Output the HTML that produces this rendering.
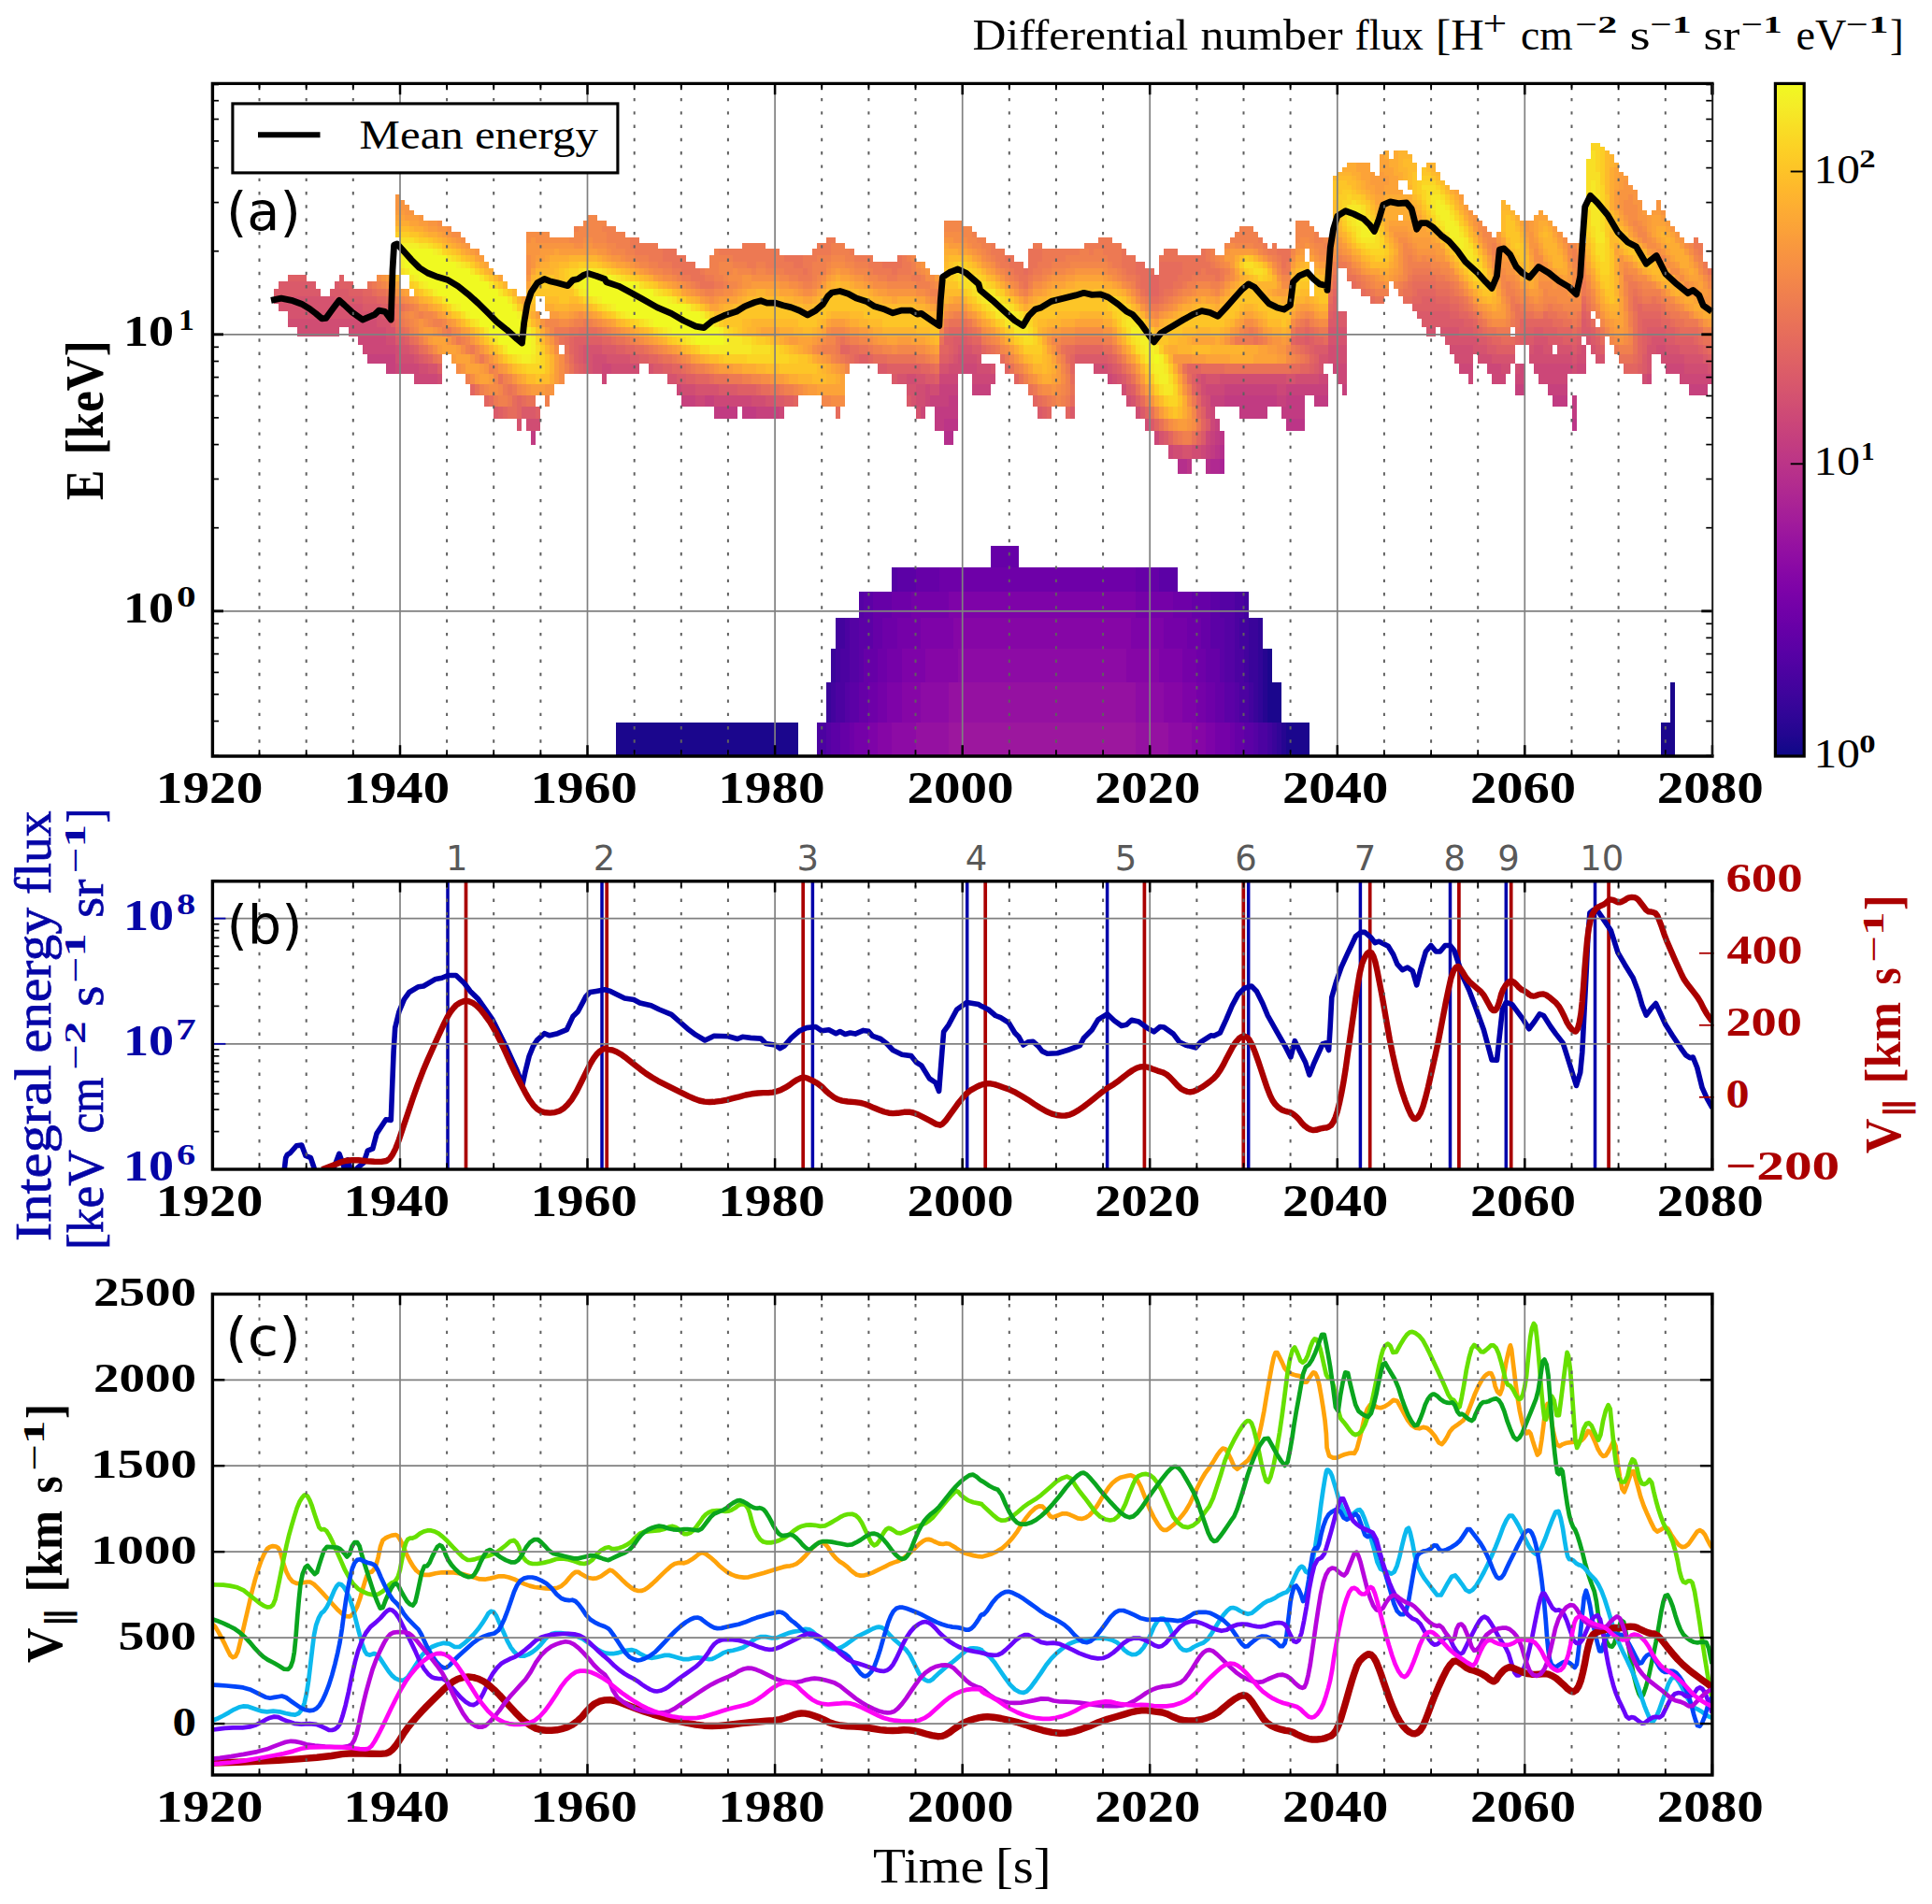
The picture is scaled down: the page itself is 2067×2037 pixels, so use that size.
<!DOCTYPE html>
<html><head><meta charset="utf-8"><title>figure</title><style>html,body{margin:0;padding:0;background:#fff}svg{display:block}</style></head><body>
<svg width="2067" height="2037" viewBox="0 0 2067 2037">
<rect width="2067" height="2037" fill="#fff"/>
<g shape-rendering="crispEdges">
<path fill="#1b068d" d="M658.6 773.2H854.2V809.0H658.6zM1375.6 773.2H1400.7V809.0H1375.6zM1776.7 773.2H1791.8V809.0H1776.7zM1355.6 730.3H1370.6V773.2H1355.6zM1786.8 730.3H1791.8V773.2H1786.8zM1355.6 693.5H1360.6V730.3H1355.6z"/>
<path fill="#260591" d="M1370.6 773.2H1375.6V809.0H1370.6zM1350.6 730.3H1355.6V773.2H1350.6zM1350.6 693.5H1355.6V730.3H1350.6z"/>
<path fill="#310597" d="M1365.6 773.2H1370.6V809.0H1365.6zM1345.5 730.3H1350.6V773.2H1345.5zM1345.5 693.5H1350.6V730.3H1345.5zM1345.5 661.3H1350.6V693.5H1345.5z"/>
<path fill="#3a049a" d="M1360.6 773.2H1365.6V809.0H1360.6zM884.2 730.3H889.3V773.2H884.2zM1340.5 730.3H1345.5V773.2H1340.5zM889.3 693.5H894.3V730.3H889.3zM1335.5 693.5H1345.5V730.3H1335.5zM1335.5 661.3H1345.5V693.5H1335.5z"/>
<path fill="#43039e" d="M1355.6 773.2H1360.6V809.0H1355.6zM889.3 730.3H894.3V773.2H889.3zM1335.5 730.3H1340.5V773.2H1335.5zM894.3 693.5H899.3V730.3H894.3zM1330.5 693.5H1335.5V730.3H1330.5zM894.3 661.3H904.3V693.5H894.3zM1325.5 661.3H1335.5V693.5H1325.5zM1330.5 632.7H1335.5V661.3H1330.5z"/>
<path fill="#4c02a1" d="M874.2 773.2H884.2V809.0H874.2zM1345.5 773.2H1355.6V809.0H1345.5zM894.3 730.3H904.3V773.2H894.3zM1325.5 730.3H1335.5V773.2H1325.5zM899.3 693.5H909.3V730.3H899.3zM1320.5 693.5H1330.5V730.3H1320.5zM904.3 661.3H909.3V693.5H904.3zM1320.5 661.3H1325.5V693.5H1320.5zM1320.5 632.7H1330.5V661.3H1320.5z"/>
<path fill="#5502a4" d="M884.2 773.2H889.3V809.0H884.2zM1340.5 773.2H1345.5V809.0H1340.5zM904.3 730.3H909.3V773.2H904.3zM1320.5 730.3H1325.5V773.2H1320.5zM909.3 693.5H919.3V730.3H909.3zM1310.4 693.5H1320.5V730.3H1310.4zM909.3 661.3H919.3V693.5H909.3zM1310.4 661.3H1320.5V693.5H1310.4zM919.3 632.7H924.4V661.3H919.3zM1305.4 632.7H1320.5V661.3H1305.4zM954.4 607.0H959.5V632.7H954.4z"/>
<path fill="#5c01a6" d="M889.3 773.2H899.3V809.0H889.3zM1330.5 773.2H1340.5V809.0H1330.5zM909.3 730.3H919.3V773.2H909.3zM1310.4 730.3H1320.5V773.2H1310.4zM919.3 693.5H924.4V730.3H919.3zM1305.4 693.5H1310.4V730.3H1305.4zM919.3 661.3H934.4V693.5H919.3zM1295.4 661.3H1310.4V693.5H1295.4zM924.4 632.7H934.4V661.3H924.4zM1295.4 632.7H1305.4V661.3H1295.4zM959.5 607.0H979.5V632.7H959.5zM1240.2 607.0H1260.3V632.7H1240.2z"/>
<path fill="#6600a7" d="M899.3 773.2H909.3V809.0H899.3zM1320.5 773.2H1330.5V809.0H1320.5zM919.3 730.3H929.4V773.2H919.3zM1300.4 730.3H1310.4V773.2H1300.4zM924.4 693.5H939.4V730.3H924.4zM1290.4 693.5H1305.4V730.3H1290.4zM934.4 661.3H944.4V693.5H934.4zM1285.4 661.3H1295.4V693.5H1285.4zM934.4 632.7H954.4V661.3H934.4zM1275.3 632.7H1295.4V661.3H1275.3zM979.5 607.0H1004.6V632.7H979.5zM1215.2 607.0H1240.2V632.7H1215.2zM1059.7 583.6H1089.8V607.0H1059.7z"/>
<path fill="#6e00a8" d="M909.3 773.2H914.3V809.0H909.3zM1315.5 773.2H1320.5V809.0H1315.5zM929.4 730.3H939.4V773.2H929.4zM1290.4 730.3H1300.4V773.2H1290.4zM939.4 693.5H949.4V730.3H939.4zM1280.4 693.5H1290.4V730.3H1280.4zM944.4 661.3H959.5V693.5H944.4zM1270.3 661.3H1285.4V693.5H1270.3zM954.4 632.7H974.5V661.3H954.4zM1255.3 632.7H1275.3V661.3H1255.3zM1004.6 607.0H1215.2V632.7H1004.6z"/>
<path fill="#7501a8" d="M914.3 773.2H929.4V809.0H914.3zM1300.4 773.2H1315.5V809.0H1300.4zM939.4 730.3H949.4V773.2H939.4zM1280.4 730.3H1290.4V773.2H1280.4zM949.4 693.5H964.5V730.3H949.4zM1265.3 693.5H1280.4V730.3H1265.3zM959.5 661.3H984.5V693.5H959.5zM1245.3 661.3H1270.3V693.5H1245.3zM974.5 632.7H1014.6V661.3H974.5zM1215.2 632.7H1255.3V661.3H1215.2z"/>
<path fill="#7e03a8" d="M929.4 773.2H939.4V809.0H929.4zM1290.4 773.2H1300.4V809.0H1290.4zM949.4 730.3H964.5V773.2H949.4zM1265.3 730.3H1280.4V773.2H1265.3zM964.5 693.5H989.5V730.3H964.5zM1240.2 693.5H1265.3V730.3H1240.2zM984.5 661.3H1019.6V693.5H984.5zM1210.2 661.3H1245.3V693.5H1210.2zM1014.6 632.7H1215.2V661.3H1014.6z"/>
<path fill="#8606a6" d="M939.4 773.2H954.4V809.0H939.4zM1275.3 773.2H1290.4V809.0H1275.3zM964.5 730.3H984.5V773.2H964.5zM1245.3 730.3H1265.3V773.2H1245.3zM989.5 693.5H1024.6V730.3H989.5zM1205.1 693.5H1240.2V730.3H1205.1zM1019.6 661.3H1210.2V693.5H1019.6z"/>
<path fill="#8d0ba5" d="M954.4 773.2H979.5V809.0H954.4zM1250.3 773.2H1275.3V809.0H1250.3zM984.5 730.3H1014.6V773.2H984.5zM1215.2 730.3H1245.3V773.2H1215.2zM1024.6 693.5H1205.1V730.3H1024.6z"/>
<path fill="#9511a1" d="M979.5 773.2H1014.6V809.0H979.5zM1215.2 773.2H1250.3V809.0H1215.2zM1014.6 730.3H1215.2V773.2H1014.6z"/>
<path fill="#9c179e" d="M1014.6 773.2H1215.2V809.0H1014.6z"/>
<path fill="#aa2395" d="M1305.4 490.8H1310.4V506.9H1305.4z"/>
<path fill="#b02991" d="M1295.4 490.8H1305.4V506.9H1295.4z"/>
<path fill="#b52f8c" d="M1009.6 461.4H1019.6V475.7H1009.6zM1305.4 475.7H1310.4V490.8H1305.4zM1260.3 490.8H1270.3V506.9H1260.3zM1290.4 490.8H1295.4V506.9H1290.4z"/>
<path fill="#bc3587" d="M1009.6 447.9H1024.6V461.4H1009.6zM1375.6 447.9H1395.7V461.4H1375.6zM1681.5 447.9H1686.5V461.4H1681.5zM1305.4 461.4H1310.4V475.7H1305.4zM1300.4 475.7H1305.4V490.8H1300.4zM1270.3 490.8H1275.3V506.9H1270.3z"/>
<path fill="#c13b82" d="M1014.6 422.8H1024.6V435.0H1014.6zM1310.4 422.8H1365.6V435.0H1310.4zM1375.6 422.8H1395.7V435.0H1375.6zM1405.7 422.8H1420.7V435.0H1405.7zM1661.4 422.8H1676.5V435.0H1661.4zM1681.5 422.8H1686.5V435.0H1681.5zM763.9 435.0H789.0V447.9H763.9zM794.0 435.0H809.0V447.9H794.0zM999.6 435.0H1024.6V447.9H999.6zM1325.5 435.0H1355.6V447.9H1325.5zM1370.6 435.0H1395.7V447.9H1370.6zM1681.5 435.0H1686.5V447.9H1681.5zM999.6 447.9H1009.6V461.4H999.6zM568.4 461.4H573.4V475.7H568.4zM1300.4 461.4H1305.4V475.7H1300.4zM1295.4 475.7H1300.4V490.8H1295.4z"/>
<path fill="#c6417d" d="M392.9 378.9H422.9V389.2H392.9zM412.9 389.2H422.9V399.9H412.9zM1004.6 411.1H1024.6V422.8H1004.6zM1039.7 411.1H1059.7V422.8H1039.7zM1310.4 411.1H1365.6V422.8H1310.4zM1375.6 411.1H1420.7V422.8H1375.6zM1435.8 411.1H1440.8V422.8H1435.8zM1621.3 411.1H1631.3V422.8H1621.3zM1656.4 411.1H1676.5V422.8H1656.4zM1806.8 411.1H1826.9V422.8H1806.8zM728.8 422.8H743.8V435.0H728.8zM753.9 422.8H763.9V435.0H753.9zM994.6 422.8H1014.6V435.0H994.6zM1295.4 422.8H1310.4V435.0H1295.4zM1365.6 422.8H1375.6V435.0H1365.6zM809.0 435.0H834.1V447.9H809.0zM1300.4 447.9H1305.4V461.4H1300.4zM1295.4 461.4H1300.4V475.7H1295.4zM1290.4 475.7H1295.4V490.8H1290.4z"/>
<path fill="#cc4778" d="M382.8 359.5H412.9V369.0H382.8zM387.9 369.0H422.9V378.9H387.9zM422.9 389.2H448.0V399.9H422.9zM643.6 389.2H653.6V399.9H643.6zM1029.7 389.2H1044.7V399.9H1029.7zM1425.8 389.2H1440.8V399.9H1425.8zM1561.1 389.2H1576.2V399.9H1561.1zM1591.2 389.2H1606.3V399.9H1591.2zM1626.3 389.2H1631.3V399.9H1626.3zM1641.4 389.2H1681.5V399.9H1641.4zM1686.5 389.2H1696.5V399.9H1686.5zM1781.8 389.2H1801.8V399.9H1781.8zM443.0 399.9H468.1V411.1H443.0zM643.6 399.9H648.6V411.1H643.6zM1004.6 399.9H1024.6V411.1H1004.6zM1039.7 399.9H1064.7V411.1H1039.7zM1185.1 399.9H1190.1V411.1H1185.1zM1410.7 399.9H1420.7V411.1H1410.7zM1430.8 399.9H1440.8V411.1H1430.8zM1571.2 399.9H1576.2V411.1H1571.2zM1596.2 399.9H1611.3V411.1H1596.2zM1621.3 399.9H1631.3V411.1H1621.3zM1646.4 399.9H1676.5V411.1H1646.4zM1761.7 399.9H1766.7V411.1H1761.7zM1796.8 399.9H1831.9V411.1H1796.8zM723.8 411.1H728.8V422.8H723.8zM989.5 411.1H994.6V422.8H989.5zM1290.4 411.1H1310.4V422.8H1290.4zM1365.6 411.1H1375.6V422.8H1365.6zM743.8 422.8H753.9V435.0H743.8zM763.9 422.8H804.0V435.0H763.9zM989.5 422.8H994.6V435.0H989.5zM834.1 435.0H839.1V447.9H834.1zM984.5 435.0H989.5V447.9H984.5zM1295.4 435.0H1300.4V447.9H1295.4zM1295.4 447.9H1300.4V461.4H1295.4zM1235.2 461.4H1240.2V475.7H1235.2zM1290.4 461.4H1295.4V475.7H1290.4zM1250.3 475.7H1255.3V490.8H1250.3zM1285.4 475.7H1290.4V490.8H1285.4z"/>
<path fill="#d04d73" d="M307.6 341.4H402.9V350.3H307.6zM317.7 350.3H362.8V359.5H317.7zM372.8 350.3H412.9V359.5H372.8zM412.9 359.5H422.9V369.0H412.9zM422.9 369.0H428.0V378.9H422.9zM1420.7 369.0H1440.8V378.9H1420.7zM1551.1 369.0H1576.2V378.9H1551.1zM1641.4 369.0H1651.4V378.9H1641.4zM1691.5 369.0H1696.5V378.9H1691.5zM1771.7 369.0H1781.8V378.9H1771.7zM422.9 378.9H443.0V389.2H422.9zM633.5 378.9H648.6V389.2H633.5zM1024.6 378.9H1044.7V389.2H1024.6zM1420.7 378.9H1440.8V389.2H1420.7zM1556.1 378.9H1576.2V389.2H1556.1zM1581.2 378.9H1596.2V389.2H1581.2zM1636.4 378.9H1681.5V389.2H1636.4zM1686.5 378.9H1696.5V389.2H1686.5zM1776.7 378.9H1801.8V389.2H1776.7zM448.0 389.2H458.0V399.9H448.0zM633.5 389.2H643.6V399.9H633.5zM653.6 389.2H683.7V399.9H653.6zM1014.6 389.2H1029.7V399.9H1014.6zM1044.7 389.2H1059.7V399.9H1044.7zM1170.0 389.2H1185.1V399.9H1170.0zM1606.3 389.2H1616.3V399.9H1606.3zM1621.3 389.2H1626.3V399.9H1621.3zM1681.5 389.2H1686.5V399.9H1681.5zM1801.8 389.2H1826.9V399.9H1801.8zM468.1 399.9H473.1V411.1H468.1zM969.5 399.9H979.5V411.1H969.5zM1190.1 399.9H1195.1V411.1H1190.1zM1285.4 399.9H1290.4V411.1H1285.4zM1305.4 399.9H1375.6V411.1H1305.4zM1385.6 399.9H1410.7V411.1H1385.6zM1756.7 399.9H1761.7V411.1H1756.7zM728.8 411.1H743.8V422.8H728.8zM979.5 411.1H989.5V422.8H979.5zM994.6 411.1H1004.6V422.8H994.6zM1200.1 411.1H1205.1V422.8H1200.1zM1285.4 411.1H1290.4V422.8H1285.4zM804.0 422.8H819.1V435.0H804.0zM979.5 422.8H989.5V435.0H979.5zM1205.1 422.8H1210.2V435.0H1205.1zM1290.4 422.8H1295.4V435.0H1290.4zM1215.2 435.0H1220.2V447.9H1215.2zM1290.4 435.0H1295.4V447.9H1290.4zM563.3 447.9H578.4V461.4H563.3zM1225.2 447.9H1230.2V461.4H1225.2zM1255.3 475.7H1265.3V490.8H1255.3zM1275.3 475.7H1285.4V490.8H1275.3z"/>
<path fill="#d5536f" d="M292.6 316.5H357.8V324.6H292.6zM297.6 324.6H387.9V332.9H297.6zM402.9 341.4H417.9V350.3H402.9zM307.6 332.9H407.9V341.4H307.6zM412.9 350.3H422.9V359.5H412.9zM1420.7 350.3H1440.8V359.5H1420.7zM1526.0 350.3H1536.1V359.5H1526.0zM1541.1 350.3H1561.1V359.5H1541.1zM1420.7 359.5H1440.8V369.0H1420.7zM1546.1 359.5H1581.2V369.0H1546.1zM1641.4 359.5H1656.4V369.0H1641.4zM1696.5 359.5H1701.5V369.0H1696.5zM1766.7 359.5H1781.8V369.0H1766.7zM428.0 369.0H438.0V378.9H428.0zM623.5 369.0H643.6V378.9H623.5zM1024.6 369.0H1039.7V378.9H1024.6zM1576.2 369.0H1591.2V378.9H1576.2zM1636.4 369.0H1641.4V378.9H1636.4zM1651.4 369.0H1661.4V378.9H1651.4zM1666.4 369.0H1681.5V378.9H1666.4zM1686.5 369.0H1691.5V378.9H1686.5zM1701.5 369.0H1706.5V378.9H1701.5zM1761.7 369.0H1771.7V378.9H1761.7zM1781.8 369.0H1796.8V378.9H1781.8zM443.0 378.9H448.0V389.2H443.0zM623.5 378.9H633.5V389.2H623.5zM648.6 378.9H673.7V389.2H648.6zM1019.6 378.9H1024.6V389.2H1019.6zM1044.7 378.9H1049.7V389.2H1044.7zM1410.7 378.9H1420.7V389.2H1410.7zM1596.2 378.9H1621.3V389.2H1596.2zM1681.5 378.9H1686.5V389.2H1681.5zM1706.5 378.9H1716.6V389.2H1706.5zM1761.7 378.9H1766.7V389.2H1761.7zM1801.8 378.9H1821.9V389.2H1801.8zM458.0 389.2H468.1V399.9H458.0zM628.5 389.2H633.5V399.9H628.5zM693.7 389.2H698.7V399.9H693.7zM1004.6 389.2H1014.6V399.9H1004.6zM1059.7 389.2H1064.7V399.9H1059.7zM1185.1 389.2H1190.1V399.9H1185.1zM1410.7 389.2H1415.7V399.9H1410.7zM1761.7 389.2H1766.7V399.9H1761.7zM1826.9 389.2H1831.9V399.9H1826.9zM713.8 399.9H723.8V411.1H713.8zM959.5 399.9H969.5V411.1H959.5zM979.5 399.9H989.5V411.1H979.5zM1195.1 399.9H1200.1V411.1H1195.1zM1280.4 399.9H1285.4V411.1H1280.4zM1290.4 399.9H1305.4V411.1H1290.4zM1375.6 399.9H1385.6V411.1H1375.6zM743.8 411.1H768.9V422.8H743.8zM969.5 411.1H979.5V422.8H969.5zM819.1 422.8H829.1V435.0H819.1zM974.5 422.8H979.5V435.0H974.5zM1210.2 422.8H1215.2V435.0H1210.2zM1285.4 422.8H1290.4V435.0H1285.4zM979.5 435.0H984.5V447.9H979.5zM553.3 447.9H558.3V461.4H553.3zM1240.2 461.4H1245.3V475.7H1240.2zM1265.3 475.7H1275.3V490.8H1265.3z"/>
<path fill="#da5a6a" d="M357.8 316.5H387.9V324.6H357.8zM292.6 308.8H342.7V316.5H292.6zM352.8 308.8H372.8V316.5H352.8zM387.9 324.6H407.9V332.9H387.9zM297.6 301.2H337.7V308.8H297.6zM357.8 301.2H362.8V308.8H357.8zM1420.7 341.4H1440.8V350.3H1420.7zM1521.0 341.4H1566.2V350.3H1521.0zM1691.5 341.4H1696.5V350.3H1691.5zM407.9 332.9H417.9V341.4H407.9zM1425.8 332.9H1440.8V341.4H1425.8zM1516.0 332.9H1551.1V341.4H1516.0zM1561.1 350.3H1576.2V359.5H1561.1zM1641.4 350.3H1651.4V359.5H1641.4zM1691.5 350.3H1701.5V359.5H1691.5zM1761.7 350.3H1781.8V359.5H1761.7zM422.9 359.5H433.0V369.0H422.9zM1019.6 359.5H1034.7V369.0H1019.6zM1395.7 359.5H1400.7V369.0H1395.7zM1581.2 359.5H1591.2V369.0H1581.2zM1631.3 359.5H1641.4V369.0H1631.3zM1656.4 359.5H1671.5V369.0H1656.4zM1686.5 359.5H1691.5V369.0H1686.5zM1701.5 359.5H1706.5V369.0H1701.5zM1761.7 359.5H1766.7V369.0H1761.7zM1781.8 359.5H1791.8V369.0H1781.8zM438.0 369.0H443.0V378.9H438.0zM618.5 369.0H623.5V378.9H618.5zM643.6 369.0H658.6V378.9H643.6zM1019.6 369.0H1024.6V378.9H1019.6zM1039.7 369.0H1049.7V378.9H1039.7zM1405.7 369.0H1420.7V378.9H1405.7zM1591.2 369.0H1601.3V378.9H1591.2zM1681.5 369.0H1686.5V378.9H1681.5zM1706.5 369.0H1711.6V378.9H1706.5zM1796.8 369.0H1816.9V378.9H1796.8zM448.0 378.9H453.0V389.2H448.0zM618.5 378.9H623.5V389.2H618.5zM673.7 378.9H683.7V389.2H673.7zM1014.6 378.9H1019.6V389.2H1014.6zM1150.0 378.9H1185.1V389.2H1150.0zM1756.7 378.9H1761.7V389.2H1756.7zM1821.9 378.9H1826.9V389.2H1821.9zM623.5 389.2H628.5V399.9H623.5zM698.7 389.2H708.8V399.9H698.7zM939.4 389.2H949.4V399.9H939.4zM1190.1 389.2H1195.1V399.9H1190.1zM1405.7 389.2H1410.7V399.9H1405.7zM1756.7 389.2H1761.7V399.9H1756.7zM723.8 399.9H733.8V411.1H723.8zM954.4 399.9H959.5V411.1H954.4zM989.5 399.9H999.6V411.1H989.5zM1200.1 399.9H1205.1V411.1H1200.1zM768.9 411.1H789.0V422.8H768.9zM1205.1 411.1H1210.2V422.8H1205.1zM1280.4 411.1H1285.4V422.8H1280.4zM829.1 422.8H839.1V435.0H829.1zM969.5 422.8H974.5V435.0H969.5zM528.2 435.0H533.3V447.9H528.2zM558.3 435.0H573.4V447.9H558.3zM1109.9 435.0H1114.9V447.9H1109.9zM1145.0 435.0H1150.0V447.9H1145.0zM1220.2 435.0H1225.2V447.9H1220.2zM1230.2 447.9H1235.2V461.4H1230.2zM1290.4 447.9H1295.4V461.4H1290.4zM1245.3 461.4H1250.3V475.7H1245.3zM1285.4 461.4H1290.4V475.7H1285.4z"/>
<path fill="#de5f65" d="M387.9 316.5H402.9V324.6H387.9zM1425.8 316.5H1430.8V324.6H1425.8zM1521.0 316.5H1536.1V324.6H1521.0zM372.8 308.8H387.9V316.5H372.8zM407.9 324.6H417.9V332.9H407.9zM1425.8 324.6H1430.8V332.9H1425.8zM1511.0 324.6H1551.1V332.9H1511.0zM362.8 301.2H377.8V308.8H362.8zM417.9 341.4H422.9V350.3H417.9zM1566.2 341.4H1576.2V350.3H1566.2zM1696.5 341.4H1701.5V350.3H1696.5zM1756.7 341.4H1776.7V350.3H1756.7zM417.9 332.9H422.9V341.4H417.9zM1420.7 332.9H1425.8V341.4H1420.7zM1551.1 332.9H1561.1V341.4H1551.1zM1691.5 332.9H1696.5V341.4H1691.5zM307.6 293.8H327.7V301.2H307.6zM362.8 293.8H367.8V301.2H362.8zM1576.2 350.3H1581.2V359.5H1576.2zM1631.3 350.3H1641.4V359.5H1631.3zM1651.4 350.3H1666.4V359.5H1651.4zM1701.5 350.3H1706.5V359.5H1701.5zM1756.7 350.3H1761.7V359.5H1756.7zM1781.8 350.3H1791.8V359.5H1781.8zM433.0 359.5H438.0V369.0H433.0zM613.5 359.5H643.6V369.0H613.5zM1009.6 359.5H1019.6V369.0H1009.6zM1034.7 359.5H1039.7V369.0H1034.7zM1385.6 359.5H1395.7V369.0H1385.6zM1400.7 359.5H1405.7V369.0H1400.7zM1591.2 359.5H1596.2V369.0H1591.2zM1626.3 359.5H1631.3V369.0H1626.3zM1671.5 359.5H1686.5V369.0H1671.5zM1706.5 359.5H1711.6V369.0H1706.5zM1756.7 359.5H1761.7V369.0H1756.7zM1791.8 359.5H1811.8V369.0H1791.8zM443.0 369.0H448.0V378.9H443.0zM613.5 369.0H618.5V378.9H613.5zM658.6 369.0H668.6V378.9H658.6zM1014.6 369.0H1019.6V378.9H1014.6zM1400.7 369.0H1405.7V378.9H1400.7zM1601.3 369.0H1621.3V378.9H1601.3zM1711.6 369.0H1716.6V378.9H1711.6zM1756.7 369.0H1761.7V378.9H1756.7zM1816.9 369.0H1821.9V378.9H1816.9zM453.0 378.9H458.0V389.2H453.0zM613.5 378.9H618.5V389.2H613.5zM683.7 378.9H693.7V389.2H683.7zM919.3 378.9H929.4V389.2H919.3zM1004.6 378.9H1014.6V389.2H1004.6zM1185.1 378.9H1190.1V389.2H1185.1zM1405.7 378.9H1410.7V389.2H1405.7zM1826.9 378.9H1831.9V389.2H1826.9zM468.1 389.2H473.1V399.9H468.1zM618.5 389.2H623.5V399.9H618.5zM708.8 389.2H718.8V399.9H708.8zM949.4 389.2H984.5V399.9H949.4zM1195.1 389.2H1200.1V399.9H1195.1zM1400.7 389.2H1405.7V399.9H1400.7zM1751.7 389.2H1756.7V399.9H1751.7zM733.8 399.9H743.8V411.1H733.8zM999.6 399.9H1004.6V411.1H999.6zM1275.3 399.9H1280.4V411.1H1275.3zM789.0 411.1H809.0V422.8H789.0zM1210.2 411.1H1215.2V422.8H1210.2zM839.1 422.8H849.1V435.0H839.1zM1215.2 422.8H1220.2V435.0H1215.2zM533.3 435.0H538.3V447.9H533.3zM573.4 435.0H578.4V447.9H573.4zM1114.9 435.0H1119.9V447.9H1114.9zM1285.4 435.0H1290.4V447.9H1285.4z"/>
<path fill="#e26561" d="M402.9 316.5H412.9V324.6H402.9zM1511.0 316.5H1521.0V324.6H1511.0zM1536.1 316.5H1551.1V324.6H1536.1zM387.9 308.8H397.9V316.5H387.9zM1230.2 308.8H1240.2V316.5H1230.2zM1425.8 308.8H1430.8V316.5H1425.8zM1516.0 308.8H1536.1V316.5H1516.0zM417.9 324.6H422.9V332.9H417.9zM1420.7 324.6H1425.8V332.9H1420.7zM1551.1 324.6H1561.1V332.9H1551.1zM1691.5 324.6H1696.5V332.9H1691.5zM1751.7 324.6H1756.7V332.9H1751.7zM1230.2 301.2H1240.2V308.8H1230.2zM1576.2 341.4H1581.2V350.3H1576.2zM1626.3 341.4H1661.4V350.3H1626.3zM1751.7 341.4H1756.7V350.3H1751.7zM1776.7 341.4H1786.8V350.3H1776.7zM1561.1 332.9H1571.2V341.4H1561.1zM1696.5 332.9H1701.5V341.4H1696.5zM1751.7 332.9H1776.7V341.4H1751.7zM1230.2 293.8H1240.2V301.2H1230.2zM422.9 350.3H428.0V359.5H422.9zM1014.6 350.3H1034.7V359.5H1014.6zM1395.7 350.3H1400.7V359.5H1395.7zM1581.2 350.3H1586.2V359.5H1581.2zM1626.3 350.3H1631.3V359.5H1626.3zM1666.4 350.3H1681.5V359.5H1666.4zM1686.5 350.3H1691.5V359.5H1686.5zM1751.7 350.3H1756.7V359.5H1751.7zM1791.8 350.3H1796.8V359.5H1791.8zM608.5 359.5H613.5V369.0H608.5zM643.6 359.5H653.6V369.0H643.6zM1039.7 359.5H1049.7V369.0H1039.7zM1380.6 359.5H1385.6V369.0H1380.6zM1405.7 359.5H1415.7V369.0H1405.7zM1596.2 359.5H1606.3V369.0H1596.2zM1621.3 359.5H1626.3V369.0H1621.3zM1751.7 359.5H1756.7V369.0H1751.7zM1811.8 359.5H1816.9V369.0H1811.8zM608.5 369.0H613.5V378.9H608.5zM668.6 369.0H678.7V378.9H668.6zM899.3 369.0H909.3V378.9H899.3zM1004.6 369.0H1014.6V378.9H1004.6zM1049.7 369.0H1054.7V378.9H1049.7zM1150.0 369.0H1180.1V378.9H1150.0zM1395.7 369.0H1400.7V378.9H1395.7zM1751.7 369.0H1756.7V378.9H1751.7zM1821.9 369.0H1826.9V378.9H1821.9zM458.0 378.9H463.1V389.2H458.0zM693.7 378.9H703.7V389.2H693.7zM914.3 378.9H919.3V389.2H914.3zM929.4 378.9H934.4V389.2H929.4zM1145.0 378.9H1150.0V389.2H1145.0zM1190.1 378.9H1195.1V389.2H1190.1zM1400.7 378.9H1405.7V389.2H1400.7zM1751.7 378.9H1756.7V389.2H1751.7zM613.5 389.2H618.5V399.9H613.5zM718.8 389.2H728.8V399.9H718.8zM984.5 389.2H994.6V399.9H984.5zM1074.8 389.2H1079.8V399.9H1074.8zM1145.0 389.2H1150.0V399.9H1145.0zM1270.3 389.2H1285.4V399.9H1270.3zM1390.7 389.2H1400.7V399.9H1390.7zM1736.6 389.2H1751.7V399.9H1736.6zM743.8 399.9H758.9V411.1H743.8zM1084.8 399.9H1089.8V411.1H1084.8zM1205.1 399.9H1210.2V411.1H1205.1zM503.2 411.1H508.2V422.8H503.2zM809.0 411.1H814.0V422.8H809.0zM1275.3 411.1H1280.4V422.8H1275.3zM518.2 422.8H523.2V435.0H518.2zM553.3 422.8H558.3V435.0H553.3zM849.1 422.8H854.2V435.0H849.1zM1104.9 422.8H1109.9V435.0H1104.9zM1280.4 422.8H1285.4V435.0H1280.4zM538.3 435.0H543.3V447.9H538.3zM553.3 435.0H558.3V447.9H553.3zM1119.9 435.0H1124.9V447.9H1119.9zM1140.0 435.0H1145.0V447.9H1140.0zM1225.2 435.0H1230.2V447.9H1225.2zM1235.2 447.9H1240.2V461.4H1235.2zM1285.4 447.9H1290.4V461.4H1285.4zM1250.3 461.4H1255.3V475.7H1250.3zM1280.4 461.4H1285.4V475.7H1280.4z"/>
<path fill="#e66c5c" d="M412.9 316.5H417.9V324.6H412.9zM1230.2 316.5H1240.2V324.6H1230.2zM1420.7 316.5H1425.8V324.6H1420.7zM1465.9 316.5H1470.9V324.6H1465.9zM1501.0 316.5H1511.0V324.6H1501.0zM1551.1 316.5H1561.1V324.6H1551.1zM1691.5 316.5H1696.5V324.6H1691.5zM1746.7 316.5H1751.7V324.6H1746.7zM397.9 308.8H402.9V316.5H397.9zM1225.2 308.8H1230.2V316.5H1225.2zM1240.2 308.8H1245.3V316.5H1240.2zM1455.8 308.8H1460.9V316.5H1455.8zM1511.0 308.8H1516.0V316.5H1511.0zM1536.1 308.8H1551.1V316.5H1536.1zM1561.1 324.6H1566.2V332.9H1561.1zM1746.7 324.6H1751.7V332.9H1746.7zM1756.7 324.6H1776.7V332.9H1756.7zM1220.2 301.2H1230.2V308.8H1220.2zM1240.2 301.2H1255.3V308.8H1240.2zM1425.8 301.2H1430.8V308.8H1425.8zM1445.8 301.2H1450.8V308.8H1445.8zM1511.0 301.2H1536.1V308.8H1511.0zM422.9 341.4H428.0V350.3H422.9zM1661.4 341.4H1671.5V350.3H1661.4zM1701.5 341.4H1706.5V350.3H1701.5zM1786.8 341.4H1791.8V350.3H1786.8zM1571.2 332.9H1576.2V341.4H1571.2zM1651.4 332.9H1656.4V341.4H1651.4zM1776.7 332.9H1781.8V341.4H1776.7zM1220.2 293.8H1230.2V301.2H1220.2zM1240.2 293.8H1260.3V301.2H1240.2zM428.0 350.3H433.0V359.5H428.0zM618.5 350.3H638.6V359.5H618.5zM1009.6 350.3H1014.6V359.5H1009.6zM1034.7 350.3H1039.7V359.5H1034.7zM1385.6 350.3H1395.7V359.5H1385.6zM1400.7 350.3H1405.7V359.5H1400.7zM1586.2 350.3H1591.2V359.5H1586.2zM1621.3 350.3H1626.3V359.5H1621.3zM1681.5 350.3H1686.5V359.5H1681.5zM1706.5 350.3H1711.6V359.5H1706.5zM1796.8 350.3H1816.9V359.5H1796.8zM438.0 359.5H443.0V369.0H438.0zM603.5 359.5H608.5V369.0H603.5zM653.6 359.5H658.6V369.0H653.6zM1415.7 359.5H1420.7V369.0H1415.7zM1606.3 359.5H1621.3V369.0H1606.3zM1711.6 359.5H1716.6V369.0H1711.6zM1816.9 359.5H1821.9V369.0H1816.9zM448.0 369.0H453.0V378.9H448.0zM678.7 369.0H688.7V378.9H678.7zM909.3 369.0H919.3V378.9H909.3zM1054.7 369.0H1059.7V378.9H1054.7zM1140.0 369.0H1150.0V378.9H1140.0zM1180.1 369.0H1190.1V378.9H1180.1zM1390.7 369.0H1395.7V378.9H1390.7zM1826.9 369.0H1831.9V378.9H1826.9zM608.5 378.9H613.5V389.2H608.5zM703.7 378.9H708.8V389.2H703.7zM909.3 378.9H914.3V389.2H909.3zM934.4 378.9H949.4V389.2H934.4zM1069.8 378.9H1074.8V389.2H1069.8zM1140.0 378.9H1145.0V389.2H1140.0zM1746.7 378.9H1751.7V389.2H1746.7zM728.8 389.2H733.8V399.9H728.8zM994.6 389.2H999.6V399.9H994.6zM1200.1 389.2H1205.1V399.9H1200.1zM1285.4 389.2H1310.4V399.9H1285.4zM1380.6 389.2H1390.7V399.9H1380.6zM1094.8 286.7H1099.8V293.8H1094.8zM1215.2 286.7H1235.2V293.8H1215.2zM1240.2 286.7H1265.3V293.8H1240.2zM1215.2 279.8H1225.2V286.7H1215.2zM1240.2 279.8H1265.3V286.7H1240.2zM758.9 399.9H763.9V411.1H758.9zM1145.0 399.9H1150.0V411.1H1145.0zM1270.3 399.9H1275.3V411.1H1270.3zM814.0 411.1H824.1V422.8H814.0zM523.2 422.8H528.2V435.0H523.2zM548.3 422.8H553.3V435.0H548.3zM558.3 422.8H563.3V435.0H558.3zM1109.9 422.8H1114.9V435.0H1109.9zM1145.0 422.8H1150.0V435.0H1145.0zM1220.2 422.8H1225.2V435.0H1220.2zM543.3 435.0H553.3V447.9H543.3zM894.3 435.0H899.3V447.9H894.3zM1280.4 435.0H1285.4V447.9H1280.4z"/>
<path fill="#e97257" d="M417.9 316.5H422.9V324.6H417.9zM1240.2 316.5H1245.3V324.6H1240.2zM1470.9 316.5H1480.9V324.6H1470.9zM1561.1 316.5H1566.2V324.6H1561.1zM1751.7 316.5H1756.7V324.6H1751.7zM1766.7 316.5H1771.7V324.6H1766.7zM402.9 308.8H412.9V316.5H402.9zM1220.2 308.8H1225.2V316.5H1220.2zM1245.3 308.8H1255.3V316.5H1245.3zM1420.7 308.8H1425.8V316.5H1420.7zM1460.9 308.8H1465.9V316.5H1460.9zM1501.0 308.8H1511.0V316.5H1501.0zM1551.1 308.8H1556.1V316.5H1551.1zM1746.7 308.8H1751.7V316.5H1746.7zM422.9 324.6H433.0V332.9H422.9zM1566.2 324.6H1571.2V332.9H1566.2zM1621.3 324.6H1626.3V332.9H1621.3zM1696.5 324.6H1701.5V332.9H1696.5zM1776.7 324.6H1781.8V332.9H1776.7zM392.9 301.2H397.9V308.8H392.9zM748.9 301.2H763.9V308.8H748.9zM1094.8 301.2H1099.8V308.8H1094.8zM1215.2 301.2H1220.2V308.8H1215.2zM1255.3 301.2H1265.3V308.8H1255.3zM1450.8 301.2H1455.8V308.8H1450.8zM1506.0 301.2H1511.0V308.8H1506.0zM1536.1 301.2H1551.1V308.8H1536.1zM1014.6 341.4H1034.7V350.3H1014.6zM1395.7 341.4H1400.7V350.3H1395.7zM1581.2 341.4H1586.2V350.3H1581.2zM1621.3 341.4H1626.3V350.3H1621.3zM1671.5 341.4H1681.5V350.3H1671.5zM1686.5 341.4H1691.5V350.3H1686.5zM1746.7 341.4H1751.7V350.3H1746.7zM1791.8 341.4H1801.8V350.3H1791.8zM422.9 332.9H428.0V341.4H422.9zM1576.2 332.9H1581.2V341.4H1576.2zM1621.3 332.9H1641.4V341.4H1621.3zM1656.4 332.9H1666.4V341.4H1656.4zM1746.7 332.9H1751.7V341.4H1746.7zM1781.8 332.9H1786.8V341.4H1781.8zM738.8 293.8H753.9V301.2H738.8zM1089.8 293.8H1099.8V301.2H1089.8zM1215.2 293.8H1220.2V301.2H1215.2zM1260.3 293.8H1275.3V301.2H1260.3zM1300.4 293.8H1305.4V301.2H1300.4zM1425.8 293.8H1430.8V301.2H1425.8zM1440.8 293.8H1450.8V301.2H1440.8zM1511.0 293.8H1536.1V301.2H1511.0zM433.0 350.3H438.0V359.5H433.0zM608.5 350.3H618.5V359.5H608.5zM638.6 350.3H643.6V359.5H638.6zM1039.7 350.3H1044.7V359.5H1039.7zM1405.7 350.3H1410.7V359.5H1405.7zM1591.2 350.3H1601.3V359.5H1591.2zM1746.7 350.3H1751.7V359.5H1746.7zM1816.9 350.3H1821.9V359.5H1816.9zM443.0 359.5H448.0V369.0H443.0zM598.4 359.5H603.5V369.0H598.4zM658.6 359.5H668.6V369.0H658.6zM899.3 359.5H904.3V369.0H899.3zM1004.6 359.5H1009.6V369.0H1004.6zM1340.5 359.5H1345.5V369.0H1340.5zM1746.7 359.5H1751.7V369.0H1746.7zM1821.9 359.5H1831.9V369.0H1821.9zM453.0 369.0H458.0V378.9H453.0zM603.5 369.0H608.5V378.9H603.5zM688.7 369.0H693.7V378.9H688.7zM919.3 369.0H929.4V378.9H919.3zM1059.7 369.0H1064.7V378.9H1059.7zM1134.9 369.0H1140.0V378.9H1134.9zM1385.6 369.0H1390.7V378.9H1385.6zM1746.7 369.0H1751.7V378.9H1746.7zM463.1 378.9H468.1V389.2H463.1zM708.8 378.9H718.8V389.2H708.8zM904.3 378.9H909.3V389.2H904.3zM949.4 378.9H979.5V389.2H949.4zM1195.1 378.9H1200.1V389.2H1195.1zM1395.7 378.9H1400.7V389.2H1395.7zM1731.6 378.9H1746.7V389.2H1731.6zM608.5 389.2H613.5V399.9H608.5zM733.8 389.2H738.8V399.9H733.8zM999.6 389.2H1004.6V399.9H999.6zM1079.8 389.2H1084.8V399.9H1079.8zM1265.3 389.2H1270.3V399.9H1265.3zM1310.4 389.2H1380.6V399.9H1310.4zM728.8 286.7H748.9V293.8H728.8zM859.2 286.7H864.2V293.8H859.2zM954.4 286.7H959.5V293.8H954.4zM1084.8 286.7H1094.8V293.8H1084.8zM1099.8 286.7H1104.9V293.8H1099.8zM1205.1 286.7H1215.2V293.8H1205.1zM1265.3 286.7H1285.4V293.8H1265.3zM1290.4 286.7H1305.4V293.8H1290.4zM1826.9 286.7H1831.9V293.8H1826.9zM718.8 279.8H743.8V286.7H718.8zM849.1 279.8H859.2V286.7H849.1zM944.4 279.8H964.5V286.7H944.4zM1079.8 279.8H1094.8V286.7H1079.8zM1099.8 279.8H1109.9V286.7H1099.8zM1200.1 279.8H1215.2V286.7H1200.1zM1265.3 279.8H1295.4V286.7H1265.3zM1370.6 279.8H1375.6V286.7H1370.6zM708.8 273.0H733.8V279.8H708.8zM839.1 273.0H859.2V279.8H839.1zM959.5 273.0H964.5V279.8H959.5zM1074.8 273.0H1084.8V279.8H1074.8zM1099.8 273.0H1114.9V279.8H1099.8zM1200.1 273.0H1215.2V279.8H1200.1zM1240.2 273.0H1290.4V279.8H1240.2zM1370.6 273.0H1380.6V279.8H1370.6zM708.8 266.4H723.8V273.0H708.8zM1099.8 266.4H1114.9V273.0H1099.8zM1200.1 266.4H1205.1V273.0H1200.1zM1245.3 266.4H1260.3V273.0H1245.3zM1285.4 266.4H1290.4V273.0H1285.4zM1365.6 266.4H1380.6V273.0H1365.6zM533.3 399.9H538.3V411.1H533.3zM763.9 399.9H778.9V411.1H763.9zM1089.8 399.9H1094.8V411.1H1089.8zM1210.2 399.9H1215.2V411.1H1210.2zM508.2 411.1H513.2V422.8H508.2zM543.3 411.1H548.3V422.8H543.3zM824.1 411.1H834.1V422.8H824.1zM1099.8 411.1H1104.9V422.8H1099.8zM1145.0 411.1H1150.0V422.8H1145.0zM1215.2 411.1H1220.2V422.8H1215.2zM563.3 422.8H573.4V435.0H563.3zM1114.9 422.8H1119.9V435.0H1114.9zM1230.2 435.0H1235.2V447.9H1230.2zM1240.2 447.9H1245.3V461.4H1240.2zM1255.3 461.4H1260.3V475.7H1255.3zM1275.3 461.4H1280.4V475.7H1275.3z"/>
<path fill="#ed7953" d="M1225.2 316.5H1230.2V324.6H1225.2zM1245.3 316.5H1250.3V324.6H1245.3zM1566.2 316.5H1571.2V324.6H1566.2zM1616.3 316.5H1621.3V324.6H1616.3zM1696.5 316.5H1701.5V324.6H1696.5zM1741.6 316.5H1746.7V324.6H1741.6zM1756.7 316.5H1766.7V324.6H1756.7zM1771.7 316.5H1776.7V324.6H1771.7zM412.9 308.8H417.9V316.5H412.9zM1255.3 308.8H1260.3V316.5H1255.3zM1465.9 308.8H1470.9V316.5H1465.9zM1496.0 308.8H1501.0V316.5H1496.0zM1556.1 308.8H1561.1V316.5H1556.1zM1691.5 308.8H1696.5V316.5H1691.5zM1741.6 308.8H1746.7V316.5H1741.6zM1751.7 308.8H1756.7V316.5H1751.7zM433.0 324.6H438.0V332.9H433.0zM1230.2 324.6H1240.2V332.9H1230.2zM1571.2 324.6H1576.2V332.9H1571.2zM1616.3 324.6H1621.3V332.9H1616.3zM1626.3 324.6H1631.3V332.9H1626.3zM1656.4 324.6H1661.4V332.9H1656.4zM1741.6 324.6H1746.7V332.9H1741.6zM397.9 301.2H402.9V308.8H397.9zM743.8 301.2H748.9V308.8H743.8zM763.9 301.2H773.9V308.8H763.9zM1089.8 301.2H1094.8V308.8H1089.8zM1265.3 301.2H1270.3V308.8H1265.3zM1455.8 301.2H1460.9V308.8H1455.8zM1501.0 301.2H1506.0V308.8H1501.0zM1551.1 301.2H1556.1V308.8H1551.1zM1691.5 301.2H1696.5V308.8H1691.5zM1741.6 301.2H1751.7V308.8H1741.6zM428.0 341.4H433.0V350.3H428.0zM623.5 341.4H628.5V350.3H623.5zM1009.6 341.4H1014.6V350.3H1009.6zM1034.7 341.4H1039.7V350.3H1034.7zM1390.7 341.4H1395.7V350.3H1390.7zM1586.2 341.4H1591.2V350.3H1586.2zM1616.3 341.4H1621.3V350.3H1616.3zM1681.5 341.4H1686.5V350.3H1681.5zM1801.8 341.4H1816.9V350.3H1801.8zM1641.4 332.9H1651.4V341.4H1641.4zM1666.4 332.9H1676.5V341.4H1666.4zM1686.5 332.9H1691.5V341.4H1686.5zM1786.8 332.9H1796.8V341.4H1786.8zM728.8 293.8H738.8V301.2H728.8zM753.9 293.8H763.9V301.2H753.9zM854.2 293.8H869.2V301.2H854.2zM949.4 293.8H959.5V301.2H949.4zM974.5 293.8H984.5V301.2H974.5zM1084.8 293.8H1089.8V301.2H1084.8zM1099.8 293.8H1104.9V301.2H1099.8zM1205.1 293.8H1215.2V301.2H1205.1zM1275.3 293.8H1300.4V301.2H1275.3zM1305.4 293.8H1310.4V301.2H1305.4zM1450.8 293.8H1455.8V301.2H1450.8zM1506.0 293.8H1511.0V301.2H1506.0zM1536.1 293.8H1546.1V301.2H1536.1zM478.1 350.3H483.1V359.5H478.1zM593.4 350.3H608.5V359.5H593.4zM643.6 350.3H648.6V359.5H643.6zM1044.7 350.3H1049.7V359.5H1044.7zM1335.5 350.3H1340.5V359.5H1335.5zM1380.6 350.3H1385.6V359.5H1380.6zM1410.7 350.3H1420.7V359.5H1410.7zM1601.3 350.3H1616.3V359.5H1601.3zM1711.6 350.3H1716.6V359.5H1711.6zM488.1 359.5H493.1V369.0H488.1zM668.6 359.5H673.7V369.0H668.6zM894.3 359.5H899.3V369.0H894.3zM904.3 359.5H909.3V369.0H904.3zM1049.7 359.5H1054.7V369.0H1049.7zM1150.0 359.5H1180.1V369.0H1150.0zM1320.5 359.5H1340.5V369.0H1320.5zM1345.5 359.5H1350.6V369.0H1345.5zM503.2 369.0H508.2V378.9H503.2zM693.7 369.0H698.7V378.9H693.7zM894.3 369.0H899.3V378.9H894.3zM929.4 369.0H934.4V378.9H929.4zM1064.7 369.0H1069.8V378.9H1064.7zM1190.1 369.0H1195.1V378.9H1190.1zM1380.6 369.0H1385.6V378.9H1380.6zM1726.6 369.0H1731.6V378.9H1726.6zM468.1 378.9H473.1V389.2H468.1zM513.2 378.9H518.2V389.2H513.2zM603.5 378.9H608.5V389.2H603.5zM718.8 378.9H723.8V389.2H718.8zM899.3 378.9H904.3V389.2H899.3zM979.5 378.9H989.5V389.2H979.5zM1074.8 378.9H1079.8V389.2H1074.8zM1390.7 378.9H1395.7V389.2H1390.7zM738.8 389.2H743.8V399.9H738.8zM1140.0 389.2H1145.0V399.9H1140.0zM1205.1 389.2H1210.2V399.9H1205.1zM718.8 286.7H728.8V293.8H718.8zM748.9 286.7H753.9V293.8H748.9zM839.1 286.7H859.2V293.8H839.1zM864.2 286.7H869.2V293.8H864.2zM934.4 286.7H954.4V293.8H934.4zM959.5 286.7H974.5V293.8H959.5zM1079.8 286.7H1084.8V293.8H1079.8zM1104.9 286.7H1114.9V293.8H1104.9zM1200.1 286.7H1205.1V293.8H1200.1zM1285.4 286.7H1290.4V293.8H1285.4zM1305.4 286.7H1310.4V293.8H1305.4zM1370.6 286.7H1380.6V293.8H1370.6zM1425.8 286.7H1430.8V293.8H1425.8zM1440.8 286.7H1445.8V293.8H1440.8zM1511.0 286.7H1531.1V293.8H1511.0zM703.7 279.8H718.8V286.7H703.7zM799.0 279.8H809.0V286.7H799.0zM819.1 279.8H849.1V286.7H819.1zM859.2 279.8H869.2V286.7H859.2zM929.4 279.8H944.4V286.7H929.4zM964.5 279.8H974.5V286.7H964.5zM1069.8 279.8H1079.8V286.7H1069.8zM1109.9 279.8H1124.9V286.7H1109.9zM1190.1 279.8H1200.1V286.7H1190.1zM1295.4 279.8H1300.4V286.7H1295.4zM1375.6 279.8H1380.6V286.7H1375.6zM1430.8 279.8H1440.8V286.7H1430.8zM1821.9 279.8H1826.9V286.7H1821.9zM693.7 273.0H708.8V279.8H693.7zM784.0 273.0H839.1V279.8H784.0zM859.2 273.0H874.2V279.8H859.2zM914.3 273.0H934.4V279.8H914.3zM964.5 273.0H969.5V279.8H964.5zM1064.7 273.0H1074.8V279.8H1064.7zM1114.9 273.0H1140.0V279.8H1114.9zM1185.1 273.0H1200.1V279.8H1185.1zM1290.4 273.0H1295.4V279.8H1290.4zM1365.6 273.0H1370.6V279.8H1365.6zM678.7 266.4H708.8V273.0H678.7zM768.9 266.4H834.1V273.0H768.9zM869.2 266.4H889.3V273.0H869.2zM909.3 266.4H914.3V273.0H909.3zM1059.7 266.4H1074.8V273.0H1059.7zM1114.9 266.4H1155.0V273.0H1114.9zM1165.0 266.4H1170.0V273.0H1165.0zM1180.1 266.4H1200.1V273.0H1180.1zM1290.4 266.4H1295.4V273.0H1290.4zM1355.6 266.4H1365.6V273.0H1355.6zM1816.9 266.4H1821.9V273.0H1816.9zM673.7 260.0H703.7V266.4H673.7zM794.0 260.0H819.1V266.4H794.0zM874.2 260.0H889.3V266.4H874.2zM1059.7 260.0H1064.7V266.4H1059.7zM1104.9 260.0H1114.9V266.4H1104.9zM1160.0 260.0H1200.1V266.4H1160.0zM1350.6 260.0H1355.6V266.4H1350.6zM1360.6 260.0H1365.6V266.4H1360.6zM1811.8 260.0H1821.9V266.4H1811.8zM673.7 253.7H683.7V260.0H673.7zM884.2 253.7H894.3V260.0H884.2zM1175.1 253.7H1190.1V260.0H1175.1zM1345.5 253.7H1350.6V260.0H1345.5zM1811.8 253.7H1816.9V260.0H1811.8zM778.9 399.9H794.0V411.1H778.9zM538.3 411.1H543.3V422.8H538.3zM548.3 411.1H553.3V422.8H548.3zM834.1 411.1H839.1V422.8H834.1zM1104.9 411.1H1109.9V422.8H1104.9zM528.2 422.8H533.3V435.0H528.2zM543.3 422.8H548.3V435.0H543.3zM1119.9 422.8H1124.9V435.0H1119.9zM1140.0 422.8H1145.0V435.0H1140.0zM1275.3 422.8H1280.4V435.0H1275.3zM1280.4 447.9H1285.4V461.4H1280.4zM1260.3 461.4H1265.3V475.7H1260.3z"/>
<path fill="#f0804e" d="M422.9 316.5H428.0V324.6H422.9zM1220.2 316.5H1225.2V324.6H1220.2zM1250.3 316.5H1255.3V324.6H1250.3zM1621.3 316.5H1626.3V324.6H1621.3zM1776.7 316.5H1781.8V324.6H1776.7zM417.9 308.8H422.9V316.5H417.9zM753.9 308.8H763.9V316.5H753.9zM994.6 308.8H1004.6V316.5H994.6zM1094.8 308.8H1099.8V316.5H1094.8zM1215.2 308.8H1220.2V316.5H1215.2zM1260.3 308.8H1265.3V316.5H1260.3zM1470.9 308.8H1485.9V316.5H1470.9zM1561.1 308.8H1566.2V316.5H1561.1zM1611.3 308.8H1621.3V316.5H1611.3zM1696.5 308.8H1701.5V316.5H1696.5zM1756.7 308.8H1776.7V316.5H1756.7zM438.0 324.6H443.0V332.9H438.0zM1240.2 324.6H1245.3V332.9H1240.2zM1631.3 324.6H1641.4V332.9H1631.3zM1651.4 324.6H1656.4V332.9H1651.4zM1661.4 324.6H1671.5V332.9H1661.4zM1701.5 324.6H1706.5V332.9H1701.5zM1781.8 324.6H1791.8V332.9H1781.8zM402.9 301.2H407.9V308.8H402.9zM738.8 301.2H743.8V308.8H738.8zM773.9 301.2H778.9V308.8H773.9zM859.2 301.2H869.2V308.8H859.2zM979.5 301.2H994.6V308.8H979.5zM1099.8 301.2H1104.9V308.8H1099.8zM1210.2 301.2H1215.2V308.8H1210.2zM1270.3 301.2H1280.4V308.8H1270.3zM1295.4 301.2H1305.4V308.8H1295.4zM1420.7 301.2H1425.8V308.8H1420.7zM1460.9 301.2H1465.9V308.8H1460.9zM1496.0 301.2H1501.0V308.8H1496.0zM1556.1 301.2H1561.1V308.8H1556.1zM1611.3 301.2H1616.3V308.8H1611.3zM1751.7 301.2H1756.7V308.8H1751.7zM433.0 341.4H438.0V350.3H433.0zM463.1 341.4H473.1V350.3H463.1zM613.5 341.4H623.5V350.3H613.5zM628.5 341.4H633.5V350.3H628.5zM1385.6 341.4H1390.7V350.3H1385.6zM1400.7 341.4H1405.7V350.3H1400.7zM1741.6 341.4H1746.7V350.3H1741.6zM428.0 332.9H433.0V341.4H428.0zM448.0 332.9H453.0V341.4H448.0zM1019.6 332.9H1029.7V341.4H1019.6zM1581.2 332.9H1586.2V341.4H1581.2zM1616.3 332.9H1621.3V341.4H1616.3zM1676.5 332.9H1686.5V341.4H1676.5zM1706.5 332.9H1711.6V341.4H1706.5zM1741.6 332.9H1746.7V341.4H1741.6zM1796.8 332.9H1806.8V341.4H1796.8zM723.8 293.8H728.8V301.2H723.8zM763.9 293.8H773.9V301.2H763.9zM844.1 293.8H854.2V301.2H844.1zM869.2 293.8H874.2V301.2H869.2zM939.4 293.8H949.4V301.2H939.4zM959.5 293.8H974.5V301.2H959.5zM984.5 293.8H989.5V301.2H984.5zM1079.8 293.8H1084.8V301.2H1079.8zM1104.9 293.8H1114.9V301.2H1104.9zM1200.1 293.8H1205.1V301.2H1200.1zM1455.8 293.8H1460.9V301.2H1455.8zM1546.1 293.8H1551.1V301.2H1546.1zM1691.5 293.8H1696.5V301.2H1691.5zM1736.6 293.8H1746.7V301.2H1736.6zM1826.9 293.8H1831.9V301.2H1826.9zM438.0 350.3H443.0V359.5H438.0zM473.1 350.3H478.1V359.5H473.1zM648.6 350.3H653.6V359.5H648.6zM1330.5 350.3H1335.5V359.5H1330.5zM1340.5 350.3H1345.5V359.5H1340.5zM1821.9 350.3H1831.9V359.5H1821.9zM448.0 359.5H453.0V369.0H448.0zM493.1 359.5H498.2V369.0H493.1zM593.4 359.5H598.4V369.0H593.4zM673.7 359.5H678.7V369.0H673.7zM909.3 359.5H919.3V369.0H909.3zM1054.7 359.5H1059.7V369.0H1054.7zM1134.9 359.5H1150.0V369.0H1134.9zM1180.1 359.5H1190.1V369.0H1180.1zM1350.6 359.5H1355.6V369.0H1350.6zM458.0 369.0H463.1V378.9H458.0zM498.2 369.0H503.2V378.9H498.2zM698.7 369.0H703.7V378.9H698.7zM879.2 369.0H894.3V378.9H879.2zM934.4 369.0H944.4V378.9H934.4zM1129.9 369.0H1134.9V378.9H1129.9zM1731.6 369.0H1746.7V378.9H1731.6zM723.8 378.9H728.8V389.2H723.8zM894.3 378.9H899.3V389.2H894.3zM989.5 378.9H994.6V389.2H989.5zM1134.9 378.9H1140.0V389.2H1134.9zM1200.1 378.9H1205.1V389.2H1200.1zM1385.6 378.9H1390.7V389.2H1385.6zM523.2 389.2H528.2V399.9H523.2zM603.5 389.2H608.5V399.9H603.5zM743.8 389.2H753.9V399.9H743.8zM1084.8 389.2H1089.8V399.9H1084.8zM648.6 247.6H668.6V253.7H648.6zM1039.7 247.6H1044.7V253.7H1039.7zM1320.5 247.6H1345.5V253.7H1320.5zM1405.7 247.6H1410.7V253.7H1405.7zM613.5 241.6H618.5V247.6H613.5zM643.6 241.6H658.6V247.6H643.6zM1325.5 241.6H1340.5V247.6H1325.5zM708.8 286.7H718.8V293.8H708.8zM753.9 286.7H768.9V293.8H753.9zM804.0 286.7H809.0V293.8H804.0zM819.1 286.7H839.1V293.8H819.1zM869.2 286.7H884.2V293.8H869.2zM929.4 286.7H934.4V293.8H929.4zM974.5 286.7H979.5V293.8H974.5zM1074.8 286.7H1079.8V293.8H1074.8zM1114.9 286.7H1124.9V293.8H1114.9zM1195.1 286.7H1200.1V293.8H1195.1zM1310.4 286.7H1315.5V293.8H1310.4zM1445.8 286.7H1450.8V293.8H1445.8zM1506.0 286.7H1511.0V293.8H1506.0zM1531.1 286.7H1541.1V293.8H1531.1zM1686.5 286.7H1691.5V293.8H1686.5zM1821.9 286.7H1826.9V293.8H1821.9zM693.7 279.8H703.7V286.7H693.7zM758.9 279.8H768.9V286.7H758.9zM784.0 279.8H799.0V286.7H784.0zM809.0 279.8H819.1V286.7H809.0zM869.2 279.8H884.2V286.7H869.2zM914.3 279.8H929.4V286.7H914.3zM974.5 279.8H979.5V286.7H974.5zM1064.7 279.8H1069.8V286.7H1064.7zM1124.9 279.8H1145.0V286.7H1124.9zM1185.1 279.8H1190.1V286.7H1185.1zM1300.4 279.8H1305.4V286.7H1300.4zM1365.6 279.8H1370.6V286.7H1365.6zM1425.8 279.8H1430.8V286.7H1425.8zM1440.8 279.8H1445.8V286.7H1440.8zM1506.0 279.8H1531.1V286.7H1506.0zM1686.5 279.8H1691.5V286.7H1686.5zM678.7 273.0H693.7V279.8H678.7zM758.9 273.0H784.0V279.8H758.9zM874.2 273.0H889.3V279.8H874.2zM904.3 273.0H914.3V279.8H904.3zM969.5 273.0H974.5V279.8H969.5zM1059.7 273.0H1064.7V279.8H1059.7zM1140.0 273.0H1185.1V279.8H1140.0zM1295.4 273.0H1300.4V279.8H1295.4zM1360.6 273.0H1365.6V279.8H1360.6zM1430.8 273.0H1435.8V279.8H1430.8zM1506.0 273.0H1511.0V279.8H1506.0zM1681.5 273.0H1686.5V279.8H1681.5zM1816.9 273.0H1821.9V279.8H1816.9zM668.6 266.4H678.7V273.0H668.6zM763.9 266.4H768.9V273.0H763.9zM889.3 266.4H909.3V273.0H889.3zM1054.7 266.4H1059.7V273.0H1054.7zM1155.0 266.4H1165.0V273.0H1155.0zM1170.0 266.4H1180.1V273.0H1170.0zM1295.4 266.4H1300.4V273.0H1295.4zM1350.6 266.4H1355.6V273.0H1350.6zM1596.2 266.4H1601.3V273.0H1596.2zM1681.5 266.4H1686.5V273.0H1681.5zM1811.8 266.4H1816.9V273.0H1811.8zM658.6 260.0H673.7V266.4H658.6zM889.3 260.0H904.3V266.4H889.3zM1049.7 260.0H1059.7V266.4H1049.7zM1340.5 260.0H1350.6V266.4H1340.5zM1415.7 260.0H1420.7V266.4H1415.7zM1596.2 260.0H1601.3V266.4H1596.2zM648.6 253.7H673.7V260.0H648.6zM1044.7 253.7H1054.7V260.0H1044.7zM1315.5 253.7H1345.5V260.0H1315.5zM1405.7 253.7H1415.7V260.0H1405.7zM498.2 399.9H503.2V411.1H498.2zM538.3 399.9H543.3V411.1H538.3zM794.0 399.9H804.0V411.1H794.0zM1094.8 399.9H1099.8V411.1H1094.8zM1140.0 399.9H1145.0V411.1H1140.0zM513.2 411.1H518.2V422.8H513.2zM839.1 411.1H849.1V422.8H839.1zM1140.0 411.1H1145.0V422.8H1140.0zM1270.3 411.1H1275.3V422.8H1270.3zM533.3 422.8H543.3V435.0H533.3zM583.4 422.8H588.4V435.0H583.4zM1124.9 422.8H1129.9V435.0H1124.9zM1134.9 422.8H1140.0V435.0H1134.9zM1225.2 422.8H1230.2V435.0H1225.2zM1245.3 447.9H1250.3V461.4H1245.3zM1265.3 461.4H1275.3V475.7H1265.3z"/>
<path fill="#f3874a" d="M428.0 316.5H433.0V324.6H428.0zM999.6 316.5H1004.6V324.6H999.6zM1255.3 316.5H1260.3V324.6H1255.3zM1571.2 316.5H1576.2V324.6H1571.2zM1611.3 316.5H1616.3V324.6H1611.3zM1626.3 316.5H1636.4V324.6H1626.3zM1651.4 316.5H1666.4V324.6H1651.4zM1701.5 316.5H1706.5V324.6H1701.5zM1781.8 316.5H1786.8V324.6H1781.8zM748.9 308.8H753.9V316.5H748.9zM763.9 308.8H773.9V316.5H763.9zM989.5 308.8H994.6V316.5H989.5zM1089.8 308.8H1094.8V316.5H1089.8zM1265.3 308.8H1275.3V316.5H1265.3zM1300.4 308.8H1305.4V316.5H1300.4zM1621.3 308.8H1626.3V316.5H1621.3zM1651.4 308.8H1656.4V316.5H1651.4zM1736.6 308.8H1741.6V316.5H1736.6zM443.0 324.6H448.0V332.9H443.0zM1225.2 324.6H1230.2V332.9H1225.2zM1245.3 324.6H1250.3V332.9H1245.3zM1576.2 324.6H1581.2V332.9H1576.2zM1641.4 324.6H1651.4V332.9H1641.4zM1671.5 324.6H1691.5V332.9H1671.5zM1791.8 324.6H1796.8V332.9H1791.8zM407.9 301.2H412.9V308.8H407.9zM733.8 301.2H738.8V308.8H733.8zM778.9 301.2H789.0V308.8H778.9zM854.2 301.2H859.2V308.8H854.2zM869.2 301.2H874.2V308.8H869.2zM949.4 301.2H979.5V308.8H949.4zM994.6 301.2H999.6V308.8H994.6zM1084.8 301.2H1089.8V308.8H1084.8zM1205.1 301.2H1210.2V308.8H1205.1zM1280.4 301.2H1295.4V308.8H1280.4zM1305.4 301.2H1310.4V308.8H1305.4zM1465.9 301.2H1470.9V308.8H1465.9zM1490.9 301.2H1496.0V308.8H1490.9zM1606.3 301.2H1611.3V308.8H1606.3zM1616.3 301.2H1621.3V308.8H1616.3zM1696.5 301.2H1701.5V308.8H1696.5zM1736.6 301.2H1741.6V308.8H1736.6zM1756.7 301.2H1766.7V308.8H1756.7zM1826.9 301.2H1831.9V308.8H1826.9zM438.0 341.4H443.0V350.3H438.0zM458.0 341.4H463.1V350.3H458.0zM473.1 341.4H478.1V350.3H473.1zM583.4 341.4H598.4V350.3H583.4zM608.5 341.4H613.5V350.3H608.5zM633.5 341.4H638.6V350.3H633.5zM1039.7 341.4H1044.7V350.3H1039.7zM1405.7 341.4H1410.7V350.3H1405.7zM1591.2 341.4H1596.2V350.3H1591.2zM1611.3 341.4H1616.3V350.3H1611.3zM1711.6 341.4H1716.6V350.3H1711.6zM1816.9 341.4H1821.9V350.3H1816.9zM433.0 332.9H438.0V341.4H433.0zM443.0 332.9H448.0V341.4H443.0zM453.0 332.9H463.1V341.4H453.0zM1014.6 332.9H1019.6V341.4H1014.6zM1029.7 332.9H1034.7V341.4H1029.7zM1235.2 332.9H1240.2V341.4H1235.2zM1395.7 332.9H1400.7V341.4H1395.7zM718.8 293.8H723.8V301.2H718.8zM773.9 293.8H778.9V301.2H773.9zM834.1 293.8H844.1V301.2H834.1zM874.2 293.8H879.2V301.2H874.2zM929.4 293.8H939.4V301.2H929.4zM1074.8 293.8H1079.8V301.2H1074.8zM1114.9 293.8H1119.9V301.2H1114.9zM1195.1 293.8H1200.1V301.2H1195.1zM1310.4 293.8H1315.5V301.2H1310.4zM1370.6 293.8H1380.6V301.2H1370.6zM1420.7 293.8H1425.8V301.2H1420.7zM1460.9 293.8H1465.9V301.2H1460.9zM1501.0 293.8H1506.0V301.2H1501.0zM1551.1 293.8H1556.1V301.2H1551.1zM1606.3 293.8H1611.3V301.2H1606.3zM1686.5 293.8H1691.5V301.2H1686.5zM1746.7 293.8H1751.7V301.2H1746.7zM443.0 350.3H448.0V359.5H443.0zM483.1 350.3H488.1V359.5H483.1zM588.4 350.3H593.4V359.5H588.4zM653.6 350.3H658.6V359.5H653.6zM889.3 350.3H904.3V359.5H889.3zM1004.6 350.3H1009.6V359.5H1004.6zM1325.5 350.3H1330.5V359.5H1325.5zM1716.6 350.3H1721.6V359.5H1716.6zM1741.6 350.3H1746.7V359.5H1741.6zM483.1 359.5H488.1V369.0H483.1zM498.2 359.5H503.2V369.0H498.2zM678.7 359.5H683.7V369.0H678.7zM884.2 359.5H894.3V369.0H884.2zM919.3 359.5H929.4V369.0H919.3zM1059.7 359.5H1064.7V369.0H1059.7zM1124.9 359.5H1134.9V369.0H1124.9zM1315.5 359.5H1320.5V369.0H1315.5zM1721.6 359.5H1726.6V369.0H1721.6zM1741.6 359.5H1746.7V369.0H1741.6zM508.2 369.0H513.2V378.9H508.2zM703.7 369.0H708.8V378.9H703.7zM874.2 369.0H879.2V378.9H874.2zM944.4 369.0H954.4V378.9H944.4zM959.5 369.0H979.5V378.9H959.5zM1069.8 369.0H1074.8V378.9H1069.8zM1195.1 369.0H1200.1V378.9H1195.1zM1375.6 369.0H1380.6V378.9H1375.6zM508.2 378.9H513.2V389.2H508.2zM518.2 378.9H523.2V389.2H518.2zM728.8 378.9H733.8V389.2H728.8zM889.3 378.9H894.3V389.2H889.3zM994.6 378.9H999.6V389.2H994.6zM1079.8 378.9H1084.8V389.2H1079.8zM1380.6 378.9H1385.6V389.2H1380.6zM528.2 389.2H533.3V399.9H528.2zM753.9 389.2H758.9V399.9H753.9zM904.3 389.2H909.3V399.9H904.3zM1089.8 389.2H1094.8V399.9H1089.8zM1134.9 389.2H1140.0V399.9H1134.9zM1210.2 389.2H1215.2V399.9H1210.2zM613.5 247.6H648.6V253.7H613.5zM1029.7 247.6H1039.7V253.7H1029.7zM1385.6 247.6H1405.7V253.7H1385.6zM1586.2 247.6H1596.2V253.7H1586.2zM1751.7 247.6H1761.7V253.7H1751.7zM618.5 241.6H643.6V247.6H618.5zM1009.6 241.6H1039.7V247.6H1009.6zM1385.6 241.6H1405.7V247.6H1385.6zM1586.2 241.6H1591.2V247.6H1586.2zM1751.7 241.6H1756.7V247.6H1751.7zM623.5 235.8H648.6V241.6H623.5zM1009.6 235.8H1029.7V241.6H1009.6zM1385.6 235.8H1400.7V241.6H1385.6zM1746.7 235.8H1751.7V241.6H1746.7zM628.5 230.0H638.6V235.8H628.5zM698.7 286.7H708.8V293.8H698.7zM768.9 286.7H784.0V293.8H768.9zM789.0 286.7H804.0V293.8H789.0zM809.0 286.7H819.1V293.8H809.0zM914.3 286.7H929.4V293.8H914.3zM979.5 286.7H984.5V293.8H979.5zM1069.8 286.7H1074.8V293.8H1069.8zM1124.9 286.7H1140.0V293.8H1124.9zM1185.1 286.7H1195.1V293.8H1185.1zM1365.6 286.7H1370.6V293.8H1365.6zM1450.8 286.7H1455.8V293.8H1450.8zM1501.0 286.7H1506.0V293.8H1501.0zM1541.1 286.7H1551.1V293.8H1541.1zM1691.5 286.7H1696.5V293.8H1691.5zM1736.6 286.7H1741.6V293.8H1736.6zM683.7 279.8H693.7V286.7H683.7zM768.9 279.8H784.0V286.7H768.9zM884.2 279.8H889.3V286.7H884.2zM904.3 279.8H914.3V286.7H904.3zM1145.0 279.8H1185.1V286.7H1145.0zM1305.4 279.8H1310.4V286.7H1305.4zM1501.0 279.8H1506.0V286.7H1501.0zM1531.1 279.8H1541.1V286.7H1531.1zM1681.5 279.8H1686.5V286.7H1681.5zM1816.9 279.8H1821.9V286.7H1816.9zM668.6 273.0H678.7V279.8H668.6zM889.3 273.0H904.3V279.8H889.3zM974.5 273.0H979.5V279.8H974.5zM1054.7 273.0H1059.7V279.8H1054.7zM1300.4 273.0H1305.4V279.8H1300.4zM1355.6 273.0H1360.6V279.8H1355.6zM1435.8 273.0H1440.8V279.8H1435.8zM1501.0 273.0H1506.0V279.8H1501.0zM1511.0 273.0H1516.0V279.8H1511.0zM1521.0 273.0H1526.0V279.8H1521.0zM1596.2 273.0H1601.3V279.8H1596.2zM1686.5 273.0H1691.5V279.8H1686.5zM1776.7 273.0H1781.8V279.8H1776.7zM1811.8 273.0H1816.9V279.8H1811.8zM653.6 266.4H668.6V273.0H653.6zM1049.7 266.4H1054.7V273.0H1049.7zM1345.5 266.4H1350.6V273.0H1345.5zM1380.6 266.4H1385.6V273.0H1380.6zM1410.7 266.4H1420.7V273.0H1410.7zM1501.0 266.4H1511.0V273.0H1501.0zM1676.5 266.4H1681.5V273.0H1676.5zM648.6 260.0H658.6V266.4H648.6zM1039.7 260.0H1049.7V266.4H1039.7zM1310.4 260.0H1315.5V266.4H1310.4zM1320.5 260.0H1340.5V266.4H1320.5zM1405.7 260.0H1415.7V266.4H1405.7zM1501.0 260.0H1506.0V266.4H1501.0zM1591.2 260.0H1596.2V266.4H1591.2zM1676.5 260.0H1686.5V266.4H1676.5zM1806.8 260.0H1811.8V266.4H1806.8zM608.5 253.7H623.5V260.0H608.5zM633.5 253.7H648.6V260.0H633.5zM1034.7 253.7H1044.7V260.0H1034.7zM1385.6 253.7H1390.7V260.0H1385.6zM1400.7 253.7H1405.7V260.0H1400.7zM1415.7 253.7H1420.7V260.0H1415.7zM1591.2 253.7H1601.3V260.0H1591.2zM1756.7 253.7H1761.7V260.0H1756.7zM528.2 399.9H533.3V411.1H528.2zM543.3 399.9H548.3V411.1H543.3zM804.0 399.9H814.0V411.1H804.0zM1215.2 399.9H1220.2V411.1H1215.2zM1265.3 399.9H1270.3V411.1H1265.3zM518.2 411.1H523.2V422.8H518.2zM533.3 411.1H538.3V422.8H533.3zM553.3 411.1H558.3V422.8H553.3zM849.1 411.1H854.2V422.8H849.1zM1109.9 411.1H1114.9V422.8H1109.9zM1134.9 411.1H1140.0V422.8H1134.9zM1220.2 411.1H1225.2V422.8H1220.2zM879.2 422.8H889.3V435.0H879.2zM1129.9 422.8H1134.9V435.0H1129.9zM1235.2 435.0H1240.2V447.9H1235.2zM1275.3 435.0H1280.4V447.9H1275.3z"/>
<path fill="#f68d45" d="M433.0 316.5H438.0V324.6H433.0zM758.9 316.5H763.9V324.6H758.9zM994.6 316.5H999.6V324.6H994.6zM1215.2 316.5H1220.2V324.6H1215.2zM1260.3 316.5H1265.3V324.6H1260.3zM1636.4 316.5H1641.4V324.6H1636.4zM1646.4 316.5H1651.4V324.6H1646.4zM1666.4 316.5H1691.5V324.6H1666.4zM1736.6 316.5H1741.6V324.6H1736.6zM1786.8 316.5H1791.8V324.6H1786.8zM743.8 308.8H748.9V316.5H743.8zM773.9 308.8H784.0V316.5H773.9zM859.2 308.8H869.2V316.5H859.2zM979.5 308.8H989.5V316.5H979.5zM1099.8 308.8H1104.9V316.5H1099.8zM1210.2 308.8H1215.2V316.5H1210.2zM1275.3 308.8H1280.4V316.5H1275.3zM1295.4 308.8H1300.4V316.5H1295.4zM1566.2 308.8H1571.2V316.5H1566.2zM1606.3 308.8H1611.3V316.5H1606.3zM1626.3 308.8H1631.3V316.5H1626.3zM1656.4 308.8H1676.5V316.5H1656.4zM1681.5 308.8H1691.5V316.5H1681.5zM1701.5 308.8H1706.5V316.5H1701.5zM1776.7 308.8H1781.8V316.5H1776.7zM1250.3 324.6H1255.3V332.9H1250.3zM1611.3 324.6H1616.3V332.9H1611.3zM1706.5 324.6H1711.6V332.9H1706.5zM1736.6 324.6H1741.6V332.9H1736.6zM1796.8 324.6H1801.8V332.9H1796.8zM412.9 301.2H417.9V308.8H412.9zM728.8 301.2H733.8V308.8H728.8zM789.0 301.2H794.0V308.8H789.0zM844.1 301.2H854.2V308.8H844.1zM874.2 301.2H879.2V308.8H874.2zM934.4 301.2H949.4V308.8H934.4zM999.6 301.2H1004.6V308.8H999.6zM1079.8 301.2H1084.8V308.8H1079.8zM1104.9 301.2H1114.9V308.8H1104.9zM1200.1 301.2H1205.1V308.8H1200.1zM1370.6 301.2H1380.6V308.8H1370.6zM1470.9 301.2H1480.9V308.8H1470.9zM1561.1 301.2H1566.2V308.8H1561.1zM1621.3 301.2H1626.3V308.8H1621.3zM1646.4 301.2H1661.4V308.8H1646.4zM1666.4 301.2H1671.5V308.8H1666.4zM1681.5 301.2H1691.5V308.8H1681.5zM1766.7 301.2H1771.7V308.8H1766.7zM1801.8 301.2H1806.8V308.8H1801.8zM443.0 341.4H448.0V350.3H443.0zM453.0 341.4H458.0V350.3H453.0zM598.4 341.4H608.5V350.3H598.4zM638.6 341.4H643.6V350.3H638.6zM1330.5 341.4H1340.5V350.3H1330.5zM1380.6 341.4H1385.6V350.3H1380.6zM1410.7 341.4H1420.7V350.3H1410.7zM1596.2 341.4H1611.3V350.3H1596.2zM438.0 332.9H443.0V341.4H438.0zM463.1 332.9H468.1V341.4H463.1zM618.5 332.9H623.5V341.4H618.5zM1009.6 332.9H1014.6V341.4H1009.6zM1230.2 332.9H1235.2V341.4H1230.2zM1390.7 332.9H1395.7V341.4H1390.7zM1400.7 332.9H1405.7V341.4H1400.7zM1586.2 332.9H1591.2V341.4H1586.2zM1611.3 332.9H1616.3V341.4H1611.3zM1806.8 332.9H1811.8V341.4H1806.8zM402.9 293.8H407.9V301.2H402.9zM708.8 293.8H718.8V301.2H708.8zM778.9 293.8H794.0V301.2H778.9zM804.0 293.8H834.1V301.2H804.0zM879.2 293.8H884.2V301.2H879.2zM924.4 293.8H929.4V301.2H924.4zM989.5 293.8H999.6V301.2H989.5zM1119.9 293.8H1124.9V301.2H1119.9zM1190.1 293.8H1195.1V301.2H1190.1zM1315.5 293.8H1320.5V301.2H1315.5zM1465.9 293.8H1470.9V301.2H1465.9zM1496.0 293.8H1501.0V301.2H1496.0zM1556.1 293.8H1561.1V301.2H1556.1zM1611.3 293.8H1621.3V301.2H1611.3zM1681.5 293.8H1686.5V301.2H1681.5zM1696.5 293.8H1701.5V301.2H1696.5zM1751.7 293.8H1761.7V301.2H1751.7zM1796.8 293.8H1801.8V301.2H1796.8zM1821.9 293.8H1826.9V301.2H1821.9zM468.1 350.3H473.1V359.5H468.1zM488.1 350.3H493.1V359.5H488.1zM658.6 350.3H663.6V359.5H658.6zM884.2 350.3H889.3V359.5H884.2zM904.3 350.3H909.3V359.5H904.3zM1049.7 350.3H1054.7V359.5H1049.7zM1150.0 350.3H1180.1V359.5H1150.0zM1345.5 350.3H1350.6V359.5H1345.5zM453.0 359.5H458.0V369.0H453.0zM683.7 359.5H688.7V369.0H683.7zM879.2 359.5H884.2V369.0H879.2zM929.4 359.5H934.4V369.0H929.4zM1064.7 359.5H1069.8V369.0H1064.7zM1190.1 359.5H1195.1V369.0H1190.1zM1355.6 359.5H1360.6V369.0H1355.6zM1726.6 359.5H1731.6V369.0H1726.6zM1736.6 359.5H1741.6V369.0H1736.6zM463.1 369.0H468.1V378.9H463.1zM493.1 369.0H498.2V378.9H493.1zM593.4 369.0H598.4V378.9H593.4zM708.8 369.0H713.8V378.9H708.8zM869.2 369.0H874.2V378.9H869.2zM954.4 369.0H959.5V378.9H954.4zM979.5 369.0H989.5V378.9H979.5zM1074.8 369.0H1079.8V378.9H1074.8zM598.4 378.9H603.5V389.2H598.4zM733.8 378.9H738.8V389.2H733.8zM999.6 378.9H1004.6V389.2H999.6zM1129.9 378.9H1134.9V389.2H1129.9zM1375.6 378.9H1380.6V389.2H1375.6zM488.1 389.2H493.1V399.9H488.1zM598.4 389.2H603.5V399.9H598.4zM758.9 389.2H763.9V399.9H758.9zM1260.3 389.2H1265.3V399.9H1260.3zM483.1 247.6H493.1V253.7H483.1zM563.3 247.6H588.4V253.7H563.3zM1009.6 247.6H1029.7V253.7H1009.6zM478.1 241.6H483.1V247.6H478.1zM1581.2 241.6H1586.2V247.6H1581.2zM1746.7 241.6H1751.7V247.6H1746.7zM1756.7 241.6H1761.7V247.6H1756.7zM468.1 235.8H473.1V241.6H468.1zM1581.2 235.8H1586.2V241.6H1581.2zM1741.6 235.8H1746.7V241.6H1741.6zM1751.7 235.8H1756.7V241.6H1751.7zM1741.6 230.0H1751.7V235.8H1741.6zM1736.6 224.5H1751.7V230.0H1736.6zM1736.6 219.0H1751.7V224.5H1736.6zM1736.6 213.6H1746.7V219.0H1736.6zM1741.6 208.4H1746.7V213.6H1741.6zM563.3 286.7H568.4V293.8H563.3zM693.7 286.7H698.7V293.8H693.7zM784.0 286.7H789.0V293.8H784.0zM884.2 286.7H889.3V293.8H884.2zM909.3 286.7H914.3V293.8H909.3zM984.5 286.7H989.5V293.8H984.5zM1064.7 286.7H1069.8V293.8H1064.7zM1140.0 286.7H1150.0V293.8H1140.0zM1180.1 286.7H1185.1V293.8H1180.1zM1315.5 286.7H1320.5V293.8H1315.5zM1420.7 286.7H1425.8V293.8H1420.7zM1551.1 286.7H1556.1V293.8H1551.1zM1606.3 286.7H1611.3V293.8H1606.3zM1681.5 286.7H1686.5V293.8H1681.5zM1741.6 286.7H1751.7V293.8H1741.6zM1786.8 286.7H1796.8V293.8H1786.8zM1816.9 286.7H1821.9V293.8H1816.9zM563.3 279.8H568.4V286.7H563.3zM678.7 279.8H683.7V286.7H678.7zM889.3 279.8H904.3V286.7H889.3zM979.5 279.8H984.5V286.7H979.5zM1059.7 279.8H1064.7V286.7H1059.7zM1310.4 279.8H1315.5V286.7H1310.4zM1360.6 279.8H1365.6V286.7H1360.6zM1445.8 279.8H1450.8V286.7H1445.8zM1541.1 279.8H1551.1V286.7H1541.1zM1596.2 279.8H1601.3V286.7H1596.2zM1646.4 279.8H1651.4V286.7H1646.4zM1691.5 279.8H1696.5V286.7H1691.5zM1736.6 279.8H1741.6V286.7H1736.6zM1781.8 279.8H1786.8V286.7H1781.8zM563.3 273.0H568.4V279.8H563.3zM663.6 273.0H668.6V279.8H663.6zM1049.7 273.0H1054.7V279.8H1049.7zM1305.4 273.0H1310.4V279.8H1305.4zM1380.6 273.0H1385.6V279.8H1380.6zM1410.7 273.0H1420.7V279.8H1410.7zM1425.8 273.0H1430.8V279.8H1425.8zM1440.8 273.0H1445.8V279.8H1440.8zM1516.0 273.0H1521.0V279.8H1516.0zM1526.0 273.0H1536.1V279.8H1526.0zM1641.4 273.0H1651.4V279.8H1641.4zM1676.5 273.0H1681.5V279.8H1676.5zM648.6 266.4H653.6V273.0H648.6zM1044.7 266.4H1049.7V273.0H1044.7zM1405.7 266.4H1410.7V273.0H1405.7zM1430.8 266.4H1435.8V273.0H1430.8zM1511.0 266.4H1516.0V273.0H1511.0zM1591.2 266.4H1596.2V273.0H1591.2zM1641.4 266.4H1646.4V273.0H1641.4zM1686.5 266.4H1691.5V273.0H1686.5zM1771.7 266.4H1776.7V273.0H1771.7zM1806.8 266.4H1811.8V273.0H1806.8zM613.5 260.0H623.5V266.4H613.5zM633.5 260.0H648.6V266.4H633.5zM1034.7 260.0H1039.7V266.4H1034.7zM1315.5 260.0H1320.5V266.4H1315.5zM1385.6 260.0H1395.7V266.4H1385.6zM1400.7 260.0H1405.7V266.4H1400.7zM1506.0 260.0H1511.0V266.4H1506.0zM1601.3 260.0H1606.3V266.4H1601.3zM1761.7 260.0H1771.7V266.4H1761.7zM1801.8 260.0H1806.8V266.4H1801.8zM493.1 253.7H498.2V260.0H493.1zM563.3 253.7H568.4V260.0H563.3zM573.4 253.7H608.5V260.0H573.4zM623.5 253.7H633.5V260.0H623.5zM1019.6 253.7H1034.7V260.0H1019.6zM1390.7 253.7H1400.7V260.0H1390.7zM1496.0 253.7H1506.0V260.0H1496.0zM1586.2 253.7H1591.2V260.0H1586.2zM1671.5 253.7H1676.5V260.0H1671.5zM1761.7 253.7H1766.7V260.0H1761.7zM503.2 399.9H508.2V411.1H503.2zM598.4 399.9H603.5V411.1H598.4zM814.0 399.9H824.1V411.1H814.0zM1099.8 399.9H1104.9V411.1H1099.8zM1134.9 399.9H1140.0V411.1H1134.9zM523.2 411.1H533.3V422.8H523.2zM558.3 411.1H563.3V422.8H558.3zM854.2 411.1H859.2V422.8H854.2zM1114.9 411.1H1124.9V422.8H1114.9zM1129.9 411.1H1134.9V422.8H1129.9zM889.3 422.8H904.3V435.0H889.3zM1270.3 422.8H1275.3V435.0H1270.3zM1250.3 447.9H1255.3V461.4H1250.3zM1275.3 447.9H1280.4V461.4H1275.3z"/>
<path fill="#f89540" d="M438.0 316.5H443.0V324.6H438.0zM753.9 316.5H758.9V324.6H753.9zM763.9 316.5H768.9V324.6H763.9zM989.5 316.5H994.6V324.6H989.5zM1094.8 316.5H1099.8V324.6H1094.8zM1265.3 316.5H1270.3V324.6H1265.3zM1606.3 316.5H1611.3V324.6H1606.3zM1641.4 316.5H1646.4V324.6H1641.4zM1816.9 316.5H1831.9V324.6H1816.9zM422.9 308.8H428.0V316.5H422.9zM738.8 308.8H743.8V316.5H738.8zM784.0 308.8H789.0V316.5H784.0zM854.2 308.8H859.2V316.5H854.2zM869.2 308.8H874.2V316.5H869.2zM949.4 308.8H979.5V316.5H949.4zM1084.8 308.8H1089.8V316.5H1084.8zM1280.4 308.8H1295.4V316.5H1280.4zM1305.4 308.8H1310.4V316.5H1305.4zM1631.3 308.8H1636.4V316.5H1631.3zM1646.4 308.8H1651.4V316.5H1646.4zM1676.5 308.8H1681.5V316.5H1676.5zM1806.8 308.8H1816.9V316.5H1806.8zM1826.9 308.8H1831.9V316.5H1826.9zM448.0 324.6H458.0V332.9H448.0zM1014.6 324.6H1029.7V332.9H1014.6zM1220.2 324.6H1225.2V332.9H1220.2zM1255.3 324.6H1260.3V332.9H1255.3zM1581.2 324.6H1586.2V332.9H1581.2zM1826.9 324.6H1831.9V332.9H1826.9zM417.9 301.2H422.9V308.8H417.9zM723.8 301.2H728.8V308.8H723.8zM794.0 301.2H804.0V308.8H794.0zM834.1 301.2H844.1V308.8H834.1zM929.4 301.2H934.4V308.8H929.4zM1114.9 301.2H1119.9V308.8H1114.9zM1310.4 301.2H1315.5V308.8H1310.4zM1480.9 301.2H1485.9V308.8H1480.9zM1661.4 301.2H1666.4V308.8H1661.4zM1671.5 301.2H1676.5V308.8H1671.5zM1806.8 301.2H1811.8V308.8H1806.8zM1821.9 301.2H1826.9V308.8H1821.9zM448.0 341.4H453.0V350.3H448.0zM478.1 341.4H483.1V350.3H478.1zM578.4 341.4H583.4V350.3H578.4zM643.6 341.4H648.6V350.3H643.6zM1044.7 341.4H1049.7V350.3H1044.7zM1340.5 341.4H1345.5V350.3H1340.5zM1716.6 341.4H1721.6V350.3H1716.6zM1736.6 341.4H1741.6V350.3H1736.6zM1821.9 341.4H1826.9V350.3H1821.9zM613.5 332.9H618.5V341.4H613.5zM623.5 332.9H628.5V341.4H623.5zM1034.7 332.9H1039.7V341.4H1034.7zM1240.2 332.9H1245.3V341.4H1240.2zM1385.6 332.9H1390.7V341.4H1385.6zM1591.2 332.9H1596.2V341.4H1591.2zM1711.6 332.9H1716.6V341.4H1711.6zM1736.6 332.9H1741.6V341.4H1736.6zM407.9 293.8H412.9V301.2H407.9zM563.3 293.8H568.4V301.2H563.3zM703.7 293.8H708.8V301.2H703.7zM794.0 293.8H804.0V301.2H794.0zM914.3 293.8H924.4V301.2H914.3zM1069.8 293.8H1074.8V301.2H1069.8zM1124.9 293.8H1140.0V301.2H1124.9zM1185.1 293.8H1190.1V301.2H1185.1zM1365.6 293.8H1370.6V301.2H1365.6zM1470.9 293.8H1475.9V301.2H1470.9zM1490.9 293.8H1496.0V301.2H1490.9zM1601.3 293.8H1606.3V301.2H1601.3zM1621.3 293.8H1626.3V301.2H1621.3zM1646.4 293.8H1666.4V301.2H1646.4zM1791.8 293.8H1796.8V301.2H1791.8zM448.0 350.3H453.0V359.5H448.0zM463.1 350.3H468.1V359.5H463.1zM583.4 350.3H588.4V359.5H583.4zM663.6 350.3H668.6V359.5H663.6zM909.3 350.3H919.3V359.5H909.3zM1054.7 350.3H1059.7V359.5H1054.7zM1134.9 350.3H1150.0V359.5H1134.9zM1180.1 350.3H1190.1V359.5H1180.1zM1320.5 350.3H1325.5V359.5H1320.5zM1721.6 350.3H1726.6V359.5H1721.6zM1736.6 350.3H1741.6V359.5H1736.6zM478.1 359.5H483.1V369.0H478.1zM503.2 359.5H508.2V369.0H503.2zM588.4 359.5H593.4V369.0H588.4zM688.7 359.5H693.7V369.0H688.7zM874.2 359.5H879.2V369.0H874.2zM934.4 359.5H939.4V369.0H934.4zM1119.9 359.5H1124.9V369.0H1119.9zM1310.4 359.5H1315.5V369.0H1310.4zM1360.6 359.5H1370.6V369.0H1360.6zM1375.6 359.5H1380.6V369.0H1375.6zM1731.6 359.5H1736.6V369.0H1731.6zM513.2 369.0H518.2V378.9H513.2zM713.8 369.0H718.8V378.9H713.8zM989.5 369.0H994.6V378.9H989.5zM1124.9 369.0H1129.9V378.9H1124.9zM1365.6 369.0H1375.6V378.9H1365.6zM503.2 378.9H508.2V389.2H503.2zM523.2 378.9H528.2V389.2H523.2zM884.2 378.9H889.3V389.2H884.2zM1084.8 378.9H1089.8V389.2H1084.8zM1205.1 378.9H1210.2V389.2H1205.1zM1255.3 378.9H1275.3V389.2H1255.3zM493.1 389.2H498.2V399.9H493.1zM518.2 389.2H523.2V399.9H518.2zM533.3 389.2H538.3V399.9H533.3zM763.9 389.2H768.9V399.9H763.9zM899.3 389.2H904.3V399.9H899.3zM1094.8 389.2H1099.8V399.9H1094.8zM478.1 247.6H483.1V253.7H478.1zM1490.9 247.6H1506.0V253.7H1490.9zM1581.2 247.6H1586.2V253.7H1581.2zM1636.4 247.6H1641.4V253.7H1636.4zM1666.4 247.6H1671.5V253.7H1666.4zM1746.7 247.6H1751.7V253.7H1746.7zM1761.7 247.6H1766.7V253.7H1761.7zM1791.8 247.6H1796.8V253.7H1791.8zM468.1 241.6H478.1V247.6H468.1zM1631.3 241.6H1636.4V247.6H1631.3zM1786.8 241.6H1791.8V247.6H1786.8zM458.0 235.8H468.1V241.6H458.0zM1576.2 235.8H1581.2V241.6H1576.2zM1631.3 235.8H1636.4V241.6H1631.3zM1756.7 235.8H1761.7V241.6H1756.7zM448.0 230.0H453.0V235.8H448.0zM1576.2 230.0H1581.2V235.8H1576.2zM1736.6 230.0H1741.6V235.8H1736.6zM1751.7 230.0H1761.7V235.8H1751.7zM433.0 224.5H443.0V230.0H433.0zM1571.2 224.5H1576.2V230.0H1571.2zM1751.7 224.5H1756.7V230.0H1751.7zM1776.7 224.5H1781.8V230.0H1776.7zM422.9 219.0H438.0V224.5H422.9zM1731.6 219.0H1736.6V224.5H1731.6zM1751.7 219.0H1756.7V224.5H1751.7zM1771.7 219.0H1776.7V224.5H1771.7zM422.9 213.6H433.0V219.0H422.9zM1731.6 213.6H1736.6V219.0H1731.6zM1746.7 213.6H1756.7V219.0H1746.7zM1771.7 213.6H1776.7V219.0H1771.7zM422.9 208.4H428.0V213.6H422.9zM1731.6 208.4H1741.6V213.6H1731.6zM1746.7 208.4H1751.7V213.6H1746.7zM688.7 286.7H693.7V293.8H688.7zM889.3 286.7H894.3V293.8H889.3zM899.3 286.7H909.3V293.8H899.3zM989.5 286.7H994.6V293.8H989.5zM1150.0 286.7H1180.1V293.8H1150.0zM1455.8 286.7H1460.9V293.8H1455.8zM1496.0 286.7H1501.0V293.8H1496.0zM1601.3 286.7H1606.3V293.8H1601.3zM1611.3 286.7H1621.3V293.8H1611.3zM1646.4 286.7H1661.4V293.8H1646.4zM1731.6 286.7H1736.6V293.8H1731.6zM568.4 279.8H573.4V286.7H568.4zM673.7 279.8H678.7V286.7H673.7zM984.5 279.8H989.5V286.7H984.5zM1054.7 279.8H1059.7V286.7H1054.7zM1420.7 279.8H1425.8V286.7H1420.7zM1450.8 279.8H1455.8V286.7H1450.8zM1496.0 279.8H1501.0V286.7H1496.0zM1601.3 279.8H1616.3V286.7H1601.3zM1641.4 279.8H1646.4V286.7H1641.4zM1651.4 279.8H1656.4V286.7H1651.4zM1676.5 279.8H1681.5V286.7H1676.5zM1731.6 279.8H1736.6V286.7H1731.6zM1741.6 279.8H1746.7V286.7H1741.6zM1786.8 279.8H1791.8V286.7H1786.8zM1811.8 279.8H1816.9V286.7H1811.8zM568.4 273.0H573.4V279.8H568.4zM653.6 273.0H663.6V279.8H653.6zM1350.6 273.0H1355.6V279.8H1350.6zM1405.7 273.0H1410.7V279.8H1405.7zM1496.0 273.0H1501.0V279.8H1496.0zM1536.1 273.0H1546.1V279.8H1536.1zM1691.5 273.0H1696.5V279.8H1691.5zM1731.6 273.0H1736.6V279.8H1731.6zM1771.7 273.0H1776.7V279.8H1771.7zM1781.8 273.0H1786.8V279.8H1781.8zM508.2 266.4H513.2V273.0H508.2zM563.3 266.4H578.4V273.0H563.3zM638.6 266.4H648.6V273.0H638.6zM1039.7 266.4H1044.7V273.0H1039.7zM1310.4 266.4H1315.5V273.0H1310.4zM1340.5 266.4H1345.5V273.0H1340.5zM1385.6 266.4H1390.7V273.0H1385.6zM1400.7 266.4H1405.7V273.0H1400.7zM1425.8 266.4H1430.8V273.0H1425.8zM1435.8 266.4H1440.8V273.0H1435.8zM1496.0 266.4H1501.0V273.0H1496.0zM1516.0 266.4H1536.1V273.0H1516.0zM1601.3 266.4H1606.3V273.0H1601.3zM1766.7 266.4H1771.7V273.0H1766.7zM1776.7 266.4H1781.8V273.0H1776.7zM498.2 260.0H503.2V266.4H498.2zM563.3 260.0H613.5V266.4H563.3zM623.5 260.0H633.5V266.4H623.5zM1029.7 260.0H1034.7V266.4H1029.7zM1395.7 260.0H1400.7V266.4H1395.7zM1430.8 260.0H1435.8V266.4H1430.8zM1496.0 260.0H1501.0V266.4H1496.0zM1511.0 260.0H1516.0V266.4H1511.0zM1586.2 260.0H1591.2V266.4H1586.2zM1636.4 260.0H1646.4V266.4H1636.4zM1671.5 260.0H1676.5V266.4H1671.5zM1686.5 260.0H1691.5V266.4H1686.5zM1771.7 260.0H1776.7V266.4H1771.7zM488.1 253.7H493.1V260.0H488.1zM568.4 253.7H573.4V260.0H568.4zM1009.6 253.7H1019.6V260.0H1009.6zM1420.7 253.7H1425.8V260.0H1420.7zM1506.0 253.7H1511.0V260.0H1506.0zM1601.3 253.7H1606.3V260.0H1601.3zM1636.4 253.7H1641.4V260.0H1636.4zM1751.7 253.7H1756.7V260.0H1751.7zM1766.7 253.7H1771.7V260.0H1766.7zM1796.8 253.7H1801.8V260.0H1796.8zM548.3 399.9H553.3V411.1H548.3zM824.1 399.9H829.1V411.1H824.1zM1104.9 399.9H1109.9V411.1H1104.9zM563.3 411.1H568.4V422.8H563.3zM583.4 411.1H593.4V422.8H583.4zM859.2 411.1H864.2V422.8H859.2zM1124.9 411.1H1129.9V422.8H1124.9zM1265.3 411.1H1270.3V422.8H1265.3zM1230.2 422.8H1235.2V435.0H1230.2zM1255.3 447.9H1260.3V461.4H1255.3zM1270.3 447.9H1275.3V461.4H1270.3zM1731.6 203.2H1751.7V208.4H1731.6zM1736.6 198.2H1746.7V203.2H1736.6zM1736.6 193.3H1741.6V198.2H1736.6z"/>
<path fill="#fa9c3c" d="M443.0 316.5H448.0V324.6H443.0zM748.9 316.5H753.9V324.6H748.9zM768.9 316.5H778.9V324.6H768.9zM1270.3 316.5H1275.3V324.6H1270.3zM1300.4 316.5H1305.4V324.6H1300.4zM1576.2 316.5H1581.2V324.6H1576.2zM1706.5 316.5H1711.6V324.6H1706.5zM1791.8 316.5H1796.8V324.6H1791.8zM428.0 308.8H433.0V316.5H428.0zM733.8 308.8H738.8V316.5H733.8zM789.0 308.8H794.0V316.5H789.0zM849.1 308.8H854.2V316.5H849.1zM939.4 308.8H949.4V316.5H939.4zM1104.9 308.8H1114.9V316.5H1104.9zM1205.1 308.8H1210.2V316.5H1205.1zM1365.6 308.8H1375.6V316.5H1365.6zM1571.2 308.8H1576.2V316.5H1571.2zM1636.4 308.8H1646.4V316.5H1636.4zM1731.6 308.8H1736.6V316.5H1731.6zM1781.8 308.8H1786.8V316.5H1781.8zM1816.9 308.8H1826.9V316.5H1816.9zM999.6 324.6H1004.6V332.9H999.6zM1009.6 324.6H1014.6V332.9H1009.6zM1029.7 324.6H1034.7V332.9H1029.7zM1390.7 324.6H1400.7V332.9H1390.7zM1586.2 324.6H1591.2V332.9H1586.2zM1606.3 324.6H1611.3V332.9H1606.3zM1801.8 324.6H1806.8V332.9H1801.8zM718.8 301.2H723.8V308.8H718.8zM804.0 301.2H834.1V308.8H804.0zM879.2 301.2H884.2V308.8H879.2zM924.4 301.2H929.4V308.8H924.4zM1074.8 301.2H1079.8V308.8H1074.8zM1119.9 301.2H1124.9V308.8H1119.9zM1195.1 301.2H1200.1V308.8H1195.1zM1566.2 301.2H1571.2V308.8H1566.2zM1601.3 301.2H1606.3V308.8H1601.3zM1626.3 301.2H1631.3V308.8H1626.3zM1676.5 301.2H1681.5V308.8H1676.5zM1701.5 301.2H1706.5V308.8H1701.5zM1731.6 301.2H1736.6V308.8H1731.6zM1771.7 301.2H1776.7V308.8H1771.7zM1796.8 301.2H1801.8V308.8H1796.8zM1811.8 301.2H1816.9V308.8H1811.8zM483.1 341.4H488.1V350.3H483.1zM648.6 341.4H653.6V350.3H648.6zM889.3 341.4H904.3V350.3H889.3zM1004.6 341.4H1009.6V350.3H1004.6zM1235.2 341.4H1240.2V350.3H1235.2zM1325.5 341.4H1330.5V350.3H1325.5zM1721.6 341.4H1726.6V350.3H1721.6zM1826.9 341.4H1831.9V350.3H1826.9zM468.1 332.9H473.1V341.4H468.1zM573.4 332.9H578.4V341.4H573.4zM588.4 332.9H598.4V341.4H588.4zM608.5 332.9H613.5V341.4H608.5zM628.5 332.9H633.5V341.4H628.5zM1039.7 332.9H1044.7V341.4H1039.7zM1225.2 332.9H1230.2V341.4H1225.2zM1245.3 332.9H1250.3V341.4H1245.3zM1405.7 332.9H1410.7V341.4H1405.7zM1596.2 332.9H1611.3V341.4H1596.2zM1811.8 332.9H1816.9V341.4H1811.8zM412.9 293.8H417.9V301.2H412.9zM698.7 293.8H703.7V301.2H698.7zM884.2 293.8H889.3V301.2H884.2zM909.3 293.8H914.3V301.2H909.3zM999.6 293.8H1004.6V301.2H999.6zM1140.0 293.8H1150.0V301.2H1140.0zM1180.1 293.8H1185.1V301.2H1180.1zM1320.5 293.8H1325.5V301.2H1320.5zM1475.9 293.8H1480.9V301.2H1475.9zM1485.9 293.8H1490.9V301.2H1485.9zM1666.4 293.8H1671.5V301.2H1666.4zM1676.5 293.8H1681.5V301.2H1676.5zM1731.6 293.8H1736.6V301.2H1731.6zM1761.7 293.8H1766.7V301.2H1761.7zM1801.8 293.8H1806.8V301.2H1801.8zM1816.9 293.8H1821.9V301.2H1816.9zM453.0 350.3H463.1V359.5H453.0zM493.1 350.3H498.2V359.5H493.1zM668.6 350.3H673.7V359.5H668.6zM919.3 350.3H929.4V359.5H919.3zM1059.7 350.3H1064.7V359.5H1059.7zM1124.9 350.3H1134.9V359.5H1124.9zM1315.5 350.3H1320.5V359.5H1315.5zM1350.6 350.3H1355.6V359.5H1350.6zM1726.6 350.3H1736.6V359.5H1726.6zM458.0 359.5H463.1V369.0H458.0zM693.7 359.5H698.7V369.0H693.7zM844.1 359.5H854.2V369.0H844.1zM869.2 359.5H874.2V369.0H869.2zM939.4 359.5H949.4V369.0H939.4zM959.5 359.5H974.5V369.0H959.5zM1069.8 359.5H1074.8V369.0H1069.8zM1370.6 359.5H1375.6V369.0H1370.6zM468.1 369.0H473.1V378.9H468.1zM488.1 369.0H493.1V378.9H488.1zM718.8 369.0H723.8V378.9H718.8zM864.2 369.0H869.2V378.9H864.2zM994.6 369.0H999.6V378.9H994.6zM1079.8 369.0H1084.8V378.9H1079.8zM1200.1 369.0H1205.1V378.9H1200.1zM1355.6 369.0H1365.6V378.9H1355.6zM483.1 378.9H488.1V389.2H483.1zM593.4 378.9H598.4V389.2H593.4zM738.8 378.9H743.8V389.2H738.8zM879.2 378.9H884.2V389.2H879.2zM1275.3 378.9H1290.4V389.2H1275.3zM1365.6 378.9H1375.6V389.2H1365.6zM513.2 389.2H518.2V399.9H513.2zM538.3 389.2H543.3V399.9H538.3zM593.4 389.2H598.4V399.9H593.4zM768.9 389.2H784.0V399.9H768.9zM894.3 389.2H899.3V399.9H894.3zM1129.9 389.2H1134.9V399.9H1129.9zM1215.2 389.2H1220.2V399.9H1215.2zM473.1 247.6H478.1V253.7H473.1zM1506.0 247.6H1511.0V253.7H1506.0zM1601.3 247.6H1606.3V253.7H1601.3zM1631.3 247.6H1636.4V253.7H1631.3zM458.0 241.6H468.1V247.6H458.0zM1485.9 241.6H1506.0V247.6H1485.9zM1576.2 241.6H1581.2V247.6H1576.2zM1636.4 241.6H1641.4V247.6H1636.4zM1661.4 241.6H1666.4V247.6H1661.4zM1741.6 241.6H1746.7V247.6H1741.6zM1761.7 241.6H1766.7V247.6H1761.7zM448.0 235.8H458.0V241.6H448.0zM1636.4 235.8H1641.4V241.6H1636.4zM1736.6 235.8H1741.6V241.6H1736.6zM1761.7 235.8H1766.7V241.6H1761.7zM1781.8 235.8H1786.8V241.6H1781.8zM433.0 230.0H448.0V235.8H433.0zM1571.2 230.0H1576.2V235.8H1571.2zM1761.7 230.0H1766.7V235.8H1761.7zM1776.7 230.0H1781.8V235.8H1776.7zM422.9 224.5H433.0V230.0H422.9zM1511.0 224.5H1516.0V230.0H1511.0zM1731.6 224.5H1736.6V230.0H1731.6zM1756.7 224.5H1761.7V230.0H1756.7zM1766.7 224.5H1776.7V230.0H1766.7zM1566.2 219.0H1571.2V224.5H1566.2zM1726.6 219.0H1731.6V224.5H1726.6zM1726.6 213.6H1731.6V219.0H1726.6zM1561.1 208.4H1566.2V213.6H1561.1zM1726.6 208.4H1731.6V213.6H1726.6zM683.7 286.7H688.7V293.8H683.7zM894.3 286.7H899.3V293.8H894.3zM1059.7 286.7H1064.7V293.8H1059.7zM1360.6 286.7H1365.6V293.8H1360.6zM1460.9 286.7H1465.9V293.8H1460.9zM1490.9 286.7H1496.0V293.8H1490.9zM1596.2 286.7H1601.3V293.8H1596.2zM1641.4 286.7H1646.4V293.8H1641.4zM1676.5 286.7H1681.5V293.8H1676.5zM1696.5 286.7H1701.5V293.8H1696.5zM1751.7 286.7H1756.7V293.8H1751.7zM1796.8 286.7H1801.8V293.8H1796.8zM668.6 279.8H673.7V286.7H668.6zM1049.7 279.8H1054.7V286.7H1049.7zM1315.5 279.8H1320.5V286.7H1315.5zM1380.6 279.8H1385.6V286.7H1380.6zM1410.7 279.8H1420.7V286.7H1410.7zM1776.7 279.8H1781.8V286.7H1776.7zM1791.8 279.8H1796.8V286.7H1791.8zM513.2 273.0H518.2V279.8H513.2zM573.4 273.0H583.4V279.8H573.4zM648.6 273.0H653.6V279.8H648.6zM1044.7 273.0H1049.7V279.8H1044.7zM1310.4 273.0H1320.5V279.8H1310.4zM1420.7 273.0H1425.8V279.8H1420.7zM1445.8 273.0H1450.8V279.8H1445.8zM1591.2 273.0H1596.2V279.8H1591.2zM1601.3 273.0H1616.3V279.8H1601.3zM1806.8 273.0H1811.8V279.8H1806.8zM503.2 266.4H508.2V273.0H503.2zM578.4 266.4H593.4V273.0H578.4zM598.4 266.4H638.6V273.0H598.4zM1034.7 266.4H1039.7V273.0H1034.7zM1315.5 266.4H1340.5V273.0H1315.5zM1390.7 266.4H1395.7V273.0H1390.7zM1420.7 266.4H1425.8V273.0H1420.7zM1440.8 266.4H1445.8V273.0H1440.8zM1536.1 266.4H1546.1V273.0H1536.1zM1606.3 266.4H1611.3V273.0H1606.3zM1636.4 266.4H1641.4V273.0H1636.4zM1646.4 266.4H1651.4V273.0H1646.4zM1671.5 266.4H1676.5V273.0H1671.5zM1691.5 266.4H1696.5V273.0H1691.5zM1761.7 266.4H1766.7V273.0H1761.7zM1801.8 266.4H1806.8V273.0H1801.8zM493.1 260.0H498.2V266.4H493.1zM1014.6 260.0H1029.7V266.4H1014.6zM1420.7 260.0H1430.8V266.4H1420.7zM1435.8 260.0H1440.8V266.4H1435.8zM1516.0 260.0H1541.1V266.4H1516.0zM1606.3 260.0H1611.3V266.4H1606.3zM1756.7 260.0H1761.7V266.4H1756.7zM1796.8 260.0H1801.8V266.4H1796.8zM483.1 253.7H488.1V260.0H483.1zM1425.8 253.7H1435.8V260.0H1425.8zM1490.9 253.7H1496.0V260.0H1490.9zM1511.0 253.7H1531.1V260.0H1511.0zM1581.2 253.7H1586.2V260.0H1581.2zM1641.4 253.7H1646.4V260.0H1641.4zM1666.4 253.7H1671.5V260.0H1666.4zM1791.8 253.7H1796.8V260.0H1791.8zM508.2 399.9H513.2V411.1H508.2zM523.2 399.9H528.2V411.1H523.2zM593.4 399.9H598.4V411.1H593.4zM829.1 399.9H839.1V411.1H829.1zM1129.9 399.9H1134.9V411.1H1129.9zM1220.2 399.9H1225.2V411.1H1220.2zM568.4 411.1H583.4V422.8H568.4zM864.2 411.1H874.2V422.8H864.2zM1225.2 411.1H1230.2V422.8H1225.2zM1240.2 435.0H1245.3V447.9H1240.2zM1270.3 435.0H1275.3V447.9H1270.3zM1260.3 447.9H1270.3V461.4H1260.3zM1470.9 203.2H1480.9V208.4H1470.9zM1726.6 203.2H1731.6V208.4H1726.6zM1470.9 198.2H1480.9V203.2H1470.9zM1731.6 198.2H1736.6V203.2H1731.6zM1465.9 193.3H1485.9V198.2H1465.9zM1731.6 193.3H1736.6V198.2H1731.6zM1465.9 188.4H1485.9V193.3H1465.9zM1731.6 188.4H1741.6V193.3H1731.6zM1465.9 183.7H1470.9V188.4H1465.9zM1475.9 183.7H1480.9V188.4H1475.9zM1731.6 183.7H1736.6V188.4H1731.6z"/>
<path fill="#fca338" d="M558.3 316.5H563.3V324.6H558.3zM778.9 316.5H789.0V324.6H778.9zM859.2 316.5H869.2V324.6H859.2zM954.4 316.5H959.5V324.6H954.4zM979.5 316.5H989.5V324.6H979.5zM1019.6 316.5H1029.7V324.6H1019.6zM1089.8 316.5H1094.8V324.6H1089.8zM1099.8 316.5H1104.9V324.6H1099.8zM1210.2 316.5H1215.2V324.6H1210.2zM1275.3 316.5H1285.4V324.6H1275.3zM1290.4 316.5H1300.4V324.6H1290.4zM1731.6 316.5H1736.6V324.6H1731.6zM1796.8 316.5H1801.8V324.6H1796.8zM1811.8 316.5H1816.9V324.6H1811.8zM433.0 308.8H438.0V316.5H433.0zM728.8 308.8H733.8V316.5H728.8zM794.0 308.8H799.0V316.5H794.0zM834.1 308.8H849.1V316.5H834.1zM874.2 308.8H879.2V316.5H874.2zM934.4 308.8H939.4V316.5H934.4zM1079.8 308.8H1084.8V316.5H1079.8zM1114.9 308.8H1119.9V316.5H1114.9zM1310.4 308.8H1315.5V316.5H1310.4zM1360.6 308.8H1365.6V316.5H1360.6zM1375.6 308.8H1380.6V316.5H1375.6zM1601.3 308.8H1606.3V316.5H1601.3zM1706.5 308.8H1711.6V316.5H1706.5zM1801.8 308.8H1806.8V316.5H1801.8zM458.0 324.6H463.1V332.9H458.0zM758.9 324.6H768.9V332.9H758.9zM994.6 324.6H999.6V332.9H994.6zM1260.3 324.6H1265.3V332.9H1260.3zM1385.6 324.6H1390.7V332.9H1385.6zM1400.7 324.6H1405.7V332.9H1400.7zM1591.2 324.6H1596.2V332.9H1591.2zM1601.3 324.6H1606.3V332.9H1601.3zM1711.6 324.6H1716.6V332.9H1711.6zM1731.6 324.6H1736.6V332.9H1731.6zM1806.8 324.6H1811.8V332.9H1806.8zM1821.9 324.6H1826.9V332.9H1821.9zM422.9 301.2H428.0V308.8H422.9zM563.3 301.2H568.4V308.8H563.3zM713.8 301.2H718.8V308.8H713.8zM914.3 301.2H924.4V308.8H914.3zM1124.9 301.2H1140.0V308.8H1124.9zM1190.1 301.2H1195.1V308.8H1190.1zM1315.5 301.2H1320.5V308.8H1315.5zM1365.6 301.2H1370.6V308.8H1365.6zM1631.3 301.2H1636.4V308.8H1631.3zM1641.4 301.2H1646.4V308.8H1641.4zM1816.9 301.2H1821.9V308.8H1816.9zM653.6 341.4H658.6V350.3H653.6zM884.2 341.4H889.3V350.3H884.2zM904.3 341.4H909.3V350.3H904.3zM1049.7 341.4H1054.7V350.3H1049.7zM1150.0 341.4H1180.1V350.3H1150.0zM1230.2 341.4H1235.2V350.3H1230.2zM1320.5 341.4H1325.5V350.3H1320.5zM1345.5 341.4H1350.6V350.3H1345.5zM1726.6 341.4H1736.6V350.3H1726.6zM473.1 332.9H478.1V341.4H473.1zM598.4 332.9H608.5V341.4H598.4zM633.5 332.9H638.6V341.4H633.5zM1250.3 332.9H1255.3V341.4H1250.3zM1330.5 332.9H1340.5V341.4H1330.5zM1380.6 332.9H1385.6V341.4H1380.6zM1410.7 332.9H1420.7V341.4H1410.7zM1716.6 332.9H1721.6V341.4H1716.6zM1731.6 332.9H1736.6V341.4H1731.6zM1816.9 332.9H1821.9V341.4H1816.9zM533.3 293.8H538.3V301.2H533.3zM889.3 293.8H894.3V301.2H889.3zM899.3 293.8H909.3V301.2H899.3zM1064.7 293.8H1069.8V301.2H1064.7zM1150.0 293.8H1180.1V301.2H1150.0zM1480.9 293.8H1485.9V301.2H1480.9zM1561.1 293.8H1566.2V301.2H1561.1zM1641.4 293.8H1646.4V301.2H1641.4zM1671.5 293.8H1676.5V301.2H1671.5zM1701.5 293.8H1706.5V301.2H1701.5zM1806.8 293.8H1816.9V301.2H1806.8zM498.2 350.3H503.2V359.5H498.2zM673.7 350.3H678.7V359.5H673.7zM814.0 350.3H834.1V359.5H814.0zM879.2 350.3H884.2V359.5H879.2zM929.4 350.3H934.4V359.5H929.4zM1119.9 350.3H1124.9V359.5H1119.9zM1190.1 350.3H1195.1V359.5H1190.1zM1355.6 350.3H1360.6V359.5H1355.6zM463.1 359.5H478.1V369.0H463.1zM508.2 359.5H513.2V369.0H508.2zM583.4 359.5H588.4V369.0H583.4zM698.7 359.5H703.7V369.0H698.7zM839.1 359.5H844.1V369.0H839.1zM854.2 359.5H869.2V369.0H854.2zM949.4 359.5H959.5V369.0H949.4zM974.5 359.5H989.5V369.0H974.5zM1195.1 359.5H1200.1V369.0H1195.1zM1275.3 359.5H1300.4V369.0H1275.3zM1305.4 359.5H1310.4V369.0H1305.4zM473.1 369.0H488.1V378.9H473.1zM518.2 369.0H523.2V378.9H518.2zM588.4 369.0H593.4V378.9H588.4zM723.8 369.0H728.8V378.9H723.8zM859.2 369.0H864.2V378.9H859.2zM999.6 369.0H1004.6V378.9H999.6zM1119.9 369.0H1124.9V378.9H1119.9zM1345.5 369.0H1355.6V378.9H1345.5zM488.1 378.9H503.2V389.2H488.1zM528.2 378.9H533.3V389.2H528.2zM743.8 378.9H748.9V389.2H743.8zM874.2 378.9H879.2V389.2H874.2zM1089.8 378.9H1094.8V389.2H1089.8zM1124.9 378.9H1129.9V389.2H1124.9zM1210.2 378.9H1215.2V389.2H1210.2zM1290.4 378.9H1315.5V389.2H1290.4zM1340.5 378.9H1365.6V389.2H1340.5zM498.2 389.2H513.2V399.9H498.2zM784.0 389.2H794.0V399.9H784.0zM889.3 389.2H894.3V399.9H889.3zM1099.8 389.2H1104.9V399.9H1099.8zM468.1 247.6H473.1V253.7H468.1zM1425.8 247.6H1430.8V253.7H1425.8zM1485.9 247.6H1490.9V253.7H1485.9zM1511.0 247.6H1531.1V253.7H1511.0zM1641.4 247.6H1646.4V253.7H1641.4zM1661.4 247.6H1666.4V253.7H1661.4zM1741.6 247.6H1746.7V253.7H1741.6zM1766.7 247.6H1771.7V253.7H1766.7zM1786.8 247.6H1791.8V253.7H1786.8zM453.0 241.6H458.0V247.6H453.0zM1425.8 241.6H1430.8V247.6H1425.8zM1506.0 241.6H1526.0V247.6H1506.0zM1641.4 241.6H1646.4V247.6H1641.4zM1766.7 241.6H1771.7V247.6H1766.7zM1781.8 241.6H1786.8V247.6H1781.8zM438.0 235.8H448.0V241.6H438.0zM1485.9 235.8H1526.0V241.6H1485.9zM1571.2 235.8H1576.2V241.6H1571.2zM1626.3 235.8H1631.3V241.6H1626.3zM1641.4 235.8H1646.4V241.6H1641.4zM1656.4 235.8H1661.4V241.6H1656.4zM1766.7 235.8H1781.8V241.6H1766.7zM422.9 230.0H433.0V235.8H422.9zM1511.0 230.0H1521.0V235.8H1511.0zM1641.4 230.0H1656.4V235.8H1641.4zM1731.6 230.0H1736.6V235.8H1731.6zM1766.7 230.0H1776.7V235.8H1766.7zM1566.2 224.5H1571.2V230.0H1566.2zM1646.4 224.5H1651.4V230.0H1646.4zM1470.9 213.6H1480.9V219.0H1470.9zM1561.1 213.6H1566.2V219.0H1561.1zM1470.9 208.4H1480.9V213.6H1470.9zM568.4 286.7H573.4V293.8H568.4zM678.7 286.7H683.7V293.8H678.7zM1054.7 286.7H1059.7V293.8H1054.7zM1320.5 286.7H1325.5V293.8H1320.5zM1465.9 286.7H1475.9V293.8H1465.9zM1485.9 286.7H1490.9V293.8H1485.9zM1556.1 286.7H1561.1V293.8H1556.1zM1621.3 286.7H1626.3V293.8H1621.3zM1661.4 286.7H1666.4V293.8H1661.4zM1781.8 286.7H1786.8V293.8H1781.8zM1801.8 286.7H1806.8V293.8H1801.8zM1811.8 286.7H1816.9V293.8H1811.8zM518.2 279.8H523.2V286.7H518.2zM573.4 279.8H578.4V286.7H573.4zM658.6 279.8H668.6V286.7H658.6zM1355.6 279.8H1360.6V286.7H1355.6zM1405.7 279.8H1410.7V286.7H1405.7zM1455.8 279.8H1460.9V286.7H1455.8zM1490.9 279.8H1496.0V286.7H1490.9zM1551.1 279.8H1556.1V286.7H1551.1zM1591.2 279.8H1596.2V286.7H1591.2zM1616.3 279.8H1621.3V286.7H1616.3zM1656.4 279.8H1661.4V286.7H1656.4zM1696.5 279.8H1701.5V286.7H1696.5zM1746.7 279.8H1751.7V286.7H1746.7zM1806.8 279.8H1811.8V286.7H1806.8zM508.2 273.0H513.2V279.8H508.2zM583.4 273.0H588.4V279.8H583.4zM643.6 273.0H648.6V279.8H643.6zM1039.7 273.0H1044.7V279.8H1039.7zM1345.5 273.0H1350.6V279.8H1345.5zM1385.6 273.0H1395.7V279.8H1385.6zM1400.7 273.0H1405.7V279.8H1400.7zM1450.8 273.0H1455.8V279.8H1450.8zM1490.9 273.0H1496.0V279.8H1490.9zM1546.1 273.0H1551.1V279.8H1546.1zM1636.4 273.0H1641.4V279.8H1636.4zM1651.4 273.0H1656.4V279.8H1651.4zM1671.5 273.0H1676.5V279.8H1671.5zM1736.6 273.0H1741.6V279.8H1736.6zM1766.7 273.0H1771.7V279.8H1766.7zM1786.8 273.0H1791.8V279.8H1786.8zM498.2 266.4H503.2V273.0H498.2zM593.4 266.4H598.4V273.0H593.4zM1024.6 266.4H1034.7V273.0H1024.6zM1586.2 266.4H1591.2V273.0H1586.2zM1611.3 266.4H1616.3V273.0H1611.3zM1726.6 266.4H1731.6V273.0H1726.6zM1781.8 266.4H1786.8V273.0H1781.8zM488.1 260.0H493.1V266.4H488.1zM1009.6 260.0H1014.6V266.4H1009.6zM1490.9 260.0H1496.0V266.4H1490.9zM1646.4 260.0H1651.4V266.4H1646.4zM1666.4 260.0H1671.5V266.4H1666.4zM1691.5 260.0H1696.5V266.4H1691.5zM1776.7 260.0H1781.8V266.4H1776.7zM478.1 253.7H483.1V260.0H478.1zM1531.1 253.7H1536.1V260.0H1531.1zM1606.3 253.7H1611.3V260.0H1606.3zM1631.3 253.7H1636.4V260.0H1631.3zM1746.7 253.7H1751.7V260.0H1746.7zM1771.7 253.7H1776.7V260.0H1771.7zM513.2 399.9H523.2V411.1H513.2zM553.3 399.9H558.3V411.1H553.3zM839.1 399.9H844.1V411.1H839.1zM899.3 399.9H904.3V411.1H899.3zM1109.9 399.9H1114.9V411.1H1109.9zM1124.9 399.9H1129.9V411.1H1124.9zM1260.3 399.9H1265.3V411.1H1260.3zM874.2 411.1H904.3V422.8H874.2zM1465.9 203.2H1470.9V208.4H1465.9zM1480.9 203.2H1501.0V208.4H1480.9zM1556.1 203.2H1561.1V208.4H1556.1zM1460.9 198.2H1470.9V203.2H1460.9zM1480.9 198.2H1496.0V203.2H1480.9zM1726.6 198.2H1731.6V203.2H1726.6zM1460.9 193.3H1465.9V198.2H1460.9zM1485.9 193.3H1496.0V198.2H1485.9zM1726.6 193.3H1731.6V198.2H1726.6zM1455.8 188.4H1465.9V193.3H1455.8zM1485.9 188.4H1496.0V193.3H1485.9zM1726.6 188.4H1731.6V193.3H1726.6zM1455.8 183.7H1465.9V188.4H1455.8zM1480.9 183.7H1490.9V188.4H1480.9zM1726.6 183.7H1731.6V188.4H1726.6zM1450.8 179.0H1465.9V183.7H1450.8zM1475.9 179.0H1490.9V183.7H1475.9zM1726.6 179.0H1731.6V183.7H1726.6zM1450.8 174.4H1465.9V179.0H1450.8zM1475.9 174.4H1485.9V179.0H1475.9zM1475.9 169.9H1485.9V174.4H1475.9zM1475.9 165.4H1480.9V169.9H1475.9z"/>
<path fill="#fdac33" d="M448.0 316.5H453.0V324.6H448.0zM743.8 316.5H748.9V324.6H743.8zM789.0 316.5H794.0V324.6H789.0zM849.1 316.5H859.2V324.6H849.1zM869.2 316.5H874.2V324.6H869.2zM944.4 316.5H954.4V324.6H944.4zM959.5 316.5H979.5V324.6H959.5zM1014.6 316.5H1019.6V324.6H1014.6zM1104.9 316.5H1109.9V324.6H1104.9zM1285.4 316.5H1290.4V324.6H1285.4zM1305.4 316.5H1310.4V324.6H1305.4zM1370.6 316.5H1375.6V324.6H1370.6zM1395.7 316.5H1400.7V324.6H1395.7zM1581.2 316.5H1586.2V324.6H1581.2zM1601.3 316.5H1606.3V324.6H1601.3zM1711.6 316.5H1716.6V324.6H1711.6zM1801.8 316.5H1811.8V324.6H1801.8zM799.0 308.8H809.0V316.5H799.0zM819.1 308.8H834.1V316.5H819.1zM879.2 308.8H884.2V316.5H879.2zM929.4 308.8H934.4V316.5H929.4zM1119.9 308.8H1124.9V316.5H1119.9zM1200.1 308.8H1205.1V316.5H1200.1zM1355.6 308.8H1360.6V316.5H1355.6zM1576.2 308.8H1581.2V316.5H1576.2zM1786.8 308.8H1791.8V316.5H1786.8zM1796.8 308.8H1801.8V316.5H1796.8zM463.1 324.6H468.1V332.9H463.1zM583.4 324.6H593.4V332.9H583.4zM608.5 324.6H623.5V332.9H608.5zM768.9 324.6H773.9V332.9H768.9zM989.5 324.6H994.6V332.9H989.5zM1034.7 324.6H1039.7V332.9H1034.7zM1094.8 324.6H1099.8V332.9H1094.8zM1215.2 324.6H1220.2V332.9H1215.2zM1265.3 324.6H1275.3V332.9H1265.3zM1300.4 324.6H1305.4V332.9H1300.4zM1405.7 324.6H1410.7V332.9H1405.7zM1596.2 324.6H1601.3V332.9H1596.2zM1716.6 324.6H1721.6V332.9H1716.6zM1811.8 324.6H1821.9V332.9H1811.8zM708.8 301.2H713.8V308.8H708.8zM884.2 301.2H889.3V308.8H884.2zM909.3 301.2H914.3V308.8H909.3zM1069.8 301.2H1074.8V308.8H1069.8zM1140.0 301.2H1150.0V308.8H1140.0zM1180.1 301.2H1190.1V308.8H1180.1zM1320.5 301.2H1325.5V308.8H1320.5zM1636.4 301.2H1641.4V308.8H1636.4zM1706.5 301.2H1711.6V308.8H1706.5zM1776.7 301.2H1781.8V308.8H1776.7zM1791.8 301.2H1796.8V308.8H1791.8zM488.1 341.4H493.1V350.3H488.1zM573.4 341.4H578.4V350.3H573.4zM909.3 341.4H919.3V350.3H909.3zM1054.7 341.4H1059.7V350.3H1054.7zM1134.9 341.4H1150.0V350.3H1134.9zM1180.1 341.4H1190.1V350.3H1180.1zM1240.2 341.4H1245.3V350.3H1240.2zM1350.6 341.4H1355.6V350.3H1350.6zM568.4 332.9H573.4V341.4H568.4zM638.6 332.9H643.6V341.4H638.6zM999.6 332.9H1004.6V341.4H999.6zM1044.7 332.9H1049.7V341.4H1044.7zM1255.3 332.9H1260.3V341.4H1255.3zM1325.5 332.9H1330.5V341.4H1325.5zM1340.5 332.9H1345.5V341.4H1340.5zM1721.6 332.9H1731.6V341.4H1721.6zM1821.9 332.9H1831.9V341.4H1821.9zM417.9 293.8H422.9V301.2H417.9zM693.7 293.8H698.7V301.2H693.7zM894.3 293.8H899.3V301.2H894.3zM1325.5 293.8H1330.5V301.2H1325.5zM1596.2 293.8H1601.3V301.2H1596.2zM1626.3 293.8H1631.3V301.2H1626.3zM1766.7 293.8H1771.7V301.2H1766.7zM1786.8 293.8H1791.8V301.2H1786.8zM578.4 350.3H583.4V359.5H578.4zM678.7 350.3H683.7V359.5H678.7zM809.0 350.3H814.0V359.5H809.0zM834.1 350.3H849.1V359.5H834.1zM874.2 350.3H879.2V359.5H874.2zM934.4 350.3H944.4V359.5H934.4zM1064.7 350.3H1069.8V359.5H1064.7zM1114.9 350.3H1119.9V359.5H1114.9zM1310.4 350.3H1315.5V359.5H1310.4zM1360.6 350.3H1370.6V359.5H1360.6zM1375.6 350.3H1380.6V359.5H1375.6zM703.7 359.5H708.8V369.0H703.7zM834.1 359.5H839.1V369.0H834.1zM989.5 359.5H994.6V369.0H989.5zM1074.8 359.5H1079.8V369.0H1074.8zM1114.9 359.5H1119.9V369.0H1114.9zM1270.3 359.5H1275.3V369.0H1270.3zM1300.4 359.5H1305.4V369.0H1300.4zM854.2 369.0H859.2V378.9H854.2zM1084.8 369.0H1089.8V378.9H1084.8zM1205.1 369.0H1210.2V378.9H1205.1zM1250.3 369.0H1260.3V378.9H1250.3zM1330.5 369.0H1345.5V378.9H1330.5zM748.9 378.9H753.9V389.2H748.9zM869.2 378.9H874.2V389.2H869.2zM1315.5 378.9H1340.5V389.2H1315.5zM543.3 389.2H548.3V399.9H543.3zM794.0 389.2H809.0V399.9H794.0zM884.2 389.2H889.3V399.9H884.2zM1124.9 389.2H1129.9V399.9H1124.9zM1255.3 389.2H1260.3V399.9H1255.3zM458.0 247.6H468.1V253.7H458.0zM1430.8 247.6H1435.8V253.7H1430.8zM1531.1 247.6H1536.1V253.7H1531.1zM1576.2 247.6H1581.2V253.7H1576.2zM1771.7 247.6H1776.7V253.7H1771.7zM1781.8 247.6H1786.8V253.7H1781.8zM443.0 241.6H453.0V247.6H443.0zM1480.9 241.6H1485.9V247.6H1480.9zM1526.0 241.6H1531.1V247.6H1526.0zM1626.3 241.6H1631.3V247.6H1626.3zM1646.4 241.6H1651.4V247.6H1646.4zM1656.4 241.6H1661.4V247.6H1656.4zM1736.6 241.6H1741.6V247.6H1736.6zM1771.7 241.6H1781.8V247.6H1771.7zM422.9 235.8H438.0V241.6H422.9zM1480.9 235.8H1485.9V241.6H1480.9zM1646.4 235.8H1656.4V241.6H1646.4zM1731.6 235.8H1736.6V241.6H1731.6zM1475.9 230.0H1496.0V235.8H1475.9zM1501.0 230.0H1511.0V235.8H1501.0zM1566.2 230.0H1571.2V235.8H1566.2zM1621.3 230.0H1626.3V235.8H1621.3zM1475.9 224.5H1511.0V230.0H1475.9zM1516.0 224.5H1521.0V230.0H1516.0zM1726.6 224.5H1731.6V230.0H1726.6zM1470.9 219.0H1516.0V224.5H1470.9zM1561.1 219.0H1566.2V224.5H1561.1zM1721.6 219.0H1726.6V224.5H1721.6zM1480.9 213.6H1511.0V219.0H1480.9zM1721.6 213.6H1726.6V219.0H1721.6zM1465.9 208.4H1470.9V213.6H1465.9zM1480.9 208.4H1511.0V213.6H1480.9zM1556.1 208.4H1561.1V213.6H1556.1zM1721.6 208.4H1726.6V213.6H1721.6zM523.2 286.7H528.2V293.8H523.2zM673.7 286.7H678.7V293.8H673.7zM1380.6 286.7H1385.6V293.8H1380.6zM1410.7 286.7H1420.7V293.8H1410.7zM1475.9 286.7H1485.9V293.8H1475.9zM1666.4 286.7H1676.5V293.8H1666.4zM1701.5 286.7H1706.5V293.8H1701.5zM1726.6 286.7H1731.6V293.8H1726.6zM1756.7 286.7H1761.7V293.8H1756.7zM1806.8 286.7H1811.8V293.8H1806.8zM513.2 279.8H518.2V286.7H513.2zM578.4 279.8H588.4V286.7H578.4zM653.6 279.8H658.6V286.7H653.6zM1044.7 279.8H1049.7V286.7H1044.7zM1385.6 279.8H1390.7V286.7H1385.6zM1460.9 279.8H1465.9V286.7H1460.9zM1485.9 279.8H1490.9V286.7H1485.9zM1636.4 279.8H1641.4V286.7H1636.4zM1671.5 279.8H1676.5V286.7H1671.5zM1726.6 279.8H1731.6V286.7H1726.6zM1771.7 279.8H1776.7V286.7H1771.7zM1796.8 279.8H1806.8V286.7H1796.8zM588.4 273.0H608.5V279.8H588.4zM638.6 273.0H643.6V279.8H638.6zM1320.5 273.0H1325.5V279.8H1320.5zM1616.3 273.0H1621.3V279.8H1616.3zM1656.4 273.0H1661.4V279.8H1656.4zM1696.5 273.0H1701.5V279.8H1696.5zM1726.6 273.0H1731.6V279.8H1726.6zM1741.6 273.0H1746.7V279.8H1741.6zM1791.8 273.0H1806.8V279.8H1791.8zM493.1 266.4H498.2V273.0H493.1zM1009.6 266.4H1024.6V273.0H1009.6zM1445.8 266.4H1450.8V273.0H1445.8zM1490.9 266.4H1496.0V273.0H1490.9zM1651.4 266.4H1656.4V273.0H1651.4zM1666.4 266.4H1671.5V273.0H1666.4zM1731.6 266.4H1736.6V273.0H1731.6zM1786.8 266.4H1801.8V273.0H1786.8zM483.1 260.0H488.1V266.4H483.1zM1440.8 260.0H1445.8V266.4H1440.8zM1541.1 260.0H1546.1V266.4H1541.1zM1581.2 260.0H1586.2V266.4H1581.2zM1631.3 260.0H1636.4V266.4H1631.3zM1726.6 260.0H1731.6V266.4H1726.6zM1751.7 260.0H1756.7V266.4H1751.7zM1781.8 260.0H1796.8V266.4H1781.8zM473.1 253.7H478.1V260.0H473.1zM1435.8 253.7H1440.8V260.0H1435.8zM1485.9 253.7H1490.9V260.0H1485.9zM1536.1 253.7H1541.1V260.0H1536.1zM1646.4 253.7H1651.4V260.0H1646.4zM1661.4 253.7H1666.4V260.0H1661.4zM1776.7 253.7H1781.8V260.0H1776.7zM1786.8 253.7H1791.8V260.0H1786.8zM558.3 399.9H563.3V411.1H558.3zM588.4 399.9H593.4V411.1H588.4zM844.1 399.9H854.2V411.1H844.1zM894.3 399.9H899.3V411.1H894.3zM1114.9 399.9H1124.9V411.1H1114.9zM1235.2 422.8H1240.2V435.0H1235.2zM1265.3 422.8H1270.3V435.0H1265.3zM1245.3 435.0H1250.3V447.9H1245.3zM1265.3 435.0H1270.3V447.9H1265.3zM1460.9 203.2H1465.9V208.4H1460.9zM1551.1 203.2H1556.1V208.4H1551.1zM1721.6 203.2H1726.6V208.4H1721.6zM1455.8 198.2H1460.9V203.2H1455.8zM1721.6 198.2H1726.6V203.2H1721.6zM1455.8 193.3H1460.9V198.2H1455.8zM1721.6 193.3H1726.6V198.2H1721.6zM1450.8 188.4H1455.8V193.3H1450.8zM1496.0 188.4H1501.0V193.3H1496.0zM1721.6 188.4H1726.6V193.3H1721.6zM1445.8 183.7H1455.8V188.4H1445.8zM1490.9 183.7H1501.0V188.4H1490.9zM1721.6 183.7H1726.6V188.4H1721.6zM1435.8 179.0H1450.8V183.7H1435.8zM1490.9 179.0H1496.0V183.7H1490.9zM1721.6 179.0H1726.6V183.7H1721.6zM1440.8 174.4H1450.8V179.0H1440.8zM1485.9 174.4H1496.0V179.0H1485.9zM1726.6 174.4H1731.6V179.0H1726.6zM1485.9 169.9H1496.0V174.4H1485.9zM1480.9 165.4H1485.9V169.9H1480.9zM1490.9 165.4H1496.0V169.9H1490.9zM1480.9 161.1H1485.9V165.4H1480.9zM1490.9 161.1H1496.0V165.4H1490.9z"/>
<path fill="#fdb42f" d="M453.0 316.5H458.0V324.6H453.0zM553.3 316.5H558.3V324.6H553.3zM738.8 316.5H743.8V324.6H738.8zM794.0 316.5H799.0V324.6H794.0zM839.1 316.5H849.1V324.6H839.1zM874.2 316.5H879.2V324.6H874.2zM934.4 316.5H944.4V324.6H934.4zM1009.6 316.5H1014.6V324.6H1009.6zM1029.7 316.5H1034.7V324.6H1029.7zM1084.8 316.5H1089.8V324.6H1084.8zM1109.9 316.5H1119.9V324.6H1109.9zM1205.1 316.5H1210.2V324.6H1205.1zM1310.4 316.5H1315.5V324.6H1310.4zM1360.6 316.5H1370.6V324.6H1360.6zM1375.6 316.5H1380.6V324.6H1375.6zM1385.6 316.5H1395.7V324.6H1385.6zM1400.7 316.5H1405.7V324.6H1400.7zM1586.2 316.5H1591.2V324.6H1586.2zM1596.2 316.5H1601.3V324.6H1596.2zM548.3 308.8H553.3V316.5H548.3zM563.3 308.8H568.4V316.5H563.3zM723.8 308.8H728.8V316.5H723.8zM809.0 308.8H819.1V316.5H809.0zM919.3 308.8H929.4V316.5H919.3zM1074.8 308.8H1079.8V316.5H1074.8zM1124.9 308.8H1134.9V316.5H1124.9zM1195.1 308.8H1200.1V316.5H1195.1zM1315.5 308.8H1320.5V316.5H1315.5zM1350.6 308.8H1355.6V316.5H1350.6zM1711.6 308.8H1716.6V316.5H1711.6zM1726.6 308.8H1731.6V316.5H1726.6zM1791.8 308.8H1796.8V316.5H1791.8zM468.1 324.6H473.1V332.9H468.1zM593.4 324.6H608.5V332.9H593.4zM623.5 324.6H628.5V332.9H623.5zM753.9 324.6H758.9V332.9H753.9zM773.9 324.6H784.0V332.9H773.9zM859.2 324.6H869.2V332.9H859.2zM979.5 324.6H989.5V332.9H979.5zM1099.8 324.6H1104.9V332.9H1099.8zM1275.3 324.6H1280.4V332.9H1275.3zM1295.4 324.6H1300.4V332.9H1295.4zM1330.5 324.6H1340.5V332.9H1330.5zM1380.6 324.6H1385.6V332.9H1380.6zM1410.7 324.6H1420.7V332.9H1410.7zM1721.6 324.6H1731.6V332.9H1721.6zM538.3 301.2H543.3V308.8H538.3zM703.7 301.2H708.8V308.8H703.7zM889.3 301.2H894.3V308.8H889.3zM899.3 301.2H909.3V308.8H899.3zM1004.6 301.2H1009.6V308.8H1004.6zM1150.0 301.2H1180.1V308.8H1150.0zM1345.5 301.2H1365.6V308.8H1345.5zM1571.2 301.2H1576.2V308.8H1571.2zM1596.2 301.2H1601.3V308.8H1596.2zM1726.6 301.2H1731.6V308.8H1726.6zM1781.8 301.2H1791.8V308.8H1781.8zM658.6 341.4H663.6V350.3H658.6zM804.0 341.4H829.1V350.3H804.0zM879.2 341.4H884.2V350.3H879.2zM919.3 341.4H929.4V350.3H919.3zM1119.9 341.4H1134.9V350.3H1119.9zM1245.3 341.4H1250.3V350.3H1245.3zM1315.5 341.4H1320.5V350.3H1315.5zM478.1 332.9H483.1V341.4H478.1zM889.3 332.9H909.3V341.4H889.3zM994.6 332.9H999.6V341.4H994.6zM1004.6 332.9H1009.6V341.4H1004.6zM1155.0 332.9H1180.1V341.4H1155.0zM1220.2 332.9H1225.2V341.4H1220.2zM1260.3 332.9H1265.3V341.4H1260.3zM1345.5 332.9H1350.6V341.4H1345.5zM528.2 293.8H533.3V301.2H528.2zM568.4 293.8H573.4V301.2H568.4zM688.7 293.8H693.7V301.2H688.7zM1059.7 293.8H1064.7V301.2H1059.7zM1330.5 293.8H1335.5V301.2H1330.5zM1360.6 293.8H1365.6V301.2H1360.6zM1566.2 293.8H1571.2V301.2H1566.2zM1631.3 293.8H1641.4V301.2H1631.3zM1726.6 293.8H1731.6V301.2H1726.6zM1771.7 293.8H1776.7V301.2H1771.7zM1781.8 293.8H1786.8V301.2H1781.8zM503.2 350.3H508.2V359.5H503.2zM683.7 350.3H688.7V359.5H683.7zM799.0 350.3H809.0V359.5H799.0zM849.1 350.3H859.2V359.5H849.1zM869.2 350.3H874.2V359.5H869.2zM944.4 350.3H979.5V359.5H944.4zM1109.9 350.3H1114.9V359.5H1109.9zM1235.2 350.3H1240.2V359.5H1235.2zM1280.4 350.3H1295.4V359.5H1280.4zM1305.4 350.3H1310.4V359.5H1305.4zM1370.6 350.3H1375.6V359.5H1370.6zM513.2 359.5H518.2V369.0H513.2zM708.8 359.5H713.8V369.0H708.8zM829.1 359.5H834.1V369.0H829.1zM994.6 359.5H999.6V369.0H994.6zM1200.1 359.5H1205.1V369.0H1200.1zM1260.3 359.5H1270.3V369.0H1260.3zM523.2 369.0H528.2V378.9H523.2zM583.4 369.0H588.4V378.9H583.4zM728.8 369.0H733.8V378.9H728.8zM849.1 369.0H854.2V378.9H849.1zM1245.3 369.0H1250.3V378.9H1245.3zM1260.3 369.0H1275.3V378.9H1260.3zM1295.4 369.0H1330.5V378.9H1295.4zM533.3 378.9H538.3V389.2H533.3zM588.4 378.9H593.4V389.2H588.4zM753.9 378.9H758.9V389.2H753.9zM1094.8 378.9H1099.8V389.2H1094.8zM1119.9 378.9H1124.9V389.2H1119.9zM1250.3 378.9H1255.3V389.2H1250.3zM588.4 389.2H593.4V399.9H588.4zM809.0 389.2H819.1V399.9H809.0zM879.2 389.2H884.2V399.9H879.2zM1104.9 389.2H1114.9V399.9H1104.9zM1119.9 389.2H1124.9V399.9H1119.9zM1220.2 389.2H1225.2V399.9H1220.2zM453.0 247.6H458.0V253.7H453.0zM1435.8 247.6H1440.8V253.7H1435.8zM1480.9 247.6H1485.9V253.7H1480.9zM1606.3 247.6H1611.3V253.7H1606.3zM1626.3 247.6H1631.3V253.7H1626.3zM1646.4 247.6H1651.4V253.7H1646.4zM1656.4 247.6H1661.4V253.7H1656.4zM1776.7 247.6H1781.8V253.7H1776.7zM438.0 241.6H443.0V247.6H438.0zM1430.8 241.6H1435.8V247.6H1430.8zM1571.2 241.6H1576.2V247.6H1571.2zM1651.4 241.6H1656.4V247.6H1651.4zM1425.8 235.8H1430.8V241.6H1425.8zM1526.0 235.8H1531.1V241.6H1526.0zM1621.3 235.8H1626.3V241.6H1621.3zM1521.0 230.0H1526.0V235.8H1521.0zM1726.6 230.0H1731.6V235.8H1726.6zM1470.9 224.5H1475.9V230.0H1470.9zM1561.1 224.5H1566.2V230.0H1561.1zM1616.3 224.5H1621.3V230.0H1616.3zM1516.0 219.0H1521.0V224.5H1516.0zM1606.3 219.0H1616.3V224.5H1606.3zM1465.9 213.6H1470.9V219.0H1465.9zM1511.0 213.6H1516.0V219.0H1511.0zM1556.1 213.6H1561.1V219.0H1556.1zM1606.3 213.6H1611.3V219.0H1606.3zM1460.9 208.4H1465.9V213.6H1460.9zM518.2 286.7H523.2V293.8H518.2zM573.4 286.7H593.4V293.8H573.4zM668.6 286.7H673.7V293.8H668.6zM1049.7 286.7H1054.7V293.8H1049.7zM1405.7 286.7H1410.7V293.8H1405.7zM1561.1 286.7H1566.2V293.8H1561.1zM1591.2 286.7H1596.2V293.8H1591.2zM1626.3 286.7H1631.3V293.8H1626.3zM1636.4 286.7H1641.4V293.8H1636.4zM1761.7 286.7H1766.7V293.8H1761.7zM1776.7 286.7H1781.8V293.8H1776.7zM588.4 279.8H598.4V286.7H588.4zM648.6 279.8H653.6V286.7H648.6zM1320.5 279.8H1325.5V286.7H1320.5zM1390.7 279.8H1395.7V286.7H1390.7zM1556.1 279.8H1561.1V286.7H1556.1zM1621.3 279.8H1626.3V286.7H1621.3zM1661.4 279.8H1671.5V286.7H1661.4zM1751.7 279.8H1756.7V286.7H1751.7zM503.2 273.0H508.2V279.8H503.2zM608.5 273.0H638.6V279.8H608.5zM1009.6 273.0H1014.6V279.8H1009.6zM1034.7 273.0H1039.7V279.8H1034.7zM1340.5 273.0H1345.5V279.8H1340.5zM1455.8 273.0H1460.9V279.8H1455.8zM1485.9 273.0H1490.9V279.8H1485.9zM1551.1 273.0H1556.1V279.8H1551.1zM1586.2 273.0H1591.2V279.8H1586.2zM1661.4 273.0H1671.5V279.8H1661.4zM1761.7 273.0H1766.7V279.8H1761.7zM1450.8 266.4H1455.8V273.0H1450.8zM1546.1 266.4H1551.1V273.0H1546.1zM1631.3 266.4H1636.4V273.0H1631.3zM1656.4 266.4H1666.4V273.0H1656.4zM1696.5 266.4H1701.5V273.0H1696.5zM1756.7 266.4H1761.7V273.0H1756.7zM478.1 260.0H483.1V266.4H478.1zM1485.9 260.0H1490.9V266.4H1485.9zM1611.3 260.0H1616.3V266.4H1611.3zM1651.4 260.0H1666.4V266.4H1651.4zM468.1 253.7H473.1V260.0H468.1zM1576.2 253.7H1581.2V260.0H1576.2zM1651.4 253.7H1661.4V260.0H1651.4zM1741.6 253.7H1746.7V260.0H1741.6zM1781.8 253.7H1786.8V260.0H1781.8zM854.2 399.9H869.2V411.1H854.2zM884.2 399.9H894.3V411.1H884.2zM1230.2 411.1H1235.2V422.8H1230.2zM1260.3 411.1H1265.3V422.8H1260.3zM1455.8 203.2H1460.9V208.4H1455.8zM1450.8 198.2H1455.8V203.2H1450.8zM1506.0 198.2H1511.0V203.2H1506.0zM1546.1 198.2H1551.1V203.2H1546.1zM1450.8 193.3H1455.8V198.2H1450.8zM1425.8 188.4H1430.8V193.3H1425.8zM1445.8 188.4H1450.8V193.3H1445.8zM1501.0 188.4H1506.0V193.3H1501.0zM1430.8 183.7H1445.8V188.4H1430.8zM1501.0 183.7H1506.0V188.4H1501.0zM1536.1 183.7H1541.1V188.4H1536.1zM1496.0 179.0H1506.0V183.7H1496.0zM1531.1 179.0H1536.1V183.7H1531.1zM1496.0 174.4H1501.0V179.0H1496.0zM1526.0 174.4H1536.1V179.0H1526.0zM1721.6 174.4H1726.6V179.0H1721.6zM1496.0 169.9H1501.0V174.4H1496.0zM1721.6 169.9H1726.6V174.4H1721.6zM1496.0 165.4H1511.0V169.9H1496.0zM1721.6 165.4H1726.6V169.9H1721.6zM1496.0 161.1H1506.0V165.4H1496.0z"/>
<path fill="#febb2b" d="M458.0 316.5H463.1V324.6H458.0zM583.4 316.5H598.4V324.6H583.4zM608.5 316.5H618.5V324.6H608.5zM733.8 316.5H738.8V324.6H733.8zM799.0 316.5H839.1V324.6H799.0zM879.2 316.5H884.2V324.6H879.2zM929.4 316.5H934.4V324.6H929.4zM1119.9 316.5H1124.9V324.6H1119.9zM1355.6 316.5H1360.6V324.6H1355.6zM1405.7 316.5H1410.7V324.6H1405.7zM1591.2 316.5H1596.2V324.6H1591.2zM1716.6 316.5H1721.6V324.6H1716.6zM1726.6 316.5H1731.6V324.6H1726.6zM443.0 308.8H448.0V316.5H443.0zM718.8 308.8H723.8V316.5H718.8zM884.2 308.8H889.3V316.5H884.2zM909.3 308.8H919.3V316.5H909.3zM1009.6 308.8H1029.7V316.5H1009.6zM1134.9 308.8H1155.0V316.5H1134.9zM1165.0 308.8H1170.0V316.5H1165.0zM1180.1 308.8H1195.1V316.5H1180.1zM1320.5 308.8H1325.5V316.5H1320.5zM1390.7 308.8H1400.7V316.5H1390.7zM1581.2 308.8H1586.2V316.5H1581.2zM1596.2 308.8H1601.3V316.5H1596.2zM558.3 324.6H563.3V332.9H558.3zM568.4 324.6H573.4V332.9H568.4zM628.5 324.6H633.5V332.9H628.5zM784.0 324.6H794.0V332.9H784.0zM849.1 324.6H859.2V332.9H849.1zM869.2 324.6H874.2V332.9H869.2zM944.4 324.6H979.5V332.9H944.4zM1039.7 324.6H1044.7V332.9H1039.7zM1089.8 324.6H1094.8V332.9H1089.8zM1104.9 324.6H1109.9V332.9H1104.9zM1210.2 324.6H1215.2V332.9H1210.2zM1280.4 324.6H1295.4V332.9H1280.4zM1305.4 324.6H1310.4V332.9H1305.4zM1325.5 324.6H1330.5V332.9H1325.5zM1340.5 324.6H1345.5V332.9H1340.5zM1370.6 324.6H1375.6V332.9H1370.6zM568.4 301.2H573.4V308.8H568.4zM894.3 301.2H899.3V308.8H894.3zM1064.7 301.2H1069.8V308.8H1064.7zM1325.5 301.2H1330.5V308.8H1325.5zM1340.5 301.2H1345.5V308.8H1340.5zM493.1 341.4H498.2V350.3H493.1zM568.4 341.4H573.4V350.3H568.4zM663.6 341.4H668.6V350.3H663.6zM794.0 341.4H804.0V350.3H794.0zM829.1 341.4H854.2V350.3H829.1zM874.2 341.4H879.2V350.3H874.2zM929.4 341.4H944.4V350.3H929.4zM999.6 341.4H1004.6V350.3H999.6zM1059.7 341.4H1064.7V350.3H1059.7zM1109.9 341.4H1119.9V350.3H1109.9zM1190.1 341.4H1195.1V350.3H1190.1zM1225.2 341.4H1230.2V350.3H1225.2zM1250.3 341.4H1260.3V350.3H1250.3zM1310.4 341.4H1315.5V350.3H1310.4zM1355.6 341.4H1370.6V350.3H1355.6zM1375.6 341.4H1380.6V350.3H1375.6zM563.3 332.9H568.4V341.4H563.3zM643.6 332.9H648.6V341.4H643.6zM763.9 332.9H773.9V341.4H763.9zM884.2 332.9H889.3V341.4H884.2zM909.3 332.9H924.4V341.4H909.3zM989.5 332.9H994.6V341.4H989.5zM1049.7 332.9H1054.7V341.4H1049.7zM1129.9 332.9H1155.0V341.4H1129.9zM1180.1 332.9H1190.1V341.4H1180.1zM1265.3 332.9H1275.3V341.4H1265.3zM1300.4 332.9H1305.4V341.4H1300.4zM1320.5 332.9H1325.5V341.4H1320.5zM1350.6 332.9H1355.6V341.4H1350.6zM422.9 293.8H428.0V301.2H422.9zM573.4 293.8H578.4V301.2H573.4zM593.4 293.8H598.4V301.2H593.4zM683.7 293.8H688.7V301.2H683.7zM1054.7 293.8H1059.7V301.2H1054.7zM1335.5 293.8H1340.5V301.2H1335.5zM1380.6 293.8H1385.6V301.2H1380.6zM1410.7 293.8H1420.7V301.2H1410.7zM1591.2 293.8H1596.2V301.2H1591.2zM1706.5 293.8H1711.6V301.2H1706.5zM1776.7 293.8H1781.8V301.2H1776.7zM688.7 350.3H693.7V359.5H688.7zM794.0 350.3H799.0V359.5H794.0zM859.2 350.3H869.2V359.5H859.2zM979.5 350.3H994.6V359.5H979.5zM1069.8 350.3H1074.8V359.5H1069.8zM1195.1 350.3H1200.1V359.5H1195.1zM1240.2 350.3H1245.3V359.5H1240.2zM1265.3 350.3H1280.4V359.5H1265.3zM1295.4 350.3H1305.4V359.5H1295.4zM578.4 359.5H583.4V369.0H578.4zM824.1 359.5H829.1V369.0H824.1zM999.6 359.5H1004.6V369.0H999.6zM1079.8 359.5H1084.8V369.0H1079.8zM1250.3 359.5H1260.3V369.0H1250.3zM733.8 369.0H738.8V378.9H733.8zM844.1 369.0H849.1V378.9H844.1zM1089.8 369.0H1094.8V378.9H1089.8zM1114.9 369.0H1119.9V378.9H1114.9zM1275.3 369.0H1295.4V378.9H1275.3zM758.9 378.9H768.9V389.2H758.9zM864.2 378.9H869.2V389.2H864.2zM1099.8 378.9H1104.9V389.2H1099.8zM1114.9 378.9H1119.9V389.2H1114.9zM1215.2 378.9H1220.2V389.2H1215.2zM548.3 389.2H553.3V399.9H548.3zM819.1 389.2H834.1V399.9H819.1zM874.2 389.2H879.2V399.9H874.2zM1114.9 389.2H1119.9V399.9H1114.9zM448.0 247.6H453.0V253.7H448.0zM1536.1 247.6H1541.1V253.7H1536.1zM1571.2 247.6H1576.2V253.7H1571.2zM1651.4 247.6H1656.4V253.7H1651.4zM1721.6 247.6H1726.6V253.7H1721.6zM1736.6 247.6H1741.6V253.7H1736.6zM422.9 241.6H438.0V247.6H422.9zM1531.1 241.6H1536.1V247.6H1531.1zM1606.3 241.6H1611.3V247.6H1606.3zM1621.3 241.6H1626.3V247.6H1621.3zM1731.6 241.6H1736.6V247.6H1731.6zM1430.8 235.8H1435.8V241.6H1430.8zM1475.9 235.8H1480.9V241.6H1475.9zM1566.2 235.8H1571.2V241.6H1566.2zM1606.3 235.8H1611.3V241.6H1606.3zM1726.6 235.8H1731.6V241.6H1726.6zM1425.8 230.0H1430.8V235.8H1425.8zM1470.9 230.0H1475.9V235.8H1470.9zM1606.3 230.0H1611.3V235.8H1606.3zM1616.3 230.0H1621.3V235.8H1616.3zM1425.8 224.5H1430.8V230.0H1425.8zM1521.0 224.5H1526.0V230.0H1521.0zM1606.3 224.5H1616.3V230.0H1606.3zM1721.6 224.5H1726.6V230.0H1721.6zM1425.8 219.0H1430.8V224.5H1425.8zM1465.9 219.0H1470.9V224.5H1465.9zM1556.1 219.0H1561.1V224.5H1556.1zM1425.8 213.6H1430.8V219.0H1425.8zM1516.0 213.6H1521.0V219.0H1516.0zM1511.0 208.4H1516.0V213.6H1511.0zM1551.1 208.4H1556.1V213.6H1551.1zM593.4 286.7H598.4V293.8H593.4zM663.6 286.7H668.6V293.8H663.6zM1325.5 286.7H1330.5V293.8H1325.5zM1355.6 286.7H1360.6V293.8H1355.6zM1385.6 286.7H1390.7V293.8H1385.6zM1631.3 286.7H1636.4V293.8H1631.3zM1766.7 286.7H1776.7V293.8H1766.7zM508.2 279.8H513.2V286.7H508.2zM598.4 279.8H608.5V286.7H598.4zM643.6 279.8H648.6V286.7H643.6zM1009.6 279.8H1014.6V286.7H1009.6zM1039.7 279.8H1044.7V286.7H1039.7zM1350.6 279.8H1355.6V286.7H1350.6zM1395.7 279.8H1400.7V286.7H1395.7zM1465.9 279.8H1485.9V286.7H1465.9zM1586.2 279.8H1591.2V286.7H1586.2zM1626.3 279.8H1636.4V286.7H1626.3zM1701.5 279.8H1706.5V286.7H1701.5zM1756.7 279.8H1761.7V286.7H1756.7zM1766.7 279.8H1771.7V286.7H1766.7zM498.2 273.0H503.2V279.8H498.2zM1014.6 273.0H1034.7V279.8H1014.6zM1325.5 273.0H1330.5V279.8H1325.5zM1460.9 273.0H1465.9V279.8H1460.9zM1621.3 273.0H1626.3V279.8H1621.3zM1631.3 273.0H1636.4V279.8H1631.3zM1746.7 273.0H1751.7V279.8H1746.7zM488.1 266.4H493.1V273.0H488.1zM1485.9 266.4H1490.9V273.0H1485.9zM1581.2 266.4H1586.2V273.0H1581.2zM1616.3 266.4H1621.3V273.0H1616.3zM1736.6 266.4H1741.6V273.0H1736.6zM1751.7 266.4H1756.7V273.0H1751.7zM473.1 260.0H478.1V266.4H473.1zM1445.8 260.0H1450.8V266.4H1445.8zM1696.5 260.0H1701.5V266.4H1696.5zM1721.6 260.0H1726.6V266.4H1721.6zM1731.6 260.0H1736.6V266.4H1731.6zM1746.7 260.0H1751.7V266.4H1746.7zM463.1 253.7H468.1V260.0H463.1zM1440.8 253.7H1445.8V260.0H1440.8zM1480.9 253.7H1485.9V260.0H1480.9zM1611.3 253.7H1616.3V260.0H1611.3zM1626.3 253.7H1631.3V260.0H1626.3zM1721.6 253.7H1731.6V260.0H1721.6zM563.3 399.9H573.4V411.1H563.3zM578.4 399.9H588.4V411.1H578.4zM869.2 399.9H884.2V411.1H869.2zM1225.2 399.9H1230.2V411.1H1225.2zM1240.2 422.8H1245.3V435.0H1240.2zM1250.3 435.0H1255.3V447.9H1250.3zM1260.3 435.0H1265.3V447.9H1260.3zM1450.8 203.2H1455.8V208.4H1450.8zM1546.1 203.2H1551.1V208.4H1546.1zM1716.6 203.2H1721.6V208.4H1716.6zM1445.8 198.2H1450.8V203.2H1445.8zM1716.6 198.2H1721.6V203.2H1716.6zM1440.8 193.3H1450.8V198.2H1440.8zM1506.0 193.3H1511.0V198.2H1506.0zM1541.1 193.3H1546.1V198.2H1541.1zM1716.6 193.3H1721.6V198.2H1716.6zM1430.8 188.4H1445.8V193.3H1430.8zM1506.0 188.4H1511.0V193.3H1506.0zM1536.1 188.4H1541.1V193.3H1536.1zM1716.6 188.4H1721.6V193.3H1716.6zM1506.0 183.7H1511.0V188.4H1506.0zM1531.1 183.7H1536.1V188.4H1531.1zM1716.6 183.7H1721.6V188.4H1716.6zM1506.0 179.0H1516.0V183.7H1506.0zM1526.0 179.0H1531.1V183.7H1526.0zM1716.6 179.0H1721.6V183.7H1716.6zM1501.0 174.4H1516.0V179.0H1501.0zM1716.6 174.4H1721.6V179.0H1716.6zM1501.0 169.9H1511.0V174.4H1501.0zM1716.6 169.9H1721.6V174.4H1716.6zM1716.6 165.4H1721.6V169.9H1716.6zM1716.6 161.1H1721.6V165.4H1716.6z"/>
<path fill="#fdc527" d="M563.3 316.5H573.4V324.6H563.3zM598.4 316.5H608.5V324.6H598.4zM618.5 316.5H623.5V324.6H618.5zM884.2 316.5H929.4V324.6H884.2zM1004.6 316.5H1009.6V324.6H1004.6zM1034.7 316.5H1039.7V324.6H1034.7zM1079.8 316.5H1084.8V324.6H1079.8zM1124.9 316.5H1185.1V324.6H1124.9zM1200.1 316.5H1205.1V324.6H1200.1zM1315.5 316.5H1355.6V324.6H1315.5zM1380.6 316.5H1385.6V324.6H1380.6zM1410.7 316.5H1420.7V324.6H1410.7zM1721.6 316.5H1726.6V324.6H1721.6zM448.0 308.8H453.0V316.5H448.0zM543.3 308.8H548.3V316.5H543.3zM568.4 308.8H613.5V316.5H568.4zM889.3 308.8H909.3V316.5H889.3zM1004.6 308.8H1009.6V316.5H1004.6zM1155.0 308.8H1165.0V316.5H1155.0zM1170.0 308.8H1180.1V316.5H1170.0zM1325.5 308.8H1350.6V316.5H1325.5zM1380.6 308.8H1390.7V316.5H1380.6zM1405.7 308.8H1420.7V316.5H1405.7zM1586.2 308.8H1596.2V316.5H1586.2zM1716.6 308.8H1726.6V316.5H1716.6zM473.1 324.6H478.1V332.9H473.1zM563.3 324.6H568.4V332.9H563.3zM633.5 324.6H638.6V332.9H633.5zM748.9 324.6H753.9V332.9H748.9zM794.0 324.6H849.1V332.9H794.0zM874.2 324.6H944.4V332.9H874.2zM1004.6 324.6H1009.6V332.9H1004.6zM1044.7 324.6H1049.7V332.9H1044.7zM1109.9 324.6H1185.1V332.9H1109.9zM1310.4 324.6H1325.5V332.9H1310.4zM1345.5 324.6H1370.6V332.9H1345.5zM1375.6 324.6H1380.6V332.9H1375.6zM533.3 301.2H538.3V308.8H533.3zM573.4 301.2H578.4V308.8H573.4zM588.4 301.2H608.5V308.8H588.4zM698.7 301.2H703.7V308.8H698.7zM1009.6 301.2H1024.6V308.8H1009.6zM1330.5 301.2H1340.5V308.8H1330.5zM1380.6 301.2H1385.6V308.8H1380.6zM1390.7 301.2H1400.7V308.8H1390.7zM1405.7 301.2H1420.7V308.8H1405.7zM1576.2 301.2H1581.2V308.8H1576.2zM1591.2 301.2H1596.2V308.8H1591.2zM1711.6 301.2H1716.6V308.8H1711.6zM1721.6 301.2H1726.6V308.8H1721.6zM668.6 341.4H673.7V350.3H668.6zM773.9 341.4H794.0V350.3H773.9zM854.2 341.4H874.2V350.3H854.2zM944.4 341.4H999.6V350.3H944.4zM1104.9 341.4H1109.9V350.3H1104.9zM1260.3 341.4H1310.4V350.3H1260.3zM1370.6 341.4H1375.6V350.3H1370.6zM483.1 332.9H488.1V341.4H483.1zM648.6 332.9H653.6V341.4H648.6zM773.9 332.9H884.2V341.4H773.9zM924.4 332.9H989.5V341.4H924.4zM1099.8 332.9H1129.9V341.4H1099.8zM1215.2 332.9H1220.2V341.4H1215.2zM1275.3 332.9H1300.4V341.4H1275.3zM1305.4 332.9H1320.5V341.4H1305.4zM1355.6 332.9H1380.6V341.4H1355.6zM523.2 293.8H528.2V301.2H523.2zM578.4 293.8H593.4V301.2H578.4zM598.4 293.8H603.5V301.2H598.4zM678.7 293.8H683.7V301.2H678.7zM1340.5 293.8H1345.5V301.2H1340.5zM1355.6 293.8H1360.6V301.2H1355.6zM1385.6 293.8H1390.7V301.2H1385.6zM1405.7 293.8H1410.7V301.2H1405.7zM1571.2 293.8H1576.2V301.2H1571.2zM1721.6 293.8H1726.6V301.2H1721.6zM508.2 350.3H513.2V359.5H508.2zM573.4 350.3H578.4V359.5H573.4zM693.7 350.3H698.7V359.5H693.7zM789.0 350.3H794.0V359.5H789.0zM994.6 350.3H1004.6V359.5H994.6zM1230.2 350.3H1235.2V359.5H1230.2zM1245.3 350.3H1265.3V359.5H1245.3zM518.2 359.5H523.2V369.0H518.2zM713.8 359.5H718.8V369.0H713.8zM819.1 359.5H824.1V369.0H819.1zM1109.9 359.5H1114.9V369.0H1109.9zM1235.2 359.5H1250.3V369.0H1235.2zM528.2 369.0H533.3V378.9H528.2zM738.8 369.0H743.8V378.9H738.8zM839.1 369.0H844.1V378.9H839.1zM1210.2 369.0H1215.2V378.9H1210.2zM538.3 378.9H543.3V389.2H538.3zM583.4 378.9H588.4V389.2H583.4zM768.9 378.9H773.9V389.2H768.9zM854.2 378.9H864.2V389.2H854.2zM1104.9 378.9H1114.9V389.2H1104.9zM553.3 389.2H558.3V399.9H553.3zM583.4 389.2H588.4V399.9H583.4zM834.1 389.2H874.2V399.9H834.1zM438.0 247.6H448.0V253.7H438.0zM1440.8 247.6H1445.8V253.7H1440.8zM1611.3 247.6H1626.3V253.7H1611.3zM1726.6 247.6H1736.6V253.7H1726.6zM1435.8 241.6H1440.8V247.6H1435.8zM1475.9 241.6H1480.9V247.6H1475.9zM1611.3 241.6H1621.3V247.6H1611.3zM1721.6 241.6H1731.6V247.6H1721.6zM1611.3 235.8H1621.3V241.6H1611.3zM1721.6 235.8H1726.6V241.6H1721.6zM1430.8 230.0H1435.8V235.8H1430.8zM1526.0 230.0H1531.1V235.8H1526.0zM1561.1 230.0H1566.2V235.8H1561.1zM1611.3 230.0H1616.3V235.8H1611.3zM1716.6 230.0H1726.6V235.8H1716.6zM1465.9 224.5H1470.9V230.0H1465.9zM1716.6 224.5H1721.6V230.0H1716.6zM1521.0 219.0H1526.0V224.5H1521.0zM1716.6 219.0H1721.6V224.5H1716.6zM1460.9 213.6H1465.9V219.0H1460.9zM1551.1 213.6H1556.1V219.0H1551.1zM1716.6 213.6H1721.6V219.0H1716.6zM1425.8 208.4H1430.8V213.6H1425.8zM1455.8 208.4H1460.9V213.6H1455.8zM1516.0 208.4H1521.0V213.6H1516.0zM1716.6 208.4H1721.6V213.6H1716.6zM513.2 286.7H518.2V293.8H513.2zM598.4 286.7H603.5V293.8H598.4zM658.6 286.7H663.6V293.8H658.6zM1009.6 286.7H1014.6V293.8H1009.6zM1044.7 286.7H1049.7V293.8H1044.7zM1390.7 286.7H1400.7V293.8H1390.7zM1566.2 286.7H1571.2V293.8H1566.2zM1706.5 286.7H1711.6V293.8H1706.5zM1721.6 286.7H1726.6V293.8H1721.6zM608.5 279.8H618.5V286.7H608.5zM638.6 279.8H643.6V286.7H638.6zM1014.6 279.8H1019.6V286.7H1014.6zM1034.7 279.8H1039.7V286.7H1034.7zM1561.1 279.8H1566.2V286.7H1561.1zM1721.6 279.8H1726.6V286.7H1721.6zM1761.7 279.8H1766.7V286.7H1761.7zM493.1 273.0H498.2V279.8H493.1zM1335.5 273.0H1340.5V279.8H1335.5zM1465.9 273.0H1470.9V279.8H1465.9zM1480.9 273.0H1485.9V279.8H1480.9zM1556.1 273.0H1561.1V279.8H1556.1zM1626.3 273.0H1631.3V279.8H1626.3zM1701.5 273.0H1706.5V279.8H1701.5zM1721.6 273.0H1726.6V279.8H1721.6zM1751.7 273.0H1761.7V279.8H1751.7zM483.1 266.4H488.1V273.0H483.1zM1455.8 266.4H1460.9V273.0H1455.8zM1551.1 266.4H1556.1V273.0H1551.1zM1621.3 266.4H1631.3V273.0H1621.3zM1721.6 266.4H1726.6V273.0H1721.6zM1741.6 266.4H1751.7V273.0H1741.6zM1480.9 260.0H1485.9V266.4H1480.9zM1546.1 260.0H1551.1V266.4H1546.1zM1576.2 260.0H1581.2V266.4H1576.2zM1616.3 260.0H1621.3V266.4H1616.3zM1626.3 260.0H1631.3V266.4H1626.3zM1736.6 260.0H1746.7V266.4H1736.6zM458.0 253.7H463.1V260.0H458.0zM1541.1 253.7H1546.1V260.0H1541.1zM1616.3 253.7H1626.3V260.0H1616.3zM1696.5 253.7H1701.5V260.0H1696.5zM1731.6 253.7H1741.6V260.0H1731.6zM573.4 399.9H578.4V411.1H573.4zM1255.3 399.9H1260.3V411.1H1255.3zM1260.3 422.8H1265.3V435.0H1260.3zM1255.3 435.0H1260.3V447.9H1255.3zM1425.8 203.2H1435.8V208.4H1425.8zM1445.8 203.2H1450.8V208.4H1445.8zM1511.0 203.2H1516.0V208.4H1511.0zM1425.8 198.2H1445.8V203.2H1425.8zM1511.0 198.2H1516.0V203.2H1511.0zM1541.1 198.2H1546.1V203.2H1541.1zM1425.8 193.3H1440.8V198.2H1425.8zM1511.0 193.3H1516.0V198.2H1511.0zM1536.1 193.3H1541.1V198.2H1536.1zM1511.0 188.4H1516.0V193.3H1511.0zM1531.1 188.4H1536.1V193.3H1531.1zM1511.0 183.7H1516.0V188.4H1511.0zM1521.0 183.7H1531.1V188.4H1521.0zM1521.0 179.0H1526.0V183.7H1521.0z"/>
<path fill="#fccd25" d="M463.1 316.5H468.1V324.6H463.1zM548.3 316.5H553.3V324.6H548.3zM728.8 316.5H733.8V324.6H728.8zM1039.7 316.5H1044.7V324.6H1039.7zM1185.1 316.5H1190.1V324.6H1185.1zM1195.1 316.5H1200.1V324.6H1195.1zM713.8 308.8H718.8V316.5H713.8zM1029.7 308.8H1034.7V316.5H1029.7zM1069.8 308.8H1074.8V316.5H1069.8zM553.3 324.6H558.3V332.9H553.3zM1084.8 324.6H1089.8V332.9H1084.8zM1185.1 324.6H1190.1V332.9H1185.1zM1205.1 324.6H1210.2V332.9H1205.1zM438.0 301.2H443.0V308.8H438.0zM578.4 301.2H588.4V308.8H578.4zM693.7 301.2H698.7V308.8H693.7zM1059.7 301.2H1064.7V308.8H1059.7zM1385.6 301.2H1390.7V308.8H1385.6zM1581.2 301.2H1591.2V308.8H1581.2zM1716.6 301.2H1721.6V308.8H1716.6zM498.2 341.4H503.2V350.3H498.2zM673.7 341.4H678.7V350.3H673.7zM768.9 341.4H773.9V350.3H768.9zM1064.7 341.4H1069.8V350.3H1064.7zM1195.1 341.4H1200.1V350.3H1195.1zM488.1 332.9H493.1V341.4H488.1zM653.6 332.9H658.6V341.4H653.6zM758.9 332.9H763.9V341.4H758.9zM1054.7 332.9H1059.7V341.4H1054.7zM1094.8 332.9H1099.8V341.4H1094.8zM1190.1 332.9H1195.1V341.4H1190.1zM603.5 293.8H608.5V301.2H603.5zM673.7 293.8H678.7V301.2H673.7zM1009.6 293.8H1019.6V301.2H1009.6zM1049.7 293.8H1054.7V301.2H1049.7zM1350.6 293.8H1355.6V301.2H1350.6zM1390.7 293.8H1400.7V301.2H1390.7zM1586.2 293.8H1591.2V301.2H1586.2zM1711.6 293.8H1721.6V301.2H1711.6zM784.0 350.3H789.0V359.5H784.0zM1074.8 350.3H1079.8V359.5H1074.8zM1104.9 350.3H1109.9V359.5H1104.9zM1200.1 350.3H1205.1V359.5H1200.1zM718.8 359.5H723.8V369.0H718.8zM809.0 359.5H819.1V369.0H809.0zM1084.8 359.5H1089.8V369.0H1084.8zM1205.1 359.5H1210.2V369.0H1205.1zM578.4 369.0H583.4V378.9H578.4zM743.8 369.0H748.9V378.9H743.8zM834.1 369.0H839.1V378.9H834.1zM1094.8 369.0H1114.9V378.9H1094.8zM1240.2 369.0H1245.3V378.9H1240.2zM773.9 378.9H799.0V389.2H773.9zM844.1 378.9H854.2V389.2H844.1zM558.3 389.2H563.3V399.9H558.3zM1225.2 389.2H1230.2V399.9H1225.2zM1250.3 389.2H1255.3V399.9H1250.3zM422.9 247.6H438.0V253.7H422.9zM1475.9 247.6H1480.9V253.7H1475.9zM1541.1 247.6H1546.1V253.7H1541.1zM1696.5 247.6H1701.5V253.7H1696.5zM1716.6 247.6H1721.6V253.7H1716.6zM1536.1 241.6H1541.1V247.6H1536.1zM1566.2 241.6H1571.2V247.6H1566.2zM1716.6 241.6H1721.6V247.6H1716.6zM1435.8 235.8H1440.8V241.6H1435.8zM1470.9 235.8H1475.9V241.6H1470.9zM1531.1 235.8H1536.1V241.6H1531.1zM1561.1 235.8H1566.2V241.6H1561.1zM1716.6 235.8H1721.6V241.6H1716.6zM1465.9 230.0H1470.9V235.8H1465.9zM1430.8 224.5H1435.8V230.0H1430.8zM1526.0 224.5H1531.1V230.0H1526.0zM1556.1 224.5H1561.1V230.0H1556.1zM1430.8 219.0H1435.8V224.5H1430.8zM1460.9 219.0H1465.9V224.5H1460.9zM1430.8 213.6H1435.8V219.0H1430.8zM1455.8 213.6H1460.9V219.0H1455.8zM1521.0 213.6H1526.0V219.0H1521.0zM1430.8 208.4H1440.8V213.6H1430.8zM1445.8 208.4H1455.8V213.6H1445.8zM1546.1 208.4H1551.1V213.6H1546.1zM603.5 286.7H608.5V293.8H603.5zM653.6 286.7H658.6V293.8H653.6zM1014.6 286.7H1019.6V293.8H1014.6zM1039.7 286.7H1044.7V293.8H1039.7zM1330.5 286.7H1335.5V293.8H1330.5zM1586.2 286.7H1591.2V293.8H1586.2zM503.2 279.8H508.2V286.7H503.2zM618.5 279.8H638.6V286.7H618.5zM1019.6 279.8H1024.6V286.7H1019.6zM1029.7 279.8H1034.7V286.7H1029.7zM1325.5 279.8H1330.5V286.7H1325.5zM1345.5 279.8H1350.6V286.7H1345.5zM1706.5 279.8H1711.6V286.7H1706.5zM1330.5 273.0H1335.5V279.8H1330.5zM1470.9 273.0H1480.9V279.8H1470.9zM1581.2 273.0H1586.2V279.8H1581.2zM478.1 266.4H483.1V273.0H478.1zM1460.9 266.4H1465.9V273.0H1460.9zM1480.9 266.4H1485.9V273.0H1480.9zM1701.5 266.4H1706.5V273.0H1701.5zM468.1 260.0H473.1V266.4H468.1zM1450.8 260.0H1455.8V266.4H1450.8zM1621.3 260.0H1626.3V266.4H1621.3zM1701.5 260.0H1706.5V266.4H1701.5zM448.0 253.7H458.0V260.0H448.0zM1445.8 253.7H1450.8V260.0H1445.8zM1571.2 253.7H1576.2V260.0H1571.2zM1230.2 399.9H1235.2V411.1H1230.2zM1235.2 411.1H1240.2V422.8H1235.2zM1245.3 422.8H1250.3V435.0H1245.3zM1435.8 203.2H1445.8V208.4H1435.8zM1516.0 203.2H1521.0V208.4H1516.0zM1541.1 203.2H1546.1V208.4H1541.1zM1516.0 198.2H1521.0V203.2H1516.0zM1516.0 193.3H1521.0V198.2H1516.0zM1711.6 193.3H1716.6V198.2H1711.6zM1521.0 188.4H1531.1V193.3H1521.0zM1711.6 188.4H1716.6V193.3H1711.6zM1711.6 183.7H1716.6V188.4H1711.6zM1711.6 179.0H1716.6V183.7H1711.6zM1711.6 174.4H1716.6V179.0H1711.6zM1711.6 169.9H1716.6V174.4H1711.6zM1711.6 165.4H1716.6V169.9H1711.6zM1711.6 161.1H1716.6V165.4H1711.6zM1711.6 156.8H1716.6V161.1H1711.6z"/>
<path fill="#fbd524" d="M468.1 316.5H473.1V324.6H468.1zM623.5 316.5H628.5V324.6H623.5zM723.8 316.5H728.8V324.6H723.8zM1074.8 316.5H1079.8V324.6H1074.8zM1190.1 316.5H1195.1V324.6H1190.1zM453.0 308.8H458.0V316.5H453.0zM538.3 308.8H543.3V316.5H538.3zM613.5 308.8H618.5V316.5H613.5zM708.8 308.8H713.8V316.5H708.8zM1034.7 308.8H1039.7V316.5H1034.7zM1064.7 308.8H1069.8V316.5H1064.7zM478.1 324.6H483.1V332.9H478.1zM638.6 324.6H643.6V332.9H638.6zM743.8 324.6H748.9V332.9H743.8zM1049.7 324.6H1054.7V332.9H1049.7zM1190.1 324.6H1205.1V332.9H1190.1zM443.0 301.2H448.0V308.8H443.0zM528.2 301.2H533.3V308.8H528.2zM608.5 301.2H613.5V308.8H608.5zM688.7 301.2H693.7V308.8H688.7zM1024.6 301.2H1029.7V308.8H1024.6zM1054.7 301.2H1059.7V308.8H1054.7zM563.3 341.4H568.4V350.3H563.3zM678.7 341.4H683.7V350.3H678.7zM1069.8 341.4H1074.8V350.3H1069.8zM1099.8 341.4H1104.9V350.3H1099.8zM1220.2 341.4H1225.2V350.3H1220.2zM558.3 332.9H563.3V341.4H558.3zM1059.7 332.9H1064.7V341.4H1059.7zM1195.1 332.9H1200.1V341.4H1195.1zM1210.2 332.9H1215.2V341.4H1210.2zM518.2 293.8H523.2V301.2H518.2zM608.5 293.8H613.5V301.2H608.5zM668.6 293.8H673.7V301.2H668.6zM1019.6 293.8H1024.6V301.2H1019.6zM1044.7 293.8H1049.7V301.2H1044.7zM1345.5 293.8H1350.6V301.2H1345.5zM1576.2 293.8H1586.2V301.2H1576.2zM513.2 350.3H518.2V359.5H513.2zM698.7 350.3H703.7V359.5H698.7zM778.9 350.3H784.0V359.5H778.9zM1079.8 350.3H1084.8V359.5H1079.8zM1225.2 350.3H1230.2V359.5H1225.2zM523.2 359.5H528.2V369.0H523.2zM573.4 359.5H578.4V369.0H573.4zM723.8 359.5H728.8V369.0H723.8zM804.0 359.5H809.0V369.0H804.0zM1089.8 359.5H1094.8V369.0H1089.8zM1104.9 359.5H1109.9V369.0H1104.9zM533.3 369.0H538.3V378.9H533.3zM824.1 369.0H834.1V378.9H824.1zM543.3 378.9H548.3V389.2H543.3zM578.4 378.9H583.4V389.2H578.4zM799.0 378.9H844.1V389.2H799.0zM1220.2 378.9H1225.2V389.2H1220.2zM1245.3 378.9H1250.3V389.2H1245.3zM563.3 389.2H583.4V399.9H563.3zM1445.8 247.6H1450.8V253.7H1445.8zM1566.2 247.6H1571.2V253.7H1566.2zM1440.8 241.6H1445.8V247.6H1440.8zM1470.9 241.6H1475.9V247.6H1470.9zM1696.5 241.6H1701.5V247.6H1696.5zM1696.5 235.8H1701.5V241.6H1696.5zM1435.8 230.0H1440.8V235.8H1435.8zM1531.1 230.0H1536.1V235.8H1531.1zM1556.1 230.0H1561.1V235.8H1556.1zM1696.5 230.0H1701.5V235.8H1696.5zM1460.9 224.5H1465.9V230.0H1460.9zM1696.5 224.5H1701.5V230.0H1696.5zM1435.8 219.0H1440.8V224.5H1435.8zM1526.0 219.0H1531.1V224.5H1526.0zM1551.1 219.0H1556.1V224.5H1551.1zM1711.6 219.0H1716.6V224.5H1711.6zM1435.8 213.6H1445.8V219.0H1435.8zM1450.8 213.6H1455.8V219.0H1450.8zM1546.1 213.6H1551.1V219.0H1546.1zM1711.6 213.6H1716.6V219.0H1711.6zM1440.8 208.4H1445.8V213.6H1440.8zM1521.0 208.4H1526.0V213.6H1521.0zM1711.6 208.4H1716.6V213.6H1711.6zM508.2 286.7H513.2V293.8H508.2zM608.5 286.7H618.5V293.8H608.5zM648.6 286.7H653.6V293.8H648.6zM1034.7 286.7H1039.7V293.8H1034.7zM1335.5 286.7H1340.5V293.8H1335.5zM1350.6 286.7H1355.6V293.8H1350.6zM1571.2 286.7H1576.2V293.8H1571.2zM1711.6 286.7H1721.6V293.8H1711.6zM1024.6 279.8H1029.7V286.7H1024.6zM1340.5 279.8H1345.5V286.7H1340.5zM1566.2 279.8H1571.2V286.7H1566.2zM1581.2 279.8H1586.2V286.7H1581.2zM1711.6 279.8H1721.6V286.7H1711.6zM488.1 273.0H493.1V279.8H488.1zM1561.1 273.0H1566.2V279.8H1561.1zM1706.5 273.0H1711.6V279.8H1706.5zM1716.6 273.0H1721.6V279.8H1716.6zM473.1 266.4H478.1V273.0H473.1zM1465.9 266.4H1480.9V273.0H1465.9zM1556.1 266.4H1561.1V273.0H1556.1zM1576.2 266.4H1581.2V273.0H1576.2zM1716.6 266.4H1721.6V273.0H1716.6zM463.1 260.0H468.1V266.4H463.1zM1455.8 260.0H1460.9V266.4H1455.8zM1475.9 260.0H1480.9V266.4H1475.9zM1551.1 260.0H1556.1V266.4H1551.1zM1716.6 260.0H1721.6V266.4H1716.6zM443.0 253.7H448.0V260.0H443.0zM1475.9 253.7H1480.9V260.0H1475.9zM1546.1 253.7H1551.1V260.0H1546.1zM1701.5 253.7H1706.5V260.0H1701.5zM1716.6 253.7H1721.6V260.0H1716.6zM1255.3 411.1H1260.3V422.8H1255.3zM1250.3 422.8H1260.3V435.0H1250.3zM1521.0 203.2H1526.0V208.4H1521.0zM1711.6 203.2H1716.6V208.4H1711.6zM1536.1 198.2H1541.1V203.2H1536.1zM1711.6 198.2H1716.6V203.2H1711.6zM1521.0 193.3H1536.1V198.2H1521.0zM1706.5 179.0H1711.6V183.7H1706.5zM1706.5 174.4H1711.6V179.0H1706.5zM1706.5 169.9H1711.6V174.4H1706.5zM1706.5 165.4H1711.6V169.9H1706.5zM1706.5 161.1H1711.6V165.4H1706.5zM1701.5 156.8H1711.6V161.1H1701.5zM1701.5 152.6H1711.6V156.8H1701.5z"/>
<path fill="#f8df25" d="M628.5 316.5H633.5V324.6H628.5zM1044.7 316.5H1049.7V324.6H1044.7zM1069.8 316.5H1074.8V324.6H1069.8zM458.0 308.8H463.1V316.5H458.0zM703.7 308.8H708.8V316.5H703.7zM1039.7 308.8H1044.7V316.5H1039.7zM643.6 324.6H648.6V332.9H643.6zM738.8 324.6H743.8V332.9H738.8zM1054.7 324.6H1059.7V332.9H1054.7zM1079.8 324.6H1084.8V332.9H1079.8zM683.7 301.2H688.7V308.8H683.7zM1029.7 301.2H1039.7V308.8H1029.7zM1049.7 301.2H1054.7V308.8H1049.7zM503.2 341.4H508.2V350.3H503.2zM683.7 341.4H688.7V350.3H683.7zM763.9 341.4H768.9V350.3H763.9zM1200.1 341.4H1205.1V350.3H1200.1zM493.1 332.9H498.2V341.4H493.1zM658.6 332.9H663.6V341.4H658.6zM753.9 332.9H758.9V341.4H753.9zM1089.8 332.9H1094.8V341.4H1089.8zM1200.1 332.9H1210.2V341.4H1200.1zM663.6 293.8H668.6V301.2H663.6zM1024.6 293.8H1034.7V301.2H1024.6zM1039.7 293.8H1044.7V301.2H1039.7zM568.4 350.3H573.4V359.5H568.4zM703.7 350.3H708.8V359.5H703.7zM773.9 350.3H778.9V359.5H773.9zM1099.8 350.3H1104.9V359.5H1099.8zM1205.1 350.3H1210.2V359.5H1205.1zM728.8 359.5H733.8V369.0H728.8zM794.0 359.5H804.0V369.0H794.0zM1094.8 359.5H1104.9V369.0H1094.8zM1210.2 359.5H1215.2V369.0H1210.2zM1230.2 359.5H1235.2V369.0H1230.2zM573.4 369.0H578.4V378.9H573.4zM748.9 369.0H758.9V378.9H748.9zM804.0 369.0H824.1V378.9H804.0zM1215.2 369.0H1220.2V378.9H1215.2zM548.3 378.9H553.3V389.2H548.3zM573.4 378.9H578.4V389.2H573.4zM1470.9 247.6H1475.9V253.7H1470.9zM1546.1 247.6H1551.1V253.7H1546.1zM1701.5 247.6H1706.5V253.7H1701.5zM1445.8 241.6H1450.8V247.6H1445.8zM1541.1 241.6H1546.1V247.6H1541.1zM1561.1 241.6H1566.2V247.6H1561.1zM1701.5 241.6H1706.5V247.6H1701.5zM1711.6 241.6H1716.6V247.6H1711.6zM1440.8 235.8H1445.8V241.6H1440.8zM1465.9 235.8H1470.9V241.6H1465.9zM1536.1 235.8H1541.1V241.6H1536.1zM1711.6 235.8H1716.6V241.6H1711.6zM1460.9 230.0H1465.9V235.8H1460.9zM1711.6 230.0H1716.6V235.8H1711.6zM1435.8 224.5H1440.8V230.0H1435.8zM1531.1 224.5H1536.1V230.0H1531.1zM1551.1 224.5H1556.1V230.0H1551.1zM1711.6 224.5H1716.6V230.0H1711.6zM1455.8 219.0H1460.9V224.5H1455.8zM1696.5 219.0H1701.5V224.5H1696.5zM1445.8 213.6H1450.8V219.0H1445.8zM1526.0 213.6H1531.1V219.0H1526.0zM1696.5 213.6H1701.5V219.0H1696.5zM1526.0 208.4H1531.1V213.6H1526.0zM1541.1 208.4H1546.1V213.6H1541.1zM1696.5 208.4H1701.5V213.6H1696.5zM428.0 286.7H433.0V293.8H428.0zM618.5 286.7H623.5V293.8H618.5zM643.6 286.7H648.6V293.8H643.6zM1019.6 286.7H1034.7V293.8H1019.6zM1340.5 286.7H1350.6V293.8H1340.5zM1576.2 286.7H1586.2V293.8H1576.2zM498.2 279.8H503.2V286.7H498.2zM1330.5 279.8H1340.5V286.7H1330.5zM1576.2 279.8H1581.2V286.7H1576.2zM483.1 273.0H488.1V279.8H483.1zM1576.2 273.0H1581.2V279.8H1576.2zM1711.6 273.0H1716.6V279.8H1711.6zM1706.5 266.4H1716.6V273.0H1706.5zM458.0 260.0H463.1V266.4H458.0zM1460.9 260.0H1475.9V266.4H1460.9zM1571.2 260.0H1576.2V266.4H1571.2zM1706.5 260.0H1716.6V266.4H1706.5zM428.0 253.7H443.0V260.0H428.0zM1450.8 253.7H1455.8V260.0H1450.8zM1470.9 253.7H1475.9V260.0H1470.9zM1250.3 399.9H1255.3V411.1H1250.3zM1240.2 411.1H1245.3V422.8H1240.2zM1526.0 203.2H1541.1V208.4H1526.0zM1696.5 203.2H1701.5V208.4H1696.5zM1706.5 203.2H1711.6V208.4H1706.5zM1521.0 198.2H1536.1V203.2H1521.0zM1696.5 198.2H1701.5V203.2H1696.5zM1706.5 198.2H1711.6V203.2H1706.5zM1696.5 193.3H1701.5V198.2H1696.5zM1706.5 193.3H1711.6V198.2H1706.5zM1696.5 188.4H1711.6V193.3H1696.5zM1696.5 183.7H1711.6V188.4H1696.5zM1696.5 179.0H1706.5V183.7H1696.5zM1696.5 174.4H1706.5V179.0H1696.5zM1696.5 169.9H1706.5V174.4H1696.5zM1701.5 165.4H1706.5V169.9H1701.5zM1701.5 161.1H1706.5V165.4H1701.5z"/>
<path fill="#f6e826" d="M473.1 316.5H478.1V324.6H473.1zM543.3 316.5H548.3V324.6H543.3zM633.5 316.5H638.6V324.6H633.5zM718.8 316.5H723.8V324.6H718.8zM1049.7 316.5H1054.7V324.6H1049.7zM533.3 308.8H538.3V316.5H533.3zM618.5 308.8H623.5V316.5H618.5zM698.7 308.8H703.7V316.5H698.7zM1044.7 308.8H1064.7V316.5H1044.7zM483.1 324.6H488.1V332.9H483.1zM548.3 324.6H553.3V332.9H548.3zM648.6 324.6H653.6V332.9H648.6zM1059.7 324.6H1064.7V332.9H1059.7zM1074.8 324.6H1079.8V332.9H1074.8zM448.0 301.2H453.0V308.8H448.0zM523.2 301.2H528.2V308.8H523.2zM613.5 301.2H618.5V308.8H613.5zM1039.7 301.2H1049.7V308.8H1039.7zM508.2 341.4H513.2V350.3H508.2zM688.7 341.4H693.7V350.3H688.7zM1074.8 341.4H1084.8V350.3H1074.8zM1094.8 341.4H1099.8V350.3H1094.8zM1205.1 341.4H1220.2V350.3H1205.1zM663.6 332.9H668.6V341.4H663.6zM1064.7 332.9H1074.8V341.4H1064.7zM1084.8 332.9H1089.8V341.4H1084.8zM438.0 293.8H443.0V301.2H438.0zM513.2 293.8H518.2V301.2H513.2zM613.5 293.8H618.5V301.2H613.5zM658.6 293.8H663.6V301.2H658.6zM1034.7 293.8H1039.7V301.2H1034.7zM518.2 350.3H523.2V359.5H518.2zM708.8 350.3H713.8V359.5H708.8zM1084.8 350.3H1099.8V359.5H1084.8zM1220.2 350.3H1225.2V359.5H1220.2zM528.2 359.5H533.3V369.0H528.2zM733.8 359.5H738.8V369.0H733.8zM778.9 359.5H794.0V369.0H778.9zM1215.2 359.5H1220.2V369.0H1215.2zM538.3 369.0H543.3V378.9H538.3zM758.9 369.0H804.0V378.9H758.9zM1220.2 369.0H1225.2V378.9H1220.2zM1235.2 369.0H1240.2V378.9H1235.2zM553.3 378.9H558.3V389.2H553.3zM568.4 378.9H573.4V389.2H568.4zM1225.2 378.9H1230.2V389.2H1225.2zM1230.2 389.2H1235.2V399.9H1230.2zM1245.3 389.2H1250.3V399.9H1245.3zM1450.8 247.6H1455.8V253.7H1450.8zM1561.1 247.6H1566.2V253.7H1561.1zM1706.5 247.6H1716.6V253.7H1706.5zM1450.8 241.6H1455.8V247.6H1450.8zM1465.9 241.6H1470.9V247.6H1465.9zM1706.5 241.6H1711.6V247.6H1706.5zM1445.8 235.8H1450.8V241.6H1445.8zM1460.9 235.8H1465.9V241.6H1460.9zM1541.1 235.8H1546.1V241.6H1541.1zM1556.1 235.8H1561.1V241.6H1556.1zM1701.5 235.8H1711.6V241.6H1701.5zM1440.8 230.0H1450.8V235.8H1440.8zM1455.8 230.0H1460.9V235.8H1455.8zM1536.1 230.0H1541.1V235.8H1536.1zM1551.1 230.0H1556.1V235.8H1551.1zM1701.5 230.0H1711.6V235.8H1701.5zM1440.8 224.5H1445.8V230.0H1440.8zM1455.8 224.5H1460.9V230.0H1455.8zM1701.5 224.5H1711.6V230.0H1701.5zM1440.8 219.0H1455.8V224.5H1440.8zM1531.1 219.0H1536.1V224.5H1531.1zM1546.1 219.0H1551.1V224.5H1546.1zM1701.5 219.0H1711.6V224.5H1701.5zM1531.1 213.6H1536.1V219.0H1531.1zM1541.1 213.6H1546.1V219.0H1541.1zM1701.5 213.6H1711.6V219.0H1701.5zM1531.1 208.4H1541.1V213.6H1531.1zM1701.5 208.4H1711.6V213.6H1701.5zM433.0 286.7H438.0V293.8H433.0zM503.2 286.7H508.2V293.8H503.2zM623.5 286.7H628.5V293.8H623.5zM633.5 286.7H643.6V293.8H633.5zM493.1 279.8H498.2V286.7H493.1zM1571.2 279.8H1576.2V286.7H1571.2zM478.1 273.0H483.1V279.8H478.1zM1566.2 273.0H1576.2V279.8H1566.2zM468.1 266.4H473.1V273.0H468.1zM1561.1 266.4H1576.2V273.0H1561.1zM448.0 260.0H458.0V266.4H448.0zM1556.1 260.0H1561.1V266.4H1556.1zM1566.2 260.0H1571.2V266.4H1566.2zM1455.8 253.7H1470.9V260.0H1455.8zM1551.1 253.7H1556.1V260.0H1551.1zM1566.2 253.7H1571.2V260.0H1566.2zM1706.5 253.7H1716.6V260.0H1706.5zM1235.2 399.9H1240.2V411.1H1235.2zM1245.3 411.1H1255.3V422.8H1245.3zM1701.5 203.2H1706.5V208.4H1701.5zM1701.5 198.2H1706.5V203.2H1701.5zM1701.5 193.3H1706.5V198.2H1701.5z"/>
<path fill="#f3f027" d="M638.6 316.5H643.6V324.6H638.6zM713.8 316.5H718.8V324.6H713.8zM1054.7 316.5H1069.8V324.6H1054.7zM463.1 308.8H468.1V316.5H463.1zM623.5 308.8H628.5V316.5H623.5zM488.1 324.6H493.1V332.9H488.1zM653.6 324.6H658.6V332.9H653.6zM733.8 324.6H738.8V332.9H733.8zM1064.7 324.6H1074.8V332.9H1064.7zM453.0 301.2H458.0V308.8H453.0zM618.5 301.2H623.5V308.8H618.5zM678.7 301.2H683.7V308.8H678.7zM558.3 341.4H563.3V350.3H558.3zM693.7 341.4H698.7V350.3H693.7zM758.9 341.4H763.9V350.3H758.9zM1084.8 341.4H1094.8V350.3H1084.8zM498.2 332.9H503.2V341.4H498.2zM553.3 332.9H558.3V341.4H553.3zM668.6 332.9H673.7V341.4H668.6zM748.9 332.9H753.9V341.4H748.9zM1074.8 332.9H1084.8V341.4H1074.8zM443.0 293.8H448.0V301.2H443.0zM653.6 293.8H658.6V301.2H653.6zM563.3 350.3H568.4V359.5H563.3zM713.8 350.3H718.8V359.5H713.8zM768.9 350.3H773.9V359.5H768.9zM1210.2 350.3H1220.2V359.5H1210.2zM568.4 359.5H573.4V369.0H568.4zM738.8 359.5H743.8V369.0H738.8zM773.9 359.5H778.9V369.0H773.9zM1220.2 359.5H1230.2V369.0H1220.2zM568.4 369.0H573.4V378.9H568.4zM1225.2 369.0H1235.2V378.9H1225.2zM558.3 378.9H568.4V389.2H558.3zM1230.2 378.9H1235.2V389.2H1230.2zM1240.2 378.9H1245.3V389.2H1240.2zM1235.2 389.2H1245.3V399.9H1235.2zM1455.8 247.6H1470.9V253.7H1455.8zM1551.1 247.6H1561.1V253.7H1551.1zM1455.8 241.6H1465.9V247.6H1455.8zM1546.1 241.6H1561.1V247.6H1546.1zM1450.8 235.8H1460.9V241.6H1450.8zM1546.1 235.8H1556.1V241.6H1546.1zM1450.8 230.0H1455.8V235.8H1450.8zM1541.1 230.0H1551.1V235.8H1541.1zM1445.8 224.5H1455.8V230.0H1445.8zM1536.1 224.5H1551.1V230.0H1536.1zM1536.1 219.0H1546.1V224.5H1536.1zM1536.1 213.6H1541.1V219.0H1536.1zM628.5 286.7H633.5V293.8H628.5zM428.0 279.8H433.0V286.7H428.0zM488.1 279.8H493.1V286.7H488.1zM428.0 273.0H433.0V279.8H428.0zM428.0 266.4H433.0V273.0H428.0zM463.1 266.4H468.1V273.0H463.1zM428.0 260.0H448.0V266.4H428.0zM1561.1 260.0H1566.2V266.4H1561.1zM1556.1 253.7H1566.2V260.0H1556.1zM1240.2 399.9H1250.3V411.1H1240.2z"/>
<path fill="#f0f921" d="M478.1 316.5H543.3V324.6H478.1zM643.6 316.5H713.8V324.6H643.6zM468.1 308.8H533.3V316.5H468.1zM628.5 308.8H698.7V316.5H628.5zM493.1 324.6H548.3V332.9H493.1zM658.6 324.6H733.8V332.9H658.6zM458.0 301.2H523.2V308.8H458.0zM623.5 301.2H678.7V308.8H623.5zM513.2 341.4H558.3V350.3H513.2zM698.7 341.4H758.9V350.3H698.7zM503.2 332.9H553.3V341.4H503.2zM673.7 332.9H748.9V341.4H673.7zM448.0 293.8H513.2V301.2H448.0zM618.5 293.8H653.6V301.2H618.5zM523.2 350.3H563.3V359.5H523.2zM718.8 350.3H768.9V359.5H718.8zM533.3 359.5H568.4V369.0H533.3zM743.8 359.5H773.9V369.0H743.8zM543.3 369.0H568.4V378.9H543.3zM1235.2 378.9H1240.2V389.2H1235.2zM438.0 286.7H503.2V293.8H438.0zM433.0 279.8H488.1V286.7H433.0zM433.0 273.0H478.1V279.8H433.0zM433.0 266.4H463.1V273.0H433.0z"/>
</g>
<path d="M290.0 321.3 L300.9 319.1 L311.8 321.3 L322.7 325.2 L331.3 330.4 L337.9 335.4 L344.4 340.9 L348.7 340.4 L356.3 330.0 L362.9 321.3 L368.3 326.1 L377.0 334.3 L387.9 342.0 L396.6 338.3 L400.9 336.5 L405.3 332.2 L411.8 333.3 L418.3 342.0 L420.0 288.7 L421.6 262.2 L424.8 260.9 L431.3 268.0 L440.0 277.8 L448.7 286.5 L457.4 292.0 L468.3 296.3 L479.2 299.6 L490.0 306.1 L500.9 314.8 L511.8 324.6 L522.7 335.4 L531.3 344.1 L542.2 352.8 L553.1 362.6 L558.5 367.0 L560.7 345.2 L564.0 325.7 L568.3 312.6 L574.8 302.8 L582.4 298.5 L587.9 300.7 L596.6 302.8 L607.4 305.7 L612.9 299.6 L618.3 298.5 L624.8 294.1 L629.2 292.6 L637.9 295.2 L647.0 298.5 L648.7 301.7 L661.8 306.1 L674.8 313.0 L687.9 320.2 L703.1 328.9 L718.3 335.4 L731.3 343.0 L744.4 349.1 L753.1 350.7 L761.8 343.5 L774.8 337.6 L787.9 333.3 L796.6 327.8 L807.4 323.5 L814.0 321.7 L820.5 324.1 L829.2 324.1 L837.9 326.7 L846.6 328.9 L855.3 332.2 L864.0 337.0 L872.7 332.2 L880.3 325.7 L885.7 317.0 L890.0 313.0 L898.7 311.5 L907.4 314.3 L916.1 319.1 L927.0 322.4 L935.7 327.8 L946.6 331.1 L955.3 334.8 L964.0 332.2 L974.8 332.2 L981.3 336.1 L985.7 335.4 L996.6 343.0 L1004.8 348.5 L1006.3 321.3 L1008.5 296.3 L1016.1 291.3 L1024.8 288.0 L1033.5 292.0 L1042.2 299.6 L1047.0 303.9 L1048.7 310.4 L1061.8 321.3 L1074.8 333.3 L1085.7 343.0 L1094.4 348.5 L1100.9 337.6 L1107.4 331.1 L1114.0 328.9 L1124.8 322.4 L1137.9 319.1 L1150.9 315.9 L1159.6 313.3 L1168.3 315.4 L1177.0 314.8 L1185.7 318.0 L1196.6 325.7 L1205.3 333.3 L1211.8 336.5 L1220.5 346.3 L1229.2 358.3 L1234.6 365.9 L1242.2 356.1 L1255.3 348.5 L1266.1 342.0 L1277.0 336.1 L1285.7 332.6 L1294.4 334.3 L1303.1 338.3 L1311.8 328.9 L1320.5 319.1 L1329.2 309.3 L1335.7 303.9 L1342.2 307.2 L1348.7 314.8 L1357.4 324.6 L1366.1 328.9 L1373.7 331.1 L1380.3 326.7 L1383.5 301.7 L1390.0 295.2 L1398.7 291.3 L1405.3 298.5 L1411.8 303.9 L1419.4 305.7 L1420.0 310.4 L1423.3 264.8 L1426.5 245.2 L1430.9 231.1 L1439.6 225.7 L1448.3 228.9 L1459.1 234.3 L1465.7 240.9 L1470.4 247.4 L1475.4 234.3 L1479.8 219.1 L1487.4 215.9 L1496.1 217.6 L1504.8 217.0 L1510.2 223.5 L1515.7 245.2 L1520.0 238.7 L1526.5 238.7 L1533.0 243.0 L1541.7 251.7 L1550.4 258.3 L1559.1 268.0 L1567.8 280.0 L1580.9 292.0 L1589.6 301.7 L1596.1 308.3 L1601.5 295.2 L1604.3 267.0 L1609.1 265.9 L1615.7 272.4 L1622.2 285.4 L1628.7 292.0 L1636.3 297.0 L1646.1 285.4 L1657.0 292.0 L1667.8 300.7 L1678.7 307.2 L1686.5 314.8 L1690.7 295.2 L1693.5 251.7 L1695.7 221.3 L1701.5 209.3 L1709.1 217.0 L1720.0 230.0 L1730.9 248.5 L1741.7 259.3 L1750.4 263.7 L1761.3 282.2 L1772.2 273.5 L1782.0 293.0 L1793.9 303.9 L1805.9 313.7 L1811.3 310.4 L1817.8 315.9 L1822.2 326.7 L1831.3 333.3" fill="none" stroke="#000" stroke-width="6.8" stroke-linejoin="round"/>
<line x1="277.5" y1="809.0" x2="277.5" y2="89.4" stroke="#606060" stroke-width="2.0" stroke-dasharray="3.4 10.9"/>
<line x1="327.7" y1="809.0" x2="327.7" y2="89.4" stroke="#606060" stroke-width="2.0" stroke-dasharray="3.4 10.9"/>
<line x1="377.8" y1="809.0" x2="377.8" y2="89.4" stroke="#606060" stroke-width="2.0" stroke-dasharray="3.4 10.9"/>
<line x1="428.0" y1="89.4" x2="428.0" y2="809.0" stroke="#808080" stroke-width="1.7"/>
<line x1="478.1" y1="809.0" x2="478.1" y2="89.4" stroke="#606060" stroke-width="2.0" stroke-dasharray="3.4 10.9"/>
<line x1="528.2" y1="809.0" x2="528.2" y2="89.4" stroke="#606060" stroke-width="2.0" stroke-dasharray="3.4 10.9"/>
<line x1="578.4" y1="809.0" x2="578.4" y2="89.4" stroke="#606060" stroke-width="2.0" stroke-dasharray="3.4 10.9"/>
<line x1="628.5" y1="89.4" x2="628.5" y2="809.0" stroke="#808080" stroke-width="1.7"/>
<line x1="678.7" y1="809.0" x2="678.7" y2="89.4" stroke="#606060" stroke-width="2.0" stroke-dasharray="3.4 10.9"/>
<line x1="728.8" y1="809.0" x2="728.8" y2="89.4" stroke="#606060" stroke-width="2.0" stroke-dasharray="3.4 10.9"/>
<line x1="778.9" y1="809.0" x2="778.9" y2="89.4" stroke="#606060" stroke-width="2.0" stroke-dasharray="3.4 10.9"/>
<line x1="829.1" y1="89.4" x2="829.1" y2="809.0" stroke="#808080" stroke-width="1.7"/>
<line x1="879.2" y1="809.0" x2="879.2" y2="89.4" stroke="#606060" stroke-width="2.0" stroke-dasharray="3.4 10.9"/>
<line x1="929.4" y1="809.0" x2="929.4" y2="89.4" stroke="#606060" stroke-width="2.0" stroke-dasharray="3.4 10.9"/>
<line x1="979.5" y1="809.0" x2="979.5" y2="89.4" stroke="#606060" stroke-width="2.0" stroke-dasharray="3.4 10.9"/>
<line x1="1029.7" y1="89.4" x2="1029.7" y2="809.0" stroke="#808080" stroke-width="1.7"/>
<line x1="1079.8" y1="809.0" x2="1079.8" y2="89.4" stroke="#606060" stroke-width="2.0" stroke-dasharray="3.4 10.9"/>
<line x1="1129.9" y1="809.0" x2="1129.9" y2="89.4" stroke="#606060" stroke-width="2.0" stroke-dasharray="3.4 10.9"/>
<line x1="1180.1" y1="809.0" x2="1180.1" y2="89.4" stroke="#606060" stroke-width="2.0" stroke-dasharray="3.4 10.9"/>
<line x1="1230.2" y1="89.4" x2="1230.2" y2="809.0" stroke="#808080" stroke-width="1.7"/>
<line x1="1280.4" y1="809.0" x2="1280.4" y2="89.4" stroke="#606060" stroke-width="2.0" stroke-dasharray="3.4 10.9"/>
<line x1="1330.5" y1="809.0" x2="1330.5" y2="89.4" stroke="#606060" stroke-width="2.0" stroke-dasharray="3.4 10.9"/>
<line x1="1380.6" y1="809.0" x2="1380.6" y2="89.4" stroke="#606060" stroke-width="2.0" stroke-dasharray="3.4 10.9"/>
<line x1="1430.8" y1="89.4" x2="1430.8" y2="809.0" stroke="#808080" stroke-width="1.7"/>
<line x1="1480.9" y1="809.0" x2="1480.9" y2="89.4" stroke="#606060" stroke-width="2.0" stroke-dasharray="3.4 10.9"/>
<line x1="1531.1" y1="809.0" x2="1531.1" y2="89.4" stroke="#606060" stroke-width="2.0" stroke-dasharray="3.4 10.9"/>
<line x1="1581.2" y1="809.0" x2="1581.2" y2="89.4" stroke="#606060" stroke-width="2.0" stroke-dasharray="3.4 10.9"/>
<line x1="1631.3" y1="89.4" x2="1631.3" y2="809.0" stroke="#808080" stroke-width="1.7"/>
<line x1="1681.5" y1="809.0" x2="1681.5" y2="89.4" stroke="#606060" stroke-width="2.0" stroke-dasharray="3.4 10.9"/>
<line x1="1731.6" y1="809.0" x2="1731.6" y2="89.4" stroke="#606060" stroke-width="2.0" stroke-dasharray="3.4 10.9"/>
<line x1="1781.8" y1="809.0" x2="1781.8" y2="89.4" stroke="#606060" stroke-width="2.0" stroke-dasharray="3.4 10.9"/>
<line x1="227.4" y1="357.8" x2="1831.9" y2="357.8" stroke="#808080" stroke-width="1.7"/>
<line x1="227.4" y1="653.8" x2="1831.9" y2="653.8" stroke="#808080" stroke-width="1.7"/>
<line x1="227.4" y1="89.4" x2="227.4" y2="101.2" stroke="#000" stroke-width="2.5"/>
<line x1="227.4" y1="809.0" x2="227.4" y2="797.2" stroke="#000" stroke-width="2.5"/>
<line x1="277.5" y1="89.4" x2="277.5" y2="96.2" stroke="#000" stroke-width="1.8"/>
<line x1="277.5" y1="809.0" x2="277.5" y2="802.2" stroke="#000" stroke-width="1.8"/>
<line x1="327.7" y1="89.4" x2="327.7" y2="96.2" stroke="#000" stroke-width="1.8"/>
<line x1="327.7" y1="809.0" x2="327.7" y2="802.2" stroke="#000" stroke-width="1.8"/>
<line x1="377.8" y1="89.4" x2="377.8" y2="96.2" stroke="#000" stroke-width="1.8"/>
<line x1="377.8" y1="809.0" x2="377.8" y2="802.2" stroke="#000" stroke-width="1.8"/>
<line x1="428.0" y1="89.4" x2="428.0" y2="101.2" stroke="#000" stroke-width="2.5"/>
<line x1="428.0" y1="809.0" x2="428.0" y2="797.2" stroke="#000" stroke-width="2.5"/>
<line x1="478.1" y1="89.4" x2="478.1" y2="96.2" stroke="#000" stroke-width="1.8"/>
<line x1="478.1" y1="809.0" x2="478.1" y2="802.2" stroke="#000" stroke-width="1.8"/>
<line x1="528.2" y1="89.4" x2="528.2" y2="96.2" stroke="#000" stroke-width="1.8"/>
<line x1="528.2" y1="809.0" x2="528.2" y2="802.2" stroke="#000" stroke-width="1.8"/>
<line x1="578.4" y1="89.4" x2="578.4" y2="96.2" stroke="#000" stroke-width="1.8"/>
<line x1="578.4" y1="809.0" x2="578.4" y2="802.2" stroke="#000" stroke-width="1.8"/>
<line x1="628.5" y1="89.4" x2="628.5" y2="101.2" stroke="#000" stroke-width="2.5"/>
<line x1="628.5" y1="809.0" x2="628.5" y2="797.2" stroke="#000" stroke-width="2.5"/>
<line x1="678.7" y1="89.4" x2="678.7" y2="96.2" stroke="#000" stroke-width="1.8"/>
<line x1="678.7" y1="809.0" x2="678.7" y2="802.2" stroke="#000" stroke-width="1.8"/>
<line x1="728.8" y1="89.4" x2="728.8" y2="96.2" stroke="#000" stroke-width="1.8"/>
<line x1="728.8" y1="809.0" x2="728.8" y2="802.2" stroke="#000" stroke-width="1.8"/>
<line x1="778.9" y1="89.4" x2="778.9" y2="96.2" stroke="#000" stroke-width="1.8"/>
<line x1="778.9" y1="809.0" x2="778.9" y2="802.2" stroke="#000" stroke-width="1.8"/>
<line x1="829.1" y1="89.4" x2="829.1" y2="101.2" stroke="#000" stroke-width="2.5"/>
<line x1="829.1" y1="809.0" x2="829.1" y2="797.2" stroke="#000" stroke-width="2.5"/>
<line x1="879.2" y1="89.4" x2="879.2" y2="96.2" stroke="#000" stroke-width="1.8"/>
<line x1="879.2" y1="809.0" x2="879.2" y2="802.2" stroke="#000" stroke-width="1.8"/>
<line x1="929.4" y1="89.4" x2="929.4" y2="96.2" stroke="#000" stroke-width="1.8"/>
<line x1="929.4" y1="809.0" x2="929.4" y2="802.2" stroke="#000" stroke-width="1.8"/>
<line x1="979.5" y1="89.4" x2="979.5" y2="96.2" stroke="#000" stroke-width="1.8"/>
<line x1="979.5" y1="809.0" x2="979.5" y2="802.2" stroke="#000" stroke-width="1.8"/>
<line x1="1029.7" y1="89.4" x2="1029.7" y2="101.2" stroke="#000" stroke-width="2.5"/>
<line x1="1029.7" y1="809.0" x2="1029.7" y2="797.2" stroke="#000" stroke-width="2.5"/>
<line x1="1079.8" y1="89.4" x2="1079.8" y2="96.2" stroke="#000" stroke-width="1.8"/>
<line x1="1079.8" y1="809.0" x2="1079.8" y2="802.2" stroke="#000" stroke-width="1.8"/>
<line x1="1129.9" y1="89.4" x2="1129.9" y2="96.2" stroke="#000" stroke-width="1.8"/>
<line x1="1129.9" y1="809.0" x2="1129.9" y2="802.2" stroke="#000" stroke-width="1.8"/>
<line x1="1180.1" y1="89.4" x2="1180.1" y2="96.2" stroke="#000" stroke-width="1.8"/>
<line x1="1180.1" y1="809.0" x2="1180.1" y2="802.2" stroke="#000" stroke-width="1.8"/>
<line x1="1230.2" y1="89.4" x2="1230.2" y2="101.2" stroke="#000" stroke-width="2.5"/>
<line x1="1230.2" y1="809.0" x2="1230.2" y2="797.2" stroke="#000" stroke-width="2.5"/>
<line x1="1280.4" y1="89.4" x2="1280.4" y2="96.2" stroke="#000" stroke-width="1.8"/>
<line x1="1280.4" y1="809.0" x2="1280.4" y2="802.2" stroke="#000" stroke-width="1.8"/>
<line x1="1330.5" y1="89.4" x2="1330.5" y2="96.2" stroke="#000" stroke-width="1.8"/>
<line x1="1330.5" y1="809.0" x2="1330.5" y2="802.2" stroke="#000" stroke-width="1.8"/>
<line x1="1380.6" y1="89.4" x2="1380.6" y2="96.2" stroke="#000" stroke-width="1.8"/>
<line x1="1380.6" y1="809.0" x2="1380.6" y2="802.2" stroke="#000" stroke-width="1.8"/>
<line x1="1430.8" y1="89.4" x2="1430.8" y2="101.2" stroke="#000" stroke-width="2.5"/>
<line x1="1430.8" y1="809.0" x2="1430.8" y2="797.2" stroke="#000" stroke-width="2.5"/>
<line x1="1480.9" y1="89.4" x2="1480.9" y2="96.2" stroke="#000" stroke-width="1.8"/>
<line x1="1480.9" y1="809.0" x2="1480.9" y2="802.2" stroke="#000" stroke-width="1.8"/>
<line x1="1531.1" y1="89.4" x2="1531.1" y2="96.2" stroke="#000" stroke-width="1.8"/>
<line x1="1531.1" y1="809.0" x2="1531.1" y2="802.2" stroke="#000" stroke-width="1.8"/>
<line x1="1581.2" y1="89.4" x2="1581.2" y2="96.2" stroke="#000" stroke-width="1.8"/>
<line x1="1581.2" y1="809.0" x2="1581.2" y2="802.2" stroke="#000" stroke-width="1.8"/>
<line x1="1631.3" y1="89.4" x2="1631.3" y2="101.2" stroke="#000" stroke-width="2.5"/>
<line x1="1631.3" y1="809.0" x2="1631.3" y2="797.2" stroke="#000" stroke-width="2.5"/>
<line x1="1681.5" y1="89.4" x2="1681.5" y2="96.2" stroke="#000" stroke-width="1.8"/>
<line x1="1681.5" y1="809.0" x2="1681.5" y2="802.2" stroke="#000" stroke-width="1.8"/>
<line x1="1731.6" y1="89.4" x2="1731.6" y2="96.2" stroke="#000" stroke-width="1.8"/>
<line x1="1731.6" y1="809.0" x2="1731.6" y2="802.2" stroke="#000" stroke-width="1.8"/>
<line x1="1781.8" y1="89.4" x2="1781.8" y2="96.2" stroke="#000" stroke-width="1.8"/>
<line x1="1781.8" y1="809.0" x2="1781.8" y2="802.2" stroke="#000" stroke-width="1.8"/>
<line x1="1831.9" y1="89.4" x2="1831.9" y2="101.2" stroke="#000" stroke-width="2.5"/>
<line x1="1831.9" y1="809.0" x2="1831.9" y2="797.2" stroke="#000" stroke-width="2.5"/>
<line x1="227.4" y1="808.5" x2="234.0" y2="808.5" stroke="#000" stroke-width="1.7"/>
<line x1="1831.9" y1="808.5" x2="1825.3" y2="808.5" stroke="#000" stroke-width="1.7"/>
<line x1="227.4" y1="771.5" x2="234.0" y2="771.5" stroke="#000" stroke-width="1.7"/>
<line x1="1831.9" y1="771.5" x2="1825.3" y2="771.5" stroke="#000" stroke-width="1.7"/>
<line x1="227.4" y1="742.8" x2="234.0" y2="742.8" stroke="#000" stroke-width="1.7"/>
<line x1="1831.9" y1="742.8" x2="1825.3" y2="742.8" stroke="#000" stroke-width="1.7"/>
<line x1="227.4" y1="719.4" x2="234.0" y2="719.4" stroke="#000" stroke-width="1.7"/>
<line x1="1831.9" y1="719.4" x2="1825.3" y2="719.4" stroke="#000" stroke-width="1.7"/>
<line x1="227.4" y1="699.6" x2="234.0" y2="699.6" stroke="#000" stroke-width="1.7"/>
<line x1="1831.9" y1="699.6" x2="1825.3" y2="699.6" stroke="#000" stroke-width="1.7"/>
<line x1="227.4" y1="682.4" x2="234.0" y2="682.4" stroke="#000" stroke-width="1.7"/>
<line x1="1831.9" y1="682.4" x2="1825.3" y2="682.4" stroke="#000" stroke-width="1.7"/>
<line x1="227.4" y1="667.3" x2="234.0" y2="667.3" stroke="#000" stroke-width="1.7"/>
<line x1="1831.9" y1="667.3" x2="1825.3" y2="667.3" stroke="#000" stroke-width="1.7"/>
<line x1="227.4" y1="653.8" x2="239.0" y2="653.8" stroke="#000" stroke-width="2.9"/>
<line x1="1831.9" y1="653.8" x2="1820.3" y2="653.8" stroke="#000" stroke-width="2.9"/>
<line x1="227.4" y1="564.7" x2="234.0" y2="564.7" stroke="#000" stroke-width="1.7"/>
<line x1="1831.9" y1="564.7" x2="1825.3" y2="564.7" stroke="#000" stroke-width="1.7"/>
<line x1="227.4" y1="512.5" x2="234.0" y2="512.5" stroke="#000" stroke-width="1.7"/>
<line x1="1831.9" y1="512.5" x2="1825.3" y2="512.5" stroke="#000" stroke-width="1.7"/>
<line x1="227.4" y1="475.6" x2="234.0" y2="475.6" stroke="#000" stroke-width="1.7"/>
<line x1="1831.9" y1="475.6" x2="1825.3" y2="475.6" stroke="#000" stroke-width="1.7"/>
<line x1="227.4" y1="446.9" x2="234.0" y2="446.9" stroke="#000" stroke-width="1.7"/>
<line x1="1831.9" y1="446.9" x2="1825.3" y2="446.9" stroke="#000" stroke-width="1.7"/>
<line x1="227.4" y1="423.5" x2="234.0" y2="423.5" stroke="#000" stroke-width="1.7"/>
<line x1="1831.9" y1="423.5" x2="1825.3" y2="423.5" stroke="#000" stroke-width="1.7"/>
<line x1="227.4" y1="403.6" x2="234.0" y2="403.6" stroke="#000" stroke-width="1.7"/>
<line x1="1831.9" y1="403.6" x2="1825.3" y2="403.6" stroke="#000" stroke-width="1.7"/>
<line x1="227.4" y1="386.5" x2="234.0" y2="386.5" stroke="#000" stroke-width="1.7"/>
<line x1="1831.9" y1="386.5" x2="1825.3" y2="386.5" stroke="#000" stroke-width="1.7"/>
<line x1="227.4" y1="371.3" x2="234.0" y2="371.3" stroke="#000" stroke-width="1.7"/>
<line x1="1831.9" y1="371.3" x2="1825.3" y2="371.3" stroke="#000" stroke-width="1.7"/>
<line x1="227.4" y1="357.8" x2="239.0" y2="357.8" stroke="#000" stroke-width="2.9"/>
<line x1="1831.9" y1="357.8" x2="1820.3" y2="357.8" stroke="#000" stroke-width="2.9"/>
<line x1="227.4" y1="268.7" x2="234.0" y2="268.7" stroke="#000" stroke-width="1.7"/>
<line x1="1831.9" y1="268.7" x2="1825.3" y2="268.7" stroke="#000" stroke-width="1.7"/>
<line x1="227.4" y1="216.6" x2="234.0" y2="216.6" stroke="#000" stroke-width="1.7"/>
<line x1="1831.9" y1="216.6" x2="1825.3" y2="216.6" stroke="#000" stroke-width="1.7"/>
<line x1="227.4" y1="179.6" x2="234.0" y2="179.6" stroke="#000" stroke-width="1.7"/>
<line x1="1831.9" y1="179.6" x2="1825.3" y2="179.6" stroke="#000" stroke-width="1.7"/>
<line x1="227.4" y1="150.9" x2="234.0" y2="150.9" stroke="#000" stroke-width="1.7"/>
<line x1="1831.9" y1="150.9" x2="1825.3" y2="150.9" stroke="#000" stroke-width="1.7"/>
<line x1="227.4" y1="127.5" x2="234.0" y2="127.5" stroke="#000" stroke-width="1.7"/>
<line x1="1831.9" y1="127.5" x2="1825.3" y2="127.5" stroke="#000" stroke-width="1.7"/>
<line x1="227.4" y1="107.7" x2="234.0" y2="107.7" stroke="#000" stroke-width="1.7"/>
<line x1="1831.9" y1="107.7" x2="1825.3" y2="107.7" stroke="#000" stroke-width="1.7"/>
<line x1="227.4" y1="90.5" x2="234.0" y2="90.5" stroke="#000" stroke-width="1.7"/>
<line x1="1831.9" y1="90.5" x2="1825.3" y2="90.5" stroke="#000" stroke-width="1.7"/>
<path d="M227.4 87.7 V809.0 H1833.6 M227.4 89.4 H1833.6" fill="none" stroke="#000" stroke-width="3.4"/>
<line x1="1831.9" y1="89.4" x2="1831.9" y2="101.4" stroke="#000" stroke-width="3.4"/>
<line x1="1832.2" y1="89.4" x2="1832.2" y2="809.0" stroke="#1a1a1a" stroke-width="2.0"/>
<rect x="248.9" y="110.9" width="412" height="74" fill="#fff" stroke="#000" stroke-width="3.1"/>
<line x1="276.0" y1="144.3" x2="342.5" y2="144.3" stroke="#000" stroke-width="6.0"/>
<defs><linearGradient id="pl" x1="0" y1="1" x2="0" y2="0"><stop offset="0.0000" stop-color="#0d0887"/><stop offset="0.0312" stop-color="#220690"/><stop offset="0.0625" stop-color="#310597"/><stop offset="0.0938" stop-color="#3f049c"/><stop offset="0.1250" stop-color="#4c02a1"/><stop offset="0.1562" stop-color="#5901a5"/><stop offset="0.1875" stop-color="#6600a7"/><stop offset="0.2188" stop-color="#7201a8"/><stop offset="0.2500" stop-color="#7e03a8"/><stop offset="0.2812" stop-color="#8a09a5"/><stop offset="0.3125" stop-color="#9511a1"/><stop offset="0.3438" stop-color="#a01a9c"/><stop offset="0.3750" stop-color="#aa2395"/><stop offset="0.4062" stop-color="#b32c8e"/><stop offset="0.4375" stop-color="#bc3587"/><stop offset="0.4688" stop-color="#c43e7f"/><stop offset="0.5000" stop-color="#cc4778"/><stop offset="0.5312" stop-color="#d35171"/><stop offset="0.5625" stop-color="#da5a6a"/><stop offset="0.5938" stop-color="#e06363"/><stop offset="0.6250" stop-color="#e66c5c"/><stop offset="0.6562" stop-color="#eb7655"/><stop offset="0.6875" stop-color="#f0804e"/><stop offset="0.7188" stop-color="#f58b47"/><stop offset="0.7500" stop-color="#f89540"/><stop offset="0.7812" stop-color="#fba139"/><stop offset="0.8125" stop-color="#fdac33"/><stop offset="0.8438" stop-color="#feb82c"/><stop offset="0.8750" stop-color="#fdc527"/><stop offset="0.9062" stop-color="#fcd225"/><stop offset="0.9375" stop-color="#f8df25"/><stop offset="0.9688" stop-color="#f4ed27"/><stop offset="1.0000" stop-color="#f0f921"/></linearGradient></defs><rect x="1899.4" y="89.4" width="30.8" height="719.6" fill="url(#pl)"/>
<line x1="1915.7" y1="496.3" x2="1930.0" y2="496.3" stroke="#000" stroke-width="1.9"/>
<line x1="1915.7" y1="183.5" x2="1930.0" y2="183.5" stroke="#000" stroke-width="1.9"/>
<rect x="1899.4" y="89.4" width="30.8" height="719.6" fill="none" stroke="#000" stroke-width="3.2"/>
<clipPath id="cb"><rect x="227.4" y="942.8" width="1604.5" height="308.2"/></clipPath>
<line x1="479.0" y1="942.8" x2="479.0" y2="1251.0" stroke="#0000aa" stroke-width="3.5"/>
<line x1="498.5" y1="942.8" x2="498.5" y2="1251.0" stroke="#aa0000" stroke-width="3.7"/>
<text x="488.8" y="931.2" font-family='"DejaVu Sans","Liberation Sans",sans-serif' font-size="37" text-anchor="middle" fill="#595959">1</text>
<line x1="644.0" y1="942.8" x2="644.0" y2="1251.0" stroke="#0000aa" stroke-width="3.5"/>
<line x1="649.2" y1="942.8" x2="649.2" y2="1251.0" stroke="#aa0000" stroke-width="3.7"/>
<text x="646.6" y="931.2" font-family='"DejaVu Sans","Liberation Sans",sans-serif' font-size="37" text-anchor="middle" fill="#595959">2</text>
<line x1="869.4" y1="942.8" x2="869.4" y2="1251.0" stroke="#0000aa" stroke-width="3.5"/>
<line x1="859.2" y1="942.8" x2="859.2" y2="1251.0" stroke="#aa0000" stroke-width="3.7"/>
<text x="864.3" y="931.2" font-family='"DejaVu Sans","Liberation Sans",sans-serif' font-size="37" text-anchor="middle" fill="#595959">3</text>
<line x1="1034.7" y1="942.8" x2="1034.7" y2="1251.0" stroke="#0000aa" stroke-width="3.5"/>
<line x1="1054.2" y1="942.8" x2="1054.2" y2="1251.0" stroke="#aa0000" stroke-width="3.7"/>
<text x="1044.5" y="931.2" font-family='"DejaVu Sans","Liberation Sans",sans-serif' font-size="37" text-anchor="middle" fill="#595959">4</text>
<line x1="1184.6" y1="942.8" x2="1184.6" y2="1251.0" stroke="#0000aa" stroke-width="3.5"/>
<line x1="1224.4" y1="942.8" x2="1224.4" y2="1251.0" stroke="#aa0000" stroke-width="3.7"/>
<text x="1204.5" y="931.2" font-family='"DejaVu Sans","Liberation Sans",sans-serif' font-size="37" text-anchor="middle" fill="#595959">5</text>
<line x1="1335.7" y1="942.8" x2="1335.7" y2="1251.0" stroke="#0000aa" stroke-width="3.5"/>
<line x1="1330.3" y1="942.8" x2="1330.3" y2="1251.0" stroke="#aa0000" stroke-width="3.7"/>
<text x="1333.0" y="931.2" font-family='"DejaVu Sans","Liberation Sans",sans-serif' font-size="37" text-anchor="middle" fill="#595959">6</text>
<line x1="1455.4" y1="942.8" x2="1455.4" y2="1251.0" stroke="#0000aa" stroke-width="3.5"/>
<line x1="1465.7" y1="942.8" x2="1465.7" y2="1251.0" stroke="#aa0000" stroke-width="3.7"/>
<text x="1460.6" y="931.2" font-family='"DejaVu Sans","Liberation Sans",sans-serif' font-size="37" text-anchor="middle" fill="#595959">7</text>
<line x1="1551.5" y1="942.8" x2="1551.5" y2="1251.0" stroke="#0000aa" stroke-width="3.5"/>
<line x1="1560.9" y1="942.8" x2="1560.9" y2="1251.0" stroke="#aa0000" stroke-width="3.7"/>
<text x="1556.2" y="931.2" font-family='"DejaVu Sans","Liberation Sans",sans-serif' font-size="37" text-anchor="middle" fill="#595959">8</text>
<line x1="1611.3" y1="942.8" x2="1611.3" y2="1251.0" stroke="#0000aa" stroke-width="3.5"/>
<line x1="1616.7" y1="942.8" x2="1616.7" y2="1251.0" stroke="#aa0000" stroke-width="3.7"/>
<text x="1614.0" y="931.2" font-family='"DejaVu Sans","Liberation Sans",sans-serif' font-size="37" text-anchor="middle" fill="#595959">9</text>
<line x1="1706.5" y1="942.8" x2="1706.5" y2="1251.0" stroke="#0000aa" stroke-width="3.5"/>
<line x1="1721.1" y1="942.8" x2="1721.1" y2="1251.0" stroke="#aa0000" stroke-width="3.7"/>
<text x="1713.8" y="931.2" font-family='"DejaVu Sans","Liberation Sans",sans-serif' font-size="37" text-anchor="middle" fill="#595959">10</text>
<g clip-path="url(#cb)" fill="none" stroke-linejoin="round">
<path d="M304.2 1251.7 L305.7 1238.7 L307.4 1235.4 L310.7 1233.3 L317.2 1225.7 L322.7 1225.0 L327.0 1236.5 L332.4 1238.7 L335.7 1248.5 L337.4 1253.9" stroke="#0000aa" stroke-width="5.6"/>
<path d="M355.3 1253.9 L359.6 1243.0 L362.9 1234.3 L366.1 1243.0 L368.7 1250.7 L372.2 1240.9 L375.3 1251.7" stroke="#0000aa" stroke-width="5.6"/>
<path d="M379.2 1252.8 L383.5 1248.5 L389.0 1244.1 L393.3 1231.1 L398.7 1228.9 L403.1 1212.6 L412.9 1197.8 L418.3 1198.5 L419.4 1169.1 L421.1 1125.7 L422.7 1099.6 L427.0 1082.2 L432.4 1069.1 L437.9 1061.5 L447.7 1055.7 L453.1 1055.0 L466.1 1047.4 L472.7 1046.3 L479.2 1043.5 L487.9 1043.5 L496.6 1051.7 L503.1 1060.4 L511.8 1069.1 L527.0 1090.9 L542.2 1121.3 L553.1 1145.2 L559.0 1160.4 L561.8 1147.4 L566.1 1130.0 L570.5 1119.1 L574.8 1112.6 L582.4 1105.7 L587.9 1107.8 L596.6 1105.7 L606.3 1101.7 L612.9 1087.6 L618.3 1082.2 L627.0 1065.9 L631.3 1061.5 L637.9 1060.4 L647.0 1058.7 L653.1 1060.4 L659.6 1063.7 L668.3 1068.0 L678.1 1069.6 L684.6 1073.0 L696.6 1075.7 L705.3 1080.0 L718.3 1085.4 L727.0 1093.0 L735.7 1100.7 L744.4 1107.2 L754.2 1113.0 L764.0 1108.3 L779.2 1108.7 L789.0 1111.5 L794.4 1109.3 L803.1 1110.4 L814.0 1111.1 L819.4 1116.5 L829.2 1118.0 L834.6 1121.7 L839.0 1119.1 L846.6 1110.4 L855.3 1102.8 L862.9 1099.6 L872.7 1098.5 L879.2 1102.8 L886.8 1101.7 L894.4 1105.7 L898.7 1103.5 L904.2 1106.5 L909.6 1105.0 L915.0 1106.1 L923.7 1102.4 L929.2 1103.3 L933.5 1108.3 L942.2 1111.5 L948.7 1116.5 L955.3 1123.5 L965.0 1128.3 L974.8 1129.6 L980.3 1136.5 L985.7 1139.8 L994.4 1153.9 L1000.9 1158.3 L1004.6 1167.4 L1007.0 1136.5 L1009.6 1103.9 L1015.0 1096.3 L1023.7 1080.0 L1034.6 1072.4 L1047.0 1074.6 L1048.7 1075.7 L1057.4 1080.0 L1065.0 1086.5 L1070.5 1088.7 L1079.2 1094.1 L1085.7 1105.0 L1090.0 1109.3 L1094.8 1118.0 L1099.8 1114.8 L1105.3 1114.3 L1110.7 1119.1 L1115.0 1124.6 L1120.5 1127.2 L1131.3 1126.7 L1142.2 1123.5 L1155.3 1118.7 L1159.6 1110.4 L1168.3 1101.7 L1174.8 1090.9 L1184.6 1084.8 L1192.2 1092.0 L1199.8 1097.4 L1205.3 1096.3 L1210.7 1091.3 L1218.3 1093.0 L1227.0 1099.6 L1234.6 1103.9 L1241.1 1098.5 L1245.5 1099.1 L1255.3 1106.1 L1261.8 1114.8 L1268.3 1118.0 L1279.2 1120.9 L1284.6 1114.8 L1295.5 1107.8 L1298.7 1108.3 L1305.3 1105.0 L1311.8 1090.9 L1318.3 1075.7 L1324.8 1063.7 L1331.3 1057.2 L1339.0 1055.0 L1344.4 1060.4 L1350.9 1073.5 L1356.3 1086.5 L1366.1 1103.9 L1374.8 1119.1 L1380.9 1131.1 L1385.3 1113.7 L1390.0 1123.5 L1396.6 1136.5 L1400.9 1150.0 L1405.3 1138.7 L1415.0 1117.0 L1418.3 1115.9 L1421.6 1123.5 L1423.1 1099.6 L1424.8 1067.0 L1429.8 1049.6 L1435.2 1034.3 L1441.7 1020.2 L1450.4 1001.7 L1455.9 997.4 L1460.2 997.4 L1466.7 1002.8 L1471.1 1008.7 L1475.4 1007.2 L1485.2 1012.2 L1490.7 1021.3 L1495.0 1031.7 L1500.4 1037.6 L1505.9 1035.0 L1511.3 1038.7 L1515.7 1053.9 L1520.0 1036.5 L1525.4 1018.0 L1530.9 1011.5 L1536.3 1018.0 L1540.7 1018.0 L1546.1 1011.5 L1551.5 1011.5 L1555.9 1017.0 L1560.2 1030.0 L1565.7 1046.3 L1572.2 1060.4 L1578.7 1077.8 L1587.4 1101.7 L1596.1 1133.9 L1601.5 1134.3 L1604.8 1103.9 L1607.4 1080.0 L1611.3 1072.4 L1617.8 1074.6 L1623.3 1082.2 L1629.8 1090.9 L1635.9 1100.7 L1641.7 1093.0 L1647.2 1084.8 L1651.5 1086.5 L1659.1 1098.5 L1664.6 1106.1 L1672.2 1115.9 L1678.7 1136.5 L1686.5 1161.5 L1690.7 1147.4 L1692.8 1125.7 L1695.0 1082.2 L1697.2 1038.7 L1698.9 1001.7 L1700.9 976.7 L1704.8 973.5 L1710.2 975.7 L1716.7 985.4 L1723.3 995.2 L1730.9 1019.1 L1738.5 1032.2 L1747.2 1046.3 L1752.6 1060.4 L1757.0 1075.7 L1761.3 1086.1 L1766.7 1078.9 L1771.5 1073.5 L1776.5 1084.3 L1782.0 1096.3 L1789.6 1108.3 L1798.3 1121.3 L1803.7 1128.9 L1808.0 1131.7 L1811.3 1131.1 L1815.7 1142.0 L1821.1 1163.7 L1826.5 1175.7 L1832.0 1185.4" stroke="#0000aa" stroke-width="5.6"/>
<path d="M344.4 1251.3 L347.7 1250.1 L354.2 1247.6 L360.2 1245.2 L365.6 1243.0 L371.0 1241.7 L376.5 1241.1 L383.5 1241.3 L392.2 1242.2 L400.4 1242.7 L408.0 1242.9 L413.4 1242.0 L416.7 1239.8 L419.9 1235.4 L423.2 1228.9 L427.0 1219.1 L431.3 1206.1 L436.2 1191.4 L441.7 1175.1 L447.1 1159.9 L452.5 1145.8 L458.0 1132.7 L463.4 1120.8 L468.8 1108.8 L474.3 1096.8 L478.6 1088.2 L481.9 1082.7 L485.2 1078.4 L488.4 1075.1 L492.2 1072.7 L496.6 1071.0 L500.9 1071.0 L505.3 1072.7 L509.6 1075.7 L514.0 1080.0 L518.8 1086.0 L524.3 1093.6 L529.7 1102.8 L535.2 1113.7 L540.6 1125.1 L546.0 1137.1 L551.5 1148.5 L556.9 1159.3 L561.8 1168.6 L566.1 1176.2 L570.5 1182.2 L574.8 1186.5 L579.2 1189.2 L583.5 1190.3 L588.4 1190.6 L593.8 1190.1 L598.7 1188.4 L603.1 1185.7 L607.4 1181.6 L611.8 1176.2 L616.7 1168.0 L622.1 1157.2 L627.0 1147.4 L631.3 1138.7 L635.2 1132.2 L638.4 1127.8 L641.8 1124.6 L645.3 1122.4 L647.4 1121.6 L648.3 1122.1 L650.9 1122.8 L655.3 1123.5 L659.6 1125.2 L664.0 1127.7 L668.8 1131.1 L674.3 1135.4 L679.7 1139.8 L685.2 1144.1 L691.1 1148.5 L697.7 1152.8 L704.2 1156.6 L710.7 1159.9 L717.2 1163.2 L723.7 1166.4 L730.3 1169.7 L736.8 1172.9 L742.8 1175.5 L748.2 1177.5 L753.6 1178.6 L759.1 1179.0 L765.0 1178.7 L771.6 1177.8 L778.1 1176.6 L784.6 1174.9 L791.1 1173.3 L797.7 1171.5 L804.2 1170.3 L810.7 1169.5 L816.7 1169.1 L822.1 1169.1 L827.0 1168.6 L831.3 1167.5 L835.7 1165.9 L840.0 1163.7 L844.4 1161.0 L848.7 1157.7 L853.0 1155.1 L857.1 1153.2 L860.9 1152.7 L864.4 1153.8 L868.8 1155.9 L874.3 1158.9 L879.2 1162.6 L883.5 1167.0 L887.9 1170.8 L892.2 1174.0 L896.6 1176.3 L900.9 1177.6 L906.9 1178.5 L914.5 1179.1 L920.5 1179.9 L924.8 1181.0 L929.7 1182.8 L935.2 1185.3 L940.6 1187.5 L946.0 1189.5 L950.9 1190.7 L955.3 1191.1 L960.7 1190.8 L967.2 1189.8 L972.7 1189.7 L977.0 1190.5 L982.4 1192.5 L989.0 1195.8 L995.3 1199.1 L1001.5 1202.6 L1005.9 1203.7 L1008.4 1202.4 L1011.8 1198.8 L1016.1 1192.8 L1020.5 1186.8 L1024.8 1180.8 L1029.2 1175.4 L1033.5 1170.5 L1038.5 1166.4 L1044.2 1163.2 L1048.8 1161.0 L1052.4 1159.9 L1056.1 1159.3 L1059.9 1159.3 L1064.0 1160.1 L1068.3 1161.5 L1073.7 1163.4 L1080.3 1165.8 L1086.8 1168.9 L1093.3 1172.7 L1099.8 1176.7 L1106.3 1181.1 L1112.9 1185.2 L1119.4 1189.0 L1125.4 1191.6 L1130.8 1193.0 L1135.7 1193.6 L1140.0 1193.5 L1144.4 1192.6 L1148.7 1190.7 L1153.6 1187.9 L1159.1 1184.1 L1164.5 1180.0 L1169.9 1175.7 L1175.4 1171.3 L1180.8 1167.0 L1186.2 1163.2 L1191.7 1159.9 L1197.1 1156.1 L1202.5 1151.7 L1207.4 1148.0 L1211.8 1145.0 L1215.9 1142.8 L1219.7 1141.5 L1223.5 1141.1 L1227.3 1141.7 L1230.8 1142.7 L1234.1 1144.1 L1238.4 1145.6 L1243.8 1147.2 L1248.2 1149.5 L1251.5 1152.4 L1255.3 1156.4 L1259.6 1161.2 L1263.4 1164.7 L1266.7 1166.6 L1269.9 1167.8 L1273.2 1168.3 L1277.0 1167.6 L1281.3 1165.7 L1285.7 1163.3 L1290.0 1160.4 L1294.4 1157.1 L1298.7 1153.5 L1302.5 1149.3 L1305.8 1144.4 L1309.1 1138.7 L1312.3 1132.2 L1315.6 1125.9 L1318.8 1119.9 L1322.1 1115.1 L1325.4 1111.2 L1328.4 1109.1 L1331.1 1108.5 L1333.8 1109.6 L1336.5 1112.3 L1339.5 1117.8 L1342.8 1125.9 L1346.0 1134.9 L1349.3 1144.7 L1352.5 1154.5 L1355.8 1164.2 L1358.8 1171.8 L1361.5 1177.3 L1364.5 1181.6 L1367.8 1184.9 L1371.0 1187.2 L1374.3 1188.5 L1377.3 1189.4 L1380.0 1189.9 L1383.0 1191.5 L1386.2 1194.0 L1389.5 1197.3 L1392.8 1201.4 L1396.0 1204.7 L1399.3 1207.1 L1402.3 1208.5 L1405.0 1209.1 L1408.2 1208.8 L1412.1 1207.7 L1415.0 1207.0 L1417.2 1206.7 L1418.7 1206.5 L1419.6 1206.5 L1421.4 1205.6 L1424.1 1203.8 L1426.5 1200.4 L1428.7 1195.5 L1430.9 1188.7 L1433.0 1180.0 L1435.2 1169.7 L1437.4 1157.7 L1439.6 1144.1 L1441.7 1128.9 L1443.9 1113.7 L1446.1 1098.5 L1448.3 1083.3 L1450.4 1068.0 L1452.6 1053.9 L1454.8 1040.9 L1457.2 1031.1 L1459.9 1024.6 L1462.5 1020.3 L1464.9 1018.4 L1467.2 1019.2 L1469.3 1022.8 L1471.4 1029.2 L1473.4 1038.4 L1475.7 1050.1 L1478.4 1064.2 L1481.1 1079.5 L1483.9 1095.8 L1486.8 1112.1 L1490.1 1128.4 L1493.4 1143.0 L1496.6 1156.1 L1499.9 1167.5 L1503.2 1177.3 L1506.4 1185.7 L1509.7 1192.8 L1512.4 1196.6 L1514.6 1197.1 L1517.0 1195.2 L1519.7 1190.9 L1522.4 1183.8 L1525.2 1174.0 L1527.9 1163.2 L1530.6 1151.2 L1533.3 1139.2 L1536.0 1127.3 L1538.8 1114.2 L1541.5 1100.1 L1544.2 1086.0 L1546.9 1071.8 L1549.6 1058.8 L1552.3 1046.8 L1555.1 1038.8 L1557.8 1034.7 L1560.2 1033.9 L1562.4 1036.4 L1565.1 1040.3 L1568.4 1045.8 L1572.2 1050.4 L1576.5 1054.2 L1580.6 1057.7 L1584.4 1061.0 L1587.7 1065.1 L1590.4 1069.9 L1592.9 1074.6 L1595.3 1078.9 L1597.5 1081.1 L1599.5 1081.1 L1601.2 1079.2 L1602.9 1075.4 L1604.5 1070.2 L1606.1 1063.7 L1608.3 1058.3 L1611.0 1053.9 L1613.5 1051.1 L1615.7 1049.8 L1617.8 1049.8 L1620.0 1051.1 L1622.4 1053.4 L1625.2 1056.6 L1627.9 1058.8 L1630.6 1059.9 L1633.3 1061.6 L1636.0 1064.0 L1638.5 1065.4 L1640.7 1065.7 L1643.1 1065.3 L1645.8 1064.2 L1648.5 1063.6 L1651.2 1063.4 L1654.2 1064.5 L1657.5 1066.8 L1661.0 1069.7 L1664.8 1072.9 L1668.1 1077.0 L1670.8 1081.9 L1673.5 1087.3 L1676.2 1093.3 L1679.0 1097.9 L1681.7 1101.2 L1684.0 1103.1 L1686.0 1103.6 L1687.9 1100.7 L1689.7 1094.1 L1691.4 1084.3 L1692.8 1071.3 L1694.1 1055.5 L1695.4 1037.1 L1696.8 1020.2 L1698.2 1005.0 L1699.8 993.0 L1701.7 984.3 L1703.7 978.1 L1705.9 974.3 L1708.0 971.7 L1710.2 970.3 L1712.7 969.0 L1715.4 967.9 L1718.1 966.1 L1720.8 963.5 L1723.3 962.4 L1725.4 962.8 L1727.9 963.8 L1730.6 965.2 L1733.3 965.3 L1736.0 964.2 L1738.5 962.9 L1740.7 961.2 L1743.1 960.3 L1745.8 959.9 L1748.3 960.1 L1750.4 960.8 L1752.9 962.8 L1755.6 966.3 L1758.3 969.8 L1761.0 973.4 L1763.8 975.3 L1766.5 975.5 L1768.9 976.1 L1771.1 977.0 L1773.3 979.9 L1775.4 985.1 L1777.9 991.7 L1780.6 999.8 L1783.9 1008.3 L1787.7 1017.0 L1791.7 1026.2 L1796.1 1036.0 L1799.3 1043.0 L1801.5 1047.4 L1804.8 1052.3 L1809.1 1057.7 L1812.9 1062.6 L1816.2 1067.0 L1819.5 1072.4 L1822.7 1078.9 L1826.2 1084.9 L1830.1 1090.3 L1832.0 1093.0" stroke="#aa0000" stroke-width="6.4"/>
</g>
<line x1="277.5" y1="1251.0" x2="277.5" y2="942.8" stroke="#606060" stroke-width="2.0" stroke-dasharray="3.4 10.9"/>
<line x1="327.7" y1="1251.0" x2="327.7" y2="942.8" stroke="#606060" stroke-width="2.0" stroke-dasharray="3.4 10.9"/>
<line x1="377.8" y1="1251.0" x2="377.8" y2="942.8" stroke="#606060" stroke-width="2.0" stroke-dasharray="3.4 10.9"/>
<line x1="428.0" y1="942.8" x2="428.0" y2="1251.0" stroke="#808080" stroke-width="1.7"/>
<line x1="478.1" y1="1251.0" x2="478.1" y2="942.8" stroke="#606060" stroke-width="2.0" stroke-dasharray="3.4 10.9"/>
<line x1="528.2" y1="1251.0" x2="528.2" y2="942.8" stroke="#606060" stroke-width="2.0" stroke-dasharray="3.4 10.9"/>
<line x1="578.4" y1="1251.0" x2="578.4" y2="942.8" stroke="#606060" stroke-width="2.0" stroke-dasharray="3.4 10.9"/>
<line x1="628.5" y1="942.8" x2="628.5" y2="1251.0" stroke="#808080" stroke-width="1.7"/>
<line x1="678.7" y1="1251.0" x2="678.7" y2="942.8" stroke="#606060" stroke-width="2.0" stroke-dasharray="3.4 10.9"/>
<line x1="728.8" y1="1251.0" x2="728.8" y2="942.8" stroke="#606060" stroke-width="2.0" stroke-dasharray="3.4 10.9"/>
<line x1="778.9" y1="1251.0" x2="778.9" y2="942.8" stroke="#606060" stroke-width="2.0" stroke-dasharray="3.4 10.9"/>
<line x1="829.1" y1="942.8" x2="829.1" y2="1251.0" stroke="#808080" stroke-width="1.7"/>
<line x1="879.2" y1="1251.0" x2="879.2" y2="942.8" stroke="#606060" stroke-width="2.0" stroke-dasharray="3.4 10.9"/>
<line x1="929.4" y1="1251.0" x2="929.4" y2="942.8" stroke="#606060" stroke-width="2.0" stroke-dasharray="3.4 10.9"/>
<line x1="979.5" y1="1251.0" x2="979.5" y2="942.8" stroke="#606060" stroke-width="2.0" stroke-dasharray="3.4 10.9"/>
<line x1="1029.7" y1="942.8" x2="1029.7" y2="1251.0" stroke="#808080" stroke-width="1.7"/>
<line x1="1079.8" y1="1251.0" x2="1079.8" y2="942.8" stroke="#606060" stroke-width="2.0" stroke-dasharray="3.4 10.9"/>
<line x1="1129.9" y1="1251.0" x2="1129.9" y2="942.8" stroke="#606060" stroke-width="2.0" stroke-dasharray="3.4 10.9"/>
<line x1="1180.1" y1="1251.0" x2="1180.1" y2="942.8" stroke="#606060" stroke-width="2.0" stroke-dasharray="3.4 10.9"/>
<line x1="1230.2" y1="942.8" x2="1230.2" y2="1251.0" stroke="#808080" stroke-width="1.7"/>
<line x1="1280.4" y1="1251.0" x2="1280.4" y2="942.8" stroke="#606060" stroke-width="2.0" stroke-dasharray="3.4 10.9"/>
<line x1="1330.5" y1="1251.0" x2="1330.5" y2="942.8" stroke="#606060" stroke-width="2.0" stroke-dasharray="3.4 10.9"/>
<line x1="1380.6" y1="1251.0" x2="1380.6" y2="942.8" stroke="#606060" stroke-width="2.0" stroke-dasharray="3.4 10.9"/>
<line x1="1430.8" y1="942.8" x2="1430.8" y2="1251.0" stroke="#808080" stroke-width="1.7"/>
<line x1="1480.9" y1="1251.0" x2="1480.9" y2="942.8" stroke="#606060" stroke-width="2.0" stroke-dasharray="3.4 10.9"/>
<line x1="1531.1" y1="1251.0" x2="1531.1" y2="942.8" stroke="#606060" stroke-width="2.0" stroke-dasharray="3.4 10.9"/>
<line x1="1581.2" y1="1251.0" x2="1581.2" y2="942.8" stroke="#606060" stroke-width="2.0" stroke-dasharray="3.4 10.9"/>
<line x1="1631.3" y1="942.8" x2="1631.3" y2="1251.0" stroke="#808080" stroke-width="1.7"/>
<line x1="1681.5" y1="1251.0" x2="1681.5" y2="942.8" stroke="#606060" stroke-width="2.0" stroke-dasharray="3.4 10.9"/>
<line x1="1731.6" y1="1251.0" x2="1731.6" y2="942.8" stroke="#606060" stroke-width="2.0" stroke-dasharray="3.4 10.9"/>
<line x1="1781.8" y1="1251.0" x2="1781.8" y2="942.8" stroke="#606060" stroke-width="2.0" stroke-dasharray="3.4 10.9"/>
<line x1="227.4" y1="1116.8" x2="1831.9" y2="1116.8" stroke="#808080" stroke-width="1.7"/>
<line x1="227.4" y1="982.6" x2="1831.9" y2="982.6" stroke="#808080" stroke-width="1.7"/>
<line x1="227.4" y1="942.8" x2="227.4" y2="954.6" stroke="#000" stroke-width="2.5"/>
<line x1="227.4" y1="1251.0" x2="227.4" y2="1239.2" stroke="#000" stroke-width="2.5"/>
<line x1="277.5" y1="942.8" x2="277.5" y2="949.6" stroke="#000" stroke-width="1.8"/>
<line x1="277.5" y1="1251.0" x2="277.5" y2="1244.2" stroke="#000" stroke-width="1.8"/>
<line x1="327.7" y1="942.8" x2="327.7" y2="949.6" stroke="#000" stroke-width="1.8"/>
<line x1="327.7" y1="1251.0" x2="327.7" y2="1244.2" stroke="#000" stroke-width="1.8"/>
<line x1="377.8" y1="942.8" x2="377.8" y2="949.6" stroke="#000" stroke-width="1.8"/>
<line x1="377.8" y1="1251.0" x2="377.8" y2="1244.2" stroke="#000" stroke-width="1.8"/>
<line x1="428.0" y1="942.8" x2="428.0" y2="954.6" stroke="#000" stroke-width="2.5"/>
<line x1="428.0" y1="1251.0" x2="428.0" y2="1239.2" stroke="#000" stroke-width="2.5"/>
<line x1="478.1" y1="942.8" x2="478.1" y2="949.6" stroke="#000" stroke-width="1.8"/>
<line x1="478.1" y1="1251.0" x2="478.1" y2="1244.2" stroke="#000" stroke-width="1.8"/>
<line x1="528.2" y1="942.8" x2="528.2" y2="949.6" stroke="#000" stroke-width="1.8"/>
<line x1="528.2" y1="1251.0" x2="528.2" y2="1244.2" stroke="#000" stroke-width="1.8"/>
<line x1="578.4" y1="942.8" x2="578.4" y2="949.6" stroke="#000" stroke-width="1.8"/>
<line x1="578.4" y1="1251.0" x2="578.4" y2="1244.2" stroke="#000" stroke-width="1.8"/>
<line x1="628.5" y1="942.8" x2="628.5" y2="954.6" stroke="#000" stroke-width="2.5"/>
<line x1="628.5" y1="1251.0" x2="628.5" y2="1239.2" stroke="#000" stroke-width="2.5"/>
<line x1="678.7" y1="942.8" x2="678.7" y2="949.6" stroke="#000" stroke-width="1.8"/>
<line x1="678.7" y1="1251.0" x2="678.7" y2="1244.2" stroke="#000" stroke-width="1.8"/>
<line x1="728.8" y1="942.8" x2="728.8" y2="949.6" stroke="#000" stroke-width="1.8"/>
<line x1="728.8" y1="1251.0" x2="728.8" y2="1244.2" stroke="#000" stroke-width="1.8"/>
<line x1="778.9" y1="942.8" x2="778.9" y2="949.6" stroke="#000" stroke-width="1.8"/>
<line x1="778.9" y1="1251.0" x2="778.9" y2="1244.2" stroke="#000" stroke-width="1.8"/>
<line x1="829.1" y1="942.8" x2="829.1" y2="954.6" stroke="#000" stroke-width="2.5"/>
<line x1="829.1" y1="1251.0" x2="829.1" y2="1239.2" stroke="#000" stroke-width="2.5"/>
<line x1="879.2" y1="942.8" x2="879.2" y2="949.6" stroke="#000" stroke-width="1.8"/>
<line x1="879.2" y1="1251.0" x2="879.2" y2="1244.2" stroke="#000" stroke-width="1.8"/>
<line x1="929.4" y1="942.8" x2="929.4" y2="949.6" stroke="#000" stroke-width="1.8"/>
<line x1="929.4" y1="1251.0" x2="929.4" y2="1244.2" stroke="#000" stroke-width="1.8"/>
<line x1="979.5" y1="942.8" x2="979.5" y2="949.6" stroke="#000" stroke-width="1.8"/>
<line x1="979.5" y1="1251.0" x2="979.5" y2="1244.2" stroke="#000" stroke-width="1.8"/>
<line x1="1029.7" y1="942.8" x2="1029.7" y2="954.6" stroke="#000" stroke-width="2.5"/>
<line x1="1029.7" y1="1251.0" x2="1029.7" y2="1239.2" stroke="#000" stroke-width="2.5"/>
<line x1="1079.8" y1="942.8" x2="1079.8" y2="949.6" stroke="#000" stroke-width="1.8"/>
<line x1="1079.8" y1="1251.0" x2="1079.8" y2="1244.2" stroke="#000" stroke-width="1.8"/>
<line x1="1129.9" y1="942.8" x2="1129.9" y2="949.6" stroke="#000" stroke-width="1.8"/>
<line x1="1129.9" y1="1251.0" x2="1129.9" y2="1244.2" stroke="#000" stroke-width="1.8"/>
<line x1="1180.1" y1="942.8" x2="1180.1" y2="949.6" stroke="#000" stroke-width="1.8"/>
<line x1="1180.1" y1="1251.0" x2="1180.1" y2="1244.2" stroke="#000" stroke-width="1.8"/>
<line x1="1230.2" y1="942.8" x2="1230.2" y2="954.6" stroke="#000" stroke-width="2.5"/>
<line x1="1230.2" y1="1251.0" x2="1230.2" y2="1239.2" stroke="#000" stroke-width="2.5"/>
<line x1="1280.4" y1="942.8" x2="1280.4" y2="949.6" stroke="#000" stroke-width="1.8"/>
<line x1="1280.4" y1="1251.0" x2="1280.4" y2="1244.2" stroke="#000" stroke-width="1.8"/>
<line x1="1330.5" y1="942.8" x2="1330.5" y2="949.6" stroke="#000" stroke-width="1.8"/>
<line x1="1330.5" y1="1251.0" x2="1330.5" y2="1244.2" stroke="#000" stroke-width="1.8"/>
<line x1="1380.6" y1="942.8" x2="1380.6" y2="949.6" stroke="#000" stroke-width="1.8"/>
<line x1="1380.6" y1="1251.0" x2="1380.6" y2="1244.2" stroke="#000" stroke-width="1.8"/>
<line x1="1430.8" y1="942.8" x2="1430.8" y2="954.6" stroke="#000" stroke-width="2.5"/>
<line x1="1430.8" y1="1251.0" x2="1430.8" y2="1239.2" stroke="#000" stroke-width="2.5"/>
<line x1="1480.9" y1="942.8" x2="1480.9" y2="949.6" stroke="#000" stroke-width="1.8"/>
<line x1="1480.9" y1="1251.0" x2="1480.9" y2="1244.2" stroke="#000" stroke-width="1.8"/>
<line x1="1531.1" y1="942.8" x2="1531.1" y2="949.6" stroke="#000" stroke-width="1.8"/>
<line x1="1531.1" y1="1251.0" x2="1531.1" y2="1244.2" stroke="#000" stroke-width="1.8"/>
<line x1="1581.2" y1="942.8" x2="1581.2" y2="949.6" stroke="#000" stroke-width="1.8"/>
<line x1="1581.2" y1="1251.0" x2="1581.2" y2="1244.2" stroke="#000" stroke-width="1.8"/>
<line x1="1631.3" y1="942.8" x2="1631.3" y2="954.6" stroke="#000" stroke-width="2.5"/>
<line x1="1631.3" y1="1251.0" x2="1631.3" y2="1239.2" stroke="#000" stroke-width="2.5"/>
<line x1="1681.5" y1="942.8" x2="1681.5" y2="949.6" stroke="#000" stroke-width="1.8"/>
<line x1="1681.5" y1="1251.0" x2="1681.5" y2="1244.2" stroke="#000" stroke-width="1.8"/>
<line x1="1731.6" y1="942.8" x2="1731.6" y2="949.6" stroke="#000" stroke-width="1.8"/>
<line x1="1731.6" y1="1251.0" x2="1731.6" y2="1244.2" stroke="#000" stroke-width="1.8"/>
<line x1="1781.8" y1="942.8" x2="1781.8" y2="949.6" stroke="#000" stroke-width="1.8"/>
<line x1="1781.8" y1="1251.0" x2="1781.8" y2="1244.2" stroke="#000" stroke-width="1.8"/>
<line x1="1831.9" y1="942.8" x2="1831.9" y2="954.6" stroke="#000" stroke-width="2.5"/>
<line x1="1831.9" y1="1251.0" x2="1831.9" y2="1239.2" stroke="#000" stroke-width="2.5"/>
<line x1="227.4" y1="1251.0" x2="241.4" y2="1251.0" stroke="#0000aa" stroke-width="1.8"/>
<line x1="227.4" y1="1210.6" x2="234.4" y2="1210.6" stroke="#000" stroke-width="1.7"/>
<line x1="227.4" y1="1187.0" x2="234.4" y2="1187.0" stroke="#000" stroke-width="1.7"/>
<line x1="227.4" y1="1170.2" x2="234.4" y2="1170.2" stroke="#000" stroke-width="1.7"/>
<line x1="227.4" y1="1157.2" x2="234.4" y2="1157.2" stroke="#000" stroke-width="1.7"/>
<line x1="227.4" y1="1146.6" x2="234.4" y2="1146.6" stroke="#000" stroke-width="1.7"/>
<line x1="227.4" y1="1137.6" x2="234.4" y2="1137.6" stroke="#000" stroke-width="1.7"/>
<line x1="227.4" y1="1129.8" x2="234.4" y2="1129.8" stroke="#000" stroke-width="1.7"/>
<line x1="227.4" y1="1122.9" x2="234.4" y2="1122.9" stroke="#000" stroke-width="1.7"/>
<line x1="227.4" y1="1116.8" x2="241.4" y2="1116.8" stroke="#0000aa" stroke-width="1.8"/>
<line x1="227.4" y1="1076.4" x2="234.4" y2="1076.4" stroke="#000" stroke-width="1.7"/>
<line x1="227.4" y1="1052.8" x2="234.4" y2="1052.8" stroke="#000" stroke-width="1.7"/>
<line x1="227.4" y1="1036.0" x2="234.4" y2="1036.0" stroke="#000" stroke-width="1.7"/>
<line x1="227.4" y1="1023.0" x2="234.4" y2="1023.0" stroke="#000" stroke-width="1.7"/>
<line x1="227.4" y1="1012.4" x2="234.4" y2="1012.4" stroke="#000" stroke-width="1.7"/>
<line x1="227.4" y1="1003.4" x2="234.4" y2="1003.4" stroke="#000" stroke-width="1.7"/>
<line x1="227.4" y1="995.6" x2="234.4" y2="995.6" stroke="#000" stroke-width="1.7"/>
<line x1="227.4" y1="988.7" x2="234.4" y2="988.7" stroke="#000" stroke-width="1.7"/>
<line x1="227.4" y1="982.6" x2="241.4" y2="982.6" stroke="#0000aa" stroke-width="1.8"/>
<line x1="227.4" y1="942.2" x2="234.4" y2="942.2" stroke="#000" stroke-width="1.7"/>
<line x1="1817.9" y1="1250.8" x2="1833.6" y2="1250.8" stroke="#aa0000" stroke-width="1.8"/>
<line x1="1817.9" y1="1173.8" x2="1833.6" y2="1173.8" stroke="#aa0000" stroke-width="1.8"/>
<line x1="1817.9" y1="1096.8" x2="1833.6" y2="1096.8" stroke="#aa0000" stroke-width="1.8"/>
<line x1="1817.9" y1="1019.8" x2="1833.6" y2="1019.8" stroke="#aa0000" stroke-width="1.8"/>
<line x1="1817.9" y1="942.8" x2="1833.6" y2="942.8" stroke="#aa0000" stroke-width="1.8"/>
<rect x="227.4" y="942.8" width="1604.5" height="308.2" fill="none" stroke="#000" stroke-width="3.4"/>
<clipPath id="cc"><rect x="227.4" y="1384.5" width="1604.5" height="514.5"/></clipPath>
<g clip-path="url(#cc)" fill="none" stroke-linejoin="round">
<path d="M225.4 1738.1 L226.3 1738.1 L228.0 1738.1 L230.6 1740.9 L233.9 1746.4 L237.2 1752.6 L240.6 1759.2 L243.6 1765.4 L246.4 1770.9 L249.2 1773.1 L252.0 1772.0 L254.5 1767.0 L256.7 1758.1 L259.5 1746.4 L262.8 1732.0 L266.2 1717.5 L269.5 1703.0 L272.9 1690.2 L276.2 1679.1 L279.5 1669.6 L282.9 1661.9 L285.9 1657.0 L288.7 1655.0 L291.8 1654.1 L295.1 1654.5 L297.6 1656.0 L299.3 1658.8 L301.2 1664.6 L303.5 1673.5 L306.2 1681.3 L309.6 1688.0 L313.2 1692.2 L317.1 1693.9 L321.0 1694.1 L324.9 1693.0 L328.5 1692.5 L331.8 1692.5 L335.7 1694.7 L340.2 1699.1 L345.2 1704.4 L350.8 1710.5 L356.3 1716.7 L361.9 1722.8 L366.6 1727.0 L370.5 1729.2 L373.9 1729.5 L376.6 1727.8 L379.4 1724.2 L382.2 1718.6 L385.0 1710.8 L387.8 1700.8 L390.3 1692.5 L392.5 1685.8 L395.0 1682.2 L397.8 1681.6 L400.3 1678.8 L402.5 1673.8 L404.7 1665.8 L407.0 1654.6 L409.5 1647.9 L412.2 1645.7 L415.3 1644.1 L418.6 1642.9 L421.4 1642.3 L423.7 1642.0 L425.9 1643.7 L428.1 1647.3 L430.3 1651.8 L432.6 1657.4 L435.3 1663.5 L438.7 1670.2 L442.0 1675.8 L445.4 1680.2 L449.2 1683.3 L453.7 1684.9 L459.3 1684.9 L465.9 1683.3 L472.6 1682.3 L479.3 1682.1 L485.4 1682.4 L491.0 1683.2 L496.5 1684.4 L502.1 1686.1 L507.7 1687.7 L513.2 1689.4 L518.8 1689.7 L524.4 1688.6 L529.4 1687.5 L533.8 1686.3 L538.8 1686.3 L544.4 1687.5 L550.0 1689.4 L555.5 1692.2 L561.1 1694.6 L566.7 1696.6 L572.2 1698.0 L577.8 1698.7 L583.9 1699.3 L590.6 1699.6 L596.1 1698.8 L600.6 1696.8 L605.0 1693.0 L609.5 1687.5 L613.1 1683.7 L615.9 1681.8 L618.7 1681.8 L621.5 1683.7 L625.1 1685.8 L629.5 1688.0 L634.0 1688.8 L638.4 1688.3 L643.0 1686.3 L647.7 1683.0 L650.8 1680.8 L652.5 1679.7 L655.1 1680.5 L658.4 1683.3 L662.3 1686.9 L666.7 1691.3 L671.2 1695.4 L675.6 1698.9 L679.5 1701.1 L682.9 1702.0 L686.2 1701.9 L689.6 1700.8 L693.4 1698.3 L697.9 1694.4 L702.9 1689.7 L708.5 1684.1 L713.5 1679.4 L717.9 1675.5 L721.8 1673.1 L725.2 1672.2 L728.5 1671.9 L731.8 1672.3 L735.7 1671.0 L740.2 1668.3 L744.1 1665.5 L747.4 1662.7 L750.2 1661.3 L752.4 1661.3 L755.8 1663.0 L760.2 1666.3 L764.7 1670.2 L769.1 1674.7 L773.6 1678.5 L778.0 1681.9 L782.5 1684.4 L786.9 1686.1 L791.4 1687.2 L795.8 1687.7 L800.8 1687.3 L806.4 1685.8 L812.0 1684.3 L817.5 1682.8 L823.1 1681.1 L828.7 1679.3 L833.7 1677.8 L838.1 1676.4 L842.0 1675.6 L845.4 1675.3 L848.7 1674.4 L852.0 1673.1 L855.9 1670.2 L860.4 1665.8 L864.8 1661.0 L869.3 1656.0 L873.2 1652.4 L876.5 1650.2 L879.8 1650.2 L883.2 1652.4 L886.0 1655.5 L888.2 1659.4 L891.0 1663.2 L894.3 1667.1 L898.2 1670.5 L902.7 1673.3 L906.6 1676.3 L909.9 1679.7 L913.2 1682.4 L916.6 1684.7 L920.5 1685.6 L924.9 1685.3 L929.4 1684.2 L933.8 1682.3 L938.3 1680.2 L942.7 1678.0 L947.2 1675.8 L951.6 1673.5 L956.4 1671.6 L961.4 1669.9 L966.4 1667.1 L971.4 1663.2 L976.1 1659.1 L980.6 1654.6 L984.5 1651.1 L987.8 1648.6 L990.9 1647.2 L993.6 1646.9 L996.4 1647.6 L999.2 1649.0 L1002.3 1650.4 L1005.6 1651.7 L1008.9 1652.0 L1012.3 1651.2 L1015.6 1651.8 L1019.0 1653.7 L1022.8 1656.1 L1027.3 1659.1 L1031.8 1661.4 L1036.2 1662.8 L1041.3 1664.1 L1047.1 1665.2 L1050.8 1665.5 L1052.3 1665.1 L1055.9 1664.0 L1061.4 1662.2 L1066.9 1659.6 L1072.4 1656.2 L1077.9 1651.3 L1083.4 1645.1 L1088.3 1638.6 L1092.4 1631.7 L1097.2 1624.8 L1102.7 1617.9 L1107.6 1613.4 L1111.7 1611.3 L1115.2 1611.7 L1117.9 1614.4 L1120.7 1617.9 L1123.4 1622.0 L1126.5 1623.4 L1130.0 1622.0 L1133.4 1620.6 L1136.9 1619.3 L1140.7 1619.3 L1144.8 1620.6 L1148.9 1622.4 L1153.1 1624.4 L1157.2 1624.9 L1161.4 1623.8 L1165.5 1621.1 L1169.6 1616.7 L1173.8 1611.0 L1177.9 1604.1 L1182.0 1597.6 L1186.2 1591.3 L1190.3 1586.5 L1194.5 1583.1 L1198.6 1580.8 L1202.7 1579.7 L1206.5 1578.9 L1210.0 1578.3 L1213.4 1579.9 L1216.9 1583.6 L1220.3 1590.0 L1223.8 1598.9 L1227.2 1607.5 L1230.7 1615.8 L1234.4 1623.4 L1238.6 1630.3 L1242.0 1634.8 L1244.8 1636.9 L1247.9 1636.9 L1251.3 1634.8 L1255.5 1631.3 L1260.3 1626.5 L1264.8 1621.3 L1268.9 1615.8 L1273.1 1608.6 L1277.2 1599.6 L1281.3 1591.0 L1285.5 1582.7 L1289.6 1575.8 L1293.7 1570.3 L1297.9 1564.1 L1302.0 1557.2 L1305.5 1552.4 L1308.2 1549.6 L1311.0 1550.3 L1313.7 1554.5 L1316.8 1560.7 L1320.3 1568.9 L1323.7 1571.7 L1327.2 1568.9 L1331.0 1565.8 L1335.1 1562.4 L1339.3 1556.2 L1343.4 1547.2 L1346.8 1536.5 L1349.6 1524.1 L1352.4 1509.6 L1355.1 1493.1 L1357.9 1477.2 L1360.6 1462.1 L1362.8 1452.1 L1364.5 1447.2 L1366.6 1447.2 L1369.0 1452.1 L1371.7 1457.6 L1374.4 1463.8 L1377.9 1467.9 L1382.0 1470.0 L1386.1 1471.4 L1390.3 1472.1 L1393.4 1474.5 L1395.5 1478.6 L1397.9 1478.6 L1400.6 1474.5 L1403.0 1471.0 L1405.1 1468.3 L1407.2 1469.0 L1409.2 1473.1 L1411.3 1481.0 L1413.4 1492.7 L1415.5 1505.5 L1417.5 1519.3 L1418.9 1533.8 L1419.6 1548.9 L1422.1 1557.6 L1426.2 1559.6 L1430.3 1559.6 L1434.5 1557.6 L1438.6 1556.0 L1442.8 1554.9 L1446.2 1554.5 L1449.0 1554.9 L1451.7 1550.0 L1454.5 1539.6 L1457.2 1528.3 L1460.0 1515.8 L1462.8 1507.6 L1465.5 1503.4 L1469.0 1502.7 L1473.1 1505.5 L1477.2 1506.2 L1481.4 1504.8 L1485.9 1502.0 L1490.7 1497.9 L1494.8 1498.9 L1498.3 1505.2 L1502.1 1512.0 L1506.2 1519.6 L1510.3 1524.8 L1514.5 1527.6 L1518.6 1528.3 L1522.7 1526.9 L1526.9 1527.9 L1531.0 1531.4 L1535.2 1536.5 L1539.3 1543.4 L1542.7 1545.1 L1545.5 1541.7 L1548.3 1537.2 L1551.0 1531.7 L1554.5 1527.6 L1558.6 1524.8 L1562.4 1522.0 L1565.8 1519.3 L1568.9 1514.5 L1571.7 1507.6 L1574.8 1499.6 L1578.2 1490.7 L1581.7 1483.1 L1585.1 1476.9 L1588.2 1472.5 L1591.0 1470.1 L1593.4 1469.0 L1595.5 1469.4 L1597.6 1474.1 L1599.6 1483.1 L1602.0 1488.9 L1604.8 1491.7 L1607.2 1485.5 L1609.3 1470.3 L1611.3 1457.9 L1613.4 1448.3 L1614.9 1442.1 L1615.9 1439.3 L1617.1 1443.4 L1618.4 1454.5 L1620.0 1467.6 L1621.8 1482.7 L1623.8 1496.5 L1625.8 1508.9 L1628.2 1520.0 L1631.0 1529.6 L1633.4 1533.4 L1635.5 1531.4 L1637.6 1533.8 L1639.6 1540.7 L1642.0 1548.2 L1644.8 1556.5 L1647.2 1554.1 L1649.3 1541.0 L1651.3 1525.5 L1653.4 1507.6 L1655.5 1502.0 L1657.5 1508.9 L1659.6 1518.6 L1661.7 1531.0 L1663.8 1540.0 L1665.8 1545.5 L1668.6 1547.2 L1672.0 1545.1 L1675.8 1543.8 L1680.0 1543.1 L1684.1 1542.7 L1688.2 1542.7 L1691.7 1541.4 L1694.4 1538.6 L1696.9 1535.1 L1698.9 1531.0 L1701.3 1531.7 L1704.1 1537.2 L1706.8 1543.4 L1709.6 1550.3 L1712.4 1555.1 L1715.1 1557.9 L1717.9 1557.2 L1720.6 1553.1 L1723.4 1547.9 L1726.2 1541.7 L1728.6 1547.2 L1730.6 1564.5 L1732.9 1579.6 L1735.4 1592.7 L1737.8 1596.2 L1740.2 1590.0 L1742.7 1582.7 L1745.5 1574.5 L1747.9 1574.1 L1749.9 1581.7 L1752.4 1590.7 L1755.1 1601.0 L1758.6 1611.0 L1762.7 1620.6 L1766.5 1628.9 L1769.9 1635.8 L1773.0 1638.6 L1775.8 1637.2 L1778.6 1635.5 L1781.3 1633.4 L1784.4 1635.5 L1787.9 1641.7 L1791.7 1647.4 L1795.8 1652.6 L1799.6 1655.1 L1803.0 1654.6 L1806.5 1652.0 L1809.9 1647.2 L1813.0 1642.7 L1815.8 1638.6 L1818.6 1637.2 L1821.3 1638.6 L1824.1 1642.0 L1826.8 1647.5 L1829.0 1651.7 L1830.7 1654.4 L1831.5 1655.8" stroke="#ffa30a" stroke-width="4.7"/>
<path d="M225.4 1695.4 L226.3 1695.4 L228.0 1695.4 L232.2 1695.5 L238.9 1695.7 L246.2 1696.6 L253.9 1698.3 L260.6 1701.4 L266.2 1705.8 L271.7 1710.3 L277.3 1714.7 L282.0 1717.8 L285.9 1719.4 L289.3 1719.2 L292.1 1716.9 L294.6 1710.8 L296.8 1700.8 L299.0 1690.2 L301.2 1679.1 L303.7 1666.9 L306.5 1653.5 L309.3 1641.8 L312.1 1631.8 L314.9 1622.4 L317.7 1613.4 L320.4 1606.8 L323.2 1602.3 L325.4 1599.8 L327.1 1599.3 L329.1 1600.9 L331.3 1604.8 L333.8 1611.2 L336.6 1620.1 L339.1 1627.6 L341.3 1633.8 L343.8 1636.5 L346.6 1636.0 L349.4 1637.9 L352.2 1642.4 L355.8 1649.6 L360.2 1659.6 L364.7 1669.6 L369.1 1679.7 L373.6 1688.0 L378.0 1694.7 L383.0 1699.7 L388.6 1703.0 L394.2 1705.3 L399.7 1706.4 L404.7 1705.5 L409.2 1702.8 L413.1 1699.4 L416.4 1695.5 L419.2 1693.3 L421.4 1692.7 L423.7 1690.5 L425.9 1686.6 L427.8 1680.2 L429.5 1671.3 L431.2 1663.0 L432.8 1655.2 L434.5 1649.9 L436.2 1647.1 L438.4 1645.7 L441.2 1645.7 L444.8 1644.1 L449.2 1640.7 L453.4 1638.5 L457.3 1637.4 L461.2 1637.4 L465.1 1638.5 L469.3 1640.7 L473.7 1644.1 L478.7 1648.8 L484.3 1654.9 L489.9 1660.6 L495.4 1666.0 L499.9 1668.8 L503.2 1669.0 L507.1 1668.4 L511.6 1667.1 L517.1 1665.7 L523.8 1664.2 L529.9 1661.6 L535.5 1657.7 L540.8 1653.5 L545.8 1649.1 L549.7 1647.9 L552.5 1650.2 L555.0 1654.6 L557.2 1661.3 L559.7 1666.3 L562.5 1669.6 L565.8 1671.9 L569.7 1673.0 L575.0 1673.0 L581.7 1671.9 L588.4 1670.2 L595.0 1668.0 L601.7 1667.4 L608.4 1668.5 L614.5 1670.2 L620.1 1672.4 L625.1 1673.0 L629.5 1671.9 L634.0 1668.5 L638.4 1663.0 L643.0 1658.8 L647.7 1656.0 L651.4 1655.3 L654.2 1656.8 L657.8 1657.1 L662.3 1656.2 L666.7 1654.6 L671.2 1652.4 L675.1 1649.6 L678.4 1646.3 L681.8 1643.2 L685.1 1640.4 L689.6 1638.8 L695.1 1638.2 L700.7 1637.7 L706.2 1637.1 L711.3 1635.7 L715.7 1633.5 L719.6 1632.9 L722.9 1634.0 L725.7 1635.7 L727.9 1637.9 L730.2 1639.8 L732.4 1641.2 L735.2 1641.2 L738.5 1639.8 L741.9 1637.1 L745.2 1633.2 L748.5 1628.7 L751.9 1623.7 L755.2 1620.1 L758.5 1617.9 L762.4 1616.5 L766.9 1616.0 L771.3 1616.1 L775.8 1617.0 L779.7 1616.7 L783.0 1615.3 L786.4 1613.3 L789.7 1610.7 L792.8 1609.3 L795.6 1609.1 L798.1 1610.7 L800.3 1614.0 L802.2 1619.0 L803.9 1625.7 L805.8 1632.1 L808.1 1638.2 L810.6 1643.2 L813.4 1647.1 L816.7 1649.5 L820.6 1650.4 L824.8 1650.4 L829.2 1649.5 L834.2 1647.7 L839.8 1644.9 L844.8 1641.5 L849.2 1637.7 L853.7 1634.7 L858.1 1632.7 L862.6 1631.6 L867.1 1631.4 L872.1 1631.8 L877.6 1632.9 L882.6 1632.4 L887.1 1630.1 L891.5 1627.6 L896.0 1624.9 L899.9 1622.6 L903.2 1621.0 L907.1 1620.0 L911.6 1619.8 L915.5 1621.2 L918.8 1624.2 L922.1 1629.3 L925.5 1636.5 L928.8 1643.6 L932.2 1650.5 L935.2 1653.3 L938.0 1652.0 L940.8 1648.5 L943.6 1642.9 L946.1 1638.8 L948.3 1636.0 L950.5 1634.9 L952.7 1635.4 L955.8 1637.1 L959.7 1639.9 L963.6 1640.4 L967.5 1638.8 L971.7 1636.8 L976.1 1634.6 L980.6 1632.9 L985.0 1631.8 L989.5 1629.9 L993.9 1627.1 L997.8 1623.7 L1001.1 1619.8 L1005.0 1615.1 L1009.5 1609.6 L1013.9 1604.3 L1018.4 1599.3 L1021.5 1596.2 L1023.1 1595.1 L1025.4 1596.2 L1028.1 1599.5 L1031.8 1602.6 L1036.2 1605.4 L1041.3 1607.3 L1047.1 1608.4 L1050.1 1609.1 L1050.3 1609.4 L1053.1 1612.1 L1058.6 1617.3 L1063.4 1621.7 L1067.6 1625.1 L1071.7 1626.7 L1075.9 1626.4 L1080.0 1624.7 L1084.1 1621.5 L1089.0 1617.5 L1094.5 1612.7 L1100.7 1608.2 L1107.6 1604.1 L1113.8 1599.6 L1119.3 1594.8 L1124.8 1590.0 L1130.3 1585.1 L1135.8 1581.7 L1141.4 1579.6 L1146.2 1582.0 L1150.3 1588.9 L1155.2 1595.8 L1160.7 1602.7 L1166.2 1610.0 L1171.7 1617.5 L1177.2 1622.7 L1182.7 1625.5 L1187.6 1626.5 L1191.7 1625.8 L1195.8 1622.7 L1200.0 1617.2 L1204.1 1608.9 L1208.2 1597.9 L1211.7 1589.3 L1214.5 1583.1 L1217.9 1579.1 L1222.0 1577.3 L1226.2 1576.9 L1230.3 1578.0 L1234.4 1581.3 L1238.6 1586.9 L1242.7 1594.4 L1246.9 1604.1 L1251.0 1613.4 L1255.1 1622.4 L1260.0 1628.9 L1265.5 1633.1 L1271.0 1634.1 L1276.5 1632.0 L1281.3 1628.2 L1285.5 1622.7 L1289.6 1617.2 L1293.7 1611.7 L1297.9 1602.7 L1302.0 1590.3 L1306.2 1577.2 L1310.3 1563.4 L1315.1 1551.0 L1320.6 1540.0 L1325.5 1531.4 L1329.6 1525.1 L1332.7 1521.4 L1334.8 1520.0 L1336.8 1520.3 L1338.9 1522.4 L1341.3 1528.9 L1344.1 1540.0 L1346.8 1552.4 L1349.6 1566.2 L1352.2 1576.9 L1354.5 1584.4 L1356.9 1585.5 L1359.4 1580.0 L1362.4 1568.6 L1365.8 1551.4 L1368.9 1533.1 L1371.7 1513.8 L1374.4 1493.1 L1377.2 1471.0 L1379.9 1454.8 L1382.7 1444.5 L1385.1 1441.4 L1387.2 1445.5 L1389.2 1450.3 L1391.3 1455.8 L1393.7 1457.6 L1396.5 1455.5 L1399.2 1450.0 L1402.0 1441.0 L1404.4 1435.2 L1406.5 1432.4 L1408.6 1433.1 L1410.6 1437.2 L1412.7 1443.8 L1414.8 1452.7 L1416.8 1461.7 L1418.9 1470.7 L1421.3 1474.8 L1424.1 1474.1 L1427.2 1484.1 L1430.7 1504.8 L1434.1 1517.2 L1437.6 1521.4 L1441.0 1525.8 L1444.5 1530.7 L1447.6 1533.8 L1450.3 1535.1 L1453.4 1534.1 L1456.9 1530.7 L1460.3 1524.1 L1463.8 1514.5 L1466.9 1503.4 L1469.6 1491.0 L1472.4 1477.2 L1475.2 1462.1 L1477.6 1451.0 L1479.6 1444.1 L1482.1 1439.6 L1484.8 1437.6 L1487.6 1440.0 L1490.3 1446.9 L1493.8 1446.5 L1497.9 1439.0 L1501.7 1432.7 L1505.2 1427.9 L1508.3 1425.3 L1511.0 1424.9 L1514.5 1426.3 L1518.6 1429.4 L1522.4 1434.1 L1525.8 1440.3 L1529.6 1447.9 L1533.8 1456.9 L1537.9 1465.8 L1542.0 1474.8 L1545.8 1483.4 L1549.3 1491.7 L1552.4 1496.5 L1555.2 1497.9 L1557.6 1501.4 L1559.6 1506.9 L1561.7 1504.8 L1563.8 1495.2 L1566.2 1482.1 L1568.9 1465.5 L1571.7 1452.4 L1574.5 1442.7 L1577.2 1439.0 L1580.0 1441.0 L1582.4 1443.4 L1584.5 1446.2 L1586.9 1446.5 L1589.6 1444.5 L1592.4 1442.1 L1595.1 1439.3 L1597.9 1439.3 L1600.7 1442.1 L1603.4 1448.3 L1606.2 1457.9 L1608.6 1467.2 L1610.7 1476.2 L1613.1 1481.4 L1615.8 1482.7 L1618.9 1486.9 L1622.4 1493.8 L1625.1 1496.9 L1627.2 1496.2 L1629.3 1491.7 L1631.3 1483.4 L1633.1 1472.4 L1634.4 1458.6 L1635.8 1444.8 L1637.2 1431.0 L1638.9 1421.4 L1641.0 1415.9 L1642.7 1418.6 L1644.1 1429.6 L1645.5 1443.4 L1646.9 1460.0 L1648.2 1476.5 L1649.6 1493.1 L1651.0 1506.9 L1652.4 1517.9 L1654.1 1518.6 L1656.2 1508.9 L1658.2 1500.7 L1660.3 1493.8 L1662.7 1498.3 L1665.5 1514.1 L1667.9 1514.1 L1670.0 1498.3 L1672.0 1482.1 L1674.1 1465.5 L1675.6 1453.8 L1676.6 1446.9 L1678.0 1450.3 L1679.8 1464.1 L1681.3 1481.4 L1682.7 1502.0 L1684.1 1522.0 L1685.5 1541.4 L1687.2 1548.9 L1689.3 1544.8 L1691.7 1537.9 L1694.4 1528.3 L1697.2 1523.1 L1700.0 1522.4 L1702.7 1525.1 L1705.5 1531.4 L1707.9 1536.5 L1710.0 1540.7 L1712.4 1535.1 L1715.1 1520.0 L1717.9 1509.3 L1720.6 1503.1 L1722.7 1507.2 L1724.1 1521.7 L1725.8 1538.6 L1727.9 1557.9 L1729.9 1572.0 L1732.0 1581.0 L1734.8 1585.5 L1738.2 1585.5 L1741.3 1579.3 L1744.1 1566.9 L1746.5 1561.3 L1748.6 1562.7 L1751.0 1569.3 L1753.7 1581.0 L1756.5 1587.2 L1759.3 1587.9 L1762.0 1586.5 L1764.8 1583.1 L1767.2 1586.2 L1769.3 1595.8 L1771.7 1605.5 L1774.4 1615.1 L1777.2 1623.4 L1779.9 1630.3 L1783.0 1636.5 L1786.5 1642.0 L1789.6 1649.6 L1792.4 1659.3 L1794.8 1669.6 L1796.8 1680.6 L1798.9 1688.2 L1801.0 1692.4 L1803.4 1693.4 L1806.1 1691.3 L1808.6 1691.3 L1810.6 1693.4 L1813.0 1702.7 L1815.8 1719.3 L1818.6 1737.2 L1821.3 1756.5 L1824.1 1774.4 L1826.8 1791.0 L1829.0 1803.4 L1830.7 1811.7 L1831.5 1815.8" stroke="#66e000" stroke-width="4.7"/>
<path d="M225.4 1732.5 L226.3 1732.5 L228.0 1732.5 L232.2 1733.9 L238.9 1736.7 L245.0 1739.5 L250.6 1742.3 L256.2 1746.2 L261.7 1751.2 L267.3 1757.0 L272.9 1763.7 L277.9 1769.0 L282.3 1772.9 L287.3 1776.2 L292.9 1779.0 L298.5 1782.2 L304.0 1785.7 L308.2 1786.0 L311.0 1783.0 L313.2 1776.8 L314.9 1767.3 L316.5 1751.4 L318.2 1729.2 L319.9 1710.3 L321.5 1694.7 L323.8 1683.6 L326.6 1676.9 L329.1 1674.9 L331.3 1677.7 L333.8 1680.8 L336.6 1684.1 L339.1 1682.2 L341.3 1674.9 L343.8 1667.1 L346.6 1658.8 L349.9 1654.8 L353.8 1655.1 L357.4 1655.4 L360.8 1655.6 L363.8 1657.1 L366.6 1659.9 L369.1 1662.7 L371.3 1665.5 L373.9 1662.7 L376.6 1654.3 L379.4 1650.2 L382.2 1650.2 L384.7 1654.3 L386.9 1662.7 L390.0 1673.0 L393.9 1685.2 L397.5 1696.4 L400.8 1706.4 L403.9 1714.4 L406.7 1720.6 L409.5 1720.0 L412.2 1712.8 L415.3 1705.8 L418.6 1699.1 L421.4 1695.2 L423.7 1694.1 L426.2 1696.4 L428.9 1701.9 L432.0 1707.5 L435.3 1713.0 L438.6 1716.4 L441.7 1717.5 L444.2 1714.2 L446.1 1706.4 L448.4 1695.8 L451.2 1682.4 L454.0 1675.7 L456.8 1675.4 L459.5 1672.1 L462.3 1665.6 L465.1 1659.9 L467.9 1654.9 L470.4 1653.0 L472.6 1654.1 L474.8 1657.7 L477.1 1663.8 L479.8 1669.4 L483.2 1674.4 L487.1 1678.8 L491.5 1682.7 L496.3 1685.5 L501.3 1687.2 L505.2 1686.6 L507.9 1683.8 L511.0 1678.5 L514.3 1670.8 L517.7 1664.4 L521.0 1659.4 L524.4 1658.0 L527.7 1660.2 L531.6 1663.0 L536.0 1666.3 L541.1 1669.1 L546.6 1671.3 L551.1 1671.3 L554.4 1669.1 L558.3 1663.8 L562.8 1655.5 L567.2 1649.9 L571.7 1647.1 L575.6 1647.1 L578.9 1649.9 L582.8 1653.8 L587.2 1658.8 L591.7 1661.9 L596.1 1663.0 L600.6 1664.1 L605.0 1665.2 L609.5 1666.3 L613.9 1667.4 L618.4 1667.4 L622.8 1666.3 L627.3 1665.2 L631.8 1664.1 L636.2 1664.4 L640.7 1666.0 L644.7 1667.4 L648.2 1668.5 L650.3 1669.1 L650.9 1669.1 L653.4 1668.0 L657.8 1665.8 L662.8 1663.5 L668.4 1661.3 L672.9 1658.5 L676.2 1655.2 L679.5 1651.0 L682.9 1646.0 L686.2 1642.0 L689.6 1639.0 L693.4 1636.5 L697.9 1634.5 L701.8 1633.2 L705.1 1632.6 L709.6 1633.3 L715.1 1635.2 L720.2 1636.3 L724.6 1636.7 L728.5 1636.5 L731.8 1636.0 L735.7 1636.0 L740.2 1636.5 L744.1 1637.0 L747.4 1637.3 L750.8 1635.4 L754.1 1631.1 L757.4 1626.8 L760.8 1622.4 L764.1 1619.5 L767.5 1618.1 L770.8 1616.7 L774.1 1615.3 L777.5 1613.2 L780.8 1610.4 L784.4 1607.9 L788.3 1605.7 L791.9 1605.2 L795.3 1606.5 L798.9 1608.5 L802.8 1611.1 L805.8 1612.7 L808.1 1613.5 L810.3 1613.7 L812.5 1613.2 L814.7 1613.7 L817.0 1615.0 L819.5 1617.9 L822.3 1622.4 L825.0 1627.4 L827.8 1632.9 L830.6 1637.5 L833.4 1641.0 L836.2 1642.8 L839.0 1642.8 L842.0 1642.4 L845.4 1641.7 L848.7 1642.7 L852.0 1645.4 L855.4 1648.8 L858.7 1652.7 L861.8 1655.6 L864.5 1657.6 L867.3 1657.3 L870.1 1654.8 L873.2 1652.4 L876.5 1650.2 L880.4 1649.1 L884.9 1649.1 L889.9 1649.6 L895.4 1650.7 L901.0 1651.8 L906.6 1653.0 L911.6 1652.4 L916.0 1650.2 L920.5 1647.6 L924.9 1644.6 L928.8 1642.3 L932.2 1640.9 L935.5 1640.7 L938.8 1641.8 L942.2 1644.1 L945.5 1647.4 L949.4 1652.1 L953.9 1658.2 L958.0 1663.1 L961.9 1666.6 L965.3 1668.0 L968.0 1667.3 L970.5 1664.9 L972.8 1661.0 L975.6 1654.9 L978.9 1646.6 L982.2 1639.0 L985.6 1632.4 L988.9 1627.1 L992.2 1623.2 L996.1 1619.6 L1000.6 1616.2 L1005.0 1611.8 L1009.5 1606.2 L1013.9 1600.6 L1018.4 1595.1 L1022.8 1590.1 L1027.3 1585.6 L1032.0 1581.7 L1037.0 1578.4 L1040.9 1577.6 L1043.7 1579.2 L1046.3 1581.2 L1048.8 1583.4 L1050.1 1584.4 L1050.3 1584.2 L1053.1 1586.0 L1058.6 1589.7 L1063.4 1592.3 L1067.6 1593.8 L1071.7 1599.5 L1075.9 1609.5 L1080.0 1617.9 L1084.1 1624.8 L1088.3 1629.1 L1092.4 1630.7 L1097.2 1630.7 L1102.7 1629.1 L1108.3 1626.2 L1113.8 1622.0 L1120.0 1616.2 L1126.9 1608.6 L1133.8 1600.3 L1140.7 1591.3 L1146.9 1584.2 L1152.4 1579.0 L1156.5 1576.1 L1159.3 1575.6 L1162.7 1577.5 L1166.9 1581.9 L1171.7 1587.6 L1177.2 1594.4 L1182.7 1601.0 L1188.2 1607.2 L1193.8 1613.1 L1199.3 1618.6 L1204.1 1622.0 L1208.2 1623.4 L1212.4 1622.4 L1216.5 1618.9 L1221.3 1613.1 L1226.9 1604.8 L1232.4 1596.9 L1237.9 1589.3 L1243.4 1582.0 L1248.9 1575.1 L1253.1 1570.9 L1255.8 1569.2 L1258.6 1569.2 L1261.3 1570.9 L1264.8 1575.1 L1268.9 1582.0 L1273.1 1589.3 L1277.2 1596.9 L1281.3 1606.9 L1285.5 1619.3 L1289.3 1630.3 L1292.7 1640.0 L1295.8 1646.2 L1298.6 1648.9 L1301.7 1648.2 L1305.1 1644.1 L1308.9 1638.9 L1313.1 1632.7 L1316.8 1627.2 L1320.3 1622.4 L1323.7 1614.4 L1327.2 1603.4 L1331.0 1591.0 L1335.1 1577.2 L1339.3 1565.1 L1343.4 1554.8 L1347.9 1546.2 L1352.7 1539.3 L1356.8 1538.9 L1360.3 1545.1 L1363.7 1551.4 L1367.2 1557.6 L1370.8 1563.1 L1374.5 1567.9 L1377.6 1564.1 L1380.1 1551.7 L1382.4 1538.6 L1384.4 1524.8 L1386.8 1510.3 L1389.6 1495.2 L1392.0 1481.7 L1394.1 1470.0 L1396.8 1462.7 L1400.3 1460.0 L1403.7 1454.8 L1407.2 1447.2 L1410.6 1438.3 L1414.1 1427.9 L1416.8 1427.9 L1418.9 1438.3 L1421.0 1449.6 L1423.1 1462.1 L1425.7 1480.7 L1428.9 1505.5 L1431.7 1509.6 L1434.0 1493.1 L1436.5 1479.3 L1439.3 1468.3 L1442.1 1469.0 L1444.8 1481.4 L1447.6 1492.7 L1450.3 1503.1 L1453.4 1509.6 L1456.9 1512.4 L1460.3 1514.5 L1463.8 1515.8 L1466.9 1512.0 L1469.6 1503.1 L1472.4 1491.7 L1475.2 1477.9 L1477.6 1467.2 L1479.6 1459.6 L1482.1 1458.3 L1484.8 1463.1 L1488.3 1469.0 L1492.4 1475.8 L1496.2 1484.8 L1499.6 1495.8 L1503.1 1505.5 L1506.5 1513.8 L1510.0 1520.3 L1513.4 1525.1 L1516.5 1524.5 L1519.3 1518.3 L1522.1 1511.0 L1524.8 1502.7 L1527.6 1496.9 L1530.3 1493.4 L1532.7 1491.7 L1534.8 1491.7 L1537.6 1493.4 L1541.0 1496.9 L1544.5 1499.3 L1547.9 1500.7 L1551.0 1501.0 L1553.8 1500.3 L1556.5 1503.4 L1559.3 1510.3 L1561.7 1513.4 L1563.8 1512.7 L1566.2 1513.8 L1568.9 1516.5 L1571.7 1518.6 L1574.5 1520.0 L1576.9 1517.9 L1578.9 1512.4 L1581.4 1507.2 L1584.1 1502.4 L1586.9 1500.0 L1589.6 1500.0 L1592.4 1499.3 L1595.1 1497.9 L1597.9 1496.9 L1600.7 1496.2 L1603.4 1497.9 L1606.2 1502.0 L1609.3 1509.6 L1612.7 1520.7 L1616.2 1530.0 L1619.6 1537.6 L1622.7 1540.3 L1625.5 1538.2 L1628.6 1533.1 L1632.0 1524.8 L1635.1 1517.2 L1637.9 1510.3 L1640.7 1503.4 L1643.4 1496.5 L1645.7 1487.6 L1647.5 1476.5 L1649.1 1466.2 L1650.4 1456.5 L1652.3 1454.5 L1654.7 1460.0 L1656.5 1471.7 L1657.9 1489.6 L1659.3 1507.6 L1660.6 1525.5 L1662.0 1541.4 L1663.4 1555.1 L1664.8 1566.5 L1666.2 1575.5 L1667.9 1577.2 L1670.0 1571.7 L1671.7 1574.1 L1673.1 1584.4 L1674.8 1596.5 L1676.9 1610.3 L1678.9 1621.0 L1681.0 1628.6 L1683.1 1633.8 L1685.1 1636.5 L1687.5 1642.4 L1690.3 1651.3 L1693.1 1661.3 L1695.8 1672.4 L1698.6 1682.0 L1701.3 1690.3 L1703.7 1697.2 L1705.8 1702.7 L1707.9 1713.0 L1710.0 1728.2 L1712.0 1738.6 L1714.1 1744.1 L1716.5 1750.3 L1719.3 1757.2 L1722.0 1761.0 L1724.8 1761.7 L1727.2 1758.2 L1729.3 1750.6 L1731.7 1742.4 L1734.4 1733.4 L1737.2 1735.5 L1739.9 1748.6 L1742.7 1763.4 L1745.5 1779.9 L1748.2 1793.7 L1751.0 1804.8 L1753.4 1812.0 L1755.5 1815.4 L1757.9 1813.4 L1760.6 1805.8 L1763.4 1795.8 L1766.1 1783.4 L1768.9 1770.3 L1771.7 1756.5 L1774.4 1741.3 L1777.2 1724.8 L1779.6 1713.4 L1781.7 1707.2 L1784.1 1706.5 L1786.8 1711.3 L1789.6 1718.6 L1792.4 1728.2 L1795.1 1736.5 L1797.9 1743.4 L1801.0 1748.6 L1804.4 1752.0 L1808.2 1754.8 L1812.3 1756.8 L1816.1 1757.5 L1819.6 1756.8 L1822.7 1756.7 L1825.5 1757.1 L1828.0 1763.0 L1830.3 1774.3 L1831.5 1779.9" stroke="#0aa51e" stroke-width="4.7"/>
<path d="M225.4 1840.5 L226.3 1840.5 L228.0 1840.5 L232.2 1838.8 L238.9 1835.5 L245.0 1832.1 L250.6 1828.8 L255.6 1826.6 L260.1 1825.4 L264.5 1825.6 L269.0 1827.1 L274.0 1828.7 L279.5 1830.6 L285.7 1831.3 L292.3 1830.7 L299.0 1831.3 L305.7 1833.0 L311.3 1834.1 L315.7 1834.6 L319.6 1833.0 L322.9 1829.1 L325.7 1822.1 L327.9 1812.1 L330.2 1797.6 L332.4 1778.7 L334.3 1762.6 L336.0 1749.2 L338.2 1738.6 L341.0 1730.9 L343.8 1725.8 L346.6 1723.6 L349.4 1719.7 L352.2 1714.2 L354.9 1708.0 L357.7 1701.4 L360.2 1696.9 L362.4 1694.7 L364.9 1695.0 L367.7 1697.7 L370.8 1702.8 L374.1 1710.0 L377.5 1720.3 L380.8 1733.6 L384.1 1746.4 L387.5 1758.7 L390.3 1766.5 L392.5 1769.8 L395.8 1770.6 L400.3 1769.0 L404.2 1770.6 L407.5 1775.6 L411.4 1781.5 L415.9 1788.2 L419.8 1792.9 L423.1 1795.7 L427.0 1797.3 L431.4 1797.9 L435.9 1794.8 L440.3 1788.2 L445.4 1780.4 L450.9 1771.5 L456.5 1765.4 L462.0 1762.0 L468.2 1759.5 L474.8 1757.8 L481.0 1758.7 L486.5 1762.0 L491.5 1762.0 L496.0 1758.7 L501.0 1754.2 L506.6 1748.7 L511.6 1742.8 L516.0 1736.7 L519.6 1731.1 L522.4 1726.1 L525.2 1723.9 L528.0 1724.5 L531.0 1728.6 L534.4 1736.4 L538.3 1745.3 L542.7 1755.3 L546.6 1762.6 L550.0 1767.0 L553.3 1770.1 L556.6 1771.7 L560.5 1771.7 L565.0 1770.1 L569.4 1767.6 L573.9 1764.2 L578.3 1759.8 L582.8 1754.2 L586.7 1750.3 L590.0 1748.1 L594.5 1747.0 L600.0 1747.0 L607.3 1748.1 L616.2 1750.3 L623.4 1753.4 L629.0 1757.3 L634.5 1761.2 L640.1 1765.1 L644.7 1767.6 L648.2 1768.7 L652.0 1769.2 L655.9 1769.2 L660.6 1768.4 L666.2 1766.7 L671.2 1765.6 L675.6 1765.1 L680.1 1766.2 L684.5 1769.0 L689.0 1771.3 L693.4 1773.2 L697.9 1773.8 L702.4 1773.0 L706.8 1772.0 L711.3 1770.9 L715.7 1770.9 L720.2 1772.0 L725.2 1773.4 L730.7 1775.1 L736.3 1775.2 L741.9 1773.8 L746.9 1773.3 L751.3 1773.9 L755.2 1774.5 L758.5 1775.1 L761.9 1774.8 L765.2 1773.3 L769.1 1771.2 L773.6 1768.4 L778.6 1766.6 L784.1 1765.7 L789.7 1764.3 L795.3 1762.4 L800.3 1759.5 L804.7 1755.6 L809.2 1752.8 L813.6 1751.2 L819.2 1751.1 L825.9 1752.5 L831.4 1752.2 L835.9 1750.2 L840.3 1748.4 L844.8 1746.7 L849.2 1745.6 L853.7 1745.0 L857.9 1744.1 L861.8 1742.8 L865.7 1743.3 L869.6 1745.8 L873.7 1749.5 L878.2 1754.5 L882.6 1759.0 L887.1 1762.8 L891.5 1764.5 L896.0 1764.0 L900.4 1762.3 L904.9 1759.5 L909.3 1756.4 L913.8 1753.1 L918.8 1750.0 L924.4 1747.3 L929.4 1744.8 L933.8 1742.5 L937.4 1741.1 L940.2 1740.6 L943.0 1741.1 L945.8 1742.8 L948.8 1745.6 L952.2 1749.5 L956.1 1753.4 L960.5 1757.3 L965.0 1761.2 L969.4 1765.1 L973.3 1770.4 L976.7 1777.0 L980.0 1783.7 L983.3 1790.4 L986.7 1795.0 L990.0 1797.4 L992.8 1798.5 L995.0 1798.3 L997.8 1796.5 L1001.1 1793.2 L1005.0 1789.6 L1009.5 1785.7 L1013.9 1782.0 L1018.4 1778.7 L1022.8 1775.1 L1027.3 1771.2 L1031.2 1767.9 L1034.5 1765.1 L1037.9 1763.6 L1041.2 1763.3 L1044.7 1763.6 L1048.2 1764.4 L1050.1 1765.1 L1050.3 1765.8 L1053.1 1768.2 L1058.6 1772.3 L1064.1 1778.6 L1069.6 1786.8 L1075.2 1794.8 L1080.7 1802.3 L1085.9 1807.5 L1090.7 1810.3 L1094.8 1811.0 L1098.3 1809.6 L1102.7 1805.1 L1108.3 1797.5 L1113.8 1789.6 L1119.3 1781.3 L1124.8 1774.4 L1130.3 1768.9 L1136.5 1763.7 L1143.4 1758.9 L1151.0 1755.8 L1159.3 1754.4 L1166.9 1753.4 L1173.8 1752.7 L1180.0 1752.7 L1185.5 1753.4 L1190.3 1754.8 L1194.5 1756.8 L1198.6 1760.3 L1202.7 1765.1 L1206.9 1768.4 L1211.0 1770.2 L1215.1 1769.9 L1219.3 1767.4 L1223.4 1762.7 L1227.6 1755.8 L1231.3 1748.2 L1234.8 1739.9 L1238.2 1734.4 L1241.7 1731.7 L1244.8 1731.7 L1247.5 1734.4 L1251.0 1740.6 L1255.1 1750.3 L1258.9 1757.5 L1262.4 1762.4 L1265.8 1765.1 L1269.3 1765.8 L1273.1 1764.8 L1277.2 1762.0 L1282.0 1759.6 L1287.5 1757.5 L1292.4 1753.4 L1296.5 1747.2 L1300.6 1740.6 L1304.8 1733.7 L1308.9 1727.9 L1313.1 1723.0 L1316.5 1720.4 L1319.3 1720.0 L1322.7 1721.0 L1326.8 1723.5 L1331.0 1725.5 L1335.1 1726.8 L1339.3 1725.8 L1343.4 1722.4 L1347.5 1718.9 L1351.7 1715.5 L1355.8 1713.0 L1359.9 1711.7 L1364.1 1709.6 L1368.2 1706.8 L1372.4 1704.8 L1376.5 1703.4 L1379.9 1699.3 L1382.7 1692.4 L1385.5 1686.2 L1388.2 1680.6 L1390.6 1677.2 L1392.7 1675.8 L1394.8 1677.2 L1396.8 1681.3 L1398.9 1682.4 L1401.0 1680.3 L1403.0 1674.8 L1405.1 1665.8 L1407.2 1654.4 L1409.2 1640.6 L1411.3 1625.5 L1413.4 1608.9 L1415.5 1594.4 L1417.5 1582.0 L1418.9 1574.8 L1419.6 1572.7 L1421.0 1572.7 L1423.1 1574.8 L1425.2 1579.3 L1427.2 1586.2 L1429.7 1594.4 L1432.4 1604.1 L1435.5 1612.4 L1439.0 1619.3 L1442.4 1622.0 L1445.9 1620.6 L1448.6 1618.9 L1450.7 1616.9 L1452.8 1615.6 L1454.8 1615.2 L1457.2 1618.3 L1460.0 1624.9 L1463.1 1633.8 L1466.5 1644.8 L1470.0 1657.2 L1473.4 1671.0 L1476.9 1678.6 L1480.3 1680.0 L1484.1 1681.7 L1488.3 1683.7 L1491.7 1681.7 L1494.5 1675.5 L1497.2 1666.2 L1500.0 1653.7 L1502.5 1643.7 L1504.9 1636.2 L1507.0 1634.8 L1508.7 1639.6 L1511.0 1649.6 L1513.8 1664.8 L1516.9 1675.8 L1520.3 1682.7 L1524.1 1688.9 L1528.3 1694.4 L1532.7 1700.3 L1537.6 1706.5 L1541.7 1706.5 L1545.2 1700.3 L1548.9 1693.7 L1553.1 1686.8 L1556.9 1685.5 L1560.3 1689.6 L1564.1 1694.8 L1568.3 1701.0 L1572.0 1703.0 L1575.5 1701.0 L1579.3 1696.5 L1583.4 1689.6 L1587.6 1682.0 L1591.7 1673.7 L1595.8 1664.8 L1600.0 1655.1 L1604.1 1644.8 L1608.2 1633.8 L1611.8 1626.0 L1614.9 1621.6 L1618.0 1621.6 L1621.1 1626.0 L1624.4 1631.7 L1627.9 1638.6 L1631.7 1646.2 L1635.8 1654.4 L1639.6 1660.0 L1643.1 1662.7 L1646.5 1660.6 L1650.0 1653.7 L1653.4 1645.5 L1656.9 1635.8 L1660.5 1626.5 L1664.4 1617.5 L1667.5 1616.9 L1669.8 1624.4 L1672.0 1635.1 L1674.1 1648.9 L1675.8 1658.9 L1677.2 1665.1 L1678.9 1668.2 L1681.0 1668.2 L1683.4 1669.6 L1686.2 1672.4 L1688.9 1674.1 L1691.7 1674.8 L1695.1 1677.5 L1699.3 1682.4 L1703.1 1686.5 L1706.5 1689.9 L1710.0 1695.1 L1713.4 1702.0 L1716.8 1711.0 L1720.3 1722.0 L1723.4 1732.4 L1726.2 1742.0 L1729.3 1751.0 L1732.7 1759.2 L1736.5 1767.5 L1740.6 1775.8 L1744.8 1784.8 L1748.9 1794.4 L1752.7 1804.8 L1756.2 1815.8 L1759.3 1824.8 L1762.0 1831.6 L1764.4 1837.2 L1766.5 1841.3 L1768.9 1841.3 L1771.7 1837.2 L1774.8 1830.3 L1778.2 1820.6 L1781.7 1811.0 L1785.1 1801.3 L1788.2 1795.8 L1791.0 1794.4 L1793.7 1795.8 L1796.5 1799.9 L1799.6 1805.4 L1803.0 1812.3 L1806.5 1818.5 L1809.9 1824.1 L1813.4 1827.5 L1816.8 1828.9 L1820.3 1831.0 L1823.7 1833.7 L1827.0 1835.8 L1830.0 1837.2 L1831.5 1837.9" stroke="#0cb9ee" stroke-width="4.7"/>
<path d="M225.4 1802.6 L226.3 1802.6 L228.0 1802.6 L233.4 1802.9 L242.3 1803.5 L251.2 1804.3 L260.1 1805.4 L267.3 1807.4 L272.9 1810.1 L278.4 1812.9 L284.0 1815.7 L289.0 1816.7 L293.4 1815.9 L297.6 1815.2 L301.5 1814.5 L306.0 1816.0 L311.0 1819.7 L316.3 1823.4 L321.8 1827.1 L326.8 1829.3 L331.3 1830.1 L335.2 1829.6 L338.5 1827.9 L341.9 1824.3 L345.2 1818.8 L348.5 1811.5 L351.9 1802.6 L355.2 1792.1 L358.5 1779.8 L361.3 1768.1 L363.6 1757.0 L365.8 1743.1 L368.0 1726.4 L370.2 1711.4 L372.5 1698.0 L374.7 1686.9 L376.9 1678.0 L379.4 1672.0 L382.2 1668.9 L385.5 1668.3 L389.4 1670.3 L393.0 1671.7 L396.4 1672.5 L399.2 1673.6 L401.4 1675.0 L404.2 1679.7 L407.5 1687.5 L411.4 1695.8 L415.9 1704.7 L420.3 1711.4 L424.8 1715.8 L428.7 1720.8 L432.0 1726.4 L435.9 1731.4 L440.3 1735.9 L444.2 1739.8 L447.6 1743.1 L450.9 1748.7 L454.3 1756.4 L458.1 1764.2 L462.6 1772.0 L467.1 1778.1 L471.5 1782.6 L475.1 1784.5 L477.9 1784.0 L481.2 1781.5 L485.1 1777.0 L489.9 1772.3 L495.4 1767.3 L501.0 1762.3 L506.6 1757.3 L512.1 1753.4 L517.7 1750.6 L523.2 1748.7 L528.8 1747.5 L533.3 1744.2 L536.6 1738.6 L539.9 1731.4 L543.3 1722.5 L546.6 1713.0 L550.0 1703.0 L553.3 1695.8 L556.6 1691.3 L560.5 1688.6 L565.0 1687.5 L569.4 1687.5 L573.9 1688.6 L578.9 1690.8 L584.5 1694.1 L590.0 1699.1 L595.6 1705.8 L600.6 1710.0 L605.0 1711.7 L608.9 1712.2 L612.3 1711.7 L615.6 1713.0 L619.0 1716.4 L622.8 1721.4 L627.3 1728.1 L631.8 1732.8 L636.2 1735.6 L641.3 1738.1 L647.1 1740.3 L650.8 1742.3 L652.5 1743.9 L655.6 1748.1 L660.1 1754.8 L664.5 1761.5 L669.0 1768.1 L673.4 1772.7 L677.9 1775.1 L681.8 1776.3 L685.1 1776.0 L689.6 1774.5 L695.1 1771.7 L700.7 1767.6 L706.2 1762.0 L711.8 1756.2 L717.4 1750.0 L722.9 1744.5 L728.5 1739.5 L733.8 1735.5 L738.8 1732.5 L743.0 1730.8 L746.3 1730.5 L749.4 1731.4 L752.2 1733.6 L755.8 1736.3 L760.2 1739.4 L764.1 1741.4 L767.5 1742.1 L771.9 1741.9 L777.5 1740.5 L783.6 1739.1 L790.3 1737.7 L796.9 1735.6 L803.6 1732.8 L809.7 1730.6 L815.3 1728.9 L820.9 1727.3 L826.4 1725.9 L830.6 1725.0 L833.4 1724.5 L836.2 1725.0 L839.0 1726.3 L841.5 1728.3 L843.7 1731.1 L846.5 1733.6 L849.8 1735.9 L853.7 1739.2 L858.1 1743.7 L863.2 1747.3 L868.7 1750.0 L874.3 1752.8 L879.8 1755.6 L885.4 1759.0 L891.0 1762.8 L896.0 1765.6 L900.4 1767.3 L904.3 1769.5 L907.7 1772.3 L911.0 1776.5 L914.3 1782.0 L917.7 1786.8 L921.0 1790.7 L923.8 1792.9 L926.0 1793.4 L928.8 1792.1 L932.2 1788.7 L935.5 1782.6 L938.8 1773.7 L941.9 1764.2 L944.7 1754.2 L947.5 1744.8 L950.2 1735.9 L953.0 1728.9 L955.8 1723.9 L958.9 1720.8 L962.2 1719.7 L965.8 1719.7 L969.7 1720.8 L974.4 1722.5 L980.0 1724.7 L985.6 1727.2 L991.1 1730.0 L996.7 1732.8 L1002.3 1735.6 L1007.8 1737.8 L1013.4 1739.5 L1019.0 1740.6 L1024.5 1741.1 L1029.2 1742.1 L1033.1 1743.6 L1036.5 1743.6 L1039.3 1742.1 L1042.0 1739.5 L1044.8 1735.6 L1047.2 1732.0 L1049.1 1728.6 L1050.8 1727.1 L1052.3 1727.4 L1055.9 1723.4 L1061.4 1715.1 L1066.5 1709.0 L1071.4 1705.2 L1075.5 1703.1 L1079.0 1702.8 L1083.4 1704.1 L1089.0 1706.8 L1095.2 1710.6 L1102.1 1715.5 L1108.3 1719.9 L1113.8 1724.1 L1120.0 1727.9 L1126.9 1731.3 L1133.1 1734.8 L1138.6 1738.2 L1144.1 1743.0 L1149.6 1749.2 L1154.5 1753.7 L1158.6 1756.5 L1162.7 1757.2 L1166.9 1755.8 L1171.7 1751.7 L1177.2 1744.8 L1182.7 1737.5 L1188.2 1729.9 L1193.1 1725.1 L1197.2 1723.0 L1202.0 1723.0 L1207.6 1725.1 L1213.8 1727.9 L1220.7 1731.3 L1227.6 1732.9 L1234.4 1732.6 L1241.3 1732.6 L1248.2 1732.9 L1254.4 1733.4 L1260.0 1734.1 L1264.8 1733.4 L1268.9 1731.3 L1273.1 1728.9 L1277.2 1726.1 L1282.7 1724.8 L1289.6 1724.8 L1295.1 1725.8 L1299.3 1727.9 L1304.1 1730.6 L1309.6 1734.1 L1314.4 1738.6 L1318.6 1744.1 L1322.4 1749.6 L1325.8 1755.1 L1328.9 1759.1 L1331.7 1761.6 L1334.8 1761.2 L1338.2 1758.1 L1342.0 1755.0 L1346.2 1751.9 L1350.3 1750.6 L1354.4 1750.8 L1358.6 1752.4 L1362.7 1755.1 L1366.3 1758.1 L1369.3 1761.2 L1372.1 1761.2 L1374.6 1758.1 L1376.5 1749.9 L1377.9 1736.8 L1379.3 1724.8 L1380.6 1713.7 L1382.4 1704.8 L1384.4 1697.9 L1386.8 1696.5 L1389.6 1700.6 L1392.0 1706.2 L1394.1 1713.0 L1396.1 1711.7 L1398.2 1702.0 L1400.3 1689.6 L1402.4 1674.4 L1404.1 1664.1 L1405.5 1658.6 L1407.2 1656.2 L1409.2 1656.9 L1411.3 1652.0 L1413.4 1641.7 L1415.8 1632.7 L1418.6 1625.1 L1421.7 1620.0 L1425.2 1617.2 L1428.3 1615.5 L1431.0 1614.8 L1434.1 1617.5 L1437.6 1623.8 L1441.0 1625.8 L1444.5 1623.8 L1447.6 1621.7 L1450.3 1619.6 L1453.1 1622.4 L1455.9 1630.0 L1458.3 1636.5 L1460.3 1642.0 L1463.1 1644.1 L1466.5 1642.7 L1469.3 1644.4 L1471.4 1649.3 L1473.8 1656.2 L1476.5 1665.1 L1480.0 1676.5 L1484.1 1690.3 L1487.9 1703.4 L1491.4 1715.8 L1494.8 1723.7 L1498.3 1727.2 L1501.4 1727.2 L1504.1 1723.7 L1506.5 1715.8 L1508.6 1703.4 L1511.0 1689.3 L1513.8 1673.4 L1516.5 1664.1 L1519.3 1661.3 L1522.7 1659.6 L1526.9 1658.9 L1530.7 1656.9 L1534.1 1653.4 L1537.2 1653.7 L1540.0 1657.9 L1543.4 1659.3 L1547.6 1657.9 L1552.4 1655.5 L1557.9 1652.0 L1562.0 1648.2 L1564.8 1644.1 L1567.4 1640.1 L1569.9 1636.2 L1572.7 1636.2 L1575.7 1640.1 L1579.3 1644.8 L1583.4 1650.3 L1587.2 1656.5 L1590.7 1663.4 L1593.8 1670.3 L1596.5 1677.2 L1598.9 1682.7 L1601.0 1686.8 L1603.4 1688.6 L1606.2 1687.9 L1608.9 1684.4 L1611.7 1678.2 L1615.1 1671.0 L1619.3 1662.7 L1623.4 1654.4 L1627.6 1646.2 L1630.7 1640.8 L1632.7 1638.3 L1634.8 1637.3 L1636.9 1637.7 L1638.9 1640.3 L1641.0 1645.1 L1643.1 1652.4 L1645.1 1662.0 L1647.2 1674.4 L1649.3 1689.6 L1651.0 1704.1 L1652.4 1717.9 L1653.8 1733.7 L1655.1 1751.7 L1656.5 1765.5 L1657.9 1775.1 L1660.0 1781.0 L1662.7 1783.0 L1665.5 1783.0 L1668.2 1781.0 L1671.0 1779.2 L1673.8 1777.9 L1676.5 1777.9 L1679.3 1779.2 L1682.0 1781.3 L1684.8 1784.1 L1686.9 1780.6 L1688.2 1771.0 L1689.6 1759.2 L1691.0 1745.5 L1692.7 1728.6 L1694.8 1708.6 L1696.9 1701.7 L1698.9 1707.9 L1701.0 1717.2 L1703.1 1729.6 L1705.1 1740.6 L1707.2 1750.3 L1709.3 1758.9 L1711.3 1766.5 L1713.4 1766.5 L1715.5 1758.9 L1717.9 1753.0 L1720.6 1748.9 L1723.7 1747.2 L1727.2 1747.9 L1731.0 1748.6 L1735.1 1749.2 L1738.9 1752.4 L1742.4 1757.9 L1745.8 1764.1 L1749.3 1771.0 L1752.0 1776.1 L1754.1 1779.6 L1756.5 1778.9 L1759.3 1774.1 L1762.0 1771.0 L1764.8 1769.6 L1767.5 1771.0 L1770.3 1775.1 L1773.0 1779.6 L1775.8 1784.4 L1778.6 1787.5 L1781.3 1788.9 L1784.1 1788.9 L1786.8 1787.5 L1789.9 1787.9 L1793.4 1789.9 L1796.8 1793.7 L1800.3 1799.2 L1803.7 1806.8 L1807.2 1816.5 L1809.9 1825.4 L1812.0 1833.7 L1814.1 1840.6 L1816.1 1846.1 L1818.6 1846.8 L1821.3 1842.7 L1824.1 1835.8 L1826.8 1826.1 L1829.0 1819.9 L1830.7 1817.2 L1831.5 1815.8" stroke="#0046fa" stroke-width="4.7"/>
<path d="M225.4 1850.5 L226.3 1850.5 L228.0 1850.5 L232.8 1849.9 L240.6 1848.8 L249.5 1848.3 L259.5 1848.3 L267.3 1847.4 L272.9 1845.8 L278.4 1843.2 L284.0 1839.9 L289.0 1837.7 L293.4 1836.6 L297.9 1837.1 L302.4 1839.4 L307.9 1841.6 L314.6 1843.8 L322.4 1844.6 L331.3 1844.1 L338.5 1844.9 L344.1 1847.1 L348.5 1849.1 L351.9 1850.8 L355.2 1851.0 L358.5 1849.9 L361.3 1847.7 L363.6 1844.4 L366.3 1836.6 L369.7 1824.3 L373.0 1809.9 L376.4 1793.2 L379.7 1778.7 L383.0 1766.5 L386.9 1755.9 L391.4 1747.0 L396.4 1740.3 L401.9 1735.9 L407.0 1731.1 L411.4 1726.1 L414.7 1723.1 L417.0 1721.9 L419.8 1722.8 L423.1 1725.6 L427.0 1731.4 L431.4 1740.3 L435.9 1749.2 L440.3 1758.1 L444.8 1767.6 L449.2 1777.6 L453.7 1785.4 L458.1 1790.9 L462.0 1794.3 L465.4 1795.4 L469.3 1796.0 L473.7 1796.0 L478.2 1798.7 L482.6 1804.3 L487.6 1810.1 L493.2 1816.3 L498.2 1820.7 L502.7 1823.5 L506.6 1824.1 L509.9 1822.4 L513.2 1818.5 L516.6 1812.4 L519.9 1805.4 L523.2 1797.6 L527.1 1790.7 L531.6 1784.5 L536.0 1780.1 L540.5 1777.3 L545.5 1774.8 L551.1 1772.6 L556.6 1769.2 L562.2 1764.8 L567.8 1760.1 L573.3 1755.1 L578.9 1751.7 L584.5 1750.0 L590.0 1748.9 L595.6 1748.4 L601.7 1748.0 L608.4 1747.8 L614.5 1748.3 L620.1 1749.7 L625.6 1752.8 L631.2 1757.8 L636.2 1762.6 L640.7 1767.0 L644.7 1770.6 L648.2 1773.4 L652.5 1777.3 L657.5 1782.3 L662.8 1786.8 L668.4 1790.7 L673.4 1793.7 L677.9 1796.0 L682.3 1798.7 L686.8 1802.1 L691.2 1805.0 L695.7 1807.6 L699.6 1809.1 L702.9 1809.5 L706.8 1808.8 L711.3 1806.9 L716.3 1803.7 L721.8 1799.3 L727.4 1795.1 L733.0 1791.2 L738.5 1787.3 L744.1 1783.4 L749.1 1779.0 L753.5 1774.0 L757.4 1768.7 L760.8 1763.1 L764.1 1759.0 L767.5 1756.2 L771.9 1754.5 L777.5 1753.9 L783.6 1754.1 L790.3 1755.0 L796.4 1756.4 L801.9 1758.3 L807.5 1760.3 L813.1 1762.6 L818.1 1764.1 L822.5 1764.8 L827.0 1764.6 L831.4 1763.2 L836.4 1761.2 L842.0 1758.4 L847.6 1755.6 L853.1 1752.8 L858.1 1750.4 L862.6 1748.4 L866.5 1747.6 L869.8 1747.9 L873.7 1749.4 L878.2 1751.9 L883.2 1755.3 L888.8 1759.4 L893.8 1763.7 L898.2 1768.1 L902.7 1772.0 L907.1 1775.4 L912.1 1777.9 L917.7 1779.5 L923.2 1781.3 L928.8 1783.2 L933.8 1785.0 L938.3 1786.7 L942.2 1787.7 L945.5 1788.0 L948.8 1787.1 L952.2 1784.8 L955.5 1780.7 L958.9 1774.5 L962.2 1767.6 L965.5 1759.8 L969.4 1752.6 L973.9 1745.9 L978.3 1740.9 L982.8 1737.5 L986.7 1735.6 L990.0 1735.0 L993.4 1735.9 L996.7 1738.1 L1000.6 1741.7 L1005.0 1746.7 L1010.1 1751.4 L1015.6 1755.9 L1021.2 1759.5 L1026.7 1762.3 L1032.3 1764.4 L1037.9 1765.9 L1043.0 1767.0 L1047.7 1767.7 L1052.8 1768.9 L1058.5 1770.4 L1063.4 1770.9 L1067.6 1770.5 L1071.7 1768.6 L1075.9 1765.1 L1080.7 1760.6 L1086.2 1755.1 L1091.4 1751.3 L1096.2 1749.2 L1100.3 1749.2 L1103.8 1751.3 L1108.3 1753.9 L1113.8 1756.9 L1120.0 1758.1 L1126.9 1757.6 L1133.8 1758.8 L1140.7 1761.9 L1147.6 1765.1 L1154.5 1768.6 L1161.4 1771.3 L1168.3 1773.4 L1174.5 1774.3 L1180.0 1774.0 L1185.5 1771.9 L1191.0 1768.1 L1196.5 1763.4 L1202.0 1757.9 L1207.6 1754.3 L1213.1 1752.6 L1218.6 1752.6 L1224.1 1754.3 L1229.6 1756.8 L1235.1 1760.3 L1239.6 1761.7 L1243.1 1761.0 L1247.2 1757.9 L1252.0 1752.4 L1257.2 1746.5 L1262.7 1740.3 L1268.2 1736.4 L1273.8 1734.7 L1279.3 1734.7 L1284.8 1736.4 L1290.3 1738.6 L1295.8 1741.3 L1301.3 1743.4 L1306.8 1744.8 L1312.4 1743.7 L1317.9 1740.3 L1323.4 1738.2 L1328.9 1737.5 L1334.4 1737.9 L1339.9 1739.3 L1344.8 1740.1 L1348.9 1740.4 L1353.7 1739.5 L1359.3 1737.6 L1364.1 1736.4 L1368.2 1736.0 L1371.7 1736.5 L1374.4 1737.9 L1377.2 1741.7 L1379.9 1747.9 L1382.4 1752.7 L1384.4 1756.1 L1386.8 1756.8 L1389.6 1754.8 L1392.4 1747.2 L1395.1 1734.1 L1397.9 1718.6 L1400.6 1700.6 L1403.4 1686.2 L1406.1 1675.1 L1409.6 1668.6 L1413.7 1666.5 L1416.8 1662.4 L1418.9 1656.2 L1421.3 1648.2 L1424.1 1638.6 L1426.9 1628.2 L1429.7 1617.2 L1432.3 1608.9 L1434.8 1603.4 L1437.2 1603.4 L1439.5 1608.9 L1442.1 1615.1 L1444.8 1622.0 L1447.9 1627.2 L1451.4 1630.6 L1455.2 1633.4 L1459.3 1635.5 L1463.8 1637.5 L1468.6 1639.6 L1472.7 1647.2 L1476.2 1660.3 L1479.6 1672.4 L1483.1 1683.4 L1486.5 1693.1 L1490.0 1701.3 L1493.8 1708.9 L1497.9 1715.8 L1502.1 1722.0 L1506.2 1727.5 L1510.7 1731.3 L1515.5 1733.4 L1519.6 1737.5 L1523.1 1743.7 L1526.2 1749.2 L1528.9 1754.1 L1531.7 1757.5 L1534.5 1759.6 L1537.6 1759.2 L1541.0 1756.5 L1544.5 1753.7 L1547.9 1751.0 L1551.4 1753.4 L1554.8 1761.0 L1558.3 1766.5 L1561.7 1769.9 L1565.1 1768.2 L1568.6 1761.3 L1572.0 1754.4 L1575.5 1747.5 L1578.9 1741.0 L1582.4 1734.8 L1585.5 1731.0 L1588.2 1729.6 L1591.4 1731.3 L1594.8 1736.1 L1598.6 1742.4 L1602.7 1749.9 L1606.9 1756.8 L1611.0 1763.0 L1614.1 1769.6 L1616.2 1776.5 L1618.2 1783.0 L1620.3 1789.2 L1622.7 1792.3 L1625.5 1792.3 L1628.2 1789.2 L1631.0 1783.0 L1633.8 1774.4 L1636.5 1763.4 L1639.3 1751.0 L1642.0 1737.2 L1644.4 1725.5 L1646.5 1715.8 L1648.4 1708.9 L1650.2 1704.8 L1652.3 1704.8 L1654.7 1708.9 L1657.5 1714.1 L1661.0 1720.3 L1664.4 1723.0 L1667.9 1722.4 L1671.0 1724.1 L1673.8 1728.2 L1676.5 1734.4 L1679.3 1742.7 L1681.7 1749.6 L1683.7 1755.1 L1686.5 1757.9 L1690.0 1757.9 L1693.4 1753.7 L1696.9 1745.5 L1700.0 1738.6 L1702.7 1733.0 L1705.8 1729.6 L1709.3 1728.2 L1712.0 1732.4 L1714.1 1742.0 L1716.2 1753.7 L1718.2 1767.5 L1720.6 1780.6 L1723.4 1793.0 L1726.2 1803.4 L1728.9 1811.7 L1731.7 1818.5 L1734.4 1824.1 L1737.2 1829.9 L1739.9 1836.1 L1742.7 1838.5 L1745.5 1837.2 L1748.2 1837.5 L1751.0 1839.6 L1753.7 1841.6 L1756.5 1843.7 L1759.6 1843.4 L1763.0 1840.6 L1766.1 1838.5 L1768.9 1837.2 L1772.0 1836.8 L1775.5 1837.5 L1778.6 1835.1 L1781.3 1829.6 L1784.4 1823.4 L1787.9 1816.5 L1791.7 1812.3 L1795.8 1811.0 L1799.6 1811.7 L1803.0 1814.4 L1806.5 1815.1 L1809.9 1813.7 L1813.0 1811.0 L1815.8 1806.8 L1818.6 1805.4 L1821.3 1806.8 L1824.1 1811.0 L1826.8 1817.9 L1829.0 1824.1 L1830.7 1829.6 L1831.5 1832.3" stroke="#6905fa" stroke-width="4.7"/>
<path d="M225.4 1886.1 L226.3 1886.1 L228.0 1886.1 L237.8 1885.8 L255.6 1885.3 L275.6 1884.4 L297.9 1883.3 L319.0 1881.9 L339.1 1880.3 L354.7 1878.5 L365.8 1876.6 L376.9 1875.7 L388.0 1876.0 L398.1 1876.2 L407.0 1876.4 L413.1 1875.9 L416.4 1874.5 L419.8 1871.9 L423.1 1868.0 L427.0 1862.4 L431.4 1855.2 L435.9 1848.8 L440.3 1843.2 L445.4 1837.4 L450.9 1831.3 L456.5 1825.4 L462.0 1819.9 L467.6 1814.3 L473.2 1808.8 L478.7 1803.7 L484.3 1799.3 L489.9 1796.2 L495.4 1794.6 L501.0 1794.0 L506.6 1794.6 L512.1 1796.2 L517.7 1799.0 L523.2 1802.9 L528.8 1807.9 L534.4 1813.5 L539.9 1819.6 L545.5 1825.7 L551.1 1831.8 L556.6 1837.4 L562.2 1842.4 L567.8 1846.3 L573.3 1849.1 L578.9 1850.8 L584.5 1851.3 L590.0 1851.3 L595.6 1850.8 L601.1 1849.6 L606.7 1848.0 L612.3 1845.2 L617.8 1841.3 L622.8 1836.6 L627.3 1831.0 L631.8 1826.4 L636.2 1822.7 L641.3 1820.2 L647.1 1818.9 L652.5 1818.7 L657.5 1819.5 L664.0 1821.5 L671.7 1824.5 L680.1 1827.7 L689.0 1831.0 L698.5 1834.1 L708.5 1836.9 L717.9 1839.4 L726.8 1841.6 L735.7 1843.5 L744.6 1845.2 L753.0 1846.2 L760.8 1846.5 L768.6 1846.4 L776.4 1845.7 L784.7 1844.8 L793.6 1843.7 L802.5 1842.7 L811.4 1842.0 L819.8 1841.3 L827.5 1840.7 L834.2 1839.6 L839.8 1838.0 L844.8 1836.3 L849.2 1834.6 L853.4 1833.5 L857.3 1833.0 L861.2 1833.1 L865.1 1833.8 L869.8 1835.2 L875.4 1837.2 L881.0 1839.6 L886.5 1842.4 L892.6 1844.5 L899.3 1846.0 L906.6 1846.8 L914.3 1847.0 L921.6 1847.6 L928.3 1848.5 L934.9 1849.5 L941.6 1850.6 L948.3 1851.3 L955.0 1851.5 L961.1 1851.3 L966.7 1850.8 L972.2 1850.9 L977.8 1851.7 L983.9 1853.0 L990.6 1855.0 L997.0 1856.6 L1003.1 1857.7 L1008.1 1857.4 L1012.0 1855.8 L1016.2 1853.3 L1020.6 1849.9 L1025.1 1846.9 L1029.5 1844.1 L1034.0 1841.9 L1038.4 1840.2 L1043.0 1838.8 L1047.7 1837.7 L1052.2 1837.0 L1056.5 1836.6 L1062.8 1837.2 L1071.0 1838.5 L1079.3 1840.3 L1087.6 1842.3 L1096.5 1845.1 L1106.2 1848.5 L1115.8 1851.3 L1125.5 1853.4 L1133.8 1854.3 L1140.7 1854.0 L1148.3 1852.6 L1156.5 1850.1 L1165.5 1846.8 L1175.1 1842.7 L1184.8 1839.2 L1194.5 1836.5 L1202.7 1834.1 L1209.6 1832.0 L1215.8 1830.6 L1221.3 1829.9 L1226.9 1829.9 L1232.4 1830.6 L1237.9 1831.3 L1243.4 1832.0 L1248.9 1833.7 L1254.4 1836.5 L1259.3 1838.5 L1263.4 1839.9 L1268.2 1840.8 L1273.8 1841.0 L1279.3 1840.7 L1284.8 1839.7 L1291.0 1837.9 L1297.9 1835.1 L1304.1 1831.3 L1309.6 1826.5 L1315.1 1822.0 L1320.6 1817.9 L1325.5 1815.1 L1329.6 1813.7 L1333.1 1814.1 L1335.8 1816.1 L1339.3 1820.3 L1343.4 1826.5 L1347.5 1832.7 L1351.7 1838.9 L1355.8 1843.4 L1359.9 1846.1 L1364.8 1848.4 L1370.3 1850.2 L1375.1 1851.4 L1379.3 1851.9 L1383.4 1853.3 L1387.5 1855.5 L1391.7 1857.4 L1395.8 1859.1 L1399.9 1860.3 L1404.1 1861.0 L1408.9 1861.0 L1414.4 1860.3 L1417.9 1859.6 L1419.3 1858.9 L1421.4 1858.1 L1424.1 1857.1 L1426.9 1854.7 L1429.7 1850.8 L1432.4 1844.8 L1435.2 1836.5 L1437.9 1827.5 L1440.7 1817.9 L1443.4 1808.2 L1446.2 1798.6 L1449.0 1789.9 L1451.7 1782.3 L1454.8 1776.8 L1458.3 1773.4 L1461.4 1771.0 L1464.1 1769.6 L1466.9 1770.3 L1469.6 1773.0 L1472.4 1777.9 L1475.2 1784.8 L1477.9 1792.3 L1480.7 1800.6 L1483.8 1809.6 L1487.2 1819.2 L1490.7 1827.9 L1494.1 1835.4 L1497.6 1841.6 L1501.0 1846.5 L1504.5 1850.3 L1507.9 1853.0 L1511.0 1854.5 L1513.8 1854.8 L1516.5 1853.8 L1519.3 1851.4 L1522.1 1847.2 L1524.8 1841.0 L1527.9 1833.0 L1531.4 1823.4 L1535.2 1813.7 L1539.3 1804.1 L1543.4 1795.1 L1547.6 1786.8 L1551.4 1781.0 L1554.8 1777.5 L1558.3 1776.8 L1561.7 1778.9 L1565.1 1781.3 L1568.6 1784.1 L1572.7 1786.1 L1577.6 1787.5 L1582.0 1789.2 L1586.2 1791.3 L1590.0 1793.7 L1593.4 1796.5 L1596.2 1798.2 L1598.2 1798.9 L1600.7 1797.2 L1603.4 1793.0 L1606.2 1789.6 L1608.9 1786.8 L1611.7 1784.9 L1614.5 1783.8 L1617.9 1784.1 L1622.0 1785.9 L1626.2 1787.7 L1630.3 1789.5 L1634.4 1790.7 L1638.6 1791.2 L1642.7 1791.4 L1646.9 1791.1 L1650.3 1790.8 L1653.1 1790.6 L1656.5 1791.2 L1660.6 1792.9 L1664.8 1795.4 L1668.9 1798.9 L1673.1 1802.7 L1677.2 1806.8 L1680.6 1809.2 L1683.4 1809.9 L1686.2 1808.2 L1688.9 1804.1 L1691.3 1797.9 L1693.4 1789.6 L1695.5 1779.9 L1697.5 1768.9 L1699.6 1759.9 L1701.7 1753.0 L1704.4 1748.6 L1707.9 1746.5 L1711.7 1745.0 L1715.8 1744.0 L1720.0 1743.0 L1724.1 1741.9 L1728.2 1741.5 L1732.4 1741.7 L1736.5 1741.4 L1740.6 1740.4 L1744.4 1740.1 L1747.9 1740.4 L1751.3 1741.4 L1754.8 1743.2 L1758.6 1744.9 L1762.7 1746.6 L1766.5 1747.6 L1769.9 1748.0 L1773.4 1749.9 L1776.8 1753.4 L1780.6 1757.9 L1784.8 1763.4 L1789.6 1769.2 L1795.1 1775.5 L1800.6 1781.0 L1806.1 1785.8 L1811.7 1790.3 L1817.2 1794.4 L1822.8 1798.6 L1828.6 1802.7 L1831.5 1804.8" stroke="#aa0000" stroke-width="7.4"/>
<path d="M225.4 1881.6 L226.3 1881.6 L228.0 1881.6 L235.0 1880.8 L247.3 1879.1 L260.6 1876.9 L275.1 1874.1 L285.7 1871.3 L292.3 1868.6 L299.0 1866.1 L305.7 1863.8 L311.3 1862.8 L315.7 1863.1 L321.3 1864.2 L327.9 1866.2 L336.8 1867.6 L348.0 1868.5 L358.0 1869.0 L366.9 1869.0 L373.0 1868.0 L376.4 1866.0 L379.1 1861.6 L381.4 1854.9 L383.6 1846.0 L385.8 1834.9 L388.6 1822.7 L391.9 1809.3 L395.3 1797.1 L398.6 1785.9 L402.5 1775.4 L407.0 1765.4 L410.9 1757.6 L414.2 1752.0 L417.5 1748.4 L420.9 1746.7 L425.9 1746.0 L432.6 1746.2 L437.6 1747.6 L440.9 1750.2 L445.4 1754.8 L450.9 1761.5 L456.5 1768.1 L462.0 1774.8 L467.6 1782.0 L473.2 1789.8 L478.7 1799.8 L484.3 1812.1 L489.9 1823.2 L495.4 1833.2 L500.4 1840.2 L504.9 1844.1 L508.8 1846.6 L512.1 1847.7 L515.5 1847.7 L518.8 1846.6 L523.2 1843.0 L528.8 1836.9 L534.4 1829.9 L539.9 1822.1 L545.5 1815.2 L551.1 1809.0 L556.6 1802.9 L562.2 1796.8 L567.8 1788.7 L573.3 1778.7 L578.9 1770.9 L584.5 1765.4 L590.0 1761.3 L595.6 1758.9 L600.6 1757.2 L605.0 1756.3 L609.5 1757.0 L613.9 1759.2 L619.0 1763.1 L624.5 1768.7 L630.1 1774.8 L635.6 1781.5 L641.3 1787.1 L647.1 1791.5 L652.0 1798.7 L655.9 1808.8 L660.6 1816.0 L666.2 1820.4 L672.3 1824.3 L679.0 1827.7 L685.7 1830.0 L692.3 1831.3 L699.0 1832.2 L705.7 1832.5 L711.3 1832.1 L715.7 1831.0 L721.3 1828.2 L727.9 1823.8 L734.6 1819.3 L741.3 1814.9 L748.0 1810.4 L754.7 1806.0 L761.3 1802.1 L768.0 1798.7 L774.1 1796.0 L779.7 1793.7 L785.3 1790.9 L790.8 1787.6 L795.8 1785.5 L800.3 1784.6 L804.7 1784.9 L809.2 1786.3 L814.2 1788.4 L819.8 1791.2 L825.3 1793.9 L830.9 1796.5 L836.4 1798.3 L842.0 1799.4 L847.6 1799.8 L853.1 1799.5 L858.1 1798.6 L862.6 1797.1 L867.1 1796.2 L871.5 1795.7 L876.5 1796.1 L882.1 1797.2 L887.6 1798.7 L893.2 1800.6 L898.8 1803.7 L904.3 1808.2 L909.9 1812.6 L915.5 1817.1 L921.6 1821.3 L928.3 1825.2 L934.4 1828.2 L939.9 1830.5 L944.9 1831.8 L949.4 1832.4 L953.3 1832.1 L956.6 1831.0 L960.5 1827.9 L965.0 1822.9 L969.4 1817.1 L973.9 1810.4 L978.9 1803.2 L984.5 1795.4 L990.0 1789.6 L995.6 1785.7 L1001.1 1783.0 L1006.7 1781.7 L1011.7 1781.4 L1016.2 1782.2 L1020.6 1784.8 L1025.1 1789.3 L1029.5 1793.7 L1034.0 1798.2 L1038.4 1801.5 L1042.9 1803.7 L1046.3 1805.1 L1048.8 1805.7 L1052.8 1808.4 L1058.5 1813.3 L1064.8 1817.2 L1071.7 1819.9 L1078.6 1821.5 L1085.5 1821.9 L1092.4 1821.6 L1099.3 1820.5 L1106.5 1819.1 L1114.1 1817.4 L1121.0 1817.6 L1127.2 1819.5 L1133.8 1820.5 L1140.7 1820.7 L1147.6 1821.0 L1154.5 1821.6 L1162.0 1822.5 L1170.3 1823.9 L1178.6 1824.8 L1186.9 1825.2 L1194.5 1825.1 L1201.3 1824.4 L1207.6 1822.7 L1213.1 1819.9 L1219.3 1816.1 L1226.2 1811.3 L1232.4 1807.9 L1237.9 1805.8 L1244.1 1804.4 L1251.0 1803.7 L1257.2 1802.3 L1262.7 1800.3 L1267.5 1796.5 L1271.7 1791.0 L1275.8 1784.8 L1280.0 1777.9 L1283.7 1772.3 L1287.2 1768.2 L1290.6 1765.8 L1294.1 1765.1 L1297.9 1766.5 L1302.0 1769.9 L1306.8 1774.4 L1312.4 1779.9 L1317.9 1785.1 L1323.4 1789.9 L1328.9 1793.7 L1334.4 1796.5 L1339.9 1798.6 L1345.5 1799.9 L1351.0 1799.2 L1356.5 1796.5 L1362.0 1794.1 L1367.5 1792.0 L1372.4 1791.7 L1376.5 1793.0 L1380.6 1795.8 L1384.8 1799.9 L1388.2 1803.0 L1391.0 1805.1 L1393.4 1805.8 L1395.5 1805.1 L1397.5 1800.6 L1399.6 1792.3 L1401.7 1781.3 L1403.7 1767.5 L1405.8 1753.0 L1407.9 1737.9 L1410.3 1722.0 L1413.0 1705.5 L1415.8 1693.1 L1418.6 1684.8 L1421.7 1679.6 L1425.2 1677.5 L1428.6 1678.2 L1432.1 1681.7 L1435.2 1684.1 L1437.9 1685.5 L1440.7 1682.7 L1443.4 1675.8 L1446.2 1668.9 L1449.0 1662.0 L1451.4 1660.6 L1453.4 1664.8 L1455.5 1671.0 L1457.6 1679.3 L1460.0 1688.9 L1462.8 1699.9 L1465.9 1709.6 L1469.3 1717.9 L1472.7 1722.4 L1476.2 1723.0 L1479.6 1720.3 L1483.1 1714.1 L1486.5 1709.6 L1490.0 1706.8 L1493.4 1706.8 L1496.9 1709.6 L1500.3 1712.0 L1503.8 1714.1 L1506.9 1715.5 L1509.6 1716.2 L1513.1 1718.6 L1517.2 1722.7 L1521.4 1727.2 L1525.5 1732.0 L1529.6 1735.8 L1533.8 1738.6 L1537.2 1739.6 L1540.0 1738.9 L1543.1 1741.3 L1546.5 1746.8 L1550.0 1751.3 L1553.4 1754.8 L1556.2 1752.0 L1558.3 1743.0 L1560.7 1738.2 L1563.4 1737.5 L1566.2 1740.3 L1568.9 1746.5 L1571.7 1753.7 L1574.5 1762.0 L1577.2 1765.8 L1580.0 1765.1 L1583.1 1761.3 L1586.5 1754.4 L1590.3 1749.2 L1594.5 1745.8 L1598.6 1743.5 L1602.7 1742.4 L1606.9 1741.7 L1611.0 1741.5 L1615.1 1743.0 L1619.3 1746.5 L1622.7 1750.6 L1625.5 1755.5 L1628.2 1762.7 L1631.0 1772.3 L1633.8 1780.6 L1636.5 1787.5 L1640.0 1791.7 L1644.1 1793.0 L1648.2 1791.0 L1652.4 1785.5 L1655.8 1777.2 L1658.6 1766.1 L1661.3 1754.4 L1664.1 1742.0 L1667.5 1732.0 L1671.7 1724.4 L1675.8 1719.5 L1680.0 1717.1 L1683.4 1717.5 L1686.2 1720.5 L1688.9 1724.8 L1691.7 1730.3 L1695.1 1734.4 L1699.3 1737.2 L1703.4 1739.3 L1707.5 1740.6 L1711.7 1741.3 L1715.8 1741.3 L1719.6 1739.3 L1723.1 1735.1 L1726.5 1731.8 L1729.9 1729.3 L1733.1 1731.4 L1735.8 1738.0 L1738.6 1746.8 L1741.3 1757.9 L1744.8 1768.2 L1748.9 1777.9 L1753.0 1785.5 L1757.2 1791.0 L1761.3 1795.4 L1765.5 1798.9 L1770.3 1802.7 L1775.8 1806.8 L1781.3 1811.3 L1786.8 1816.1 L1792.4 1819.2 L1797.9 1820.6 L1802.7 1822.7 L1806.8 1825.4 L1811.0 1824.8 L1815.1 1820.6 L1819.2 1816.5 L1823.4 1812.3 L1827.0 1809.6 L1830.0 1808.2 L1831.5 1807.5" stroke="#b705dc" stroke-width="4.7"/>
<path d="M225.4 1887.2 L226.3 1887.2 L228.0 1887.2 L235.0 1886.7 L247.3 1885.5 L261.7 1883.6 L278.4 1880.8 L292.3 1878.3 L303.5 1876.1 L313.5 1873.6 L322.4 1870.8 L332.4 1869.3 L343.5 1869.1 L354.7 1869.1 L365.8 1869.3 L375.8 1870.0 L384.7 1871.1 L390.8 1871.3 L394.2 1870.8 L397.5 1868.0 L400.8 1863.0 L404.7 1856.0 L409.2 1847.1 L413.6 1838.0 L418.1 1828.5 L423.1 1818.5 L428.7 1807.9 L434.2 1798.7 L439.8 1790.9 L445.4 1784.3 L450.9 1778.7 L456.5 1774.3 L462.0 1770.9 L467.1 1769.1 L471.5 1768.9 L476.0 1770.0 L480.4 1772.5 L484.9 1776.5 L489.3 1782.0 L494.3 1789.3 L499.9 1798.2 L505.4 1807.1 L511.0 1816.0 L516.6 1823.8 L522.1 1830.5 L527.7 1835.7 L533.3 1839.6 L538.8 1842.4 L544.4 1844.1 L550.0 1844.9 L555.5 1844.9 L561.1 1844.4 L566.7 1843.2 L572.2 1840.5 L577.8 1836.0 L583.3 1829.9 L588.9 1822.1 L594.5 1813.8 L600.0 1804.9 L605.6 1797.6 L611.2 1792.1 L616.2 1788.7 L620.6 1787.6 L625.6 1787.6 L631.2 1788.7 L638.0 1791.5 L646.0 1796.0 L651.4 1799.6 L654.2 1802.4 L658.9 1806.2 L665.6 1811.3 L672.3 1816.0 L679.0 1820.4 L685.7 1824.3 L692.3 1827.7 L699.0 1830.5 L705.7 1832.7 L712.4 1834.6 L719.0 1836.3 L725.7 1837.4 L732.4 1838.0 L739.1 1838.1 L745.8 1837.9 L752.4 1836.8 L759.1 1834.8 L765.8 1832.7 L772.5 1830.5 L779.1 1828.5 L785.8 1826.8 L792.5 1825.2 L799.2 1823.5 L805.3 1821.0 L810.9 1817.7 L816.4 1813.8 L822.0 1809.3 L827.0 1805.7 L831.4 1802.9 L835.9 1801.0 L840.3 1799.8 L844.8 1800.1 L849.2 1801.8 L853.7 1804.9 L858.1 1809.3 L863.2 1813.8 L868.7 1818.2 L874.3 1821.3 L879.8 1822.9 L886.0 1823.5 L892.6 1822.9 L898.8 1822.4 L904.3 1821.8 L909.9 1822.4 L915.5 1824.1 L921.6 1826.6 L928.3 1829.9 L934.4 1833.0 L939.9 1835.7 L945.5 1838.0 L951.1 1839.6 L957.2 1840.7 L963.9 1841.3 L970.5 1841.6 L977.2 1841.6 L983.3 1840.5 L988.9 1838.2 L994.5 1834.6 L1000.0 1829.6 L1005.6 1824.6 L1011.2 1819.6 L1016.7 1815.4 L1022.3 1812.1 L1027.9 1809.6 L1033.4 1807.9 L1039.7 1807.1 L1046.6 1807.1 L1050.1 1807.9 L1050.3 1809.5 L1053.8 1812.0 L1060.7 1815.4 L1067.6 1819.6 L1074.5 1824.4 L1081.4 1828.5 L1088.3 1832.0 L1095.2 1834.8 L1102.1 1836.8 L1109.0 1838.2 L1115.8 1838.9 L1122.7 1838.8 L1129.6 1837.8 L1136.5 1836.1 L1143.4 1833.6 L1150.3 1830.4 L1157.2 1826.5 L1164.1 1823.8 L1171.0 1822.1 L1177.2 1821.0 L1182.7 1820.3 L1188.2 1820.6 L1193.8 1822.0 L1200.0 1823.2 L1206.9 1824.1 L1213.8 1824.3 L1220.7 1823.8 L1227.6 1824.0 L1234.4 1825.0 L1241.3 1825.4 L1248.2 1825.4 L1255.1 1824.4 L1262.0 1822.3 L1268.2 1819.6 L1273.8 1816.1 L1279.3 1811.3 L1284.8 1805.1 L1290.3 1799.2 L1295.8 1793.7 L1301.3 1788.6 L1306.8 1783.7 L1311.7 1780.8 L1315.8 1779.7 L1320.0 1780.0 L1324.1 1781.8 L1328.9 1785.5 L1334.4 1791.0 L1339.9 1797.2 L1345.5 1804.1 L1351.0 1809.6 L1356.5 1813.7 L1362.0 1817.2 L1367.5 1819.9 L1373.0 1822.0 L1378.6 1823.4 L1383.4 1824.8 L1387.5 1826.1 L1391.3 1828.5 L1394.8 1832.0 L1397.9 1834.8 L1400.6 1836.8 L1403.4 1837.5 L1406.1 1836.8 L1409.2 1834.1 L1412.7 1829.2 L1415.8 1822.7 L1418.6 1814.4 L1421.0 1806.1 L1423.1 1797.9 L1425.2 1786.8 L1427.2 1773.0 L1429.7 1758.6 L1432.4 1743.4 L1435.2 1730.3 L1437.9 1719.3 L1440.7 1710.3 L1443.4 1703.4 L1446.2 1699.6 L1449.0 1698.9 L1451.7 1700.3 L1454.5 1703.7 L1457.2 1705.5 L1460.0 1705.5 L1462.4 1703.4 L1464.5 1699.3 L1466.5 1697.9 L1468.6 1699.3 L1471.0 1704.8 L1473.8 1714.4 L1476.5 1724.8 L1479.3 1735.8 L1482.4 1747.5 L1485.9 1759.9 L1489.3 1771.0 L1492.7 1780.6 L1496.2 1787.9 L1499.6 1792.7 L1502.7 1794.1 L1505.5 1792.0 L1508.6 1786.8 L1512.1 1778.6 L1515.5 1769.6 L1518.9 1759.9 L1522.1 1753.0 L1524.8 1748.9 L1527.6 1746.5 L1530.3 1745.8 L1533.4 1746.8 L1536.9 1749.6 L1540.7 1753.4 L1544.8 1758.2 L1548.9 1762.7 L1553.1 1766.8 L1557.2 1770.3 L1561.4 1773.0 L1565.5 1775.8 L1569.6 1778.6 L1573.1 1780.6 L1575.8 1782.0 L1578.6 1779.2 L1581.4 1772.3 L1584.1 1766.1 L1586.9 1760.6 L1589.6 1756.8 L1592.4 1754.8 L1595.5 1754.8 L1598.9 1756.8 L1602.7 1758.4 L1606.9 1759.5 L1611.0 1759.9 L1615.1 1759.5 L1619.3 1757.9 L1623.4 1755.1 L1627.6 1753.9 L1631.7 1754.4 L1635.5 1754.8 L1638.9 1755.4 L1642.4 1757.6 L1645.8 1761.5 L1649.3 1766.8 L1652.7 1773.7 L1656.2 1779.2 L1659.6 1783.4 L1663.1 1786.1 L1666.5 1787.5 L1669.6 1786.8 L1672.4 1784.1 L1675.1 1778.6 L1677.9 1770.3 L1680.3 1759.2 L1682.4 1745.5 L1684.4 1736.1 L1686.5 1731.3 L1689.3 1729.3 L1692.7 1729.9 L1696.2 1731.7 L1699.6 1734.4 L1703.4 1736.5 L1707.5 1737.9 L1711.7 1739.3 L1715.8 1740.6 L1720.0 1743.4 L1724.1 1747.5 L1728.2 1750.8 L1732.4 1753.3 L1736.2 1754.4 L1739.6 1753.9 L1742.7 1752.4 L1745.5 1749.6 L1748.6 1748.6 L1752.0 1749.2 L1755.8 1751.7 L1759.9 1755.8 L1764.1 1762.0 L1768.2 1770.3 L1772.4 1776.8 L1776.5 1781.7 L1781.3 1785.8 L1786.8 1789.2 L1792.4 1793.4 L1797.9 1798.2 L1803.4 1803.7 L1808.9 1809.9 L1814.4 1815.1 L1819.9 1819.2 L1824.9 1822.3 L1829.3 1824.4 L1831.5 1825.4" stroke="#ff05f5" stroke-width="4.7"/>
</g>
<line x1="277.5" y1="1899.0" x2="277.5" y2="1384.5" stroke="#606060" stroke-width="2.0" stroke-dasharray="3.4 10.9"/>
<line x1="327.7" y1="1899.0" x2="327.7" y2="1384.5" stroke="#606060" stroke-width="2.0" stroke-dasharray="3.4 10.9"/>
<line x1="377.8" y1="1899.0" x2="377.8" y2="1384.5" stroke="#606060" stroke-width="2.0" stroke-dasharray="3.4 10.9"/>
<line x1="428.0" y1="1384.5" x2="428.0" y2="1899.0" stroke="#808080" stroke-width="1.7"/>
<line x1="478.1" y1="1899.0" x2="478.1" y2="1384.5" stroke="#606060" stroke-width="2.0" stroke-dasharray="3.4 10.9"/>
<line x1="528.2" y1="1899.0" x2="528.2" y2="1384.5" stroke="#606060" stroke-width="2.0" stroke-dasharray="3.4 10.9"/>
<line x1="578.4" y1="1899.0" x2="578.4" y2="1384.5" stroke="#606060" stroke-width="2.0" stroke-dasharray="3.4 10.9"/>
<line x1="628.5" y1="1384.5" x2="628.5" y2="1899.0" stroke="#808080" stroke-width="1.7"/>
<line x1="678.7" y1="1899.0" x2="678.7" y2="1384.5" stroke="#606060" stroke-width="2.0" stroke-dasharray="3.4 10.9"/>
<line x1="728.8" y1="1899.0" x2="728.8" y2="1384.5" stroke="#606060" stroke-width="2.0" stroke-dasharray="3.4 10.9"/>
<line x1="778.9" y1="1899.0" x2="778.9" y2="1384.5" stroke="#606060" stroke-width="2.0" stroke-dasharray="3.4 10.9"/>
<line x1="829.1" y1="1384.5" x2="829.1" y2="1899.0" stroke="#808080" stroke-width="1.7"/>
<line x1="879.2" y1="1899.0" x2="879.2" y2="1384.5" stroke="#606060" stroke-width="2.0" stroke-dasharray="3.4 10.9"/>
<line x1="929.4" y1="1899.0" x2="929.4" y2="1384.5" stroke="#606060" stroke-width="2.0" stroke-dasharray="3.4 10.9"/>
<line x1="979.5" y1="1899.0" x2="979.5" y2="1384.5" stroke="#606060" stroke-width="2.0" stroke-dasharray="3.4 10.9"/>
<line x1="1029.7" y1="1384.5" x2="1029.7" y2="1899.0" stroke="#808080" stroke-width="1.7"/>
<line x1="1079.8" y1="1899.0" x2="1079.8" y2="1384.5" stroke="#606060" stroke-width="2.0" stroke-dasharray="3.4 10.9"/>
<line x1="1129.9" y1="1899.0" x2="1129.9" y2="1384.5" stroke="#606060" stroke-width="2.0" stroke-dasharray="3.4 10.9"/>
<line x1="1180.1" y1="1899.0" x2="1180.1" y2="1384.5" stroke="#606060" stroke-width="2.0" stroke-dasharray="3.4 10.9"/>
<line x1="1230.2" y1="1384.5" x2="1230.2" y2="1899.0" stroke="#808080" stroke-width="1.7"/>
<line x1="1280.4" y1="1899.0" x2="1280.4" y2="1384.5" stroke="#606060" stroke-width="2.0" stroke-dasharray="3.4 10.9"/>
<line x1="1330.5" y1="1899.0" x2="1330.5" y2="1384.5" stroke="#606060" stroke-width="2.0" stroke-dasharray="3.4 10.9"/>
<line x1="1380.6" y1="1899.0" x2="1380.6" y2="1384.5" stroke="#606060" stroke-width="2.0" stroke-dasharray="3.4 10.9"/>
<line x1="1430.8" y1="1384.5" x2="1430.8" y2="1899.0" stroke="#808080" stroke-width="1.7"/>
<line x1="1480.9" y1="1899.0" x2="1480.9" y2="1384.5" stroke="#606060" stroke-width="2.0" stroke-dasharray="3.4 10.9"/>
<line x1="1531.1" y1="1899.0" x2="1531.1" y2="1384.5" stroke="#606060" stroke-width="2.0" stroke-dasharray="3.4 10.9"/>
<line x1="1581.2" y1="1899.0" x2="1581.2" y2="1384.5" stroke="#606060" stroke-width="2.0" stroke-dasharray="3.4 10.9"/>
<line x1="1631.3" y1="1384.5" x2="1631.3" y2="1899.0" stroke="#808080" stroke-width="1.7"/>
<line x1="1681.5" y1="1899.0" x2="1681.5" y2="1384.5" stroke="#606060" stroke-width="2.0" stroke-dasharray="3.4 10.9"/>
<line x1="1731.6" y1="1899.0" x2="1731.6" y2="1384.5" stroke="#606060" stroke-width="2.0" stroke-dasharray="3.4 10.9"/>
<line x1="1781.8" y1="1899.0" x2="1781.8" y2="1384.5" stroke="#606060" stroke-width="2.0" stroke-dasharray="3.4 10.9"/>
<line x1="227.4" y1="1844.1" x2="1831.9" y2="1844.1" stroke="#808080" stroke-width="1.7"/>
<line x1="227.4" y1="1752.1" x2="1831.9" y2="1752.1" stroke="#808080" stroke-width="1.7"/>
<line x1="227.4" y1="1660.2" x2="1831.9" y2="1660.2" stroke="#808080" stroke-width="1.7"/>
<line x1="227.4" y1="1568.2" x2="1831.9" y2="1568.2" stroke="#808080" stroke-width="1.7"/>
<line x1="227.4" y1="1476.3" x2="1831.9" y2="1476.3" stroke="#808080" stroke-width="1.7"/>
<line x1="227.4" y1="1384.5" x2="227.4" y2="1396.3" stroke="#000" stroke-width="2.5"/>
<line x1="227.4" y1="1899.0" x2="227.4" y2="1887.2" stroke="#000" stroke-width="2.5"/>
<line x1="277.5" y1="1384.5" x2="277.5" y2="1391.3" stroke="#000" stroke-width="1.8"/>
<line x1="277.5" y1="1899.0" x2="277.5" y2="1892.2" stroke="#000" stroke-width="1.8"/>
<line x1="327.7" y1="1384.5" x2="327.7" y2="1391.3" stroke="#000" stroke-width="1.8"/>
<line x1="327.7" y1="1899.0" x2="327.7" y2="1892.2" stroke="#000" stroke-width="1.8"/>
<line x1="377.8" y1="1384.5" x2="377.8" y2="1391.3" stroke="#000" stroke-width="1.8"/>
<line x1="377.8" y1="1899.0" x2="377.8" y2="1892.2" stroke="#000" stroke-width="1.8"/>
<line x1="428.0" y1="1384.5" x2="428.0" y2="1396.3" stroke="#000" stroke-width="2.5"/>
<line x1="428.0" y1="1899.0" x2="428.0" y2="1887.2" stroke="#000" stroke-width="2.5"/>
<line x1="478.1" y1="1384.5" x2="478.1" y2="1391.3" stroke="#000" stroke-width="1.8"/>
<line x1="478.1" y1="1899.0" x2="478.1" y2="1892.2" stroke="#000" stroke-width="1.8"/>
<line x1="528.2" y1="1384.5" x2="528.2" y2="1391.3" stroke="#000" stroke-width="1.8"/>
<line x1="528.2" y1="1899.0" x2="528.2" y2="1892.2" stroke="#000" stroke-width="1.8"/>
<line x1="578.4" y1="1384.5" x2="578.4" y2="1391.3" stroke="#000" stroke-width="1.8"/>
<line x1="578.4" y1="1899.0" x2="578.4" y2="1892.2" stroke="#000" stroke-width="1.8"/>
<line x1="628.5" y1="1384.5" x2="628.5" y2="1396.3" stroke="#000" stroke-width="2.5"/>
<line x1="628.5" y1="1899.0" x2="628.5" y2="1887.2" stroke="#000" stroke-width="2.5"/>
<line x1="678.7" y1="1384.5" x2="678.7" y2="1391.3" stroke="#000" stroke-width="1.8"/>
<line x1="678.7" y1="1899.0" x2="678.7" y2="1892.2" stroke="#000" stroke-width="1.8"/>
<line x1="728.8" y1="1384.5" x2="728.8" y2="1391.3" stroke="#000" stroke-width="1.8"/>
<line x1="728.8" y1="1899.0" x2="728.8" y2="1892.2" stroke="#000" stroke-width="1.8"/>
<line x1="778.9" y1="1384.5" x2="778.9" y2="1391.3" stroke="#000" stroke-width="1.8"/>
<line x1="778.9" y1="1899.0" x2="778.9" y2="1892.2" stroke="#000" stroke-width="1.8"/>
<line x1="829.1" y1="1384.5" x2="829.1" y2="1396.3" stroke="#000" stroke-width="2.5"/>
<line x1="829.1" y1="1899.0" x2="829.1" y2="1887.2" stroke="#000" stroke-width="2.5"/>
<line x1="879.2" y1="1384.5" x2="879.2" y2="1391.3" stroke="#000" stroke-width="1.8"/>
<line x1="879.2" y1="1899.0" x2="879.2" y2="1892.2" stroke="#000" stroke-width="1.8"/>
<line x1="929.4" y1="1384.5" x2="929.4" y2="1391.3" stroke="#000" stroke-width="1.8"/>
<line x1="929.4" y1="1899.0" x2="929.4" y2="1892.2" stroke="#000" stroke-width="1.8"/>
<line x1="979.5" y1="1384.5" x2="979.5" y2="1391.3" stroke="#000" stroke-width="1.8"/>
<line x1="979.5" y1="1899.0" x2="979.5" y2="1892.2" stroke="#000" stroke-width="1.8"/>
<line x1="1029.7" y1="1384.5" x2="1029.7" y2="1396.3" stroke="#000" stroke-width="2.5"/>
<line x1="1029.7" y1="1899.0" x2="1029.7" y2="1887.2" stroke="#000" stroke-width="2.5"/>
<line x1="1079.8" y1="1384.5" x2="1079.8" y2="1391.3" stroke="#000" stroke-width="1.8"/>
<line x1="1079.8" y1="1899.0" x2="1079.8" y2="1892.2" stroke="#000" stroke-width="1.8"/>
<line x1="1129.9" y1="1384.5" x2="1129.9" y2="1391.3" stroke="#000" stroke-width="1.8"/>
<line x1="1129.9" y1="1899.0" x2="1129.9" y2="1892.2" stroke="#000" stroke-width="1.8"/>
<line x1="1180.1" y1="1384.5" x2="1180.1" y2="1391.3" stroke="#000" stroke-width="1.8"/>
<line x1="1180.1" y1="1899.0" x2="1180.1" y2="1892.2" stroke="#000" stroke-width="1.8"/>
<line x1="1230.2" y1="1384.5" x2="1230.2" y2="1396.3" stroke="#000" stroke-width="2.5"/>
<line x1="1230.2" y1="1899.0" x2="1230.2" y2="1887.2" stroke="#000" stroke-width="2.5"/>
<line x1="1280.4" y1="1384.5" x2="1280.4" y2="1391.3" stroke="#000" stroke-width="1.8"/>
<line x1="1280.4" y1="1899.0" x2="1280.4" y2="1892.2" stroke="#000" stroke-width="1.8"/>
<line x1="1330.5" y1="1384.5" x2="1330.5" y2="1391.3" stroke="#000" stroke-width="1.8"/>
<line x1="1330.5" y1="1899.0" x2="1330.5" y2="1892.2" stroke="#000" stroke-width="1.8"/>
<line x1="1380.6" y1="1384.5" x2="1380.6" y2="1391.3" stroke="#000" stroke-width="1.8"/>
<line x1="1380.6" y1="1899.0" x2="1380.6" y2="1892.2" stroke="#000" stroke-width="1.8"/>
<line x1="1430.8" y1="1384.5" x2="1430.8" y2="1396.3" stroke="#000" stroke-width="2.5"/>
<line x1="1430.8" y1="1899.0" x2="1430.8" y2="1887.2" stroke="#000" stroke-width="2.5"/>
<line x1="1480.9" y1="1384.5" x2="1480.9" y2="1391.3" stroke="#000" stroke-width="1.8"/>
<line x1="1480.9" y1="1899.0" x2="1480.9" y2="1892.2" stroke="#000" stroke-width="1.8"/>
<line x1="1531.1" y1="1384.5" x2="1531.1" y2="1391.3" stroke="#000" stroke-width="1.8"/>
<line x1="1531.1" y1="1899.0" x2="1531.1" y2="1892.2" stroke="#000" stroke-width="1.8"/>
<line x1="1581.2" y1="1384.5" x2="1581.2" y2="1391.3" stroke="#000" stroke-width="1.8"/>
<line x1="1581.2" y1="1899.0" x2="1581.2" y2="1892.2" stroke="#000" stroke-width="1.8"/>
<line x1="1631.3" y1="1384.5" x2="1631.3" y2="1396.3" stroke="#000" stroke-width="2.5"/>
<line x1="1631.3" y1="1899.0" x2="1631.3" y2="1887.2" stroke="#000" stroke-width="2.5"/>
<line x1="1681.5" y1="1384.5" x2="1681.5" y2="1391.3" stroke="#000" stroke-width="1.8"/>
<line x1="1681.5" y1="1899.0" x2="1681.5" y2="1892.2" stroke="#000" stroke-width="1.8"/>
<line x1="1731.6" y1="1384.5" x2="1731.6" y2="1391.3" stroke="#000" stroke-width="1.8"/>
<line x1="1731.6" y1="1899.0" x2="1731.6" y2="1892.2" stroke="#000" stroke-width="1.8"/>
<line x1="1781.8" y1="1384.5" x2="1781.8" y2="1391.3" stroke="#000" stroke-width="1.8"/>
<line x1="1781.8" y1="1899.0" x2="1781.8" y2="1892.2" stroke="#000" stroke-width="1.8"/>
<line x1="1831.9" y1="1384.5" x2="1831.9" y2="1396.3" stroke="#000" stroke-width="2.5"/>
<line x1="1831.9" y1="1899.0" x2="1831.9" y2="1887.2" stroke="#000" stroke-width="2.5"/>
<line x1="227.4" y1="1844.1" x2="240.4" y2="1844.1" stroke="#000" stroke-width="2.4"/>
<line x1="1831.9" y1="1844.1" x2="1818.9" y2="1844.1" stroke="#000" stroke-width="2.4"/>
<line x1="227.4" y1="1752.1" x2="240.4" y2="1752.1" stroke="#000" stroke-width="2.4"/>
<line x1="1831.9" y1="1752.1" x2="1818.9" y2="1752.1" stroke="#000" stroke-width="2.4"/>
<line x1="227.4" y1="1660.2" x2="240.4" y2="1660.2" stroke="#000" stroke-width="2.4"/>
<line x1="1831.9" y1="1660.2" x2="1818.9" y2="1660.2" stroke="#000" stroke-width="2.4"/>
<line x1="227.4" y1="1568.2" x2="240.4" y2="1568.2" stroke="#000" stroke-width="2.4"/>
<line x1="1831.9" y1="1568.2" x2="1818.9" y2="1568.2" stroke="#000" stroke-width="2.4"/>
<line x1="227.4" y1="1476.3" x2="240.4" y2="1476.3" stroke="#000" stroke-width="2.4"/>
<line x1="1831.9" y1="1476.3" x2="1818.9" y2="1476.3" stroke="#000" stroke-width="2.4"/>
<line x1="227.4" y1="1384.3" x2="240.4" y2="1384.3" stroke="#000" stroke-width="2.4"/>
<line x1="1831.9" y1="1384.3" x2="1818.9" y2="1384.3" stroke="#000" stroke-width="2.4"/>
<rect x="227.4" y="1384.5" width="1604.5" height="514.5" fill="none" stroke="#000" stroke-width="3.4"/>
<text x="1040.5" y="52.5" font-family='"Liberation Serif","DejaVu Serif",serif' font-size="46.4" fill="#000" textLength="230.8" lengthAdjust="spacingAndGlyphs">Differential</text>
<text x="1284.5" y="52.5" font-family='"Liberation Serif","DejaVu Serif",serif' font-size="46.4" fill="#000" textLength="152.1" lengthAdjust="spacingAndGlyphs">number</text>
<text x="1449.5" y="52.5" font-family='"Liberation Serif","DejaVu Serif",serif' font-size="46.4" fill="#000" textLength="73.3" lengthAdjust="spacingAndGlyphs">flux</text>
<text x="1536.0" y="52.5" font-family='"Liberation Serif","DejaVu Serif",serif' font-size="46.4" fill="#000" textLength="51.8" lengthAdjust="spacingAndGlyphs">[H</text>
<text x="1627.0" y="52.5" font-family='"Liberation Serif","DejaVu Serif",serif' font-size="46.4" fill="#000" textLength="55.7" lengthAdjust="spacingAndGlyphs">cm</text>
<text x="1743.5" y="52.5" font-family='"Liberation Serif","DejaVu Serif",serif' font-size="46.4" fill="#000" textLength="22.2" lengthAdjust="spacingAndGlyphs">s</text>
<text x="1822.5" y="52.5" font-family='"Liberation Serif","DejaVu Serif",serif' font-size="46.4" fill="#000" textLength="38.8" lengthAdjust="spacingAndGlyphs">sr</text>
<text x="1921.5" y="52.5" font-family='"Liberation Serif","DejaVu Serif",serif' font-size="46.4" fill="#000" textLength="53.9" lengthAdjust="spacingAndGlyphs">eV</text>
<text x="2022.0" y="52.5" font-family='"Liberation Serif","DejaVu Serif",serif' font-size="46.4" fill="#000" textLength="14.7" lengthAdjust="spacingAndGlyphs">]</text>
<text x="1586.4" y="38.0" font-family='"Liberation Serif","DejaVu Serif",serif' font-size="38.0" fill="#000" textLength="25.7" lengthAdjust="spacingAndGlyphs">+</text>
<text x="1685.5" y="35.2" font-family='"Liberation Serif","DejaVu Serif",serif' font-size="26.0" font-weight="bold" fill="#000" textLength="44.8" lengthAdjust="spacingAndGlyphs">−2</text>
<text x="1765.5" y="35.2" font-family='"Liberation Serif","DejaVu Serif",serif' font-size="26.0" font-weight="bold" fill="#000" textLength="44.3" lengthAdjust="spacingAndGlyphs">−1</text>
<text x="1863.0" y="35.2" font-family='"Liberation Serif","DejaVu Serif",serif' font-size="26.0" font-weight="bold" fill="#000" textLength="43.9" lengthAdjust="spacingAndGlyphs">−1</text>
<text x="1975.0" y="35.2" font-family='"Liberation Serif","DejaVu Serif",serif' font-size="26.0" font-weight="bold" fill="#000" textLength="45.4" lengthAdjust="spacingAndGlyphs">−1</text>
<text x="384.6" y="158.7" font-family='"Liberation Serif","DejaVu Serif",serif' font-size="44.5" fill="#000" textLength="255.2" lengthAdjust="spacingAndGlyphs">Mean energy</text>
<text x="242.0" y="246.4" font-family='"DejaVu Sans","Liberation Sans",sans-serif' font-size="56.5" fill="#000" textLength="79.9" lengthAdjust="spacingAndGlyphs">(a)</text>
<text x="242.5" y="1009.3" font-family='"DejaVu Sans","Liberation Sans",sans-serif' font-size="56.5" fill="#000" textLength="81.1" lengthAdjust="spacingAndGlyphs">(b)</text>
<text x="241.0" y="1449.8" font-family='"DejaVu Sans","Liberation Sans",sans-serif' font-size="56.5" fill="#000" textLength="80.9" lengthAdjust="spacingAndGlyphs">(c)</text>
<text x="132.0" y="369.8" font-family='"Liberation Serif","DejaVu Serif",serif' font-size="46.0" font-weight="bold" fill="#000" textLength="54.1" lengthAdjust="spacingAndGlyphs">10</text>
<text x="191.0" y="352.8" font-family='"Liberation Serif","DejaVu Serif",serif' font-size="31.0" font-weight="bold" fill="#000" textLength="16.9" lengthAdjust="spacingAndGlyphs">1</text>
<text x="132.0" y="665.8" font-family='"Liberation Serif","DejaVu Serif",serif' font-size="46.0" font-weight="bold" fill="#000" textLength="54.1" lengthAdjust="spacingAndGlyphs">10</text>
<text x="189.0" y="648.8" font-family='"Liberation Serif","DejaVu Serif",serif' font-size="31.0" font-weight="bold" fill="#000" textLength="20.6" lengthAdjust="spacingAndGlyphs">0</text>
<text x="110.1" y="535.0" font-family='"Liberation Serif","DejaVu Serif",serif' font-size="56.0" font-weight="bold" fill="#000" textLength="32.1" lengthAdjust="spacingAndGlyphs" transform="rotate(-90 110.1 535.0)">E</text>
<text x="110.1" y="486.5" font-family='"Liberation Serif","DejaVu Serif",serif' font-size="56.0" font-weight="bold" fill="#000" textLength="122.3" lengthAdjust="spacingAndGlyphs" transform="rotate(-90 110.1 486.5)">[keV]</text>
<text x="1940.5" y="821.1" font-family='"Liberation Serif","DejaVu Serif",serif' font-size="43.4" fill="#000" textLength="49.4" lengthAdjust="spacingAndGlyphs">10</text>
<text x="1989.2" y="804.9" font-family='"Liberation Serif","DejaVu Serif",serif' font-size="27.8" font-weight="bold" fill="#000" textLength="17.4" lengthAdjust="spacingAndGlyphs">0</text>
<text x="1940.5" y="508.4" font-family='"Liberation Serif","DejaVu Serif",serif' font-size="43.4" fill="#000" textLength="49.4" lengthAdjust="spacingAndGlyphs">10</text>
<text x="1991.0" y="492.2" font-family='"Liberation Serif","DejaVu Serif",serif' font-size="27.8" font-weight="bold" fill="#000" textLength="14.6" lengthAdjust="spacingAndGlyphs">1</text>
<text x="1940.5" y="195.6" font-family='"Liberation Serif","DejaVu Serif",serif' font-size="43.4" fill="#000" textLength="49.4" lengthAdjust="spacingAndGlyphs">10</text>
<text x="1989.2" y="179.4" font-family='"Liberation Serif","DejaVu Serif",serif' font-size="27.8" font-weight="bold" fill="#000" textLength="17.4" lengthAdjust="spacingAndGlyphs">2</text>
<text x="166.8" y="859.1" font-family='"Liberation Serif","DejaVu Serif",serif' font-size="47.8" font-weight="bold" fill="#000" textLength="114.5" lengthAdjust="spacingAndGlyphs">1920</text>
<text x="367.6" y="859.1" font-family='"Liberation Serif","DejaVu Serif",serif' font-size="47.8" font-weight="bold" fill="#000" textLength="113.5" lengthAdjust="spacingAndGlyphs">1940</text>
<text x="567.4" y="859.1" font-family='"Liberation Serif","DejaVu Serif",serif' font-size="47.8" font-weight="bold" fill="#000" textLength="114.5" lengthAdjust="spacingAndGlyphs">1960</text>
<text x="768.2" y="859.1" font-family='"Liberation Serif","DejaVu Serif",serif' font-size="47.8" font-weight="bold" fill="#000" textLength="114.5" lengthAdjust="spacingAndGlyphs">1980</text>
<text x="970.5" y="859.1" font-family='"Liberation Serif","DejaVu Serif",serif' font-size="47.8" font-weight="bold" fill="#000" textLength="114.1" lengthAdjust="spacingAndGlyphs">2000</text>
<text x="1171.3" y="859.1" font-family='"Liberation Serif","DejaVu Serif",serif' font-size="47.8" font-weight="bold" fill="#000" textLength="113.1" lengthAdjust="spacingAndGlyphs">2020</text>
<text x="1372.1" y="859.1" font-family='"Liberation Serif","DejaVu Serif",serif' font-size="47.8" font-weight="bold" fill="#000" textLength="113.1" lengthAdjust="spacingAndGlyphs">2040</text>
<text x="1572.9" y="859.1" font-family='"Liberation Serif","DejaVu Serif",serif' font-size="47.8" font-weight="bold" fill="#000" textLength="113.1" lengthAdjust="spacingAndGlyphs">2060</text>
<text x="1772.7" y="859.1" font-family='"Liberation Serif","DejaVu Serif",serif' font-size="47.8" font-weight="bold" fill="#000" textLength="114.1" lengthAdjust="spacingAndGlyphs">2080</text>
<text x="166.8" y="1301.2" font-family='"Liberation Serif","DejaVu Serif",serif' font-size="47.8" font-weight="bold" fill="#000" textLength="114.5" lengthAdjust="spacingAndGlyphs">1920</text>
<text x="367.6" y="1301.2" font-family='"Liberation Serif","DejaVu Serif",serif' font-size="47.8" font-weight="bold" fill="#000" textLength="113.5" lengthAdjust="spacingAndGlyphs">1940</text>
<text x="567.4" y="1301.2" font-family='"Liberation Serif","DejaVu Serif",serif' font-size="47.8" font-weight="bold" fill="#000" textLength="114.5" lengthAdjust="spacingAndGlyphs">1960</text>
<text x="768.2" y="1301.2" font-family='"Liberation Serif","DejaVu Serif",serif' font-size="47.8" font-weight="bold" fill="#000" textLength="114.5" lengthAdjust="spacingAndGlyphs">1980</text>
<text x="970.5" y="1301.2" font-family='"Liberation Serif","DejaVu Serif",serif' font-size="47.8" font-weight="bold" fill="#000" textLength="114.1" lengthAdjust="spacingAndGlyphs">2000</text>
<text x="1171.3" y="1301.2" font-family='"Liberation Serif","DejaVu Serif",serif' font-size="47.8" font-weight="bold" fill="#000" textLength="113.1" lengthAdjust="spacingAndGlyphs">2020</text>
<text x="1372.1" y="1301.2" font-family='"Liberation Serif","DejaVu Serif",serif' font-size="47.8" font-weight="bold" fill="#000" textLength="113.1" lengthAdjust="spacingAndGlyphs">2040</text>
<text x="1572.9" y="1301.2" font-family='"Liberation Serif","DejaVu Serif",serif' font-size="47.8" font-weight="bold" fill="#000" textLength="113.1" lengthAdjust="spacingAndGlyphs">2060</text>
<text x="1772.7" y="1301.2" font-family='"Liberation Serif","DejaVu Serif",serif' font-size="47.8" font-weight="bold" fill="#000" textLength="114.1" lengthAdjust="spacingAndGlyphs">2080</text>
<text x="166.8" y="1948.8" font-family='"Liberation Serif","DejaVu Serif",serif' font-size="47.8" font-weight="bold" fill="#000" textLength="114.5" lengthAdjust="spacingAndGlyphs">1920</text>
<text x="367.6" y="1948.8" font-family='"Liberation Serif","DejaVu Serif",serif' font-size="47.8" font-weight="bold" fill="#000" textLength="113.5" lengthAdjust="spacingAndGlyphs">1940</text>
<text x="567.4" y="1948.8" font-family='"Liberation Serif","DejaVu Serif",serif' font-size="47.8" font-weight="bold" fill="#000" textLength="114.5" lengthAdjust="spacingAndGlyphs">1960</text>
<text x="768.2" y="1948.8" font-family='"Liberation Serif","DejaVu Serif",serif' font-size="47.8" font-weight="bold" fill="#000" textLength="114.5" lengthAdjust="spacingAndGlyphs">1980</text>
<text x="970.5" y="1948.8" font-family='"Liberation Serif","DejaVu Serif",serif' font-size="47.8" font-weight="bold" fill="#000" textLength="114.1" lengthAdjust="spacingAndGlyphs">2000</text>
<text x="1171.3" y="1948.8" font-family='"Liberation Serif","DejaVu Serif",serif' font-size="47.8" font-weight="bold" fill="#000" textLength="113.1" lengthAdjust="spacingAndGlyphs">2020</text>
<text x="1372.1" y="1948.8" font-family='"Liberation Serif","DejaVu Serif",serif' font-size="47.8" font-weight="bold" fill="#000" textLength="113.1" lengthAdjust="spacingAndGlyphs">2040</text>
<text x="1572.9" y="1948.8" font-family='"Liberation Serif","DejaVu Serif",serif' font-size="47.8" font-weight="bold" fill="#000" textLength="113.1" lengthAdjust="spacingAndGlyphs">2060</text>
<text x="1772.7" y="1948.8" font-family='"Liberation Serif","DejaVu Serif",serif' font-size="47.8" font-weight="bold" fill="#000" textLength="114.1" lengthAdjust="spacingAndGlyphs">2080</text>
<text x="132.0" y="1263.0" font-family='"Liberation Serif","DejaVu Serif",serif' font-size="46.0" font-weight="bold" fill="#0505a6" textLength="54.1" lengthAdjust="spacingAndGlyphs">10</text>
<text x="189.0" y="1246.0" font-family='"Liberation Serif","DejaVu Serif",serif' font-size="31.0" font-weight="bold" fill="#0505a6" textLength="20.2" lengthAdjust="spacingAndGlyphs">6</text>
<text x="132.0" y="1128.8" font-family='"Liberation Serif","DejaVu Serif",serif' font-size="46.0" font-weight="bold" fill="#0505a6" textLength="54.1" lengthAdjust="spacingAndGlyphs">10</text>
<text x="188.0" y="1111.8" font-family='"Liberation Serif","DejaVu Serif",serif' font-size="31.0" font-weight="bold" fill="#0505a6" textLength="21.7" lengthAdjust="spacingAndGlyphs">7</text>
<text x="132.0" y="994.6" font-family='"Liberation Serif","DejaVu Serif",serif' font-size="46.0" font-weight="bold" fill="#0505a6" textLength="54.1" lengthAdjust="spacingAndGlyphs">10</text>
<text x="189.0" y="977.6" font-family='"Liberation Serif","DejaVu Serif",serif' font-size="31.0" font-weight="bold" fill="#0505a6" textLength="20.2" lengthAdjust="spacingAndGlyphs">8</text>
<text x="1845.4" y="1261.8" font-family='"Liberation Serif","DejaVu Serif",serif' font-size="44.0" font-weight="bold" fill="#ab0000" textLength="122.9" lengthAdjust="spacingAndGlyphs">−200</text>
<text x="1846.4" y="1184.8" font-family='"Liberation Serif","DejaVu Serif",serif' font-size="44.0" font-weight="bold" fill="#ab0000" textLength="25.1" lengthAdjust="spacingAndGlyphs">0</text>
<text x="1846.4" y="1107.8" font-family='"Liberation Serif","DejaVu Serif",serif' font-size="44.0" font-weight="bold" fill="#ab0000" textLength="81.6" lengthAdjust="spacingAndGlyphs">200</text>
<text x="1847.4" y="1030.8" font-family='"Liberation Serif","DejaVu Serif",serif' font-size="44.0" font-weight="bold" fill="#ab0000" textLength="81.1" lengthAdjust="spacingAndGlyphs">400</text>
<text x="1846.4" y="953.8" font-family='"Liberation Serif","DejaVu Serif",serif' font-size="44.0" font-weight="bold" fill="#ab0000" textLength="82.3" lengthAdjust="spacingAndGlyphs">600</text>
<text x="54.0" y="1328.0" font-family='"Liberation Serif","DejaVu Serif",serif' font-size="55.0" fill="#0505a6" stroke="#0505a6" stroke-width="0.7" textLength="188.9" lengthAdjust="spacingAndGlyphs" transform="rotate(-90 54.0 1328.0)">Integral</text>
<text x="54.0" y="1126.5" font-family='"Liberation Serif","DejaVu Serif",serif' font-size="55.0" fill="#0505a6" stroke="#0505a6" stroke-width="0.7" textLength="155.5" lengthAdjust="spacingAndGlyphs" transform="rotate(-90 54.0 1126.5)">energy</text>
<text x="54.0" y="957.0" font-family='"Liberation Serif","DejaVu Serif",serif' font-size="55.0" fill="#0505a6" stroke="#0505a6" stroke-width="0.7" textLength="89.6" lengthAdjust="spacingAndGlyphs" transform="rotate(-90 54.0 957.0)">flux</text>
<text x="110.3" y="1337.0" font-family='"Liberation Serif","DejaVu Serif",serif' font-size="55.0" fill="#0505a6" stroke="#0505a6" stroke-width="0.7" textLength="106.8" lengthAdjust="spacingAndGlyphs" transform="rotate(-90 110.3 1337.0)">[keV</text>
<text x="110.3" y="1212.5" font-family='"Liberation Serif","DejaVu Serif",serif' font-size="55.0" fill="#0505a6" stroke="#0505a6" stroke-width="0.7" textLength="59.9" lengthAdjust="spacingAndGlyphs" transform="rotate(-90 110.3 1212.5)">cm</text>
<text x="110.3" y="1077.0" font-family='"Liberation Serif","DejaVu Serif",serif' font-size="55.0" fill="#0505a6" stroke="#0505a6" stroke-width="0.7" textLength="22.5" lengthAdjust="spacingAndGlyphs" transform="rotate(-90 110.3 1077.0)">s</text>
<text x="110.3" y="982.0" font-family='"Liberation Serif","DejaVu Serif",serif' font-size="55.0" fill="#0505a6" stroke="#0505a6" stroke-width="0.7" textLength="41.3" lengthAdjust="spacingAndGlyphs" transform="rotate(-90 110.3 982.0)">sr</text>
<text x="110.3" y="880.5" font-family='"Liberation Serif","DejaVu Serif",serif' font-size="55.0" fill="#0505a6" stroke="#0505a6" stroke-width="0.7" textLength="15.7" lengthAdjust="spacingAndGlyphs" transform="rotate(-90 110.3 880.5)">]</text>
<text x="90.8" y="1145.0" font-family='"Liberation Serif","DejaVu Serif",serif' font-size="31.0" font-weight="bold" fill="#0505a6" textLength="52.5" lengthAdjust="spacingAndGlyphs" transform="rotate(-90 90.8 1145.0)">−2</text>
<text x="90.8" y="1052.0" font-family='"Liberation Serif","DejaVu Serif",serif' font-size="31.0" font-weight="bold" fill="#0505a6" textLength="53.6" lengthAdjust="spacingAndGlyphs" transform="rotate(-90 90.8 1052.0)">−1</text>
<text x="90.8" y="934.5" font-family='"Liberation Serif","DejaVu Serif",serif' font-size="31.0" font-weight="bold" fill="#0505a6" textLength="52.7" lengthAdjust="spacingAndGlyphs" transform="rotate(-90 90.8 934.5)">−1</text>
<text x="2033.4" y="1234.0" font-family='"Liberation Serif","DejaVu Serif",serif' font-size="54.0" font-weight="bold" fill="#ab0000" textLength="37.4" lengthAdjust="spacingAndGlyphs" transform="rotate(-90 2033.4 1234.0)">V</text>
<text x="2033.4" y="1159.5" font-family='"Liberation Serif","DejaVu Serif",serif' font-size="54.0" font-weight="bold" fill="#ab0000" textLength="87.5" lengthAdjust="spacingAndGlyphs" transform="rotate(-90 2033.4 1159.5)">[km</text>
<text x="2033.4" y="1053.5" font-family='"Liberation Serif","DejaVu Serif",serif' font-size="54.0" font-weight="bold" fill="#ab0000" textLength="18.2" lengthAdjust="spacingAndGlyphs" transform="rotate(-90 2033.4 1053.5)">s</text>
<text x="2033.4" y="974.0" font-family='"Liberation Serif","DejaVu Serif",serif' font-size="54.0" font-weight="bold" fill="#ab0000" textLength="16.8" lengthAdjust="spacingAndGlyphs" transform="rotate(-90 2033.4 974.0)">]</text>
<text x="2014.6" y="1030.0" font-family='"Liberation Serif","DejaVu Serif",serif' font-size="31.0" font-weight="bold" fill="#ab0000" textLength="54.7" lengthAdjust="spacingAndGlyphs" transform="rotate(-90 2014.6 1030.0)">−1</text>
<text x="2041.5" y="1198.5" font-family='"DejaVu Sans","Liberation Sans",sans-serif' font-size="36.0" fill="#ab0000" textLength="26.3" lengthAdjust="spacingAndGlyphs" transform="rotate(-90 2041.5 1198.5)">∥</text>
<text x="184.5" y="1856.6" font-family='"Liberation Serif","DejaVu Serif",serif' font-size="44.5" font-weight="bold" fill="#000" textLength="25.5" lengthAdjust="spacingAndGlyphs">0</text>
<text x="126.5" y="1764.6" font-family='"Liberation Serif","DejaVu Serif",serif' font-size="44.5" font-weight="bold" fill="#000" textLength="83.7" lengthAdjust="spacingAndGlyphs">500</text>
<text x="97.0" y="1672.7" font-family='"Liberation Serif","DejaVu Serif",serif' font-size="44.5" font-weight="bold" fill="#000" textLength="113.8" lengthAdjust="spacingAndGlyphs">1000</text>
<text x="97.0" y="1580.8" font-family='"Liberation Serif","DejaVu Serif",serif' font-size="44.5" font-weight="bold" fill="#000" textLength="113.8" lengthAdjust="spacingAndGlyphs">1500</text>
<text x="100.0" y="1488.8" font-family='"Liberation Serif","DejaVu Serif",serif' font-size="44.5" font-weight="bold" fill="#000" textLength="110.1" lengthAdjust="spacingAndGlyphs">2000</text>
<text x="100.0" y="1396.8" font-family='"Liberation Serif","DejaVu Serif",serif' font-size="44.5" font-weight="bold" fill="#000" textLength="110.1" lengthAdjust="spacingAndGlyphs">2500</text>
<text x="66.0" y="1779.0" font-family='"Liberation Serif","DejaVu Serif",serif' font-size="54.0" font-weight="bold" fill="#000" textLength="37.4" lengthAdjust="spacingAndGlyphs" transform="rotate(-90 66.0 1779.0)">V</text>
<text x="66.0" y="1703.5" font-family='"Liberation Serif","DejaVu Serif",serif' font-size="54.0" font-weight="bold" fill="#000" textLength="87.7" lengthAdjust="spacingAndGlyphs" transform="rotate(-90 66.0 1703.5)">[km</text>
<text x="66.0" y="1597.5" font-family='"Liberation Serif","DejaVu Serif",serif' font-size="54.0" font-weight="bold" fill="#000" textLength="18.2" lengthAdjust="spacingAndGlyphs" transform="rotate(-90 66.0 1597.5)">s</text>
<text x="66.0" y="1518.0" font-family='"Liberation Serif","DejaVu Serif",serif' font-size="54.0" font-weight="bold" fill="#000" textLength="16.1" lengthAdjust="spacingAndGlyphs" transform="rotate(-90 66.0 1518.0)">]</text>
<text x="47.0" y="1574.0" font-family='"Liberation Serif","DejaVu Serif",serif' font-size="31.0" font-weight="bold" fill="#000" textLength="54.6" lengthAdjust="spacingAndGlyphs" transform="rotate(-90 47.0 1574.0)">−1</text>
<text x="74.5" y="1743.0" font-family='"DejaVu Sans","Liberation Sans",sans-serif' font-size="36.0" fill="#000" textLength="25.2" lengthAdjust="spacingAndGlyphs" transform="rotate(-90 74.5 1743.0)">∥</text>
<text x="934.0" y="2013.9" font-family='"Liberation Serif","DejaVu Serif",serif' font-size="53.5" fill="#000" textLength="118.8" lengthAdjust="spacingAndGlyphs">Time</text>
<text x="1065.0" y="2013.9" font-family='"Liberation Serif","DejaVu Serif",serif' font-size="53.5" fill="#000" textLength="59.7" lengthAdjust="spacingAndGlyphs">[s]</text>
</svg>
</body></html>
